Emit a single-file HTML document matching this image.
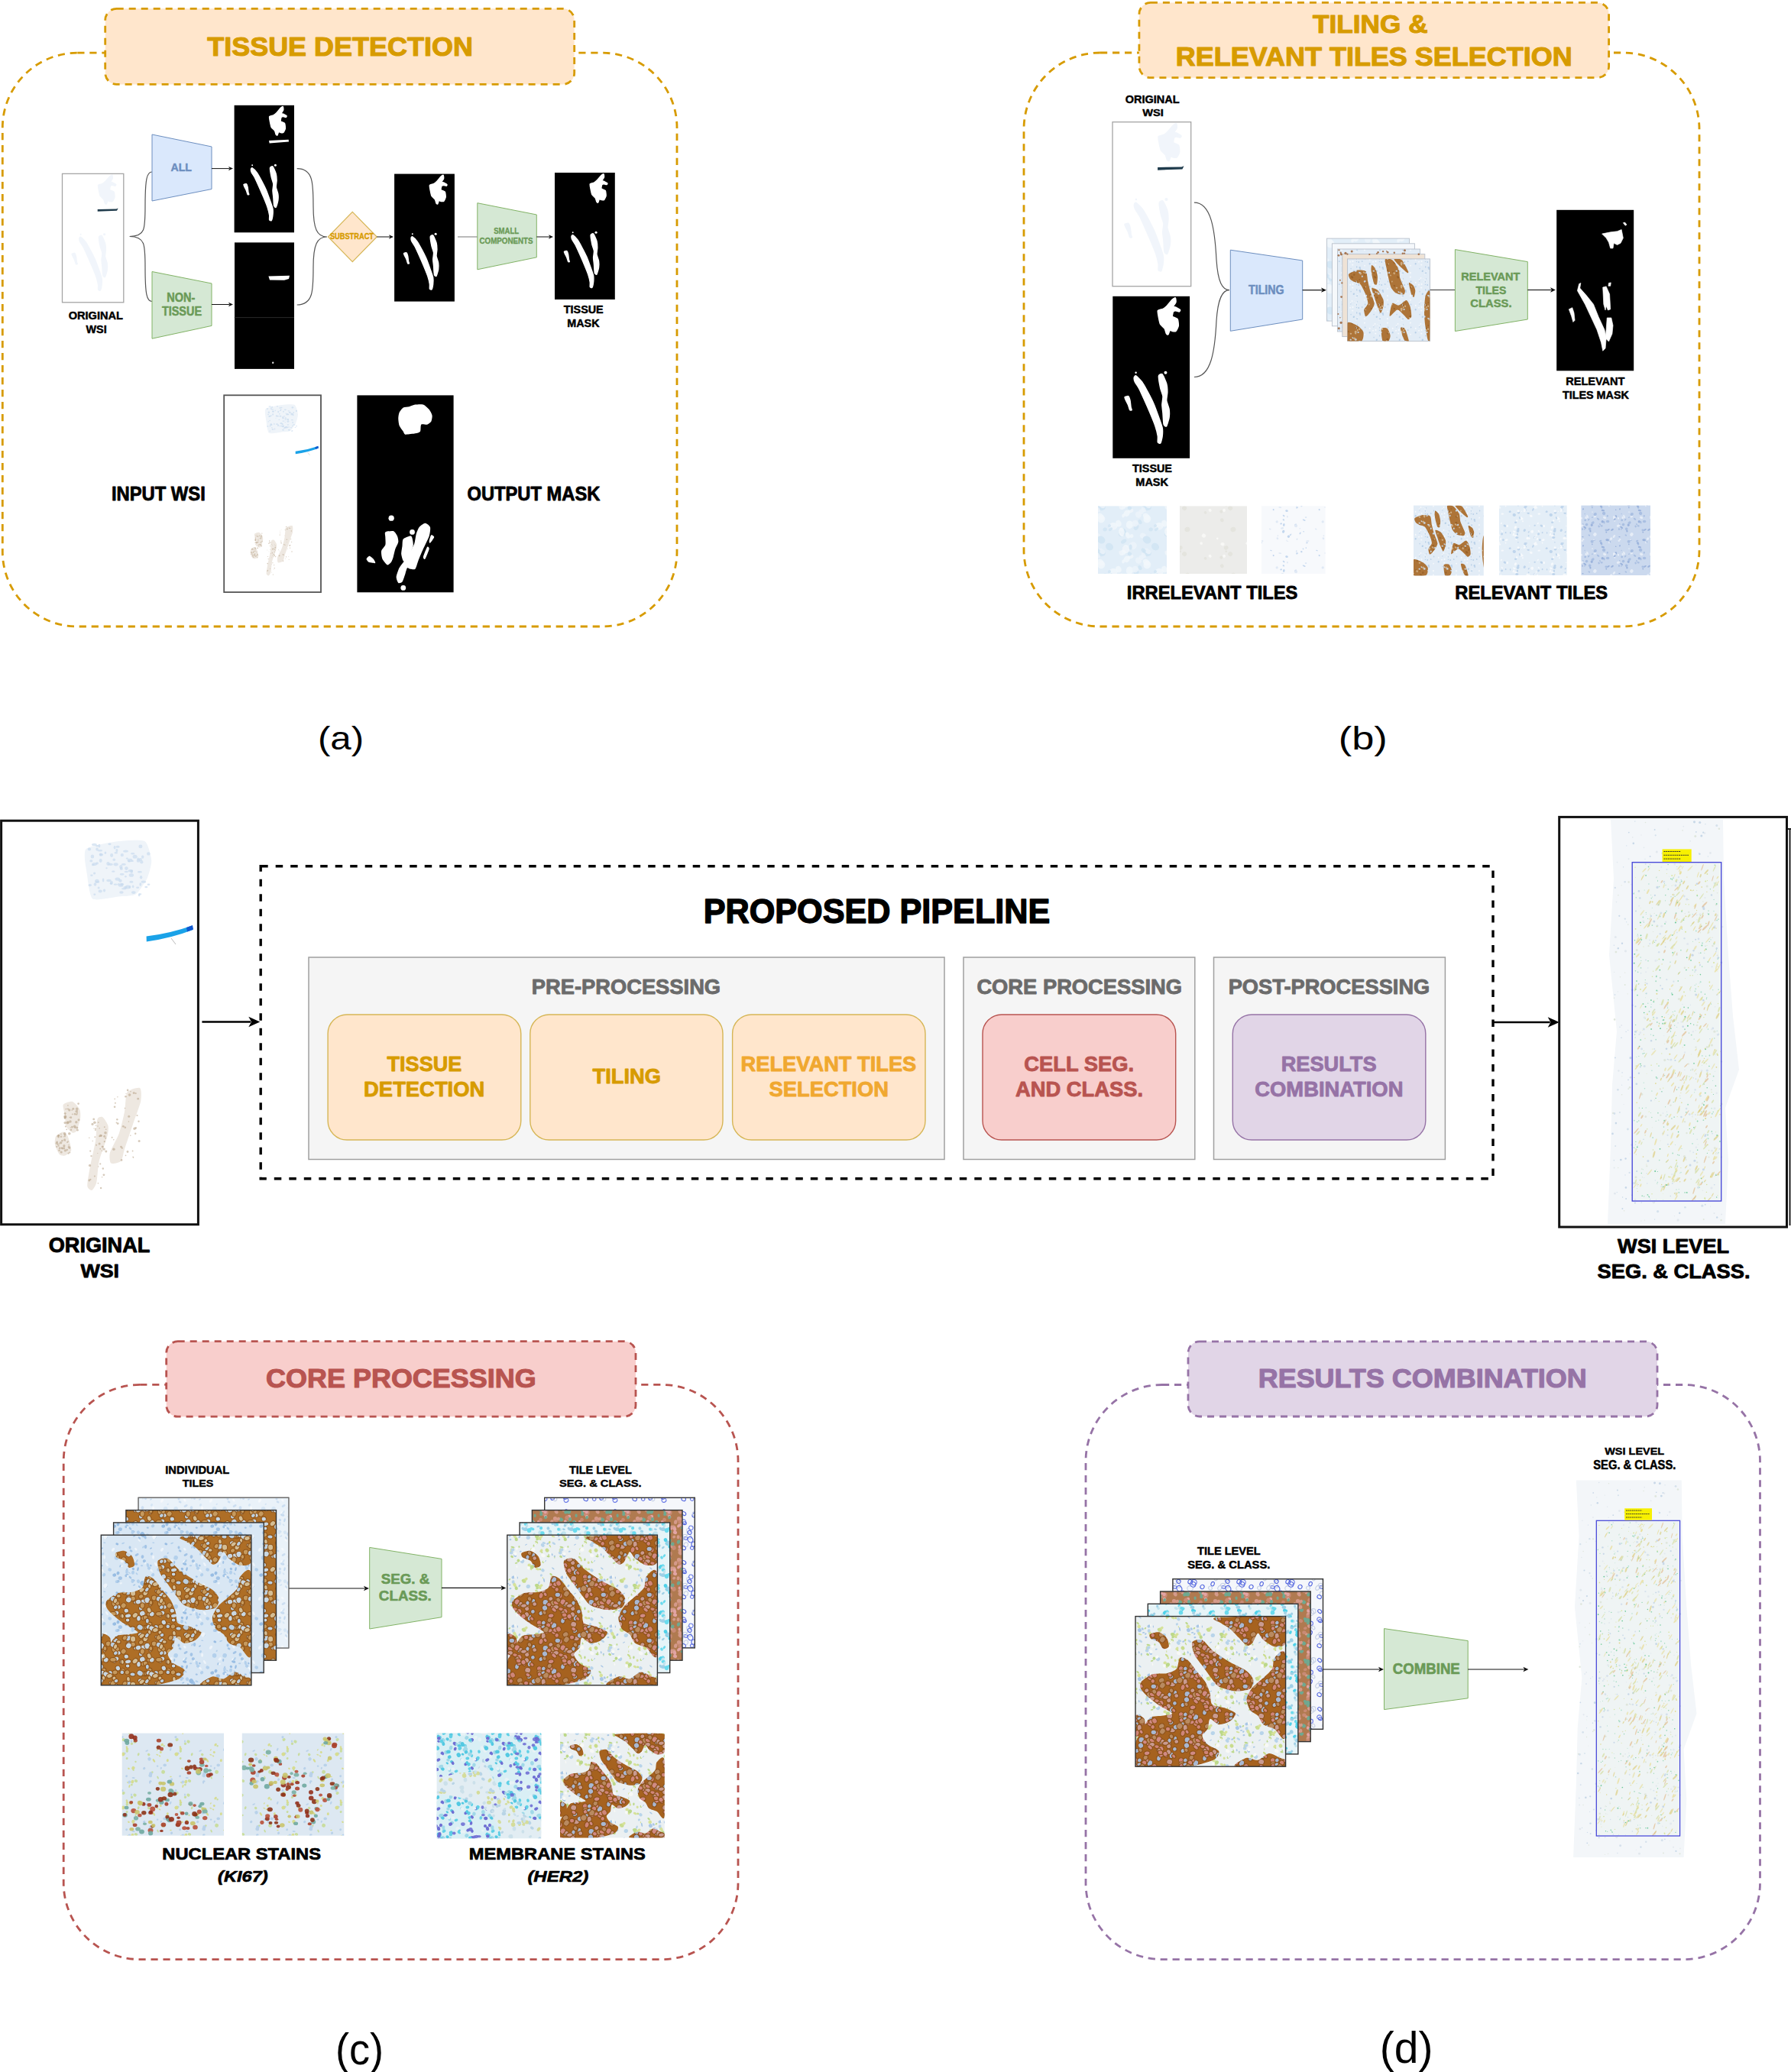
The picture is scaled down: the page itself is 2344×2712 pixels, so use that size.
<!DOCTYPE html>
<html><head><meta charset="utf-8"><style>
html,body{margin:0;padding:0;background:#fff;}
svg{display:block;font-family:"Liberation Sans",sans-serif;}
</style></head><body>
<svg width="2344" height="2712" viewBox="0 0 2344 2712">
<defs><pattern id="pB" width="64" height="64" patternUnits="userSpaceOnUse"><rect width="64" height="64" fill="#d9e7f4"/><ellipse cx="8.6" cy="54.2" rx="2.6" ry="1.5" transform="rotate(89 8.6 54.2)" fill="#eef4fa" opacity="1.0"/><ellipse cx="30.2" cy="24.3" rx="1.7" ry="1.2" transform="rotate(161 30.2 24.3)" fill="#eef4fa" opacity="1.0"/><ellipse cx="27.7" cy="48.8" rx="1.4" ry="0.9" transform="rotate(130 27.7 48.8)" fill="#b3d0ec" opacity="1.0"/><ellipse cx="37.8" cy="6.5" rx="1.9" ry="0.8" transform="rotate(117 37.8 6.5)" fill="#a3c4e6" opacity="1.0"/><ellipse cx="-3.9" cy="24.4" rx="1.7" ry="1.1" transform="rotate(5 -3.9 24.4)" fill="#b3d0ec" opacity="1.0"/><ellipse cx="60.1" cy="24.4" rx="1.7" ry="1.1" transform="rotate(5 60.1 24.4)" fill="#b3d0ec" opacity="1.0"/><ellipse cx="48.9" cy="-3.9" rx="2.3" ry="1.4" transform="rotate(122 48.9 -3.9)" fill="#eef4fa" opacity="1.0"/><ellipse cx="48.9" cy="60.1" rx="2.3" ry="1.4" transform="rotate(122 48.9 60.1)" fill="#eef4fa" opacity="1.0"/><ellipse cx="-3.1" cy="-4.7" rx="2.1" ry="2.0" transform="rotate(166 -3.1 -4.7)" fill="#a3c4e6" opacity="1.0"/><ellipse cx="-3.1" cy="59.3" rx="2.1" ry="2.0" transform="rotate(166 -3.1 59.3)" fill="#a3c4e6" opacity="1.0"/><ellipse cx="60.9" cy="-4.7" rx="2.1" ry="2.0" transform="rotate(166 60.9 -4.7)" fill="#a3c4e6" opacity="1.0"/><ellipse cx="60.9" cy="59.3" rx="2.1" ry="2.0" transform="rotate(166 60.9 59.3)" fill="#a3c4e6" opacity="1.0"/><ellipse cx="11.9" cy="-0.5" rx="2.8" ry="1.3" transform="rotate(60 11.9 -0.5)" fill="#eef4fa" opacity="1.0"/><ellipse cx="11.9" cy="63.5" rx="2.8" ry="1.3" transform="rotate(60 11.9 63.5)" fill="#eef4fa" opacity="1.0"/><ellipse cx="32.5" cy="58.3" rx="1.7" ry="1.0" transform="rotate(175 32.5 58.3)" fill="#eef4fa" opacity="1.0"/><ellipse cx="54.2" cy="32.3" rx="2.3" ry="1.0" transform="rotate(44 54.2 32.3)" fill="#eef4fa" opacity="1.0"/><ellipse cx="26.5" cy="11.1" rx="2.3" ry="1.9" transform="rotate(121 26.5 11.1)" fill="#98bde3" opacity="1.0"/><ellipse cx="5.5" cy="42.5" rx="1.6" ry="0.8" transform="rotate(151 5.5 42.5)" fill="#98bde3" opacity="1.0"/><ellipse cx="31.3" cy="1.9" rx="1.5" ry="1.2" transform="rotate(177 31.3 1.9)" fill="#eef4fa" opacity="1.0"/><ellipse cx="31.3" cy="65.9" rx="1.5" ry="1.2" transform="rotate(177 31.3 65.9)" fill="#eef4fa" opacity="1.0"/><ellipse cx="41.4" cy="10.8" rx="1.8" ry="0.7" transform="rotate(36 41.4 10.8)" fill="#b3d0ec" opacity="1.0"/><ellipse cx="25.9" cy="22.0" rx="2.8" ry="1.7" transform="rotate(164 25.9 22.0)" fill="#a3c4e6" opacity="1.0"/><ellipse cx="24.6" cy="54.8" rx="2.9" ry="2.8" transform="rotate(92 24.6 54.8)" fill="#b3d0ec" opacity="1.0"/><ellipse cx="33.2" cy="35.9" rx="2.1" ry="0.9" transform="rotate(157 33.2 35.9)" fill="#b3d0ec" opacity="1.0"/><ellipse cx="-3.8" cy="26.5" rx="2.7" ry="1.8" transform="rotate(0 -3.8 26.5)" fill="#98bde3" opacity="1.0"/><ellipse cx="60.2" cy="26.5" rx="2.7" ry="1.8" transform="rotate(0 60.2 26.5)" fill="#98bde3" opacity="1.0"/><ellipse cx="29.3" cy="1.8" rx="1.8" ry="0.9" transform="rotate(105 29.3 1.8)" fill="#a3c4e6" opacity="1.0"/><ellipse cx="29.3" cy="65.8" rx="1.8" ry="0.9" transform="rotate(105 29.3 65.8)" fill="#a3c4e6" opacity="1.0"/><ellipse cx="51.1" cy="51.0" rx="2.7" ry="1.5" transform="rotate(152 51.1 51.0)" fill="#a3c4e6" opacity="1.0"/><ellipse cx="5.3" cy="1.1" rx="1.4" ry="1.2" transform="rotate(45 5.3 1.1)" fill="#a3c4e6" opacity="1.0"/><ellipse cx="5.3" cy="65.1" rx="1.4" ry="1.2" transform="rotate(45 5.3 65.1)" fill="#a3c4e6" opacity="1.0"/><ellipse cx="51.0" cy="11.8" rx="1.9" ry="0.9" transform="rotate(46 51.0 11.8)" fill="#b3d0ec" opacity="1.0"/><ellipse cx="42.0" cy="41.5" rx="1.9" ry="1.5" transform="rotate(89 42.0 41.5)" fill="#a3c4e6" opacity="1.0"/><ellipse cx="1.5" cy="24.7" rx="2.1" ry="1.1" transform="rotate(20 1.5 24.7)" fill="#b3d0ec" opacity="1.0"/><ellipse cx="65.5" cy="24.7" rx="2.1" ry="1.1" transform="rotate(20 65.5 24.7)" fill="#b3d0ec" opacity="1.0"/><ellipse cx="-2.2" cy="27.6" rx="3.0" ry="1.6" transform="rotate(72 -2.2 27.6)" fill="#a3c4e6" opacity="1.0"/><ellipse cx="61.8" cy="27.6" rx="3.0" ry="1.6" transform="rotate(72 61.8 27.6)" fill="#a3c4e6" opacity="1.0"/><ellipse cx="46.0" cy="10.3" rx="2.5" ry="2.0" transform="rotate(98 46.0 10.3)" fill="#b3d0ec" opacity="1.0"/><ellipse cx="-1.5" cy="40.4" rx="2.5" ry="1.7" transform="rotate(94 -1.5 40.4)" fill="#a3c4e6" opacity="1.0"/><ellipse cx="62.5" cy="40.4" rx="2.5" ry="1.7" transform="rotate(94 62.5 40.4)" fill="#a3c4e6" opacity="1.0"/><ellipse cx="25.3" cy="36.9" rx="1.9" ry="1.5" transform="rotate(11 25.3 36.9)" fill="#98bde3" opacity="1.0"/><ellipse cx="8.0" cy="13.6" rx="1.5" ry="0.7" transform="rotate(14 8.0 13.6)" fill="#98bde3" opacity="1.0"/><ellipse cx="47.6" cy="26.6" rx="1.8" ry="0.7" transform="rotate(158 47.6 26.6)" fill="#a3c4e6" opacity="1.0"/><ellipse cx="37.8" cy="13.9" rx="2.8" ry="1.9" transform="rotate(149 37.8 13.9)" fill="#a3c4e6" opacity="1.0"/><ellipse cx="24.2" cy="22.2" rx="1.7" ry="1.4" transform="rotate(78 24.2 22.2)" fill="#b3d0ec" opacity="1.0"/><ellipse cx="31.5" cy="-4.0" rx="2.0" ry="1.4" transform="rotate(3 31.5 -4.0)" fill="#eef4fa" opacity="1.0"/><ellipse cx="31.5" cy="60.0" rx="2.0" ry="1.4" transform="rotate(3 31.5 60.0)" fill="#eef4fa" opacity="1.0"/><ellipse cx="57.6" cy="1.2" rx="1.7" ry="1.0" transform="rotate(178 57.6 1.2)" fill="#b3d0ec" opacity="1.0"/><ellipse cx="57.6" cy="65.2" rx="1.7" ry="1.0" transform="rotate(178 57.6 65.2)" fill="#b3d0ec" opacity="1.0"/><ellipse cx="21.7" cy="13.6" rx="2.5" ry="2.2" transform="rotate(168 21.7 13.6)" fill="#98bde3" opacity="1.0"/><ellipse cx="58.5" cy="53.6" rx="2.3" ry="1.9" transform="rotate(96 58.5 53.6)" fill="#a3c4e6" opacity="1.0"/><ellipse cx="46.4" cy="5.4" rx="1.7" ry="1.6" transform="rotate(38 46.4 5.4)" fill="#98bde3" opacity="1.0"/><ellipse cx="38.4" cy="53.8" rx="2.0" ry="1.2" transform="rotate(52 38.4 53.8)" fill="#eef4fa" opacity="1.0"/><ellipse cx="8.7" cy="35.3" rx="1.6" ry="0.7" transform="rotate(13 8.7 35.3)" fill="#b3d0ec" opacity="1.0"/><ellipse cx="53.0" cy="21.8" rx="2.4" ry="2.1" transform="rotate(68 53.0 21.8)" fill="#b3d0ec" opacity="1.0"/><ellipse cx="36.2" cy="-3.1" rx="2.0" ry="1.1" transform="rotate(96 36.2 -3.1)" fill="#a3c4e6" opacity="1.0"/><ellipse cx="36.2" cy="60.9" rx="2.0" ry="1.1" transform="rotate(96 36.2 60.9)" fill="#a3c4e6" opacity="1.0"/><ellipse cx="29.3" cy="17.7" rx="2.7" ry="2.4" transform="rotate(2 29.3 17.7)" fill="#a3c4e6" opacity="1.0"/><ellipse cx="5.9" cy="7.4" rx="2.8" ry="1.2" transform="rotate(43 5.9 7.4)" fill="#eef4fa" opacity="1.0"/><ellipse cx="10.4" cy="28.9" rx="2.5" ry="1.2" transform="rotate(152 10.4 28.9)" fill="#eef4fa" opacity="1.0"/><ellipse cx="58.3" cy="24.2" rx="3.0" ry="2.8" transform="rotate(53 58.3 24.2)" fill="#98bde3" opacity="1.0"/><ellipse cx="45.5" cy="20.1" rx="1.7" ry="1.0" transform="rotate(5 45.5 20.1)" fill="#98bde3" opacity="1.0"/><ellipse cx="46.5" cy="20.5" rx="2.0" ry="1.3" transform="rotate(12 46.5 20.5)" fill="#98bde3" opacity="1.0"/><ellipse cx="-1.9" cy="-1.9" rx="1.6" ry="0.8" transform="rotate(111 -1.9 -1.9)" fill="#eef4fa" opacity="1.0"/><ellipse cx="-1.9" cy="62.1" rx="1.6" ry="0.8" transform="rotate(111 -1.9 62.1)" fill="#eef4fa" opacity="1.0"/><ellipse cx="62.1" cy="-1.9" rx="1.6" ry="0.8" transform="rotate(111 62.1 -1.9)" fill="#eef4fa" opacity="1.0"/><ellipse cx="62.1" cy="62.1" rx="1.6" ry="0.8" transform="rotate(111 62.1 62.1)" fill="#eef4fa" opacity="1.0"/><ellipse cx="42.4" cy="16.6" rx="2.3" ry="1.3" transform="rotate(44 42.4 16.6)" fill="#a3c4e6" opacity="1.0"/><ellipse cx="52.5" cy="5.7" rx="2.6" ry="1.2" transform="rotate(103 52.5 5.7)" fill="#98bde3" opacity="1.0"/><ellipse cx="-3.8" cy="25.0" rx="1.9" ry="1.1" transform="rotate(57 -3.8 25.0)" fill="#98bde3" opacity="1.0"/><ellipse cx="60.2" cy="25.0" rx="1.9" ry="1.1" transform="rotate(57 60.2 25.0)" fill="#98bde3" opacity="1.0"/><ellipse cx="15.7" cy="6.5" rx="2.4" ry="2.1" transform="rotate(17 15.7 6.5)" fill="#b3d0ec" opacity="1.0"/><ellipse cx="1.3" cy="15.6" rx="1.5" ry="1.1" transform="rotate(13 1.3 15.6)" fill="#a3c4e6" opacity="1.0"/><ellipse cx="65.3" cy="15.6" rx="1.5" ry="1.1" transform="rotate(13 65.3 15.6)" fill="#a3c4e6" opacity="1.0"/><ellipse cx="1.4" cy="0.6" rx="2.6" ry="1.6" transform="rotate(84 1.4 0.6)" fill="#b3d0ec" opacity="1.0"/><ellipse cx="1.4" cy="64.6" rx="2.6" ry="1.6" transform="rotate(84 1.4 64.6)" fill="#b3d0ec" opacity="1.0"/><ellipse cx="65.4" cy="0.6" rx="2.6" ry="1.6" transform="rotate(84 65.4 0.6)" fill="#b3d0ec" opacity="1.0"/><ellipse cx="65.4" cy="64.6" rx="2.6" ry="1.6" transform="rotate(84 65.4 64.6)" fill="#b3d0ec" opacity="1.0"/><ellipse cx="6.5" cy="49.8" rx="1.9" ry="1.4" transform="rotate(120 6.5 49.8)" fill="#b3d0ec" opacity="1.0"/><ellipse cx="49.7" cy="-1.0" rx="2.7" ry="1.6" transform="rotate(19 49.7 -1.0)" fill="#98bde3" opacity="1.0"/><ellipse cx="49.7" cy="63.0" rx="2.7" ry="1.6" transform="rotate(19 49.7 63.0)" fill="#98bde3" opacity="1.0"/><ellipse cx="8.1" cy="13.2" rx="2.3" ry="1.9" transform="rotate(140 8.1 13.2)" fill="#b3d0ec" opacity="1.0"/><ellipse cx="11.4" cy="27.7" rx="1.7" ry="1.4" transform="rotate(120 11.4 27.7)" fill="#98bde3" opacity="1.0"/><ellipse cx="49.8" cy="43.7" rx="2.1" ry="1.4" transform="rotate(45 49.8 43.7)" fill="#eef4fa" opacity="1.0"/><ellipse cx="54.5" cy="29.0" rx="2.0" ry="1.2" transform="rotate(46 54.5 29.0)" fill="#a3c4e6" opacity="1.0"/><ellipse cx="50.8" cy="-4.3" rx="3.0" ry="1.2" transform="rotate(125 50.8 -4.3)" fill="#b3d0ec" opacity="1.0"/><ellipse cx="50.8" cy="59.7" rx="3.0" ry="1.2" transform="rotate(125 50.8 59.7)" fill="#b3d0ec" opacity="1.0"/><ellipse cx="38.0" cy="8.9" rx="3.0" ry="1.7" transform="rotate(102 38.0 8.9)" fill="#b3d0ec" opacity="1.0"/><ellipse cx="39.2" cy="14.9" rx="1.4" ry="1.0" transform="rotate(90 39.2 14.9)" fill="#eef4fa" opacity="1.0"/><ellipse cx="-4.5" cy="40.9" rx="1.8" ry="1.0" transform="rotate(124 -4.5 40.9)" fill="#b3d0ec" opacity="1.0"/><ellipse cx="59.5" cy="40.9" rx="1.8" ry="1.0" transform="rotate(124 59.5 40.9)" fill="#b3d0ec" opacity="1.0"/><ellipse cx="45.6" cy="21.6" rx="2.4" ry="2.0" transform="rotate(118 45.6 21.6)" fill="#b3d0ec" opacity="1.0"/><ellipse cx="3.1" cy="4.6" rx="2.2" ry="2.1" transform="rotate(29 3.1 4.6)" fill="#b3d0ec" opacity="1.0"/><ellipse cx="3.1" cy="68.6" rx="2.2" ry="2.1" transform="rotate(29 3.1 68.6)" fill="#b3d0ec" opacity="1.0"/><ellipse cx="67.1" cy="4.6" rx="2.2" ry="2.1" transform="rotate(29 67.1 4.6)" fill="#b3d0ec" opacity="1.0"/><ellipse cx="67.1" cy="68.6" rx="2.2" ry="2.1" transform="rotate(29 67.1 68.6)" fill="#b3d0ec" opacity="1.0"/><ellipse cx="20.0" cy="44.3" rx="2.8" ry="1.7" transform="rotate(126 20.0 44.3)" fill="#eef4fa" opacity="1.0"/><ellipse cx="38.1" cy="54.8" rx="2.8" ry="2.8" transform="rotate(103 38.1 54.8)" fill="#b3d0ec" opacity="1.0"/><ellipse cx="10.0" cy="27.3" rx="2.9" ry="2.4" transform="rotate(141 10.0 27.3)" fill="#eef4fa" opacity="1.0"/><ellipse cx="43.6" cy="45.9" rx="2.0" ry="1.4" transform="rotate(30 43.6 45.9)" fill="#a3c4e6" opacity="1.0"/></pattern><pattern id="pBr" width="60" height="60" patternUnits="userSpaceOnUse"><rect width="60" height="60" fill="#ae6e26"/><ellipse cx="-2.6" cy="-3.1" rx="2.9" ry="2.0" transform="rotate(150 -2.6 -3.1)" fill="#bccfe0" stroke="#8f5418" stroke-width="1.1"/><ellipse cx="-2.6" cy="56.9" rx="2.9" ry="2.0" transform="rotate(150 -2.6 56.9)" fill="#bccfe0" stroke="#8f5418" stroke-width="1.1"/><ellipse cx="57.4" cy="-3.1" rx="2.9" ry="2.0" transform="rotate(150 57.4 -3.1)" fill="#bccfe0" stroke="#8f5418" stroke-width="1.1"/><ellipse cx="57.4" cy="56.9" rx="2.9" ry="2.0" transform="rotate(150 57.4 56.9)" fill="#bccfe0" stroke="#8f5418" stroke-width="1.1"/><ellipse cx="15.1" cy="12.7" rx="2.9" ry="2.5" transform="rotate(180 15.1 12.7)" fill="#c69a5e" stroke="#8f5418" stroke-width="1.1"/><ellipse cx="48.2" cy="51.6" rx="3.5" ry="2.7" transform="rotate(168 48.2 51.6)" fill="#bccfe0" stroke="#8f5418" stroke-width="1.1"/><ellipse cx="-5.9" cy="52.3" rx="3.3" ry="3.2" transform="rotate(163 -5.9 52.3)" fill="#c69a5e" stroke="#8f5418" stroke-width="1.1"/><ellipse cx="54.1" cy="52.3" rx="3.3" ry="3.2" transform="rotate(163 54.1 52.3)" fill="#c69a5e" stroke="#8f5418" stroke-width="1.1"/><ellipse cx="53.5" cy="31.5" rx="3.6" ry="2.6" transform="rotate(4 53.5 31.5)" fill="#bccfe0" stroke="#8f5418" stroke-width="1.1"/><ellipse cx="10.4" cy="30.6" rx="3.3" ry="2.7" transform="rotate(101 10.4 30.6)" fill="#c69a5e" stroke="#8f5418" stroke-width="1.1"/><ellipse cx="47.8" cy="44.1" rx="4.1" ry="3.7" transform="rotate(142 47.8 44.1)" fill="#bccfe0" stroke="#8f5418" stroke-width="1.1"/><ellipse cx="21.7" cy="51.5" rx="3.4" ry="3.4" transform="rotate(72 21.7 51.5)" fill="#c69a5e" stroke="#8f5418" stroke-width="1.1"/><ellipse cx="39.3" cy="15.0" rx="3.2" ry="2.6" transform="rotate(93 39.3 15.0)" fill="#bccfe0" stroke="#8f5418" stroke-width="1.1"/><ellipse cx="39.7" cy="27.3" rx="4.1" ry="3.1" transform="rotate(131 39.7 27.3)" fill="#c69a5e" stroke="#8f5418" stroke-width="1.1"/><ellipse cx="29.2" cy="13.3" rx="3.3" ry="2.9" transform="rotate(30 29.2 13.3)" fill="#bccfe0" stroke="#8f5418" stroke-width="1.1"/><ellipse cx="46.4" cy="28.8" rx="3.2" ry="3.0" transform="rotate(150 46.4 28.8)" fill="#c69a5e" stroke="#8f5418" stroke-width="1.1"/><ellipse cx="18.7" cy="12.5" rx="3.5" ry="3.4" transform="rotate(112 18.7 12.5)" fill="#c9d7e2" stroke="#8f5418" stroke-width="1.1"/><ellipse cx="47.1" cy="20.5" rx="2.8" ry="2.6" transform="rotate(179 47.1 20.5)" fill="#c9d7e2" stroke="#8f5418" stroke-width="1.1"/><ellipse cx="3.5" cy="39.2" rx="3.2" ry="2.3" transform="rotate(158 3.5 39.2)" fill="#c9d7e2" stroke="#8f5418" stroke-width="1.1"/><ellipse cx="63.5" cy="39.2" rx="3.2" ry="2.3" transform="rotate(158 63.5 39.2)" fill="#c9d7e2" stroke="#8f5418" stroke-width="1.1"/><ellipse cx="45.3" cy="8.2" rx="3.2" ry="3.0" transform="rotate(170 45.3 8.2)" fill="#c9d7e2" stroke="#8f5418" stroke-width="1.1"/><ellipse cx="25.4" cy="43.0" rx="2.8" ry="2.2" transform="rotate(31 25.4 43.0)" fill="#c9d7e2" stroke="#8f5418" stroke-width="1.1"/><ellipse cx="5.0" cy="-2.7" rx="2.8" ry="2.6" transform="rotate(4 5.0 -2.7)" fill="#bccfe0" stroke="#8f5418" stroke-width="1.1"/><ellipse cx="5.0" cy="57.3" rx="2.8" ry="2.6" transform="rotate(4 5.0 57.3)" fill="#bccfe0" stroke="#8f5418" stroke-width="1.1"/><ellipse cx="65.0" cy="-2.7" rx="2.8" ry="2.6" transform="rotate(4 65.0 -2.7)" fill="#bccfe0" stroke="#8f5418" stroke-width="1.1"/><ellipse cx="65.0" cy="57.3" rx="2.8" ry="2.6" transform="rotate(4 65.0 57.3)" fill="#bccfe0" stroke="#8f5418" stroke-width="1.1"/><ellipse cx="7.7" cy="-3.8" rx="3.8" ry="3.2" transform="rotate(0 7.7 -3.8)" fill="#c9d7e2" stroke="#8f5418" stroke-width="1.1"/><ellipse cx="7.7" cy="56.2" rx="3.8" ry="3.2" transform="rotate(0 7.7 56.2)" fill="#c9d7e2" stroke="#8f5418" stroke-width="1.1"/><ellipse cx="47.6" cy="14.9" rx="4.2" ry="2.7" transform="rotate(169 47.6 14.9)" fill="#c9d7e2" stroke="#8f5418" stroke-width="1.1"/><ellipse cx="17.2" cy="29.3" rx="3.2" ry="2.7" transform="rotate(109 17.2 29.3)" fill="#c9d7e2" stroke="#8f5418" stroke-width="1.1"/><ellipse cx="-5.9" cy="45.3" rx="4.0" ry="3.6" transform="rotate(85 -5.9 45.3)" fill="#d4bd94" stroke="#8f5418" stroke-width="1.1"/><ellipse cx="54.1" cy="45.3" rx="4.0" ry="3.6" transform="rotate(85 54.1 45.3)" fill="#d4bd94" stroke="#8f5418" stroke-width="1.1"/><ellipse cx="5.6" cy="41.2" rx="4.0" ry="2.6" transform="rotate(142 5.6 41.2)" fill="#d4bd94" stroke="#8f5418" stroke-width="1.1"/><ellipse cx="65.6" cy="41.2" rx="4.0" ry="2.6" transform="rotate(142 65.6 41.2)" fill="#d4bd94" stroke="#8f5418" stroke-width="1.1"/><ellipse cx="31.1" cy="46.9" rx="3.5" ry="2.7" transform="rotate(157 31.1 46.9)" fill="#bccfe0" stroke="#8f5418" stroke-width="1.1"/><ellipse cx="15.5" cy="36.4" rx="3.4" ry="2.2" transform="rotate(100 15.5 36.4)" fill="#d4bd94" stroke="#8f5418" stroke-width="1.1"/><ellipse cx="40.2" cy="15.2" rx="3.0" ry="2.1" transform="rotate(82 40.2 15.2)" fill="#d4bd94" stroke="#8f5418" stroke-width="1.1"/><ellipse cx="30.5" cy="-1.0" rx="4.1" ry="4.1" transform="rotate(42 30.5 -1.0)" fill="#c69a5e" stroke="#8f5418" stroke-width="1.1"/><ellipse cx="30.5" cy="59.0" rx="4.1" ry="4.1" transform="rotate(42 30.5 59.0)" fill="#c69a5e" stroke="#8f5418" stroke-width="1.1"/><ellipse cx="4.4" cy="4.8" rx="3.1" ry="2.9" transform="rotate(112 4.4 4.8)" fill="#bccfe0" stroke="#8f5418" stroke-width="1.1"/><ellipse cx="4.4" cy="64.8" rx="3.1" ry="2.9" transform="rotate(112 4.4 64.8)" fill="#bccfe0" stroke="#8f5418" stroke-width="1.1"/><ellipse cx="64.4" cy="4.8" rx="3.1" ry="2.9" transform="rotate(112 64.4 4.8)" fill="#bccfe0" stroke="#8f5418" stroke-width="1.1"/><ellipse cx="64.4" cy="64.8" rx="3.1" ry="2.9" transform="rotate(112 64.4 64.8)" fill="#bccfe0" stroke="#8f5418" stroke-width="1.1"/><ellipse cx="15.4" cy="25.4" rx="3.5" ry="2.3" transform="rotate(6 15.4 25.4)" fill="#c69a5e" stroke="#8f5418" stroke-width="1.1"/><ellipse cx="9.6" cy="30.7" rx="2.9" ry="2.0" transform="rotate(4 9.6 30.7)" fill="#d4bd94" stroke="#8f5418" stroke-width="1.1"/><ellipse cx="6.3" cy="1.5" rx="3.7" ry="3.0" transform="rotate(96 6.3 1.5)" fill="#c69a5e" stroke="#8f5418" stroke-width="1.1"/><ellipse cx="6.3" cy="61.5" rx="3.7" ry="3.0" transform="rotate(96 6.3 61.5)" fill="#c69a5e" stroke="#8f5418" stroke-width="1.1"/><ellipse cx="12.7" cy="-5.6" rx="4.1" ry="3.8" transform="rotate(78 12.7 -5.6)" fill="#c9d7e2" stroke="#8f5418" stroke-width="1.1"/><ellipse cx="12.7" cy="54.4" rx="4.1" ry="3.8" transform="rotate(78 12.7 54.4)" fill="#c9d7e2" stroke="#8f5418" stroke-width="1.1"/><ellipse cx="34.9" cy="3.1" rx="3.4" ry="2.8" transform="rotate(33 34.9 3.1)" fill="#c9d7e2" stroke="#8f5418" stroke-width="1.1"/><ellipse cx="34.9" cy="63.1" rx="3.4" ry="2.8" transform="rotate(33 34.9 63.1)" fill="#c9d7e2" stroke="#8f5418" stroke-width="1.1"/><ellipse cx="39.8" cy="28.8" rx="2.8" ry="2.8" transform="rotate(21 39.8 28.8)" fill="#bccfe0" stroke="#8f5418" stroke-width="1.1"/><ellipse cx="17.4" cy="-1.0" rx="3.3" ry="2.2" transform="rotate(123 17.4 -1.0)" fill="#c9d7e2" stroke="#8f5418" stroke-width="1.1"/><ellipse cx="17.4" cy="59.0" rx="3.3" ry="2.2" transform="rotate(123 17.4 59.0)" fill="#c9d7e2" stroke="#8f5418" stroke-width="1.1"/><ellipse cx="6.3" cy="11.9" rx="3.9" ry="3.6" transform="rotate(146 6.3 11.9)" fill="#c9d7e2" stroke="#8f5418" stroke-width="1.1"/><ellipse cx="24.6" cy="29.2" rx="3.1" ry="2.6" transform="rotate(13 24.6 29.2)" fill="#bccfe0" stroke="#8f5418" stroke-width="1.1"/><ellipse cx="1.4" cy="18.3" rx="3.8" ry="2.8" transform="rotate(88 1.4 18.3)" fill="#c9d7e2" stroke="#8f5418" stroke-width="1.1"/><ellipse cx="61.4" cy="18.3" rx="3.8" ry="2.8" transform="rotate(88 61.4 18.3)" fill="#c9d7e2" stroke="#8f5418" stroke-width="1.1"/><ellipse cx="34.3" cy="23.5" rx="3.4" ry="3.2" transform="rotate(71 34.3 23.5)" fill="#c9d7e2" stroke="#8f5418" stroke-width="1.1"/><ellipse cx="15.2" cy="7.4" rx="3.7" ry="2.8" transform="rotate(70 15.2 7.4)" fill="#d4bd94" stroke="#8f5418" stroke-width="1.1"/><ellipse cx="41.6" cy="1.5" rx="3.7" ry="3.4" transform="rotate(130 41.6 1.5)" fill="#c69a5e" stroke="#8f5418" stroke-width="1.1"/><ellipse cx="41.6" cy="61.5" rx="3.7" ry="3.4" transform="rotate(130 41.6 61.5)" fill="#c69a5e" stroke="#8f5418" stroke-width="1.1"/><ellipse cx="17.4" cy="-2.4" rx="3.0" ry="2.3" transform="rotate(87 17.4 -2.4)" fill="#c69a5e" stroke="#8f5418" stroke-width="1.1"/><ellipse cx="17.4" cy="57.6" rx="3.0" ry="2.3" transform="rotate(87 17.4 57.6)" fill="#c69a5e" stroke="#8f5418" stroke-width="1.1"/><ellipse cx="43.2" cy="43.7" rx="3.4" ry="2.8" transform="rotate(122 43.2 43.7)" fill="#c69a5e" stroke="#8f5418" stroke-width="1.1"/><ellipse cx="13.9" cy="29.3" rx="3.2" ry="2.5" transform="rotate(122 13.9 29.3)" fill="#c9d7e2" stroke="#8f5418" stroke-width="1.1"/><ellipse cx="35.2" cy="49.1" rx="2.9" ry="2.3" transform="rotate(180 35.2 49.1)" fill="#d4bd94" stroke="#8f5418" stroke-width="1.1"/><ellipse cx="48.4" cy="-6.1" rx="3.9" ry="3.8" transform="rotate(123 48.4 -6.1)" fill="#c9d7e2" stroke="#8f5418" stroke-width="1.1"/><ellipse cx="48.4" cy="53.9" rx="3.9" ry="3.8" transform="rotate(123 48.4 53.9)" fill="#c9d7e2" stroke="#8f5418" stroke-width="1.1"/><ellipse cx="7.7" cy="17.8" rx="3.1" ry="2.8" transform="rotate(123 7.7 17.8)" fill="#c69a5e" stroke="#8f5418" stroke-width="1.1"/><ellipse cx="10.4" cy="17.2" rx="3.0" ry="3.0" transform="rotate(174 10.4 17.2)" fill="#c69a5e" stroke="#8f5418" stroke-width="1.1"/><ellipse cx="5.8" cy="31.0" rx="3.8" ry="2.8" transform="rotate(161 5.8 31.0)" fill="#c69a5e" stroke="#8f5418" stroke-width="1.1"/><ellipse cx="65.8" cy="31.0" rx="3.8" ry="2.8" transform="rotate(161 65.8 31.0)" fill="#c69a5e" stroke="#8f5418" stroke-width="1.1"/><ellipse cx="-3.2" cy="14.1" rx="4.0" ry="3.1" transform="rotate(138 -3.2 14.1)" fill="#d4bd94" stroke="#8f5418" stroke-width="1.1"/><ellipse cx="56.8" cy="14.1" rx="4.0" ry="3.1" transform="rotate(138 56.8 14.1)" fill="#d4bd94" stroke="#8f5418" stroke-width="1.1"/><ellipse cx="28.0" cy="43.1" rx="3.9" ry="3.1" transform="rotate(133 28.0 43.1)" fill="#c69a5e" stroke="#8f5418" stroke-width="1.1"/><ellipse cx="30.6" cy="28.9" rx="3.4" ry="3.0" transform="rotate(169 30.6 28.9)" fill="#c69a5e" stroke="#8f5418" stroke-width="1.1"/><ellipse cx="21.6" cy="32.9" rx="3.8" ry="3.7" transform="rotate(15 21.6 32.9)" fill="#d4bd94" stroke="#8f5418" stroke-width="1.1"/><ellipse cx="32.0" cy="11.3" rx="3.9" ry="3.1" transform="rotate(159 32.0 11.3)" fill="#c9d7e2" stroke="#8f5418" stroke-width="1.1"/><ellipse cx="18.8" cy="31.4" rx="4.1" ry="3.3" transform="rotate(32 18.8 31.4)" fill="#c9d7e2" stroke="#8f5418" stroke-width="1.1"/><ellipse cx="1.0" cy="-3.4" rx="3.8" ry="3.3" transform="rotate(163 1.0 -3.4)" fill="#c9d7e2" stroke="#8f5418" stroke-width="1.1"/><ellipse cx="1.0" cy="56.6" rx="3.8" ry="3.3" transform="rotate(163 1.0 56.6)" fill="#c9d7e2" stroke="#8f5418" stroke-width="1.1"/><ellipse cx="61.0" cy="-3.4" rx="3.8" ry="3.3" transform="rotate(163 61.0 -3.4)" fill="#c9d7e2" stroke="#8f5418" stroke-width="1.1"/><ellipse cx="61.0" cy="56.6" rx="3.8" ry="3.3" transform="rotate(163 61.0 56.6)" fill="#c9d7e2" stroke="#8f5418" stroke-width="1.1"/><ellipse cx="23.4" cy="33.5" rx="3.9" ry="2.9" transform="rotate(166 23.4 33.5)" fill="#d4bd94" stroke="#8f5418" stroke-width="1.1"/><ellipse cx="29.4" cy="36.7" rx="2.8" ry="2.5" transform="rotate(87 29.4 36.7)" fill="#d4bd94" stroke="#8f5418" stroke-width="1.1"/><ellipse cx="28.0" cy="12.3" rx="4.2" ry="2.8" transform="rotate(1 28.0 12.3)" fill="#c69a5e" stroke="#8f5418" stroke-width="1.1"/><ellipse cx="32.0" cy="40.1" rx="2.9" ry="2.5" transform="rotate(166 32.0 40.1)" fill="#bccfe0" stroke="#8f5418" stroke-width="1.1"/><ellipse cx="27.6" cy="52.7" rx="3.4" ry="3.4" transform="rotate(110 27.6 52.7)" fill="#bccfe0" stroke="#8f5418" stroke-width="1.1"/><ellipse cx="10.4" cy="45.0" rx="3.9" ry="3.1" transform="rotate(121 10.4 45.0)" fill="#d4bd94" stroke="#8f5418" stroke-width="1.1"/><ellipse cx="3.2" cy="30.0" rx="4.2" ry="3.7" transform="rotate(28 3.2 30.0)" fill="#bccfe0" stroke="#8f5418" stroke-width="1.1"/><ellipse cx="63.2" cy="30.0" rx="4.2" ry="3.7" transform="rotate(28 63.2 30.0)" fill="#bccfe0" stroke="#8f5418" stroke-width="1.1"/><ellipse cx="33.4" cy="-2.0" rx="3.3" ry="2.8" transform="rotate(69 33.4 -2.0)" fill="#c69a5e" stroke="#8f5418" stroke-width="1.1"/><ellipse cx="33.4" cy="58.0" rx="3.3" ry="2.8" transform="rotate(69 33.4 58.0)" fill="#c69a5e" stroke="#8f5418" stroke-width="1.1"/><ellipse cx="12.3" cy="40.6" rx="3.5" ry="2.4" transform="rotate(124 12.3 40.6)" fill="#bccfe0" stroke="#8f5418" stroke-width="1.1"/><ellipse cx="4.6" cy="49.5" rx="3.2" ry="2.8" transform="rotate(143 4.6 49.5)" fill="#c69a5e" stroke="#8f5418" stroke-width="1.1"/><ellipse cx="64.6" cy="49.5" rx="3.2" ry="2.8" transform="rotate(143 64.6 49.5)" fill="#c69a5e" stroke="#8f5418" stroke-width="1.1"/><ellipse cx="31.1" cy="-4.8" rx="3.5" ry="2.5" transform="rotate(107 31.1 -4.8)" fill="#d4bd94" stroke="#8f5418" stroke-width="1.1"/><ellipse cx="31.1" cy="55.2" rx="3.5" ry="2.5" transform="rotate(107 31.1 55.2)" fill="#d4bd94" stroke="#8f5418" stroke-width="1.1"/><ellipse cx="47.9" cy="37.7" rx="3.2" ry="2.4" transform="rotate(82 47.9 37.7)" fill="#d4bd94" stroke="#8f5418" stroke-width="1.1"/><ellipse cx="31.4" cy="3.7" rx="3.0" ry="2.6" transform="rotate(142 31.4 3.7)" fill="#bccfe0" stroke="#8f5418" stroke-width="1.1"/><ellipse cx="31.4" cy="63.7" rx="3.0" ry="2.6" transform="rotate(142 31.4 63.7)" fill="#bccfe0" stroke="#8f5418" stroke-width="1.1"/><ellipse cx="12.8" cy="21.4" rx="3.3" ry="2.5" transform="rotate(90 12.8 21.4)" fill="#bccfe0" stroke="#8f5418" stroke-width="1.1"/></pattern><pattern id="pBG" width="64" height="64" patternUnits="userSpaceOnUse"><rect width="64" height="64" fill="#ebf0f2"/><ellipse cx="15.2" cy="34.8" rx="1.8" ry="1.3" transform="rotate(113 15.2 34.8)" fill="#c9dc8c" opacity="1.0"/><ellipse cx="38.8" cy="58.2" rx="2.0" ry="1.4" transform="rotate(35 38.8 58.2)" fill="#bcd88a" opacity="1.0"/><ellipse cx="30.1" cy="53.5" rx="2.0" ry="1.5" transform="rotate(27 30.1 53.5)" fill="#bcd88a" opacity="1.0"/><ellipse cx="9.7" cy="-4.7" rx="1.8" ry="0.7" transform="rotate(140 9.7 -4.7)" fill="#b8d4ea" opacity="1.0"/><ellipse cx="9.7" cy="59.3" rx="1.8" ry="0.7" transform="rotate(140 9.7 59.3)" fill="#b8d4ea" opacity="1.0"/><ellipse cx="48.5" cy="37.8" rx="1.7" ry="0.6" transform="rotate(156 48.5 37.8)" fill="#a9c7e6" opacity="1.0"/><ellipse cx="38.1" cy="58.9" rx="1.8" ry="1.6" transform="rotate(77 38.1 58.9)" fill="#bcd88a" opacity="1.0"/><ellipse cx="51.3" cy="28.5" rx="2.7" ry="2.5" transform="rotate(18 51.3 28.5)" fill="#b8d4ea" opacity="1.0"/><ellipse cx="31.7" cy="16.5" rx="2.3" ry="1.9" transform="rotate(154 31.7 16.5)" fill="#a9c7e6" opacity="1.0"/><ellipse cx="32.5" cy="24.7" rx="1.8" ry="1.3" transform="rotate(105 32.5 24.7)" fill="#d6e29a" opacity="1.0"/><ellipse cx="43.6" cy="-4.5" rx="2.6" ry="2.6" transform="rotate(121 43.6 -4.5)" fill="#b8d4ea" opacity="1.0"/><ellipse cx="43.6" cy="59.5" rx="2.6" ry="2.6" transform="rotate(121 43.6 59.5)" fill="#b8d4ea" opacity="1.0"/><ellipse cx="44.7" cy="20.9" rx="2.1" ry="1.5" transform="rotate(19 44.7 20.9)" fill="#bcd88a" opacity="1.0"/><ellipse cx="13.5" cy="53.2" rx="2.1" ry="1.1" transform="rotate(11 13.5 53.2)" fill="#bcd88a" opacity="1.0"/><ellipse cx="-0.7" cy="5.7" rx="2.5" ry="1.5" transform="rotate(27 -0.7 5.7)" fill="#d6e29a" opacity="1.0"/><ellipse cx="63.3" cy="5.7" rx="2.5" ry="1.5" transform="rotate(27 63.3 5.7)" fill="#d6e29a" opacity="1.0"/><ellipse cx="27.3" cy="26.6" rx="1.4" ry="1.0" transform="rotate(137 27.3 26.6)" fill="#a9c7e6" opacity="1.0"/><ellipse cx="46.0" cy="21.2" rx="2.6" ry="2.6" transform="rotate(91 46.0 21.2)" fill="#c9dc8c" opacity="1.0"/><ellipse cx="19.8" cy="4.9" rx="2.2" ry="0.8" transform="rotate(36 19.8 4.9)" fill="#a9c7e6" opacity="1.0"/><ellipse cx="18.7" cy="16.9" rx="2.3" ry="2.3" transform="rotate(61 18.7 16.9)" fill="#d6e29a" opacity="1.0"/><ellipse cx="-2.6" cy="57.4" rx="1.8" ry="1.2" transform="rotate(94 -2.6 57.4)" fill="#bcd88a" opacity="1.0"/><ellipse cx="61.4" cy="57.4" rx="1.8" ry="1.2" transform="rotate(94 61.4 57.4)" fill="#bcd88a" opacity="1.0"/><ellipse cx="55.5" cy="43.6" rx="1.4" ry="1.3" transform="rotate(146 55.5 43.6)" fill="#d6e29a" opacity="1.0"/><ellipse cx="27.6" cy="46.1" rx="1.6" ry="0.9" transform="rotate(176 27.6 46.1)" fill="#f8f9f6" opacity="1.0"/><ellipse cx="19.4" cy="21.7" rx="2.5" ry="2.4" transform="rotate(57 19.4 21.7)" fill="#a9c7e6" opacity="1.0"/><ellipse cx="39.4" cy="40.5" rx="1.3" ry="1.0" transform="rotate(84 39.4 40.5)" fill="#bcd88a" opacity="1.0"/><ellipse cx="58.7" cy="39.0" rx="1.6" ry="1.1" transform="rotate(106 58.7 39.0)" fill="#bcd88a" opacity="1.0"/><ellipse cx="1.4" cy="23.6" rx="2.2" ry="1.2" transform="rotate(108 1.4 23.6)" fill="#b8d4ea" opacity="1.0"/><ellipse cx="65.4" cy="23.6" rx="2.2" ry="1.2" transform="rotate(108 65.4 23.6)" fill="#b8d4ea" opacity="1.0"/><ellipse cx="23.3" cy="20.0" rx="1.8" ry="1.3" transform="rotate(54 23.3 20.0)" fill="#a9c7e6" opacity="1.0"/><ellipse cx="6.7" cy="52.0" rx="2.8" ry="2.2" transform="rotate(24 6.7 52.0)" fill="#f8f9f6" opacity="1.0"/><ellipse cx="14.2" cy="51.4" rx="1.6" ry="0.7" transform="rotate(78 14.2 51.4)" fill="#bcd88a" opacity="1.0"/><ellipse cx="6.2" cy="38.4" rx="2.7" ry="2.1" transform="rotate(40 6.2 38.4)" fill="#b8d4ea" opacity="1.0"/><ellipse cx="5.1" cy="47.5" rx="1.5" ry="1.1" transform="rotate(49 5.1 47.5)" fill="#c9dc8c" opacity="1.0"/><ellipse cx="2.2" cy="-2.7" rx="1.7" ry="1.5" transform="rotate(103 2.2 -2.7)" fill="#d6e29a" opacity="1.0"/><ellipse cx="2.2" cy="61.3" rx="1.7" ry="1.5" transform="rotate(103 2.2 61.3)" fill="#d6e29a" opacity="1.0"/><ellipse cx="66.2" cy="-2.7" rx="1.7" ry="1.5" transform="rotate(103 66.2 -2.7)" fill="#d6e29a" opacity="1.0"/><ellipse cx="66.2" cy="61.3" rx="1.7" ry="1.5" transform="rotate(103 66.2 61.3)" fill="#d6e29a" opacity="1.0"/><ellipse cx="21.8" cy="53.0" rx="1.3" ry="1.0" transform="rotate(106 21.8 53.0)" fill="#a9c7e6" opacity="1.0"/><ellipse cx="18.7" cy="50.8" rx="1.6" ry="0.9" transform="rotate(75 18.7 50.8)" fill="#a9c7e6" opacity="1.0"/><ellipse cx="36.4" cy="2.3" rx="1.9" ry="0.9" transform="rotate(86 36.4 2.3)" fill="#f8f9f6" opacity="1.0"/><ellipse cx="36.4" cy="66.3" rx="1.9" ry="0.9" transform="rotate(86 36.4 66.3)" fill="#f8f9f6" opacity="1.0"/><ellipse cx="-0.8" cy="27.8" rx="2.7" ry="2.6" transform="rotate(40 -0.8 27.8)" fill="#bcd88a" opacity="1.0"/><ellipse cx="63.2" cy="27.8" rx="2.7" ry="2.6" transform="rotate(40 63.2 27.8)" fill="#bcd88a" opacity="1.0"/><ellipse cx="29.2" cy="48.2" rx="2.4" ry="2.3" transform="rotate(98 29.2 48.2)" fill="#b8d4ea" opacity="1.0"/><ellipse cx="55.1" cy="54.9" rx="2.8" ry="1.2" transform="rotate(44 55.1 54.9)" fill="#c9dc8c" opacity="1.0"/><ellipse cx="57.8" cy="44.4" rx="2.7" ry="2.5" transform="rotate(162 57.8 44.4)" fill="#f8f9f6" opacity="1.0"/><ellipse cx="3.2" cy="30.8" rx="1.4" ry="0.9" transform="rotate(43 3.2 30.8)" fill="#c9dc8c" opacity="1.0"/><ellipse cx="67.2" cy="30.8" rx="1.4" ry="0.9" transform="rotate(43 67.2 30.8)" fill="#c9dc8c" opacity="1.0"/><ellipse cx="33.6" cy="26.5" rx="2.7" ry="2.0" transform="rotate(61 33.6 26.5)" fill="#d6e29a" opacity="1.0"/><ellipse cx="-1.8" cy="34.6" rx="2.5" ry="1.0" transform="rotate(40 -1.8 34.6)" fill="#c9dc8c" opacity="1.0"/><ellipse cx="62.2" cy="34.6" rx="2.5" ry="1.0" transform="rotate(40 62.2 34.6)" fill="#c9dc8c" opacity="1.0"/><ellipse cx="34.2" cy="52.3" rx="1.5" ry="1.3" transform="rotate(166 34.2 52.3)" fill="#b8d4ea" opacity="1.0"/><ellipse cx="52.7" cy="0.5" rx="2.2" ry="2.0" transform="rotate(9 52.7 0.5)" fill="#d6e29a" opacity="1.0"/><ellipse cx="52.7" cy="64.5" rx="2.2" ry="2.0" transform="rotate(9 52.7 64.5)" fill="#d6e29a" opacity="1.0"/><ellipse cx="15.9" cy="39.6" rx="2.0" ry="0.8" transform="rotate(58 15.9 39.6)" fill="#c9dc8c" opacity="1.0"/><ellipse cx="54.8" cy="49.6" rx="1.3" ry="0.5" transform="rotate(87 54.8 49.6)" fill="#c9dc8c" opacity="1.0"/><ellipse cx="54.7" cy="5.5" rx="2.0" ry="1.1" transform="rotate(57 54.7 5.5)" fill="#d6e29a" opacity="1.0"/><ellipse cx="24.7" cy="24.9" rx="1.7" ry="0.9" transform="rotate(178 24.7 24.9)" fill="#a9c7e6" opacity="1.0"/><ellipse cx="7.9" cy="35.6" rx="2.3" ry="1.4" transform="rotate(14 7.9 35.6)" fill="#b8d4ea" opacity="1.0"/><ellipse cx="2.7" cy="29.5" rx="2.2" ry="1.6" transform="rotate(115 2.7 29.5)" fill="#c9dc8c" opacity="1.0"/><ellipse cx="66.7" cy="29.5" rx="2.2" ry="1.6" transform="rotate(115 66.7 29.5)" fill="#c9dc8c" opacity="1.0"/><ellipse cx="39.9" cy="27.6" rx="1.8" ry="1.2" transform="rotate(127 39.9 27.6)" fill="#a9c7e6" opacity="1.0"/><ellipse cx="-3.2" cy="26.8" rx="1.2" ry="0.6" transform="rotate(49 -3.2 26.8)" fill="#f8f9f6" opacity="1.0"/><ellipse cx="60.8" cy="26.8" rx="1.2" ry="0.6" transform="rotate(49 60.8 26.8)" fill="#f8f9f6" opacity="1.0"/><ellipse cx="4.6" cy="27.2" rx="1.9" ry="1.7" transform="rotate(169 4.6 27.2)" fill="#d6e29a" opacity="1.0"/><ellipse cx="68.6" cy="27.2" rx="1.9" ry="1.7" transform="rotate(169 68.6 27.2)" fill="#d6e29a" opacity="1.0"/><ellipse cx="-2.0" cy="35.8" rx="2.6" ry="1.1" transform="rotate(124 -2.0 35.8)" fill="#bcd88a" opacity="1.0"/><ellipse cx="62.0" cy="35.8" rx="2.6" ry="1.1" transform="rotate(124 62.0 35.8)" fill="#bcd88a" opacity="1.0"/><ellipse cx="42.4" cy="56.8" rx="2.5" ry="1.9" transform="rotate(132 42.4 56.8)" fill="#f8f9f6" opacity="1.0"/><ellipse cx="34.0" cy="51.9" rx="2.3" ry="1.5" transform="rotate(42 34.0 51.9)" fill="#a9c7e6" opacity="1.0"/><ellipse cx="2.8" cy="5.9" rx="1.4" ry="1.3" transform="rotate(32 2.8 5.9)" fill="#c9dc8c" opacity="1.0"/><ellipse cx="66.8" cy="5.9" rx="1.4" ry="1.3" transform="rotate(32 66.8 5.9)" fill="#c9dc8c" opacity="1.0"/><ellipse cx="21.9" cy="54.5" rx="1.2" ry="0.5" transform="rotate(87 21.9 54.5)" fill="#bcd88a" opacity="1.0"/><ellipse cx="-3.0" cy="37.1" rx="2.5" ry="0.9" transform="rotate(138 -3.0 37.1)" fill="#f8f9f6" opacity="1.0"/><ellipse cx="61.0" cy="37.1" rx="2.5" ry="0.9" transform="rotate(138 61.0 37.1)" fill="#f8f9f6" opacity="1.0"/><ellipse cx="33.9" cy="15.3" rx="2.1" ry="0.9" transform="rotate(100 33.9 15.3)" fill="#f8f9f6" opacity="1.0"/><ellipse cx="20.8" cy="36.1" rx="2.5" ry="1.3" transform="rotate(32 20.8 36.1)" fill="#b8d4ea" opacity="1.0"/><ellipse cx="29.1" cy="44.8" rx="2.7" ry="1.4" transform="rotate(108 29.1 44.8)" fill="#d6e29a" opacity="1.0"/><ellipse cx="35.6" cy="-2.2" rx="1.8" ry="0.9" transform="rotate(167 35.6 -2.2)" fill="#bcd88a" opacity="1.0"/><ellipse cx="35.6" cy="61.8" rx="1.8" ry="0.9" transform="rotate(167 35.6 61.8)" fill="#bcd88a" opacity="1.0"/><ellipse cx="-2.1" cy="26.6" rx="2.1" ry="1.5" transform="rotate(166 -2.1 26.6)" fill="#bcd88a" opacity="1.0"/><ellipse cx="61.9" cy="26.6" rx="2.1" ry="1.5" transform="rotate(166 61.9 26.6)" fill="#bcd88a" opacity="1.0"/><ellipse cx="31.0" cy="41.1" rx="2.6" ry="1.2" transform="rotate(17 31.0 41.1)" fill="#bcd88a" opacity="1.0"/><ellipse cx="30.9" cy="44.7" rx="2.7" ry="2.0" transform="rotate(154 30.9 44.7)" fill="#b8d4ea" opacity="1.0"/><ellipse cx="17.1" cy="12.7" rx="2.1" ry="1.2" transform="rotate(42 17.1 12.7)" fill="#bcd88a" opacity="1.0"/><ellipse cx="34.4" cy="49.9" rx="2.3" ry="2.1" transform="rotate(107 34.4 49.9)" fill="#f8f9f6" opacity="1.0"/><ellipse cx="37.4" cy="17.1" rx="1.5" ry="0.6" transform="rotate(86 37.4 17.1)" fill="#a9c7e6" opacity="1.0"/><ellipse cx="12.8" cy="36.5" rx="1.6" ry="1.1" transform="rotate(155 12.8 36.5)" fill="#a9c7e6" opacity="1.0"/><ellipse cx="-0.6" cy="30.7" rx="2.2" ry="1.4" transform="rotate(150 -0.6 30.7)" fill="#bcd88a" opacity="1.0"/><ellipse cx="63.4" cy="30.7" rx="2.2" ry="1.4" transform="rotate(150 63.4 30.7)" fill="#bcd88a" opacity="1.0"/><ellipse cx="35.7" cy="30.8" rx="2.4" ry="2.1" transform="rotate(72 35.7 30.8)" fill="#bcd88a" opacity="1.0"/><ellipse cx="56.4" cy="2.9" rx="2.7" ry="2.5" transform="rotate(117 56.4 2.9)" fill="#bcd88a" opacity="1.0"/><ellipse cx="56.4" cy="66.9" rx="2.7" ry="2.5" transform="rotate(117 56.4 66.9)" fill="#bcd88a" opacity="1.0"/><ellipse cx="4.4" cy="13.9" rx="1.6" ry="1.5" transform="rotate(140 4.4 13.9)" fill="#b8d4ea" opacity="1.0"/><ellipse cx="68.4" cy="13.9" rx="1.6" ry="1.5" transform="rotate(140 68.4 13.9)" fill="#b8d4ea" opacity="1.0"/><ellipse cx="12.0" cy="45.1" rx="2.6" ry="2.4" transform="rotate(46 12.0 45.1)" fill="#c9dc8c" opacity="1.0"/><ellipse cx="20.1" cy="27.1" rx="2.4" ry="1.0" transform="rotate(17 20.1 27.1)" fill="#d6e29a" opacity="1.0"/><ellipse cx="2.3" cy="29.0" rx="2.4" ry="1.4" transform="rotate(5 2.3 29.0)" fill="#d6e29a" opacity="1.0"/><ellipse cx="66.3" cy="29.0" rx="2.4" ry="1.4" transform="rotate(5 66.3 29.0)" fill="#d6e29a" opacity="1.0"/><ellipse cx="27.9" cy="31.1" rx="1.5" ry="1.1" transform="rotate(172 27.9 31.1)" fill="#a9c7e6" opacity="1.0"/><ellipse cx="8.0" cy="20.4" rx="2.6" ry="1.0" transform="rotate(78 8.0 20.4)" fill="#a9c7e6" opacity="1.0"/><ellipse cx="56.8" cy="58.2" rx="1.4" ry="1.3" transform="rotate(67 56.8 58.2)" fill="#d6e29a" opacity="1.0"/><ellipse cx="48.5" cy="18.9" rx="2.3" ry="1.8" transform="rotate(145 48.5 18.9)" fill="#d6e29a" opacity="1.0"/><ellipse cx="6.9" cy="-3.6" rx="1.7" ry="1.3" transform="rotate(95 6.9 -3.6)" fill="#bcd88a" opacity="1.0"/><ellipse cx="6.9" cy="60.4" rx="1.7" ry="1.3" transform="rotate(95 6.9 60.4)" fill="#bcd88a" opacity="1.0"/><ellipse cx="31.6" cy="22.5" rx="2.3" ry="1.9" transform="rotate(102 31.6 22.5)" fill="#b8d4ea" opacity="1.0"/><ellipse cx="41.3" cy="46.7" rx="1.4" ry="0.9" transform="rotate(166 41.3 46.7)" fill="#a9c7e6" opacity="1.0"/><ellipse cx="7.9" cy="-4.4" rx="1.4" ry="0.8" transform="rotate(130 7.9 -4.4)" fill="#f8f9f6" opacity="1.0"/><ellipse cx="7.9" cy="59.6" rx="1.4" ry="0.8" transform="rotate(130 7.9 59.6)" fill="#f8f9f6" opacity="1.0"/><ellipse cx="26.9" cy="19.2" rx="1.5" ry="1.0" transform="rotate(141 26.9 19.2)" fill="#bcd88a" opacity="1.0"/><ellipse cx="4.4" cy="45.8" rx="2.4" ry="1.7" transform="rotate(133 4.4 45.8)" fill="#d6e29a" opacity="1.0"/><ellipse cx="68.4" cy="45.8" rx="2.4" ry="1.7" transform="rotate(133 68.4 45.8)" fill="#d6e29a" opacity="1.0"/><ellipse cx="6.4" cy="17.3" rx="1.3" ry="0.6" transform="rotate(86 6.4 17.3)" fill="#d6e29a" opacity="1.0"/><ellipse cx="15.8" cy="49.2" rx="1.8" ry="1.0" transform="rotate(73 15.8 49.2)" fill="#f8f9f6" opacity="1.0"/><ellipse cx="51.8" cy="4.4" rx="2.0" ry="2.0" transform="rotate(27 51.8 4.4)" fill="#f8f9f6" opacity="1.0"/><ellipse cx="51.8" cy="68.4" rx="2.0" ry="2.0" transform="rotate(27 51.8 68.4)" fill="#f8f9f6" opacity="1.0"/><ellipse cx="6.4" cy="7.2" rx="2.4" ry="2.0" transform="rotate(33 6.4 7.2)" fill="#b8d4ea" opacity="1.0"/><ellipse cx="36.3" cy="42.9" rx="1.8" ry="1.8" transform="rotate(23 36.3 42.9)" fill="#f8f9f6" opacity="1.0"/></pattern><pattern id="pBrP" width="60" height="60" patternUnits="userSpaceOnUse"><rect width="60" height="60" fill="#a6621f"/><ellipse cx="14.2" cy="6.2" rx="3.4" ry="2.4" transform="rotate(12 14.2 6.2)" fill="#cf8578" stroke="#8a4f18" stroke-width="1.1"/><ellipse cx="14.2" cy="66.2" rx="3.4" ry="2.4" transform="rotate(12 14.2 66.2)" fill="#cf8578" stroke="#8a4f18" stroke-width="1.1"/><ellipse cx="33.0" cy="17.4" rx="4.2" ry="2.8" transform="rotate(94 33.0 17.4)" fill="#a9b8d2" stroke="#8a4f18" stroke-width="1.1"/><ellipse cx="16.6" cy="10.4" rx="2.9" ry="2.1" transform="rotate(167 16.6 10.4)" fill="#a9b8d2" stroke="#8a4f18" stroke-width="1.1"/><ellipse cx="48.0" cy="11.6" rx="3.2" ry="2.8" transform="rotate(132 48.0 11.6)" fill="#a9b8d2" stroke="#8a4f18" stroke-width="1.1"/><ellipse cx="5.2" cy="36.4" rx="3.7" ry="3.1" transform="rotate(32 5.2 36.4)" fill="#cf8578" stroke="#8a4f18" stroke-width="1.1"/><ellipse cx="65.2" cy="36.4" rx="3.7" ry="3.1" transform="rotate(32 65.2 36.4)" fill="#cf8578" stroke="#8a4f18" stroke-width="1.1"/><ellipse cx="16.8" cy="-3.3" rx="3.9" ry="3.9" transform="rotate(151 16.8 -3.3)" fill="#d08a84" stroke="#8a4f18" stroke-width="1.1"/><ellipse cx="16.8" cy="56.7" rx="3.9" ry="3.9" transform="rotate(151 16.8 56.7)" fill="#d08a84" stroke="#8a4f18" stroke-width="1.1"/><ellipse cx="-5.5" cy="34.3" rx="4.0" ry="3.8" transform="rotate(92 -5.5 34.3)" fill="#cf8578" stroke="#8a4f18" stroke-width="1.1"/><ellipse cx="54.5" cy="34.3" rx="4.0" ry="3.8" transform="rotate(92 54.5 34.3)" fill="#cf8578" stroke="#8a4f18" stroke-width="1.1"/><ellipse cx="25.4" cy="17.3" rx="3.4" ry="2.5" transform="rotate(47 25.4 17.3)" fill="#d08a84" stroke="#8a4f18" stroke-width="1.1"/><ellipse cx="4.9" cy="27.8" rx="4.2" ry="3.5" transform="rotate(117 4.9 27.8)" fill="#a9b8d2" stroke="#8a4f18" stroke-width="1.1"/><ellipse cx="64.9" cy="27.8" rx="4.2" ry="3.5" transform="rotate(117 64.9 27.8)" fill="#a9b8d2" stroke="#8a4f18" stroke-width="1.1"/><ellipse cx="8.7" cy="40.4" rx="2.9" ry="2.8" transform="rotate(114 8.7 40.4)" fill="#cf8578" stroke="#8a4f18" stroke-width="1.1"/><ellipse cx="16.6" cy="21.3" rx="3.8" ry="2.9" transform="rotate(101 16.6 21.3)" fill="#a9b8d2" stroke="#8a4f18" stroke-width="1.1"/><ellipse cx="6.1" cy="3.7" rx="3.1" ry="2.9" transform="rotate(111 6.1 3.7)" fill="#c99a90" stroke="#8a4f18" stroke-width="1.1"/><ellipse cx="6.1" cy="63.7" rx="3.1" ry="2.9" transform="rotate(111 6.1 63.7)" fill="#c99a90" stroke="#8a4f18" stroke-width="1.1"/><ellipse cx="66.1" cy="3.7" rx="3.1" ry="2.9" transform="rotate(111 66.1 3.7)" fill="#c99a90" stroke="#8a4f18" stroke-width="1.1"/><ellipse cx="66.1" cy="63.7" rx="3.1" ry="2.9" transform="rotate(111 66.1 63.7)" fill="#c99a90" stroke="#8a4f18" stroke-width="1.1"/><ellipse cx="7.3" cy="-3.9" rx="3.2" ry="2.1" transform="rotate(64 7.3 -3.9)" fill="#d08a84" stroke="#8a4f18" stroke-width="1.1"/><ellipse cx="7.3" cy="56.1" rx="3.2" ry="2.1" transform="rotate(64 7.3 56.1)" fill="#d08a84" stroke="#8a4f18" stroke-width="1.1"/><ellipse cx="53.8" cy="-2.7" rx="3.8" ry="3.8" transform="rotate(3 53.8 -2.7)" fill="#a9b8d2" stroke="#8a4f18" stroke-width="1.1"/><ellipse cx="53.8" cy="57.3" rx="3.8" ry="3.8" transform="rotate(3 53.8 57.3)" fill="#a9b8d2" stroke="#8a4f18" stroke-width="1.1"/><ellipse cx="19.3" cy="9.2" rx="3.7" ry="3.5" transform="rotate(157 19.3 9.2)" fill="#d08a84" stroke="#8a4f18" stroke-width="1.1"/><ellipse cx="17.6" cy="11.5" rx="3.4" ry="2.4" transform="rotate(69 17.6 11.5)" fill="#c99a90" stroke="#8a4f18" stroke-width="1.1"/><ellipse cx="19.9" cy="0.6" rx="2.9" ry="2.0" transform="rotate(141 19.9 0.6)" fill="#a9b8d2" stroke="#8a4f18" stroke-width="1.1"/><ellipse cx="19.9" cy="60.6" rx="2.9" ry="2.0" transform="rotate(141 19.9 60.6)" fill="#a9b8d2" stroke="#8a4f18" stroke-width="1.1"/><ellipse cx="-0.2" cy="34.3" rx="3.4" ry="2.5" transform="rotate(165 -0.2 34.3)" fill="#d08a84" stroke="#8a4f18" stroke-width="1.1"/><ellipse cx="59.8" cy="34.3" rx="3.4" ry="2.5" transform="rotate(165 59.8 34.3)" fill="#d08a84" stroke="#8a4f18" stroke-width="1.1"/><ellipse cx="3.6" cy="3.3" rx="3.0" ry="2.7" transform="rotate(27 3.6 3.3)" fill="#d08a84" stroke="#8a4f18" stroke-width="1.1"/><ellipse cx="3.6" cy="63.3" rx="3.0" ry="2.7" transform="rotate(27 3.6 63.3)" fill="#d08a84" stroke="#8a4f18" stroke-width="1.1"/><ellipse cx="63.6" cy="3.3" rx="3.0" ry="2.7" transform="rotate(27 63.6 3.3)" fill="#d08a84" stroke="#8a4f18" stroke-width="1.1"/><ellipse cx="63.6" cy="63.3" rx="3.0" ry="2.7" transform="rotate(27 63.6 63.3)" fill="#d08a84" stroke="#8a4f18" stroke-width="1.1"/><ellipse cx="32.8" cy="35.0" rx="3.3" ry="2.2" transform="rotate(150 32.8 35.0)" fill="#a9b8d2" stroke="#8a4f18" stroke-width="1.1"/><ellipse cx="46.4" cy="24.6" rx="4.2" ry="3.4" transform="rotate(44 46.4 24.6)" fill="#cf8578" stroke="#8a4f18" stroke-width="1.1"/><ellipse cx="29.5" cy="13.1" rx="3.4" ry="3.0" transform="rotate(77 29.5 13.1)" fill="#c99a90" stroke="#8a4f18" stroke-width="1.1"/><ellipse cx="29.9" cy="1.9" rx="3.2" ry="2.3" transform="rotate(37 29.9 1.9)" fill="#c99a90" stroke="#8a4f18" stroke-width="1.1"/><ellipse cx="29.9" cy="61.9" rx="3.2" ry="2.3" transform="rotate(37 29.9 61.9)" fill="#c99a90" stroke="#8a4f18" stroke-width="1.1"/><ellipse cx="25.0" cy="15.7" rx="3.3" ry="3.1" transform="rotate(57 25.0 15.7)" fill="#d08a84" stroke="#8a4f18" stroke-width="1.1"/><ellipse cx="-0.6" cy="24.2" rx="4.1" ry="3.6" transform="rotate(142 -0.6 24.2)" fill="#d08a84" stroke="#8a4f18" stroke-width="1.1"/><ellipse cx="59.4" cy="24.2" rx="4.1" ry="3.6" transform="rotate(142 59.4 24.2)" fill="#d08a84" stroke="#8a4f18" stroke-width="1.1"/><ellipse cx="29.7" cy="5.6" rx="3.1" ry="3.0" transform="rotate(162 29.7 5.6)" fill="#c99a90" stroke="#8a4f18" stroke-width="1.1"/><ellipse cx="29.7" cy="65.6" rx="3.1" ry="3.0" transform="rotate(162 29.7 65.6)" fill="#c99a90" stroke="#8a4f18" stroke-width="1.1"/><ellipse cx="20.2" cy="39.4" rx="3.9" ry="3.4" transform="rotate(147 20.2 39.4)" fill="#b98a60" stroke="#8a4f18" stroke-width="1.1"/><ellipse cx="12.9" cy="48.1" rx="3.9" ry="3.0" transform="rotate(71 12.9 48.1)" fill="#cf8578" stroke="#8a4f18" stroke-width="1.1"/><ellipse cx="4.5" cy="-1.7" rx="4.1" ry="3.7" transform="rotate(8 4.5 -1.7)" fill="#b98a60" stroke="#8a4f18" stroke-width="1.1"/><ellipse cx="4.5" cy="58.3" rx="4.1" ry="3.7" transform="rotate(8 4.5 58.3)" fill="#b98a60" stroke="#8a4f18" stroke-width="1.1"/><ellipse cx="64.5" cy="-1.7" rx="4.1" ry="3.7" transform="rotate(8 64.5 -1.7)" fill="#b98a60" stroke="#8a4f18" stroke-width="1.1"/><ellipse cx="64.5" cy="58.3" rx="4.1" ry="3.7" transform="rotate(8 64.5 58.3)" fill="#b98a60" stroke="#8a4f18" stroke-width="1.1"/><ellipse cx="7.7" cy="-1.9" rx="3.7" ry="2.5" transform="rotate(30 7.7 -1.9)" fill="#cf8578" stroke="#8a4f18" stroke-width="1.1"/><ellipse cx="7.7" cy="58.1" rx="3.7" ry="2.5" transform="rotate(30 7.7 58.1)" fill="#cf8578" stroke="#8a4f18" stroke-width="1.1"/><ellipse cx="34.2" cy="44.8" rx="4.1" ry="3.0" transform="rotate(1 34.2 44.8)" fill="#c99a90" stroke="#8a4f18" stroke-width="1.1"/><ellipse cx="0.8" cy="52.6" rx="3.0" ry="2.8" transform="rotate(141 0.8 52.6)" fill="#c99a90" stroke="#8a4f18" stroke-width="1.1"/><ellipse cx="60.8" cy="52.6" rx="3.0" ry="2.8" transform="rotate(141 60.8 52.6)" fill="#c99a90" stroke="#8a4f18" stroke-width="1.1"/><ellipse cx="33.0" cy="52.7" rx="3.1" ry="2.7" transform="rotate(60 33.0 52.7)" fill="#b98a60" stroke="#8a4f18" stroke-width="1.1"/><ellipse cx="46.4" cy="28.3" rx="3.5" ry="2.3" transform="rotate(6 46.4 28.3)" fill="#b98a60" stroke="#8a4f18" stroke-width="1.1"/><ellipse cx="6.8" cy="33.6" rx="3.2" ry="2.9" transform="rotate(7 6.8 33.6)" fill="#d08a84" stroke="#8a4f18" stroke-width="1.1"/><ellipse cx="46.1" cy="31.4" rx="2.8" ry="2.7" transform="rotate(149 46.1 31.4)" fill="#d08a84" stroke="#8a4f18" stroke-width="1.1"/><ellipse cx="-2.4" cy="27.2" rx="3.1" ry="3.1" transform="rotate(70 -2.4 27.2)" fill="#cf8578" stroke="#8a4f18" stroke-width="1.1"/><ellipse cx="57.6" cy="27.2" rx="3.1" ry="3.1" transform="rotate(70 57.6 27.2)" fill="#cf8578" stroke="#8a4f18" stroke-width="1.1"/><ellipse cx="51.3" cy="24.0" rx="2.9" ry="2.8" transform="rotate(144 51.3 24.0)" fill="#a9b8d2" stroke="#8a4f18" stroke-width="1.1"/><ellipse cx="30.7" cy="26.0" rx="4.0" ry="3.7" transform="rotate(12 30.7 26.0)" fill="#c99a90" stroke="#8a4f18" stroke-width="1.1"/><ellipse cx="38.2" cy="-4.2" rx="3.5" ry="2.4" transform="rotate(100 38.2 -4.2)" fill="#a9b8d2" stroke="#8a4f18" stroke-width="1.1"/><ellipse cx="38.2" cy="55.8" rx="3.5" ry="2.4" transform="rotate(100 38.2 55.8)" fill="#a9b8d2" stroke="#8a4f18" stroke-width="1.1"/><ellipse cx="52.5" cy="10.6" rx="3.0" ry="2.5" transform="rotate(61 52.5 10.6)" fill="#b98a60" stroke="#8a4f18" stroke-width="1.1"/><ellipse cx="-1.6" cy="0.3" rx="3.0" ry="2.7" transform="rotate(22 -1.6 0.3)" fill="#d08a84" stroke="#8a4f18" stroke-width="1.1"/><ellipse cx="-1.6" cy="60.3" rx="3.0" ry="2.7" transform="rotate(22 -1.6 60.3)" fill="#d08a84" stroke="#8a4f18" stroke-width="1.1"/><ellipse cx="58.4" cy="0.3" rx="3.0" ry="2.7" transform="rotate(22 58.4 0.3)" fill="#d08a84" stroke="#8a4f18" stroke-width="1.1"/><ellipse cx="58.4" cy="60.3" rx="3.0" ry="2.7" transform="rotate(22 58.4 60.3)" fill="#d08a84" stroke="#8a4f18" stroke-width="1.1"/><ellipse cx="29.2" cy="42.9" rx="3.5" ry="2.4" transform="rotate(44 29.2 42.9)" fill="#a9b8d2" stroke="#8a4f18" stroke-width="1.1"/><ellipse cx="21.4" cy="46.0" rx="4.2" ry="3.6" transform="rotate(122 21.4 46.0)" fill="#b98a60" stroke="#8a4f18" stroke-width="1.1"/><ellipse cx="-5.5" cy="32.6" rx="4.1" ry="3.8" transform="rotate(102 -5.5 32.6)" fill="#b98a60" stroke="#8a4f18" stroke-width="1.1"/><ellipse cx="54.5" cy="32.6" rx="4.1" ry="3.8" transform="rotate(102 54.5 32.6)" fill="#b98a60" stroke="#8a4f18" stroke-width="1.1"/><ellipse cx="47.2" cy="36.8" rx="3.4" ry="2.4" transform="rotate(139 47.2 36.8)" fill="#a9b8d2" stroke="#8a4f18" stroke-width="1.1"/><ellipse cx="-0.8" cy="20.4" rx="3.4" ry="2.9" transform="rotate(122 -0.8 20.4)" fill="#b98a60" stroke="#8a4f18" stroke-width="1.1"/><ellipse cx="59.2" cy="20.4" rx="3.4" ry="2.9" transform="rotate(122 59.2 20.4)" fill="#b98a60" stroke="#8a4f18" stroke-width="1.1"/><ellipse cx="10.7" cy="-5.9" rx="3.3" ry="2.8" transform="rotate(63 10.7 -5.9)" fill="#b98a60" stroke="#8a4f18" stroke-width="1.1"/><ellipse cx="10.7" cy="54.1" rx="3.3" ry="2.8" transform="rotate(63 10.7 54.1)" fill="#b98a60" stroke="#8a4f18" stroke-width="1.1"/><ellipse cx="53.0" cy="4.6" rx="3.7" ry="3.6" transform="rotate(59 53.0 4.6)" fill="#a9b8d2" stroke="#8a4f18" stroke-width="1.1"/><ellipse cx="53.0" cy="64.6" rx="3.7" ry="3.6" transform="rotate(59 53.0 64.6)" fill="#a9b8d2" stroke="#8a4f18" stroke-width="1.1"/><ellipse cx="19.6" cy="18.0" rx="2.8" ry="1.9" transform="rotate(171 19.6 18.0)" fill="#d08a84" stroke="#8a4f18" stroke-width="1.1"/><ellipse cx="48.1" cy="48.4" rx="4.1" ry="2.9" transform="rotate(105 48.1 48.4)" fill="#cf8578" stroke="#8a4f18" stroke-width="1.1"/><ellipse cx="39.7" cy="-0.4" rx="2.9" ry="2.8" transform="rotate(178 39.7 -0.4)" fill="#c99a90" stroke="#8a4f18" stroke-width="1.1"/><ellipse cx="39.7" cy="59.6" rx="2.9" ry="2.8" transform="rotate(178 39.7 59.6)" fill="#c99a90" stroke="#8a4f18" stroke-width="1.1"/><ellipse cx="39.1" cy="40.5" rx="3.8" ry="3.3" transform="rotate(150 39.1 40.5)" fill="#a9b8d2" stroke="#8a4f18" stroke-width="1.1"/><ellipse cx="51.2" cy="41.3" rx="4.0" ry="3.0" transform="rotate(88 51.2 41.3)" fill="#c99a90" stroke="#8a4f18" stroke-width="1.1"/><ellipse cx="18.6" cy="13.8" rx="3.3" ry="2.8" transform="rotate(179 18.6 13.8)" fill="#cf8578" stroke="#8a4f18" stroke-width="1.1"/><ellipse cx="30.4" cy="-1.8" rx="3.2" ry="2.6" transform="rotate(106 30.4 -1.8)" fill="#a9b8d2" stroke="#8a4f18" stroke-width="1.1"/><ellipse cx="30.4" cy="58.2" rx="3.2" ry="2.6" transform="rotate(106 30.4 58.2)" fill="#a9b8d2" stroke="#8a4f18" stroke-width="1.1"/><ellipse cx="11.0" cy="32.4" rx="3.8" ry="3.3" transform="rotate(66 11.0 32.4)" fill="#cf8578" stroke="#8a4f18" stroke-width="1.1"/><ellipse cx="37.4" cy="9.4" rx="2.9" ry="2.9" transform="rotate(178 37.4 9.4)" fill="#a9b8d2" stroke="#8a4f18" stroke-width="1.1"/><ellipse cx="36.2" cy="18.7" rx="2.9" ry="2.2" transform="rotate(40 36.2 18.7)" fill="#cf8578" stroke="#8a4f18" stroke-width="1.1"/><ellipse cx="53.6" cy="46.7" rx="3.0" ry="2.2" transform="rotate(54 53.6 46.7)" fill="#d08a84" stroke="#8a4f18" stroke-width="1.1"/><ellipse cx="9.8" cy="47.4" rx="3.8" ry="3.2" transform="rotate(173 9.8 47.4)" fill="#a9b8d2" stroke="#8a4f18" stroke-width="1.1"/><ellipse cx="1.1" cy="14.7" rx="3.9" ry="2.8" transform="rotate(171 1.1 14.7)" fill="#d08a84" stroke="#8a4f18" stroke-width="1.1"/><ellipse cx="61.1" cy="14.7" rx="3.9" ry="2.8" transform="rotate(171 61.1 14.7)" fill="#d08a84" stroke="#8a4f18" stroke-width="1.1"/><ellipse cx="7.3" cy="3.7" rx="4.2" ry="3.1" transform="rotate(160 7.3 3.7)" fill="#c99a90" stroke="#8a4f18" stroke-width="1.1"/><ellipse cx="7.3" cy="63.7" rx="4.2" ry="3.1" transform="rotate(160 7.3 63.7)" fill="#c99a90" stroke="#8a4f18" stroke-width="1.1"/><ellipse cx="43.9" cy="39.3" rx="4.1" ry="4.0" transform="rotate(129 43.9 39.3)" fill="#b98a60" stroke="#8a4f18" stroke-width="1.1"/><ellipse cx="21.9" cy="0.2" rx="4.0" ry="2.8" transform="rotate(74 21.9 0.2)" fill="#c99a90" stroke="#8a4f18" stroke-width="1.1"/><ellipse cx="21.9" cy="60.2" rx="4.0" ry="2.8" transform="rotate(74 21.9 60.2)" fill="#c99a90" stroke="#8a4f18" stroke-width="1.1"/><ellipse cx="50.7" cy="29.1" rx="2.9" ry="2.1" transform="rotate(157 50.7 29.1)" fill="#a9b8d2" stroke="#8a4f18" stroke-width="1.1"/><ellipse cx="30.9" cy="32.2" rx="3.2" ry="2.5" transform="rotate(31 30.9 32.2)" fill="#d08a84" stroke="#8a4f18" stroke-width="1.1"/><ellipse cx="25.4" cy="1.7" rx="4.0" ry="2.6" transform="rotate(173 25.4 1.7)" fill="#c99a90" stroke="#8a4f18" stroke-width="1.1"/><ellipse cx="25.4" cy="61.7" rx="4.0" ry="2.6" transform="rotate(173 25.4 61.7)" fill="#c99a90" stroke="#8a4f18" stroke-width="1.1"/><ellipse cx="5.1" cy="7.0" rx="3.7" ry="2.4" transform="rotate(42 5.1 7.0)" fill="#d08a84" stroke="#8a4f18" stroke-width="1.1"/><ellipse cx="65.1" cy="7.0" rx="3.7" ry="2.4" transform="rotate(42 65.1 7.0)" fill="#d08a84" stroke="#8a4f18" stroke-width="1.1"/><ellipse cx="28.6" cy="43.1" rx="3.1" ry="2.9" transform="rotate(179 28.6 43.1)" fill="#cf8578" stroke="#8a4f18" stroke-width="1.1"/></pattern><pattern id="pCy" width="60" height="60" patternUnits="userSpaceOnUse"><rect width="60" height="60" fill="#e6f4f8"/><ellipse cx="37.4" cy="44.5" rx="2.9" ry="2.8" transform="rotate(133 37.4 44.5)" fill="#4fd2ea" opacity="1.0"/><ellipse cx="50.4" cy="46.6" rx="2.1" ry="1.3" transform="rotate(28 50.4 46.6)" fill="#9fd0e6" opacity="1.0"/><ellipse cx="28.1" cy="14.8" rx="2.6" ry="2.1" transform="rotate(2 28.1 14.8)" fill="#6adbee" opacity="1.0"/><ellipse cx="24.5" cy="10.9" rx="3.0" ry="2.3" transform="rotate(137 24.5 10.9)" fill="#4fd2ea" opacity="1.0"/><ellipse cx="8.3" cy="37.0" rx="2.0" ry="1.2" transform="rotate(157 8.3 37.0)" fill="#6adbee" opacity="1.0"/><ellipse cx="46.4" cy="-2.4" rx="2.0" ry="1.4" transform="rotate(56 46.4 -2.4)" fill="#6adbee" opacity="1.0"/><ellipse cx="46.4" cy="57.6" rx="2.0" ry="1.4" transform="rotate(56 46.4 57.6)" fill="#6adbee" opacity="1.0"/><ellipse cx="32.4" cy="40.7" rx="2.1" ry="2.0" transform="rotate(124 32.4 40.7)" fill="#c0e4ee" opacity="1.0"/><ellipse cx="17.9" cy="21.7" rx="2.0" ry="1.3" transform="rotate(12 17.9 21.7)" fill="#9fd0e6" opacity="1.0"/><ellipse cx="49.0" cy="35.2" rx="2.6" ry="2.3" transform="rotate(12 49.0 35.2)" fill="#9fd0e6" opacity="1.0"/><ellipse cx="49.1" cy="28.8" rx="2.2" ry="1.8" transform="rotate(127 49.1 28.8)" fill="#4fd2ea" opacity="1.0"/><ellipse cx="15.4" cy="-3.7" rx="3.1" ry="2.3" transform="rotate(73 15.4 -3.7)" fill="#c0e4ee" opacity="1.0"/><ellipse cx="15.4" cy="56.3" rx="3.1" ry="2.3" transform="rotate(73 15.4 56.3)" fill="#c0e4ee" opacity="1.0"/><ellipse cx="22.0" cy="34.7" rx="1.8" ry="1.1" transform="rotate(33 22.0 34.7)" fill="#6adbee" opacity="1.0"/><ellipse cx="7.1" cy="14.8" rx="2.9" ry="2.3" transform="rotate(92 7.1 14.8)" fill="#9fd0e6" opacity="1.0"/><ellipse cx="46.5" cy="6.5" rx="2.8" ry="2.6" transform="rotate(155 46.5 6.5)" fill="#4fd2ea" opacity="1.0"/><ellipse cx="26.0" cy="-1.3" rx="2.1" ry="1.7" transform="rotate(65 26.0 -1.3)" fill="#6adbee" opacity="1.0"/><ellipse cx="26.0" cy="58.7" rx="2.1" ry="1.7" transform="rotate(65 26.0 58.7)" fill="#6adbee" opacity="1.0"/><ellipse cx="20.4" cy="-4.5" rx="2.6" ry="1.9" transform="rotate(57 20.4 -4.5)" fill="#6adbee" opacity="1.0"/><ellipse cx="20.4" cy="55.5" rx="2.6" ry="1.9" transform="rotate(57 20.4 55.5)" fill="#6adbee" opacity="1.0"/><ellipse cx="47.9" cy="37.6" rx="2.8" ry="2.0" transform="rotate(87 47.9 37.6)" fill="#4fd2ea" opacity="1.0"/><ellipse cx="4.9" cy="36.0" rx="3.1" ry="1.9" transform="rotate(133 4.9 36.0)" fill="#9fd0e6" opacity="1.0"/><ellipse cx="64.9" cy="36.0" rx="3.1" ry="1.9" transform="rotate(133 64.9 36.0)" fill="#9fd0e6" opacity="1.0"/><ellipse cx="49.6" cy="27.3" rx="2.4" ry="1.5" transform="rotate(165 49.6 27.3)" fill="#4fd2ea" opacity="1.0"/><ellipse cx="48.1" cy="20.1" rx="2.1" ry="2.1" transform="rotate(102 48.1 20.1)" fill="#6adbee" opacity="1.0"/><ellipse cx="37.8" cy="47.3" rx="1.9" ry="1.5" transform="rotate(27 37.8 47.3)" fill="#c0e4ee" opacity="1.0"/><ellipse cx="17.7" cy="27.2" rx="3.2" ry="3.0" transform="rotate(176 17.7 27.2)" fill="#c0e4ee" opacity="1.0"/><ellipse cx="-2.4" cy="41.3" rx="2.2" ry="1.6" transform="rotate(85 -2.4 41.3)" fill="#6adbee" opacity="1.0"/><ellipse cx="57.6" cy="41.3" rx="2.2" ry="1.6" transform="rotate(85 57.6 41.3)" fill="#6adbee" opacity="1.0"/><ellipse cx="6.8" cy="49.3" rx="2.5" ry="1.7" transform="rotate(169 6.8 49.3)" fill="#9fd0e6" opacity="1.0"/><ellipse cx="10.8" cy="29.5" rx="2.5" ry="2.1" transform="rotate(91 10.8 29.5)" fill="#4fd2ea" opacity="1.0"/><ellipse cx="47.2" cy="46.5" rx="2.8" ry="2.4" transform="rotate(137 47.2 46.5)" fill="#9fd0e6" opacity="1.0"/><ellipse cx="33.6" cy="40.1" rx="3.0" ry="2.1" transform="rotate(177 33.6 40.1)" fill="#9fd0e6" opacity="1.0"/><ellipse cx="-2.6" cy="20.4" rx="2.1" ry="1.9" transform="rotate(85 -2.6 20.4)" fill="#9fd0e6" opacity="1.0"/><ellipse cx="57.4" cy="20.4" rx="2.1" ry="1.9" transform="rotate(85 57.4 20.4)" fill="#9fd0e6" opacity="1.0"/><ellipse cx="19.6" cy="16.4" rx="2.2" ry="1.8" transform="rotate(121 19.6 16.4)" fill="#9fd0e6" opacity="1.0"/><ellipse cx="20.9" cy="38.6" rx="2.8" ry="2.6" transform="rotate(63 20.9 38.6)" fill="#6adbee" opacity="1.0"/><ellipse cx="52.2" cy="41.3" rx="3.2" ry="3.1" transform="rotate(93 52.2 41.3)" fill="#6adbee" opacity="1.0"/><ellipse cx="11.9" cy="21.7" rx="3.0" ry="2.1" transform="rotate(14 11.9 21.7)" fill="#c0e4ee" opacity="1.0"/><ellipse cx="10.3" cy="46.8" rx="2.6" ry="2.3" transform="rotate(76 10.3 46.8)" fill="#9fd0e6" opacity="1.0"/><ellipse cx="43.2" cy="1.7" rx="2.0" ry="1.6" transform="rotate(117 43.2 1.7)" fill="#6adbee" opacity="1.0"/><ellipse cx="43.2" cy="61.7" rx="2.0" ry="1.6" transform="rotate(117 43.2 61.7)" fill="#6adbee" opacity="1.0"/><ellipse cx="45.5" cy="10.8" rx="2.8" ry="2.8" transform="rotate(176 45.5 10.8)" fill="#6adbee" opacity="1.0"/><ellipse cx="3.2" cy="8.0" rx="2.2" ry="1.5" transform="rotate(35 3.2 8.0)" fill="#4fd2ea" opacity="1.0"/><ellipse cx="63.2" cy="8.0" rx="2.2" ry="1.5" transform="rotate(35 63.2 8.0)" fill="#4fd2ea" opacity="1.0"/><ellipse cx="24.9" cy="21.1" rx="2.7" ry="1.7" transform="rotate(37 24.9 21.1)" fill="#9fd0e6" opacity="1.0"/><ellipse cx="0.0" cy="24.3" rx="2.2" ry="1.7" transform="rotate(21 0.0 24.3)" fill="#9fd0e6" opacity="1.0"/><ellipse cx="60.0" cy="24.3" rx="2.2" ry="1.7" transform="rotate(21 60.0 24.3)" fill="#9fd0e6" opacity="1.0"/><ellipse cx="-2.1" cy="33.0" rx="2.2" ry="1.6" transform="rotate(92 -2.1 33.0)" fill="#9fd0e6" opacity="1.0"/><ellipse cx="57.9" cy="33.0" rx="2.2" ry="1.6" transform="rotate(92 57.9 33.0)" fill="#9fd0e6" opacity="1.0"/><ellipse cx="-2.5" cy="49.1" rx="2.4" ry="2.2" transform="rotate(116 -2.5 49.1)" fill="#9fd0e6" opacity="1.0"/><ellipse cx="57.5" cy="49.1" rx="2.4" ry="2.2" transform="rotate(116 57.5 49.1)" fill="#9fd0e6" opacity="1.0"/><ellipse cx="28.0" cy="9.4" rx="2.3" ry="1.8" transform="rotate(36 28.0 9.4)" fill="#6adbee" opacity="1.0"/><ellipse cx="36.5" cy="21.1" rx="3.1" ry="1.8" transform="rotate(19 36.5 21.1)" fill="#6adbee" opacity="1.0"/><ellipse cx="19.5" cy="52.6" rx="2.6" ry="2.0" transform="rotate(176 19.5 52.6)" fill="#c0e4ee" opacity="1.0"/><ellipse cx="17.5" cy="-1.7" rx="2.3" ry="2.3" transform="rotate(164 17.5 -1.7)" fill="#9fd0e6" opacity="1.0"/><ellipse cx="17.5" cy="58.3" rx="2.3" ry="2.3" transform="rotate(164 17.5 58.3)" fill="#9fd0e6" opacity="1.0"/><ellipse cx="44.5" cy="18.0" rx="2.2" ry="1.3" transform="rotate(170 44.5 18.0)" fill="#9fd0e6" opacity="1.0"/><ellipse cx="29.5" cy="17.2" rx="2.5" ry="1.6" transform="rotate(112 29.5 17.2)" fill="#c0e4ee" opacity="1.0"/><ellipse cx="14.7" cy="2.4" rx="2.0" ry="1.5" transform="rotate(86 14.7 2.4)" fill="#9fd0e6" opacity="1.0"/><ellipse cx="14.7" cy="62.4" rx="2.0" ry="1.5" transform="rotate(86 14.7 62.4)" fill="#9fd0e6" opacity="1.0"/><ellipse cx="14.6" cy="28.5" rx="1.9" ry="1.5" transform="rotate(152 14.6 28.5)" fill="#9fd0e6" opacity="1.0"/><ellipse cx="17.6" cy="36.5" rx="2.5" ry="2.1" transform="rotate(109 17.6 36.5)" fill="#4fd2ea" opacity="1.0"/><ellipse cx="1.0" cy="7.6" rx="2.2" ry="1.9" transform="rotate(110 1.0 7.6)" fill="#4fd2ea" opacity="1.0"/><ellipse cx="61.0" cy="7.6" rx="2.2" ry="1.9" transform="rotate(110 61.0 7.6)" fill="#4fd2ea" opacity="1.0"/><ellipse cx="27.9" cy="21.7" rx="2.8" ry="2.4" transform="rotate(7 27.9 21.7)" fill="#9fd0e6" opacity="1.0"/><ellipse cx="33.2" cy="41.1" rx="2.0" ry="1.7" transform="rotate(34 33.2 41.1)" fill="#c0e4ee" opacity="1.0"/><ellipse cx="46.7" cy="25.7" rx="2.6" ry="2.3" transform="rotate(114 46.7 25.7)" fill="#c0e4ee" opacity="1.0"/><ellipse cx="51.5" cy="50.5" rx="2.5" ry="2.2" transform="rotate(130 51.5 50.5)" fill="#9fd0e6" opacity="1.0"/><ellipse cx="27.9" cy="45.5" rx="2.2" ry="1.3" transform="rotate(140 27.9 45.5)" fill="#9fd0e6" opacity="1.0"/><ellipse cx="38.9" cy="28.3" rx="2.2" ry="1.5" transform="rotate(125 38.9 28.3)" fill="#c0e4ee" opacity="1.0"/><ellipse cx="-1.6" cy="32.3" rx="2.4" ry="2.0" transform="rotate(9 -1.6 32.3)" fill="#6adbee" opacity="1.0"/><ellipse cx="58.4" cy="32.3" rx="2.4" ry="2.0" transform="rotate(9 58.4 32.3)" fill="#6adbee" opacity="1.0"/><ellipse cx="16.0" cy="5.1" rx="1.9" ry="1.8" transform="rotate(60 16.0 5.1)" fill="#c0e4ee" opacity="1.0"/><ellipse cx="16.0" cy="65.1" rx="1.9" ry="1.8" transform="rotate(60 16.0 65.1)" fill="#c0e4ee" opacity="1.0"/><ellipse cx="-1.3" cy="-0.1" rx="2.8" ry="1.7" transform="rotate(152 -1.3 -0.1)" fill="#6adbee" opacity="1.0"/><ellipse cx="-1.3" cy="59.9" rx="2.8" ry="1.7" transform="rotate(152 -1.3 59.9)" fill="#6adbee" opacity="1.0"/><ellipse cx="58.7" cy="-0.1" rx="2.8" ry="1.7" transform="rotate(152 58.7 -0.1)" fill="#6adbee" opacity="1.0"/><ellipse cx="58.7" cy="59.9" rx="2.8" ry="1.7" transform="rotate(152 58.7 59.9)" fill="#6adbee" opacity="1.0"/><ellipse cx="36.9" cy="49.5" rx="2.0" ry="1.9" transform="rotate(179 36.9 49.5)" fill="#c0e4ee" opacity="1.0"/><ellipse cx="9.0" cy="36.6" rx="2.4" ry="1.6" transform="rotate(112 9.0 36.6)" fill="#4fd2ea" opacity="1.0"/><ellipse cx="33.3" cy="39.6" rx="2.8" ry="2.0" transform="rotate(103 33.3 39.6)" fill="#4fd2ea" opacity="1.0"/><ellipse cx="44.5" cy="52.7" rx="2.0" ry="1.5" transform="rotate(57 44.5 52.7)" fill="#c0e4ee" opacity="1.0"/><ellipse cx="29.4" cy="-3.7" rx="2.3" ry="1.4" transform="rotate(126 29.4 -3.7)" fill="#6adbee" opacity="1.0"/><ellipse cx="29.4" cy="56.3" rx="2.3" ry="1.4" transform="rotate(126 29.4 56.3)" fill="#6adbee" opacity="1.0"/><ellipse cx="34.1" cy="40.7" rx="2.2" ry="2.2" transform="rotate(99 34.1 40.7)" fill="#6adbee" opacity="1.0"/><ellipse cx="15.8" cy="33.1" rx="2.2" ry="1.9" transform="rotate(93 15.8 33.1)" fill="#6adbee" opacity="1.0"/><ellipse cx="48.5" cy="51.8" rx="2.4" ry="1.8" transform="rotate(24 48.5 51.8)" fill="#4fd2ea" opacity="1.0"/><ellipse cx="39.3" cy="5.1" rx="2.7" ry="1.7" transform="rotate(22 39.3 5.1)" fill="#c0e4ee" opacity="1.0"/><ellipse cx="39.3" cy="65.1" rx="2.7" ry="1.7" transform="rotate(22 39.3 65.1)" fill="#c0e4ee" opacity="1.0"/><ellipse cx="14.3" cy="52.6" rx="2.5" ry="1.8" transform="rotate(143 14.3 52.6)" fill="#4fd2ea" opacity="1.0"/><ellipse cx="32.5" cy="23.1" rx="3.0" ry="2.9" transform="rotate(77 32.5 23.1)" fill="#6adbee" opacity="1.0"/><ellipse cx="45.0" cy="5.0" rx="3.1" ry="2.5" transform="rotate(38 45.0 5.0)" fill="#c0e4ee" opacity="1.0"/><ellipse cx="45.0" cy="65.0" rx="3.1" ry="2.5" transform="rotate(38 45.0 65.0)" fill="#c0e4ee" opacity="1.0"/><ellipse cx="21.3" cy="14.1" rx="2.3" ry="1.9" transform="rotate(63 21.3 14.1)" fill="#c0e4ee" opacity="1.0"/><ellipse cx="22.7" cy="43.4" rx="2.3" ry="1.7" transform="rotate(114 22.7 43.4)" fill="#9fd0e6" opacity="1.0"/><ellipse cx="31.0" cy="35.6" rx="2.6" ry="2.3" transform="rotate(71 31.0 35.6)" fill="#4fd2ea" opacity="1.0"/><ellipse cx="2.2" cy="11.2" rx="2.1" ry="1.7" transform="rotate(169 2.2 11.2)" fill="#9fd0e6" opacity="1.0"/><ellipse cx="62.2" cy="11.2" rx="2.1" ry="1.7" transform="rotate(169 62.2 11.2)" fill="#9fd0e6" opacity="1.0"/><ellipse cx="0.0" cy="28.2" rx="3.0" ry="2.6" transform="rotate(77 0.0 28.2)" fill="#c0e4ee" opacity="1.0"/><ellipse cx="60.0" cy="28.2" rx="3.0" ry="2.6" transform="rotate(77 60.0 28.2)" fill="#c0e4ee" opacity="1.0"/><ellipse cx="27.7" cy="11.5" rx="2.7" ry="1.7" transform="rotate(156 27.7 11.5)" fill="#c0e4ee" opacity="1.0"/><ellipse cx="9.1" cy="15.2" rx="2.2" ry="1.5" transform="rotate(52 9.1 15.2)" fill="#6adbee" opacity="1.0"/><ellipse cx="2.0" cy="53.8" rx="2.3" ry="2.1" transform="rotate(57 2.0 53.8)" fill="#4fd2ea" opacity="1.0"/><ellipse cx="62.0" cy="53.8" rx="2.3" ry="2.1" transform="rotate(57 62.0 53.8)" fill="#4fd2ea" opacity="1.0"/><ellipse cx="41.3" cy="40.4" rx="2.5" ry="2.4" transform="rotate(21 41.3 40.4)" fill="#9fd0e6" opacity="1.0"/><ellipse cx="17.5" cy="40.5" rx="2.8" ry="1.9" transform="rotate(36 17.5 40.5)" fill="#4fd2ea" opacity="1.0"/><ellipse cx="34.5" cy="39.4" rx="2.7" ry="2.6" transform="rotate(127 34.5 39.4)" fill="#9fd0e6" opacity="1.0"/><ellipse cx="11.1" cy="21.7" rx="1.9" ry="1.9" transform="rotate(84 11.1 21.7)" fill="#6adbee" opacity="1.0"/><ellipse cx="10.5" cy="12.5" rx="1.9" ry="1.6" transform="rotate(131 10.5 12.5)" fill="#9fd0e6" opacity="1.0"/><ellipse cx="0.4" cy="3.7" rx="2.9" ry="2.2" transform="rotate(8 0.4 3.7)" fill="#9fd0e6" opacity="1.0"/><ellipse cx="0.4" cy="63.7" rx="2.9" ry="2.2" transform="rotate(8 0.4 63.7)" fill="#9fd0e6" opacity="1.0"/><ellipse cx="60.4" cy="3.7" rx="2.9" ry="2.2" transform="rotate(8 60.4 3.7)" fill="#9fd0e6" opacity="1.0"/><ellipse cx="60.4" cy="63.7" rx="2.9" ry="2.2" transform="rotate(8 60.4 63.7)" fill="#9fd0e6" opacity="1.0"/><ellipse cx="-3.6" cy="43.0" rx="2.1" ry="2.0" transform="rotate(17 -3.6 43.0)" fill="#c0e4ee" opacity="1.0"/><ellipse cx="56.4" cy="43.0" rx="2.1" ry="2.0" transform="rotate(17 56.4 43.0)" fill="#c0e4ee" opacity="1.0"/><ellipse cx="3.2" cy="14.6" rx="1.9" ry="1.4" transform="rotate(11 3.2 14.6)" fill="#9fd0e6" opacity="1.0"/><ellipse cx="63.2" cy="14.6" rx="1.9" ry="1.4" transform="rotate(11 63.2 14.6)" fill="#9fd0e6" opacity="1.0"/><ellipse cx="50.0" cy="26.8" rx="2.7" ry="2.6" transform="rotate(171 50.0 26.8)" fill="#6adbee" opacity="1.0"/><ellipse cx="10.8" cy="30.5" rx="2.4" ry="1.9" transform="rotate(15 10.8 30.5)" fill="#9fd0e6" opacity="1.0"/><ellipse cx="47.4" cy="5.2" rx="3.2" ry="2.1" transform="rotate(14 47.4 5.2)" fill="#6adbee" opacity="1.0"/></pattern><pattern id="pBPG" width="54" height="54" patternUnits="userSpaceOnUse"><rect width="54" height="54" fill="#b07a50"/><ellipse cx="42.8" cy="44.4" rx="2.5" ry="1.9" transform="rotate(0 42.8 44.4)" fill="#c98a74" opacity="1.0"/><ellipse cx="-1.9" cy="39.7" rx="2.3" ry="1.6" transform="rotate(88 -1.9 39.7)" fill="#6fa890" opacity="1.0"/><ellipse cx="52.1" cy="39.7" rx="2.3" ry="1.6" transform="rotate(88 52.1 39.7)" fill="#6fa890" opacity="1.0"/><ellipse cx="39.4" cy="22.4" rx="2.5" ry="2.3" transform="rotate(35 39.4 22.4)" fill="#d49a8a" opacity="1.0"/><ellipse cx="35.8" cy="32.9" rx="2.1" ry="1.7" transform="rotate(178 35.8 32.9)" fill="#d49a8a" opacity="1.0"/><ellipse cx="43.2" cy="43.5" rx="2.4" ry="1.8" transform="rotate(35 43.2 43.5)" fill="#d49a8a" opacity="1.0"/><ellipse cx="5.3" cy="2.5" rx="2.9" ry="2.8" transform="rotate(164 5.3 2.5)" fill="#c98a74" opacity="1.0"/><ellipse cx="5.3" cy="56.5" rx="2.9" ry="2.8" transform="rotate(164 5.3 56.5)" fill="#c98a74" opacity="1.0"/><ellipse cx="-3.6" cy="-4.9" rx="2.5" ry="2.2" transform="rotate(126 -3.6 -4.9)" fill="#e2a4a4" opacity="1.0"/><ellipse cx="-3.6" cy="49.1" rx="2.5" ry="2.2" transform="rotate(126 -3.6 49.1)" fill="#e2a4a4" opacity="1.0"/><ellipse cx="50.4" cy="-4.9" rx="2.5" ry="2.2" transform="rotate(126 50.4 -4.9)" fill="#e2a4a4" opacity="1.0"/><ellipse cx="50.4" cy="49.1" rx="2.5" ry="2.2" transform="rotate(126 50.4 49.1)" fill="#e2a4a4" opacity="1.0"/><ellipse cx="34.2" cy="13.2" rx="2.4" ry="2.0" transform="rotate(22 34.2 13.2)" fill="#6fa890" opacity="1.0"/><ellipse cx="6.3" cy="35.8" rx="2.3" ry="1.8" transform="rotate(87 6.3 35.8)" fill="#6fa890" opacity="1.0"/><ellipse cx="32.3" cy="45.0" rx="2.9" ry="2.5" transform="rotate(34 32.3 45.0)" fill="#6fa890" opacity="1.0"/><ellipse cx="0.9" cy="18.0" rx="2.9" ry="2.6" transform="rotate(55 0.9 18.0)" fill="#c98a74" opacity="1.0"/><ellipse cx="54.9" cy="18.0" rx="2.9" ry="2.6" transform="rotate(55 54.9 18.0)" fill="#c98a74" opacity="1.0"/><ellipse cx="28.5" cy="15.6" rx="2.7" ry="2.3" transform="rotate(33 28.5 15.6)" fill="#c98a74" opacity="1.0"/><ellipse cx="5.2" cy="23.8" rx="2.8" ry="2.0" transform="rotate(109 5.2 23.8)" fill="#c98a74" opacity="1.0"/><ellipse cx="24.1" cy="44.9" rx="2.8" ry="2.4" transform="rotate(85 24.1 44.9)" fill="#c98a74" opacity="1.0"/><ellipse cx="-3.2" cy="10.4" rx="2.7" ry="2.2" transform="rotate(130 -3.2 10.4)" fill="#6fa890" opacity="1.0"/><ellipse cx="50.8" cy="10.4" rx="2.7" ry="2.2" transform="rotate(130 50.8 10.4)" fill="#6fa890" opacity="1.0"/><ellipse cx="1.0" cy="29.0" rx="2.3" ry="2.1" transform="rotate(34 1.0 29.0)" fill="#c98a74" opacity="1.0"/><ellipse cx="55.0" cy="29.0" rx="2.3" ry="2.1" transform="rotate(34 55.0 29.0)" fill="#c98a74" opacity="1.0"/><ellipse cx="17.8" cy="27.9" rx="3.0" ry="2.9" transform="rotate(76 17.8 27.9)" fill="#c98a74" opacity="1.0"/><ellipse cx="14.5" cy="25.6" rx="2.5" ry="1.8" transform="rotate(68 14.5 25.6)" fill="#d49a8a" opacity="1.0"/><ellipse cx="34.3" cy="25.2" rx="2.4" ry="1.8" transform="rotate(164 34.3 25.2)" fill="#c98a74" opacity="1.0"/><ellipse cx="37.5" cy="14.4" rx="2.6" ry="2.6" transform="rotate(131 37.5 14.4)" fill="#6fa890" opacity="1.0"/><ellipse cx="-3.4" cy="15.7" rx="2.0" ry="1.7" transform="rotate(10 -3.4 15.7)" fill="#e2a4a4" opacity="1.0"/><ellipse cx="50.6" cy="15.7" rx="2.0" ry="1.7" transform="rotate(10 50.6 15.7)" fill="#e2a4a4" opacity="1.0"/><ellipse cx="32.9" cy="30.8" rx="2.7" ry="2.2" transform="rotate(177 32.9 30.8)" fill="#c98a74" opacity="1.0"/><ellipse cx="46.1" cy="3.4" rx="2.2" ry="2.2" transform="rotate(110 46.1 3.4)" fill="#c98a74" opacity="1.0"/><ellipse cx="46.1" cy="57.4" rx="2.2" ry="2.2" transform="rotate(110 46.1 57.4)" fill="#c98a74" opacity="1.0"/><ellipse cx="43.5" cy="43.2" rx="2.5" ry="1.8" transform="rotate(42 43.5 43.2)" fill="#d49a8a" opacity="1.0"/><ellipse cx="19.5" cy="7.8" rx="2.6" ry="2.3" transform="rotate(26 19.5 7.8)" fill="#e2a4a4" opacity="1.0"/><ellipse cx="38.6" cy="2.4" rx="2.5" ry="2.3" transform="rotate(12 38.6 2.4)" fill="#e2a4a4" opacity="1.0"/><ellipse cx="38.6" cy="56.4" rx="2.5" ry="2.3" transform="rotate(12 38.6 56.4)" fill="#e2a4a4" opacity="1.0"/><ellipse cx="37.9" cy="6.9" rx="2.8" ry="2.1" transform="rotate(111 37.9 6.9)" fill="#d49a8a" opacity="1.0"/><ellipse cx="-5.0" cy="48.2" rx="2.5" ry="2.2" transform="rotate(142 -5.0 48.2)" fill="#6fa890" opacity="1.0"/><ellipse cx="49.0" cy="48.2" rx="2.5" ry="2.2" transform="rotate(142 49.0 48.2)" fill="#6fa890" opacity="1.0"/><ellipse cx="44.2" cy="10.2" rx="2.9" ry="2.5" transform="rotate(79 44.2 10.2)" fill="#d49a8a" opacity="1.0"/><ellipse cx="25.8" cy="31.3" rx="2.8" ry="2.2" transform="rotate(65 25.8 31.3)" fill="#d49a8a" opacity="1.0"/><ellipse cx="-3.3" cy="4.5" rx="2.9" ry="2.2" transform="rotate(174 -3.3 4.5)" fill="#c98a74" opacity="1.0"/><ellipse cx="-3.3" cy="58.5" rx="2.9" ry="2.2" transform="rotate(174 -3.3 58.5)" fill="#c98a74" opacity="1.0"/><ellipse cx="50.7" cy="4.5" rx="2.9" ry="2.2" transform="rotate(174 50.7 4.5)" fill="#c98a74" opacity="1.0"/><ellipse cx="50.7" cy="58.5" rx="2.9" ry="2.2" transform="rotate(174 50.7 58.5)" fill="#c98a74" opacity="1.0"/><ellipse cx="24.0" cy="20.1" rx="2.7" ry="2.1" transform="rotate(109 24.0 20.1)" fill="#6fa890" opacity="1.0"/><ellipse cx="28.9" cy="1.8" rx="2.2" ry="1.8" transform="rotate(9 28.9 1.8)" fill="#6fa890" opacity="1.0"/><ellipse cx="28.9" cy="55.8" rx="2.2" ry="1.8" transform="rotate(9 28.9 55.8)" fill="#6fa890" opacity="1.0"/><ellipse cx="37.8" cy="18.5" rx="2.1" ry="1.9" transform="rotate(21 37.8 18.5)" fill="#6fa890" opacity="1.0"/><ellipse cx="25.1" cy="26.7" rx="2.1" ry="1.5" transform="rotate(94 25.1 26.7)" fill="#e2a4a4" opacity="1.0"/><ellipse cx="10.0" cy="38.2" rx="2.2" ry="2.0" transform="rotate(91 10.0 38.2)" fill="#c98a74" opacity="1.0"/><ellipse cx="43.0" cy="-3.0" rx="2.7" ry="2.5" transform="rotate(23 43.0 -3.0)" fill="#6fa890" opacity="1.0"/><ellipse cx="43.0" cy="51.0" rx="2.7" ry="2.5" transform="rotate(23 43.0 51.0)" fill="#6fa890" opacity="1.0"/><ellipse cx="40.9" cy="-0.4" rx="2.6" ry="1.8" transform="rotate(145 40.9 -0.4)" fill="#c98a74" opacity="1.0"/><ellipse cx="40.9" cy="53.6" rx="2.6" ry="1.8" transform="rotate(145 40.9 53.6)" fill="#c98a74" opacity="1.0"/><ellipse cx="10.2" cy="17.6" rx="2.4" ry="2.0" transform="rotate(72 10.2 17.6)" fill="#6fa890" opacity="1.0"/><ellipse cx="38.7" cy="34.8" rx="2.8" ry="2.3" transform="rotate(120 38.7 34.8)" fill="#6fa890" opacity="1.0"/><ellipse cx="8.9" cy="33.8" rx="2.4" ry="1.7" transform="rotate(7 8.9 33.8)" fill="#e2a4a4" opacity="1.0"/><ellipse cx="6.2" cy="38.4" rx="2.1" ry="1.7" transform="rotate(6 6.2 38.4)" fill="#6fa890" opacity="1.0"/><ellipse cx="42.5" cy="12.2" rx="2.6" ry="2.5" transform="rotate(53 42.5 12.2)" fill="#c98a74" opacity="1.0"/><ellipse cx="4.2" cy="31.0" rx="2.1" ry="2.0" transform="rotate(79 4.2 31.0)" fill="#e2a4a4" opacity="1.0"/><ellipse cx="58.2" cy="31.0" rx="2.1" ry="2.0" transform="rotate(79 58.2 31.0)" fill="#e2a4a4" opacity="1.0"/><ellipse cx="37.9" cy="9.6" rx="2.7" ry="1.9" transform="rotate(151 37.9 9.6)" fill="#c98a74" opacity="1.0"/><ellipse cx="35.2" cy="15.5" rx="2.4" ry="1.9" transform="rotate(155 35.2 15.5)" fill="#6fa890" opacity="1.0"/><ellipse cx="15.0" cy="0.7" rx="2.5" ry="2.3" transform="rotate(175 15.0 0.7)" fill="#d49a8a" opacity="1.0"/><ellipse cx="15.0" cy="54.7" rx="2.5" ry="2.3" transform="rotate(175 15.0 54.7)" fill="#d49a8a" opacity="1.0"/><ellipse cx="42.0" cy="5.1" rx="2.6" ry="1.8" transform="rotate(66 42.0 5.1)" fill="#e2a4a4" opacity="1.0"/><ellipse cx="12.2" cy="41.2" rx="2.4" ry="2.1" transform="rotate(61 12.2 41.2)" fill="#e2a4a4" opacity="1.0"/><ellipse cx="18.6" cy="1.6" rx="2.3" ry="2.0" transform="rotate(83 18.6 1.6)" fill="#d49a8a" opacity="1.0"/><ellipse cx="18.6" cy="55.6" rx="2.3" ry="2.0" transform="rotate(83 18.6 55.6)" fill="#d49a8a" opacity="1.0"/><ellipse cx="4.7" cy="31.9" rx="2.3" ry="1.7" transform="rotate(75 4.7 31.9)" fill="#6fa890" opacity="1.0"/><ellipse cx="58.7" cy="31.9" rx="2.3" ry="1.7" transform="rotate(75 58.7 31.9)" fill="#6fa890" opacity="1.0"/><ellipse cx="13.1" cy="35.8" rx="3.0" ry="2.5" transform="rotate(93 13.1 35.8)" fill="#c98a74" opacity="1.0"/><ellipse cx="-3.9" cy="13.7" rx="2.3" ry="1.6" transform="rotate(136 -3.9 13.7)" fill="#e2a4a4" opacity="1.0"/><ellipse cx="50.1" cy="13.7" rx="2.3" ry="1.6" transform="rotate(136 50.1 13.7)" fill="#e2a4a4" opacity="1.0"/><ellipse cx="43.7" cy="31.1" rx="2.9" ry="2.8" transform="rotate(92 43.7 31.1)" fill="#e2a4a4" opacity="1.0"/><ellipse cx="8.2" cy="21.2" rx="2.5" ry="2.4" transform="rotate(138 8.2 21.2)" fill="#c98a74" opacity="1.0"/><ellipse cx="11.6" cy="34.8" rx="2.4" ry="2.2" transform="rotate(82 11.6 34.8)" fill="#e2a4a4" opacity="1.0"/><ellipse cx="18.2" cy="13.6" rx="2.1" ry="1.7" transform="rotate(154 18.2 13.6)" fill="#d49a8a" opacity="1.0"/><ellipse cx="12.1" cy="42.1" rx="2.2" ry="1.8" transform="rotate(112 12.1 42.1)" fill="#6fa890" opacity="1.0"/><ellipse cx="-4.0" cy="4.8" rx="2.4" ry="1.8" transform="rotate(164 -4.0 4.8)" fill="#6fa890" opacity="1.0"/><ellipse cx="-4.0" cy="58.8" rx="2.4" ry="1.8" transform="rotate(164 -4.0 58.8)" fill="#6fa890" opacity="1.0"/><ellipse cx="50.0" cy="4.8" rx="2.4" ry="1.8" transform="rotate(164 50.0 4.8)" fill="#6fa890" opacity="1.0"/><ellipse cx="50.0" cy="58.8" rx="2.4" ry="1.8" transform="rotate(164 50.0 58.8)" fill="#6fa890" opacity="1.0"/><ellipse cx="28.1" cy="-2.5" rx="2.5" ry="2.4" transform="rotate(88 28.1 -2.5)" fill="#d49a8a" opacity="1.0"/><ellipse cx="28.1" cy="51.5" rx="2.5" ry="2.4" transform="rotate(88 28.1 51.5)" fill="#d49a8a" opacity="1.0"/><ellipse cx="47.7" cy="17.7" rx="2.7" ry="2.2" transform="rotate(49 47.7 17.7)" fill="#e2a4a4" opacity="1.0"/><ellipse cx="14.1" cy="2.2" rx="2.6" ry="2.3" transform="rotate(178 14.1 2.2)" fill="#e2a4a4" opacity="1.0"/><ellipse cx="14.1" cy="56.2" rx="2.6" ry="2.3" transform="rotate(178 14.1 56.2)" fill="#e2a4a4" opacity="1.0"/><ellipse cx="42.2" cy="41.3" rx="3.0" ry="2.2" transform="rotate(150 42.2 41.3)" fill="#e2a4a4" opacity="1.0"/><ellipse cx="11.7" cy="18.3" rx="3.0" ry="2.8" transform="rotate(44 11.7 18.3)" fill="#6fa890" opacity="1.0"/><ellipse cx="12.2" cy="6.8" rx="2.5" ry="2.4" transform="rotate(112 12.2 6.8)" fill="#6fa890" opacity="1.0"/><ellipse cx="24.6" cy="43.4" rx="2.6" ry="2.4" transform="rotate(175 24.6 43.4)" fill="#d49a8a" opacity="1.0"/><ellipse cx="-4.8" cy="14.8" rx="2.0" ry="1.9" transform="rotate(5 -4.8 14.8)" fill="#c98a74" opacity="1.0"/><ellipse cx="49.2" cy="14.8" rx="2.0" ry="1.9" transform="rotate(5 49.2 14.8)" fill="#c98a74" opacity="1.0"/><ellipse cx="17.2" cy="0.6" rx="2.9" ry="2.1" transform="rotate(168 17.2 0.6)" fill="#d49a8a" opacity="1.0"/><ellipse cx="17.2" cy="54.6" rx="2.9" ry="2.1" transform="rotate(168 17.2 54.6)" fill="#d49a8a" opacity="1.0"/><ellipse cx="5.5" cy="45.1" rx="2.4" ry="2.3" transform="rotate(27 5.5 45.1)" fill="#c98a74" opacity="1.0"/><ellipse cx="40.2" cy="42.5" rx="2.9" ry="2.8" transform="rotate(27 40.2 42.5)" fill="#c98a74" opacity="1.0"/><ellipse cx="20.2" cy="48.2" rx="2.9" ry="2.2" transform="rotate(99 20.2 48.2)" fill="#d49a8a" opacity="1.0"/><ellipse cx="3.8" cy="6.5" rx="2.7" ry="2.5" transform="rotate(178 3.8 6.5)" fill="#6fa890" opacity="1.0"/><ellipse cx="57.8" cy="6.5" rx="2.7" ry="2.5" transform="rotate(178 57.8 6.5)" fill="#6fa890" opacity="1.0"/><ellipse cx="23.6" cy="13.8" rx="2.5" ry="2.0" transform="rotate(98 23.6 13.8)" fill="#d49a8a" opacity="1.0"/><ellipse cx="24.5" cy="-1.0" rx="2.7" ry="1.9" transform="rotate(134 24.5 -1.0)" fill="#e2a4a4" opacity="1.0"/><ellipse cx="24.5" cy="53.0" rx="2.7" ry="1.9" transform="rotate(134 24.5 53.0)" fill="#e2a4a4" opacity="1.0"/><ellipse cx="28.5" cy="44.1" rx="2.6" ry="2.0" transform="rotate(152 28.5 44.1)" fill="#d49a8a" opacity="1.0"/><ellipse cx="0.8" cy="11.3" rx="2.3" ry="1.7" transform="rotate(10 0.8 11.3)" fill="#d49a8a" opacity="1.0"/><ellipse cx="54.8" cy="11.3" rx="2.3" ry="1.7" transform="rotate(10 54.8 11.3)" fill="#d49a8a" opacity="1.0"/><ellipse cx="37.9" cy="47.6" rx="2.2" ry="2.0" transform="rotate(107 37.9 47.6)" fill="#e2a4a4" opacity="1.0"/><ellipse cx="44.0" cy="44.7" rx="2.6" ry="2.1" transform="rotate(86 44.0 44.7)" fill="#6fa890" opacity="1.0"/><ellipse cx="25.7" cy="48.1" rx="2.6" ry="1.9" transform="rotate(132 25.7 48.1)" fill="#c98a74" opacity="1.0"/><ellipse cx="2.9" cy="48.1" rx="2.2" ry="1.8" transform="rotate(39 2.9 48.1)" fill="#e2a4a4" opacity="1.0"/><ellipse cx="56.9" cy="48.1" rx="2.2" ry="1.8" transform="rotate(39 56.9 48.1)" fill="#e2a4a4" opacity="1.0"/><ellipse cx="26.1" cy="34.8" rx="2.8" ry="2.2" transform="rotate(48 26.1 34.8)" fill="#d49a8a" opacity="1.0"/><ellipse cx="16.2" cy="23.0" rx="2.4" ry="2.4" transform="rotate(98 16.2 23.0)" fill="#6fa890" opacity="1.0"/><ellipse cx="-3.4" cy="3.3" rx="2.5" ry="2.4" transform="rotate(177 -3.4 3.3)" fill="#e2a4a4" opacity="1.0"/><ellipse cx="-3.4" cy="57.3" rx="2.5" ry="2.4" transform="rotate(177 -3.4 57.3)" fill="#e2a4a4" opacity="1.0"/><ellipse cx="50.6" cy="3.3" rx="2.5" ry="2.4" transform="rotate(177 50.6 3.3)" fill="#e2a4a4" opacity="1.0"/><ellipse cx="50.6" cy="57.3" rx="2.5" ry="2.4" transform="rotate(177 50.6 57.3)" fill="#e2a4a4" opacity="1.0"/><ellipse cx="4.2" cy="6.0" rx="2.4" ry="2.1" transform="rotate(32 4.2 6.0)" fill="#d49a8a" opacity="1.0"/><ellipse cx="58.2" cy="6.0" rx="2.4" ry="2.1" transform="rotate(32 58.2 6.0)" fill="#d49a8a" opacity="1.0"/><ellipse cx="19.0" cy="3.4" rx="2.7" ry="2.2" transform="rotate(73 19.0 3.4)" fill="#e2a4a4" opacity="1.0"/><ellipse cx="19.0" cy="57.4" rx="2.7" ry="2.2" transform="rotate(73 19.0 57.4)" fill="#e2a4a4" opacity="1.0"/><ellipse cx="40.0" cy="15.3" rx="2.5" ry="2.3" transform="rotate(161 40.0 15.3)" fill="#6fa890" opacity="1.0"/><ellipse cx="41.4" cy="-4.2" rx="2.8" ry="2.4" transform="rotate(69 41.4 -4.2)" fill="#6fa890" opacity="1.0"/><ellipse cx="41.4" cy="49.8" rx="2.8" ry="2.4" transform="rotate(69 41.4 49.8)" fill="#6fa890" opacity="1.0"/><ellipse cx="42.3" cy="34.6" rx="2.9" ry="2.8" transform="rotate(19 42.3 34.6)" fill="#6fa890" opacity="1.0"/><ellipse cx="30.2" cy="1.7" rx="2.3" ry="1.7" transform="rotate(131 30.2 1.7)" fill="#6fa890" opacity="1.0"/><ellipse cx="30.2" cy="55.7" rx="2.3" ry="1.7" transform="rotate(131 30.2 55.7)" fill="#6fa890" opacity="1.0"/><ellipse cx="48.1" cy="8.3" rx="2.9" ry="2.7" transform="rotate(107 48.1 8.3)" fill="#c98a74" opacity="1.0"/></pattern><pattern id="pWC" width="64" height="64" patternUnits="userSpaceOnUse"><rect width="64" height="64" fill="#f5f7fb"/><ellipse cx="20.7" cy="9.7" rx="3.2" ry="2.3" transform="rotate(96 20.7 9.7)" fill="none" stroke="#6b7be6" stroke-width="1.1" opacity="1.0"/><ellipse cx="37.3" cy="-5.8" rx="2.5" ry="1.8" transform="rotate(75 37.3 -5.8)" fill="none" stroke="#5568e0" stroke-width="1.1" opacity="1.0"/><ellipse cx="37.3" cy="58.2" rx="2.5" ry="1.8" transform="rotate(75 37.3 58.2)" fill="none" stroke="#5568e0" stroke-width="1.1" opacity="1.0"/><ellipse cx="5.8" cy="27.2" rx="3.5" ry="2.6" transform="rotate(40 5.8 27.2)" fill="none" stroke="#c8d2e6" stroke-width="1.1" opacity="1.0"/><ellipse cx="37.3" cy="4.0" rx="3.1" ry="2.2" transform="rotate(40 37.3 4.0)" fill="none" stroke="#c8d2e6" stroke-width="1.1" opacity="1.0"/><ellipse cx="37.3" cy="68.0" rx="3.1" ry="2.2" transform="rotate(40 37.3 68.0)" fill="none" stroke="#c8d2e6" stroke-width="1.1" opacity="1.0"/><ellipse cx="54.9" cy="18.5" rx="2.4" ry="1.8" transform="rotate(56 54.9 18.5)" fill="none" stroke="#c8d2e6" stroke-width="1.1" opacity="1.0"/><ellipse cx="11.6" cy="37.2" rx="3.2" ry="2.6" transform="rotate(99 11.6 37.2)" fill="none" stroke="#5568e0" stroke-width="1.1" opacity="1.0"/><ellipse cx="36.1" cy="39.6" rx="3.0" ry="2.6" transform="rotate(140 36.1 39.6)" fill="none" stroke="#6b7be6" stroke-width="1.1" opacity="1.0"/><ellipse cx="37.5" cy="29.0" rx="2.7" ry="2.5" transform="rotate(126 37.5 29.0)" fill="none" stroke="#5568e0" stroke-width="1.1" opacity="1.0"/><ellipse cx="5.2" cy="19.2" rx="3.0" ry="2.4" transform="rotate(81 5.2 19.2)" fill="none" stroke="#c8d2e6" stroke-width="1.1" opacity="1.0"/><ellipse cx="69.2" cy="19.2" rx="3.0" ry="2.4" transform="rotate(81 69.2 19.2)" fill="none" stroke="#c8d2e6" stroke-width="1.1" opacity="1.0"/><ellipse cx="-1.3" cy="7.6" rx="2.9" ry="2.7" transform="rotate(27 -1.3 7.6)" fill="none" stroke="#6b7be6" stroke-width="1.1" opacity="1.0"/><ellipse cx="62.7" cy="7.6" rx="2.9" ry="2.7" transform="rotate(27 62.7 7.6)" fill="none" stroke="#6b7be6" stroke-width="1.1" opacity="1.0"/><ellipse cx="27.0" cy="-2.4" rx="2.3" ry="2.0" transform="rotate(142 27.0 -2.4)" fill="none" stroke="#6b7be6" stroke-width="1.1" opacity="1.0"/><ellipse cx="27.0" cy="61.6" rx="2.3" ry="2.0" transform="rotate(142 27.0 61.6)" fill="none" stroke="#6b7be6" stroke-width="1.1" opacity="1.0"/><ellipse cx="21.8" cy="22.4" rx="3.0" ry="2.8" transform="rotate(12 21.8 22.4)" fill="none" stroke="#5568e0" stroke-width="1.1" opacity="1.0"/><ellipse cx="-3.5" cy="30.3" rx="3.3" ry="2.3" transform="rotate(126 -3.5 30.3)" fill="none" stroke="#c8d2e6" stroke-width="1.1" opacity="1.0"/><ellipse cx="60.5" cy="30.3" rx="3.3" ry="2.3" transform="rotate(126 60.5 30.3)" fill="none" stroke="#c8d2e6" stroke-width="1.1" opacity="1.0"/><ellipse cx="37.0" cy="43.6" rx="2.9" ry="2.7" transform="rotate(160 37.0 43.6)" fill="none" stroke="#6b7be6" stroke-width="1.1" opacity="1.0"/><ellipse cx="1.4" cy="29.5" rx="2.5" ry="1.8" transform="rotate(11 1.4 29.5)" fill="none" stroke="#6b7be6" stroke-width="1.1" opacity="1.0"/><ellipse cx="65.4" cy="29.5" rx="2.5" ry="1.8" transform="rotate(11 65.4 29.5)" fill="none" stroke="#6b7be6" stroke-width="1.1" opacity="1.0"/><ellipse cx="8.3" cy="15.8" rx="2.8" ry="2.7" transform="rotate(15 8.3 15.8)" fill="none" stroke="#6b7be6" stroke-width="1.1" opacity="1.0"/><ellipse cx="25.7" cy="17.8" rx="2.4" ry="2.0" transform="rotate(99 25.7 17.8)" fill="none" stroke="#c8d2e6" stroke-width="1.1" opacity="1.0"/><ellipse cx="26.6" cy="23.0" rx="3.6" ry="3.6" transform="rotate(27 26.6 23.0)" fill="none" stroke="#5568e0" stroke-width="1.1" opacity="1.0"/><ellipse cx="9.7" cy="42.1" rx="2.2" ry="2.1" transform="rotate(33 9.7 42.1)" fill="none" stroke="#6b7be6" stroke-width="1.1" opacity="1.0"/><ellipse cx="0.3" cy="26.8" rx="2.8" ry="2.4" transform="rotate(172 0.3 26.8)" fill="none" stroke="#c8d2e6" stroke-width="1.1" opacity="1.0"/><ellipse cx="64.3" cy="26.8" rx="2.8" ry="2.4" transform="rotate(172 64.3 26.8)" fill="none" stroke="#c8d2e6" stroke-width="1.1" opacity="1.0"/><ellipse cx="55.0" cy="-3.2" rx="3.2" ry="3.0" transform="rotate(82 55.0 -3.2)" fill="none" stroke="#c8d2e6" stroke-width="1.1" opacity="1.0"/><ellipse cx="55.0" cy="60.8" rx="3.2" ry="3.0" transform="rotate(82 55.0 60.8)" fill="none" stroke="#c8d2e6" stroke-width="1.1" opacity="1.0"/><ellipse cx="51.1" cy="25.1" rx="2.8" ry="2.1" transform="rotate(114 51.1 25.1)" fill="none" stroke="#5568e0" stroke-width="1.1" opacity="1.0"/><ellipse cx="12.2" cy="-1.0" rx="2.9" ry="2.1" transform="rotate(108 12.2 -1.0)" fill="none" stroke="#5568e0" stroke-width="1.1" opacity="1.0"/><ellipse cx="12.2" cy="63.0" rx="2.9" ry="2.1" transform="rotate(108 12.2 63.0)" fill="none" stroke="#5568e0" stroke-width="1.1" opacity="1.0"/><ellipse cx="0.0" cy="9.7" rx="2.4" ry="1.9" transform="rotate(5 0.0 9.7)" fill="none" stroke="#5568e0" stroke-width="1.1" opacity="1.0"/><ellipse cx="64.0" cy="9.7" rx="2.4" ry="1.9" transform="rotate(5 64.0 9.7)" fill="none" stroke="#5568e0" stroke-width="1.1" opacity="1.0"/><ellipse cx="39.3" cy="9.5" rx="2.6" ry="2.1" transform="rotate(66 39.3 9.5)" fill="none" stroke="#5568e0" stroke-width="1.1" opacity="1.0"/><ellipse cx="7.4" cy="31.2" rx="3.8" ry="3.2" transform="rotate(56 7.4 31.2)" fill="none" stroke="#5568e0" stroke-width="1.1" opacity="1.0"/><ellipse cx="6.5" cy="21.9" rx="2.6" ry="2.5" transform="rotate(29 6.5 21.9)" fill="none" stroke="#5568e0" stroke-width="1.1" opacity="1.0"/><ellipse cx="13.1" cy="-3.1" rx="2.8" ry="2.5" transform="rotate(165 13.1 -3.1)" fill="none" stroke="#c8d2e6" stroke-width="1.1" opacity="1.0"/><ellipse cx="13.1" cy="60.9" rx="2.8" ry="2.5" transform="rotate(165 13.1 60.9)" fill="none" stroke="#c8d2e6" stroke-width="1.1" opacity="1.0"/><ellipse cx="19.1" cy="41.1" rx="2.3" ry="2.2" transform="rotate(93 19.1 41.1)" fill="none" stroke="#5568e0" stroke-width="1.1" opacity="1.0"/><ellipse cx="22.8" cy="14.3" rx="3.1" ry="2.6" transform="rotate(115 22.8 14.3)" fill="none" stroke="#c8d2e6" stroke-width="1.1" opacity="1.0"/><ellipse cx="51.9" cy="-1.0" rx="3.6" ry="3.4" transform="rotate(147 51.9 -1.0)" fill="none" stroke="#c8d2e6" stroke-width="1.1" opacity="1.0"/><ellipse cx="51.9" cy="63.0" rx="3.6" ry="3.4" transform="rotate(147 51.9 63.0)" fill="none" stroke="#c8d2e6" stroke-width="1.1" opacity="1.0"/><ellipse cx="51.4" cy="12.8" rx="3.0" ry="2.7" transform="rotate(178 51.4 12.8)" fill="none" stroke="#6b7be6" stroke-width="1.1" opacity="1.0"/><ellipse cx="30.2" cy="12.4" rx="3.2" ry="2.5" transform="rotate(146 30.2 12.4)" fill="none" stroke="#c8d2e6" stroke-width="1.1" opacity="1.0"/><ellipse cx="-0.8" cy="-2.9" rx="2.8" ry="2.1" transform="rotate(41 -0.8 -2.9)" fill="none" stroke="#5568e0" stroke-width="1.1" opacity="1.0"/><ellipse cx="-0.8" cy="61.1" rx="2.8" ry="2.1" transform="rotate(41 -0.8 61.1)" fill="none" stroke="#5568e0" stroke-width="1.1" opacity="1.0"/><ellipse cx="63.2" cy="-2.9" rx="2.8" ry="2.1" transform="rotate(41 63.2 -2.9)" fill="none" stroke="#5568e0" stroke-width="1.1" opacity="1.0"/><ellipse cx="63.2" cy="61.1" rx="2.8" ry="2.1" transform="rotate(41 63.2 61.1)" fill="none" stroke="#5568e0" stroke-width="1.1" opacity="1.0"/><ellipse cx="21.6" cy="30.9" rx="3.8" ry="3.3" transform="rotate(0 21.6 30.9)" fill="none" stroke="#c8d2e6" stroke-width="1.1" opacity="1.0"/><ellipse cx="22.0" cy="41.2" rx="3.5" ry="2.6" transform="rotate(70 22.0 41.2)" fill="none" stroke="#c8d2e6" stroke-width="1.1" opacity="1.0"/><ellipse cx="48.0" cy="30.6" rx="2.5" ry="2.3" transform="rotate(60 48.0 30.6)" fill="none" stroke="#c8d2e6" stroke-width="1.1" opacity="1.0"/><ellipse cx="25.3" cy="25.7" rx="3.7" ry="3.4" transform="rotate(31 25.3 25.7)" fill="none" stroke="#5568e0" stroke-width="1.1" opacity="1.0"/><ellipse cx="1.8" cy="37.8" rx="2.9" ry="2.6" transform="rotate(110 1.8 37.8)" fill="none" stroke="#c8d2e6" stroke-width="1.1" opacity="1.0"/><ellipse cx="65.8" cy="37.8" rx="2.9" ry="2.6" transform="rotate(110 65.8 37.8)" fill="none" stroke="#c8d2e6" stroke-width="1.1" opacity="1.0"/><ellipse cx="-1.3" cy="42.1" rx="2.8" ry="2.4" transform="rotate(24 -1.3 42.1)" fill="none" stroke="#5568e0" stroke-width="1.1" opacity="1.0"/><ellipse cx="62.7" cy="42.1" rx="2.8" ry="2.4" transform="rotate(24 62.7 42.1)" fill="none" stroke="#5568e0" stroke-width="1.1" opacity="1.0"/></pattern><pattern id="pKi" width="70" height="70" patternUnits="userSpaceOnUse"><rect width="70" height="70" fill="#dbe6f1"/><ellipse cx="15.9" cy="-2.6" rx="2.0" ry="1.8" transform="rotate(15 15.9 -2.6)" fill="#8a3a1c" opacity="1.0"/><ellipse cx="15.9" cy="67.4" rx="2.0" ry="1.8" transform="rotate(15 15.9 67.4)" fill="#8a3a1c" opacity="1.0"/><ellipse cx="56.8" cy="35.4" rx="2.4" ry="1.7" transform="rotate(88 56.8 35.4)" fill="#7fb3a8" opacity="1.0"/><ellipse cx="34.6" cy="13.5" rx="3.0" ry="2.2" transform="rotate(42 34.6 13.5)" fill="#b04a2c" opacity="1.0"/><ellipse cx="49.1" cy="36.4" rx="2.5" ry="2.4" transform="rotate(131 49.1 36.4)" fill="#c7dbe9" opacity="1.0"/><ellipse cx="18.1" cy="-0.6" rx="1.9" ry="1.7" transform="rotate(68 18.1 -0.6)" fill="#c7dbe9" opacity="1.0"/><ellipse cx="18.1" cy="69.4" rx="1.9" ry="1.7" transform="rotate(68 18.1 69.4)" fill="#c7dbe9" opacity="1.0"/><ellipse cx="4.1" cy="16.4" rx="1.9" ry="1.9" transform="rotate(93 4.1 16.4)" fill="#8a3a1c" opacity="1.0"/><ellipse cx="74.1" cy="16.4" rx="1.9" ry="1.9" transform="rotate(93 74.1 16.4)" fill="#8a3a1c" opacity="1.0"/><ellipse cx="40.7" cy="9.9" rx="1.9" ry="1.9" transform="rotate(88 40.7 9.9)" fill="#8a3a1c" opacity="1.0"/><ellipse cx="10.4" cy="60.2" rx="2.4" ry="2.1" transform="rotate(80 10.4 60.2)" fill="#d3d27c" opacity="1.0"/><ellipse cx="25.0" cy="61.5" rx="2.0" ry="1.8" transform="rotate(18 25.0 61.5)" fill="#c7dbe9" opacity="1.0"/><ellipse cx="22.0" cy="25.0" rx="2.7" ry="2.3" transform="rotate(112 22.0 25.0)" fill="#6aa59c" opacity="1.0"/><ellipse cx="10.5" cy="37.0" rx="2.5" ry="1.8" transform="rotate(163 10.5 37.0)" fill="#d3d27c" opacity="1.0"/><ellipse cx="63.9" cy="38.1" rx="2.3" ry="2.2" transform="rotate(53 63.9 38.1)" fill="#8a3a1c" opacity="1.0"/><ellipse cx="18.7" cy="29.6" rx="2.3" ry="2.2" transform="rotate(160 18.7 29.6)" fill="#8a3a1c" opacity="1.0"/><ellipse cx="46.0" cy="8.1" rx="3.1" ry="3.0" transform="rotate(5 46.0 8.1)" fill="#b5cde6" opacity="1.0"/><ellipse cx="11.2" cy="8.2" rx="2.9" ry="2.4" transform="rotate(151 11.2 8.2)" fill="#d3d27c" opacity="1.0"/><ellipse cx="30.5" cy="16.2" rx="2.4" ry="2.0" transform="rotate(75 30.5 16.2)" fill="#d3d27c" opacity="1.0"/><ellipse cx="4.9" cy="50.2" rx="1.8" ry="1.7" transform="rotate(138 4.9 50.2)" fill="#d3d27c" opacity="1.0"/><ellipse cx="74.9" cy="50.2" rx="1.8" ry="1.7" transform="rotate(138 74.9 50.2)" fill="#d3d27c" opacity="1.0"/><ellipse cx="25.2" cy="56.5" rx="2.5" ry="2.3" transform="rotate(176 25.2 56.5)" fill="#b04a2c" opacity="1.0"/><ellipse cx="13.3" cy="63.9" rx="2.3" ry="2.0" transform="rotate(22 13.3 63.9)" fill="#6aa59c" opacity="1.0"/><ellipse cx="24.6" cy="-2.5" rx="1.8" ry="1.7" transform="rotate(38 24.6 -2.5)" fill="#d3d27c" opacity="1.0"/><ellipse cx="24.6" cy="67.5" rx="1.8" ry="1.7" transform="rotate(38 24.6 67.5)" fill="#d3d27c" opacity="1.0"/><ellipse cx="2.3" cy="-2.4" rx="2.9" ry="2.9" transform="rotate(104 2.3 -2.4)" fill="#8a3a1c" opacity="1.0"/><ellipse cx="2.3" cy="67.6" rx="2.9" ry="2.9" transform="rotate(104 2.3 67.6)" fill="#8a3a1c" opacity="1.0"/><ellipse cx="72.3" cy="-2.4" rx="2.9" ry="2.9" transform="rotate(104 72.3 -2.4)" fill="#8a3a1c" opacity="1.0"/><ellipse cx="72.3" cy="67.6" rx="2.9" ry="2.9" transform="rotate(104 72.3 67.6)" fill="#8a3a1c" opacity="1.0"/><ellipse cx="23.6" cy="30.2" rx="2.0" ry="1.5" transform="rotate(40 23.6 30.2)" fill="#b5cde6" opacity="1.0"/><ellipse cx="33.1" cy="10.8" rx="2.0" ry="1.7" transform="rotate(81 33.1 10.8)" fill="#8a3a1c" opacity="1.0"/><ellipse cx="50.4" cy="36.0" rx="1.9" ry="1.9" transform="rotate(101 50.4 36.0)" fill="#b5cde6" opacity="1.0"/><ellipse cx="25.3" cy="15.8" rx="2.1" ry="1.7" transform="rotate(19 25.3 15.8)" fill="#c7dbe9" opacity="1.0"/><ellipse cx="0.3" cy="42.0" rx="3.1" ry="2.8" transform="rotate(149 0.3 42.0)" fill="#d3d27c" opacity="1.0"/><ellipse cx="70.3" cy="42.0" rx="3.1" ry="2.8" transform="rotate(149 70.3 42.0)" fill="#d3d27c" opacity="1.0"/><ellipse cx="6.5" cy="-2.3" rx="2.9" ry="2.4" transform="rotate(127 6.5 -2.3)" fill="#8a3a1c" opacity="1.0"/><ellipse cx="6.5" cy="67.7" rx="2.9" ry="2.4" transform="rotate(127 6.5 67.7)" fill="#8a3a1c" opacity="1.0"/><ellipse cx="35.1" cy="22.7" rx="2.3" ry="2.0" transform="rotate(35 35.1 22.7)" fill="#6aa59c" opacity="1.0"/><ellipse cx="42.9" cy="63.6" rx="2.8" ry="2.8" transform="rotate(177 42.9 63.6)" fill="#8a3a1c" opacity="1.0"/><ellipse cx="44.3" cy="5.6" rx="2.4" ry="2.2" transform="rotate(145 44.3 5.6)" fill="#c7dbe9" opacity="1.0"/><ellipse cx="59.5" cy="36.1" rx="2.7" ry="2.6" transform="rotate(141 59.5 36.1)" fill="#6aa59c" opacity="1.0"/><ellipse cx="45.6" cy="7.7" rx="2.5" ry="2.0" transform="rotate(105 45.6 7.7)" fill="#6aa59c" opacity="1.0"/><ellipse cx="14.4" cy="27.8" rx="2.3" ry="2.3" transform="rotate(94 14.4 27.8)" fill="#c7dbe9" opacity="1.0"/><ellipse cx="51.0" cy="57.5" rx="2.6" ry="2.1" transform="rotate(77 51.0 57.5)" fill="#7fb3a8" opacity="1.0"/><ellipse cx="57.6" cy="35.5" rx="1.9" ry="1.4" transform="rotate(90 57.6 35.5)" fill="#b5cde6" opacity="1.0"/><ellipse cx="19.0" cy="29.4" rx="2.0" ry="1.9" transform="rotate(49 19.0 29.4)" fill="#6aa59c" opacity="1.0"/><ellipse cx="19.2" cy="57.8" rx="2.2" ry="2.2" transform="rotate(114 19.2 57.8)" fill="#8a3a1c" opacity="1.0"/><ellipse cx="25.3" cy="-2.4" rx="2.9" ry="2.7" transform="rotate(45 25.3 -2.4)" fill="#b5cde6" opacity="1.0"/><ellipse cx="25.3" cy="67.6" rx="2.9" ry="2.7" transform="rotate(45 25.3 67.6)" fill="#b5cde6" opacity="1.0"/><ellipse cx="56.8" cy="36.8" rx="2.1" ry="1.8" transform="rotate(19 56.8 36.8)" fill="#b04a2c" opacity="1.0"/><ellipse cx="27.2" cy="45.8" rx="2.9" ry="2.9" transform="rotate(166 27.2 45.8)" fill="#b5cde6" opacity="1.0"/><ellipse cx="63.7" cy="1.5" rx="2.1" ry="1.6" transform="rotate(17 63.7 1.5)" fill="#7fb3a8" opacity="1.0"/><ellipse cx="63.7" cy="71.5" rx="2.1" ry="1.6" transform="rotate(17 63.7 71.5)" fill="#7fb3a8" opacity="1.0"/><ellipse cx="60.8" cy="63.4" rx="3.1" ry="2.3" transform="rotate(109 60.8 63.4)" fill="#b5cde6" opacity="1.0"/><ellipse cx="-1.3" cy="4.6" rx="2.9" ry="2.8" transform="rotate(15 -1.3 4.6)" fill="#8a3a1c" opacity="1.0"/><ellipse cx="-1.3" cy="74.6" rx="2.9" ry="2.8" transform="rotate(15 -1.3 74.6)" fill="#8a3a1c" opacity="1.0"/><ellipse cx="68.7" cy="4.6" rx="2.9" ry="2.8" transform="rotate(15 68.7 4.6)" fill="#8a3a1c" opacity="1.0"/><ellipse cx="68.7" cy="74.6" rx="2.9" ry="2.8" transform="rotate(15 68.7 74.6)" fill="#8a3a1c" opacity="1.0"/><ellipse cx="45.8" cy="25.6" rx="3.0" ry="2.8" transform="rotate(130 45.8 25.6)" fill="#d3d27c" opacity="1.0"/><ellipse cx="55.3" cy="15.6" rx="2.8" ry="2.8" transform="rotate(12 55.3 15.6)" fill="#b04a2c" opacity="1.0"/><ellipse cx="64.2" cy="42.7" rx="2.4" ry="1.8" transform="rotate(161 64.2 42.7)" fill="#8a3a1c" opacity="1.0"/><ellipse cx="30.2" cy="54.8" rx="1.9" ry="1.5" transform="rotate(53 30.2 54.8)" fill="#8a3a1c" opacity="1.0"/><ellipse cx="23.6" cy="13.9" rx="3.1" ry="2.2" transform="rotate(142 23.6 13.9)" fill="#8a3a1c" opacity="1.0"/><ellipse cx="57.8" cy="39.2" rx="2.3" ry="2.2" transform="rotate(133 57.8 39.2)" fill="#7fb3a8" opacity="1.0"/><ellipse cx="7.8" cy="50.3" rx="1.9" ry="1.4" transform="rotate(135 7.8 50.3)" fill="#8a3a1c" opacity="1.0"/><ellipse cx="22.9" cy="28.5" rx="2.0" ry="1.9" transform="rotate(11 22.9 28.5)" fill="#7fb3a8" opacity="1.0"/><ellipse cx="41.0" cy="43.0" rx="2.4" ry="2.3" transform="rotate(104 41.0 43.0)" fill="#c7dbe9" opacity="1.0"/><ellipse cx="64.6" cy="48.4" rx="3.2" ry="2.7" transform="rotate(66 64.6 48.4)" fill="#b5cde6" opacity="1.0"/><ellipse cx="54.6" cy="13.1" rx="2.2" ry="2.1" transform="rotate(150 54.6 13.1)" fill="#b5cde6" opacity="1.0"/><ellipse cx="58.6" cy="35.0" rx="3.2" ry="2.7" transform="rotate(169 58.6 35.0)" fill="#6aa59c" opacity="1.0"/><ellipse cx="56.5" cy="39.8" rx="2.3" ry="1.7" transform="rotate(88 56.5 39.8)" fill="#7fb3a8" opacity="1.0"/><ellipse cx="8.7" cy="27.6" rx="1.8" ry="1.5" transform="rotate(170 8.7 27.6)" fill="#6aa59c" opacity="1.0"/><ellipse cx="26.3" cy="1.9" rx="3.2" ry="3.0" transform="rotate(3 26.3 1.9)" fill="#b5cde6" opacity="1.0"/><ellipse cx="26.3" cy="71.9" rx="3.2" ry="3.0" transform="rotate(3 26.3 71.9)" fill="#b5cde6" opacity="1.0"/><ellipse cx="12.9" cy="40.6" rx="2.0" ry="2.0" transform="rotate(77 12.9 40.6)" fill="#c7dbe9" opacity="1.0"/><ellipse cx="40.5" cy="61.4" rx="2.3" ry="2.0" transform="rotate(178 40.5 61.4)" fill="#c7dbe9" opacity="1.0"/></pattern><pattern id="pKiL" width="70" height="70" patternUnits="userSpaceOnUse"><rect width="70" height="70" fill="#dde8f2"/><ellipse cx="32.4" cy="26.1" rx="1.4" ry="1.3" transform="rotate(1 32.4 26.1)" fill="#c9dda0" opacity="1.0"/><ellipse cx="32.5" cy="42.3" rx="1.7" ry="1.6" transform="rotate(126 32.5 42.3)" fill="#c9dda0" opacity="1.0"/><ellipse cx="26.5" cy="49.2" rx="1.8" ry="1.6" transform="rotate(28 26.5 49.2)" fill="#d6dc92" opacity="1.0"/><ellipse cx="3.6" cy="9.3" rx="2.4" ry="2.4" transform="rotate(11 3.6 9.3)" fill="#c9dda0" opacity="1.0"/><ellipse cx="73.6" cy="9.3" rx="2.4" ry="2.4" transform="rotate(11 73.6 9.3)" fill="#c9dda0" opacity="1.0"/><ellipse cx="26.9" cy="52.2" rx="1.3" ry="0.8" transform="rotate(121 26.9 52.2)" fill="#c9dda0" opacity="1.0"/><ellipse cx="55.5" cy="62.3" rx="2.3" ry="2.2" transform="rotate(71 55.5 62.3)" fill="#b9d2ea" opacity="1.0"/><ellipse cx="56.7" cy="14.0" rx="2.4" ry="2.3" transform="rotate(10 56.7 14.0)" fill="#b9d2ea" opacity="1.0"/><ellipse cx="59.2" cy="9.7" rx="1.5" ry="1.3" transform="rotate(153 59.2 9.7)" fill="#c9dda0" opacity="1.0"/><ellipse cx="0.3" cy="53.5" rx="1.5" ry="1.4" transform="rotate(59 0.3 53.5)" fill="#d6dc92" opacity="1.0"/><ellipse cx="70.3" cy="53.5" rx="1.5" ry="1.4" transform="rotate(59 70.3 53.5)" fill="#d6dc92" opacity="1.0"/><ellipse cx="9.3" cy="64.2" rx="1.9" ry="1.5" transform="rotate(97 9.3 64.2)" fill="#d6dc92" opacity="1.0"/><ellipse cx="29.4" cy="27.9" rx="2.1" ry="1.0" transform="rotate(104 29.4 27.9)" fill="#d6dc92" opacity="1.0"/><ellipse cx="-4.2" cy="50.4" rx="1.3" ry="0.8" transform="rotate(123 -4.2 50.4)" fill="#d6dc92" opacity="1.0"/><ellipse cx="65.8" cy="50.4" rx="1.3" ry="0.8" transform="rotate(123 65.8 50.4)" fill="#d6dc92" opacity="1.0"/><ellipse cx="52.2" cy="51.6" rx="2.0" ry="0.9" transform="rotate(156 52.2 51.6)" fill="#b9d2ea" opacity="1.0"/><ellipse cx="-3.4" cy="16.6" rx="2.1" ry="1.0" transform="rotate(66 -3.4 16.6)" fill="#c9dda0" opacity="1.0"/><ellipse cx="66.6" cy="16.6" rx="2.1" ry="1.0" transform="rotate(66 66.6 16.6)" fill="#c9dda0" opacity="1.0"/><ellipse cx="36.5" cy="39.6" rx="2.2" ry="2.0" transform="rotate(20 36.5 39.6)" fill="#c9dda0" opacity="1.0"/><ellipse cx="25.6" cy="14.7" rx="1.5" ry="1.4" transform="rotate(134 25.6 14.7)" fill="#b9d2ea" opacity="1.0"/><ellipse cx="56.0" cy="23.0" rx="1.8" ry="1.0" transform="rotate(80 56.0 23.0)" fill="#b9d2ea" opacity="1.0"/><ellipse cx="57.0" cy="21.5" rx="1.6" ry="1.2" transform="rotate(10 57.0 21.5)" fill="#b9d2ea" opacity="1.0"/><ellipse cx="54.7" cy="56.5" rx="1.9" ry="1.6" transform="rotate(45 54.7 56.5)" fill="#c9dda0" opacity="1.0"/><ellipse cx="4.6" cy="45.3" rx="1.3" ry="1.2" transform="rotate(92 4.6 45.3)" fill="#c9dda0" opacity="1.0"/><ellipse cx="25.9" cy="46.7" rx="1.4" ry="1.3" transform="rotate(47 25.9 46.7)" fill="#d6dc92" opacity="1.0"/><ellipse cx="-4.2" cy="56.7" rx="1.6" ry="0.8" transform="rotate(22 -4.2 56.7)" fill="#d6dc92" opacity="1.0"/><ellipse cx="65.8" cy="56.7" rx="1.6" ry="0.8" transform="rotate(22 65.8 56.7)" fill="#d6dc92" opacity="1.0"/><ellipse cx="0.8" cy="4.3" rx="1.5" ry="1.0" transform="rotate(110 0.8 4.3)" fill="#b9d2ea" opacity="1.0"/><ellipse cx="0.8" cy="74.3" rx="1.5" ry="1.0" transform="rotate(110 0.8 74.3)" fill="#b9d2ea" opacity="1.0"/><ellipse cx="70.8" cy="4.3" rx="1.5" ry="1.0" transform="rotate(110 70.8 4.3)" fill="#b9d2ea" opacity="1.0"/><ellipse cx="70.8" cy="74.3" rx="1.5" ry="1.0" transform="rotate(110 70.8 74.3)" fill="#b9d2ea" opacity="1.0"/><ellipse cx="20.0" cy="33.7" rx="1.6" ry="1.6" transform="rotate(135 20.0 33.7)" fill="#b9d2ea" opacity="1.0"/><ellipse cx="48.7" cy="4.6" rx="1.8" ry="1.5" transform="rotate(138 48.7 4.6)" fill="#b9d2ea" opacity="1.0"/><ellipse cx="48.7" cy="74.6" rx="1.8" ry="1.5" transform="rotate(138 48.7 74.6)" fill="#b9d2ea" opacity="1.0"/><ellipse cx="41.2" cy="56.2" rx="2.1" ry="1.3" transform="rotate(108 41.2 56.2)" fill="#c9dda0" opacity="1.0"/><ellipse cx="34.6" cy="6.9" rx="1.3" ry="0.9" transform="rotate(31 34.6 6.9)" fill="#c9dda0" opacity="1.0"/><ellipse cx="57.4" cy="11.4" rx="2.3" ry="2.1" transform="rotate(37 57.4 11.4)" fill="#b9d2ea" opacity="1.0"/><ellipse cx="32.0" cy="39.1" rx="1.7" ry="1.0" transform="rotate(87 32.0 39.1)" fill="#b9d2ea" opacity="1.0"/><ellipse cx="37.5" cy="-4.1" rx="1.2" ry="1.2" transform="rotate(160 37.5 -4.1)" fill="#c9dda0" opacity="1.0"/><ellipse cx="37.5" cy="65.9" rx="1.2" ry="1.2" transform="rotate(160 37.5 65.9)" fill="#c9dda0" opacity="1.0"/><ellipse cx="21.6" cy="36.9" rx="2.1" ry="1.9" transform="rotate(158 21.6 36.9)" fill="#c9dda0" opacity="1.0"/><ellipse cx="38.0" cy="21.0" rx="2.2" ry="1.9" transform="rotate(19 38.0 21.0)" fill="#c9dda0" opacity="1.0"/><ellipse cx="34.4" cy="4.2" rx="2.4" ry="2.1" transform="rotate(122 34.4 4.2)" fill="#d6dc92" opacity="1.0"/><ellipse cx="34.4" cy="74.2" rx="2.4" ry="2.1" transform="rotate(122 34.4 74.2)" fill="#d6dc92" opacity="1.0"/><ellipse cx="26.1" cy="61.5" rx="1.5" ry="1.4" transform="rotate(131 26.1 61.5)" fill="#c9dda0" opacity="1.0"/><ellipse cx="34.7" cy="17.0" rx="2.1" ry="1.0" transform="rotate(8 34.7 17.0)" fill="#b9d2ea" opacity="1.0"/><ellipse cx="28.5" cy="4.8" rx="1.5" ry="1.1" transform="rotate(33 28.5 4.8)" fill="#d6dc92" opacity="1.0"/><ellipse cx="2.1" cy="43.7" rx="2.0" ry="1.4" transform="rotate(127 2.1 43.7)" fill="#d6dc92" opacity="1.0"/><ellipse cx="72.1" cy="43.7" rx="2.0" ry="1.4" transform="rotate(127 72.1 43.7)" fill="#d6dc92" opacity="1.0"/><ellipse cx="23.4" cy="54.8" rx="1.2" ry="1.2" transform="rotate(106 23.4 54.8)" fill="#b9d2ea" opacity="1.0"/><ellipse cx="-1.0" cy="58.3" rx="1.3" ry="0.9" transform="rotate(42 -1.0 58.3)" fill="#d6dc92" opacity="1.0"/><ellipse cx="69.0" cy="58.3" rx="1.3" ry="0.9" transform="rotate(42 69.0 58.3)" fill="#d6dc92" opacity="1.0"/><ellipse cx="13.5" cy="15.5" rx="1.4" ry="0.7" transform="rotate(169 13.5 15.5)" fill="#d6dc92" opacity="1.0"/><ellipse cx="26.1" cy="51.9" rx="1.9" ry="1.4" transform="rotate(67 26.1 51.9)" fill="#c9dda0" opacity="1.0"/><ellipse cx="5.7" cy="0.4" rx="2.3" ry="1.9" transform="rotate(3 5.7 0.4)" fill="#b9d2ea" opacity="1.0"/><ellipse cx="5.7" cy="70.4" rx="2.3" ry="1.9" transform="rotate(3 5.7 70.4)" fill="#b9d2ea" opacity="1.0"/><ellipse cx="-3.9" cy="1.6" rx="1.3" ry="1.2" transform="rotate(10 -3.9 1.6)" fill="#b9d2ea" opacity="1.0"/><ellipse cx="-3.9" cy="71.6" rx="1.3" ry="1.2" transform="rotate(10 -3.9 71.6)" fill="#b9d2ea" opacity="1.0"/><ellipse cx="66.1" cy="1.6" rx="1.3" ry="1.2" transform="rotate(10 66.1 1.6)" fill="#b9d2ea" opacity="1.0"/><ellipse cx="66.1" cy="71.6" rx="1.3" ry="1.2" transform="rotate(10 66.1 71.6)" fill="#b9d2ea" opacity="1.0"/><ellipse cx="33.3" cy="22.1" rx="2.4" ry="1.9" transform="rotate(123 33.3 22.1)" fill="#d6dc92" opacity="1.0"/><ellipse cx="21.0" cy="56.0" rx="2.6" ry="2.3" transform="rotate(162 21.0 56.0)" fill="#d6dc92" opacity="1.0"/><ellipse cx="61.4" cy="64.4" rx="2.6" ry="1.3" transform="rotate(57 61.4 64.4)" fill="#d6dc92" opacity="1.0"/><ellipse cx="29.2" cy="22.5" rx="2.0" ry="1.9" transform="rotate(161 29.2 22.5)" fill="#b9d2ea" opacity="1.0"/><ellipse cx="14.6" cy="19.3" rx="1.8" ry="1.5" transform="rotate(102 14.6 19.3)" fill="#b9d2ea" opacity="1.0"/><ellipse cx="27.0" cy="23.1" rx="1.3" ry="0.6" transform="rotate(57 27.0 23.1)" fill="#d6dc92" opacity="1.0"/><ellipse cx="13.2" cy="49.8" rx="2.1" ry="1.1" transform="rotate(113 13.2 49.8)" fill="#b9d2ea" opacity="1.0"/></pattern><pattern id="pMv" width="64" height="64" patternUnits="userSpaceOnUse"><rect width="64" height="64" fill="#d9eff5"/><ellipse cx="36.6" cy="27.4" rx="2.5" ry="1.9" transform="rotate(146 36.6 27.4)" fill="#6f6fd4" opacity="1.0"/><ellipse cx="41.8" cy="10.3" rx="2.4" ry="1.9" transform="rotate(45 41.8 10.3)" fill="#6f6fd4" opacity="1.0"/><ellipse cx="2.9" cy="55.1" rx="2.5" ry="2.1" transform="rotate(51 2.9 55.1)" fill="#6f6fd4" opacity="1.0"/><ellipse cx="66.9" cy="55.1" rx="2.5" ry="2.1" transform="rotate(51 66.9 55.1)" fill="#6f6fd4" opacity="1.0"/><ellipse cx="29.2" cy="43.9" rx="2.6" ry="1.9" transform="rotate(138 29.2 43.9)" fill="#60d0e6" opacity="1.0"/><ellipse cx="-2.0" cy="39.3" rx="1.9" ry="1.3" transform="rotate(24 -2.0 39.3)" fill="#6f6fd4" opacity="1.0"/><ellipse cx="62.0" cy="39.3" rx="1.9" ry="1.3" transform="rotate(24 62.0 39.3)" fill="#6f6fd4" opacity="1.0"/><ellipse cx="34.3" cy="49.4" rx="2.1" ry="1.9" transform="rotate(81 34.3 49.4)" fill="#a0d8e8" opacity="1.0"/><ellipse cx="4.2" cy="37.4" rx="2.8" ry="2.1" transform="rotate(40 4.2 37.4)" fill="#a0d8e8" opacity="1.0"/><ellipse cx="68.2" cy="37.4" rx="2.8" ry="2.1" transform="rotate(40 68.2 37.4)" fill="#a0d8e8" opacity="1.0"/><ellipse cx="15.3" cy="2.0" rx="2.2" ry="1.9" transform="rotate(13 15.3 2.0)" fill="#54c9e2" opacity="1.0"/><ellipse cx="15.3" cy="66.0" rx="2.2" ry="1.9" transform="rotate(13 15.3 66.0)" fill="#54c9e2" opacity="1.0"/><ellipse cx="9.6" cy="36.3" rx="2.2" ry="2.0" transform="rotate(20 9.6 36.3)" fill="#54c9e2" opacity="1.0"/><ellipse cx="28.3" cy="-1.2" rx="2.0" ry="1.6" transform="rotate(175 28.3 -1.2)" fill="#a0d8e8" opacity="1.0"/><ellipse cx="28.3" cy="62.8" rx="2.0" ry="1.6" transform="rotate(175 28.3 62.8)" fill="#a0d8e8" opacity="1.0"/><ellipse cx="15.7" cy="17.6" rx="2.5" ry="1.9" transform="rotate(22 15.7 17.6)" fill="#a0d8e8" opacity="1.0"/><ellipse cx="19.4" cy="42.3" rx="2.9" ry="2.2" transform="rotate(32 19.4 42.3)" fill="#6f6fd4" opacity="1.0"/><ellipse cx="21.0" cy="14.3" rx="2.5" ry="1.7" transform="rotate(161 21.0 14.3)" fill="#60d0e6" opacity="1.0"/><ellipse cx="5.1" cy="28.7" rx="2.5" ry="2.0" transform="rotate(157 5.1 28.7)" fill="#60d0e6" opacity="1.0"/><ellipse cx="47.1" cy="-0.5" rx="2.1" ry="1.8" transform="rotate(90 47.1 -0.5)" fill="#60d0e6" opacity="1.0"/><ellipse cx="47.1" cy="63.5" rx="2.1" ry="1.8" transform="rotate(90 47.1 63.5)" fill="#60d0e6" opacity="1.0"/><ellipse cx="31.3" cy="29.5" rx="2.3" ry="1.9" transform="rotate(105 31.3 29.5)" fill="#e8f2f6" opacity="1.0"/><ellipse cx="24.8" cy="44.9" rx="2.5" ry="1.8" transform="rotate(175 24.8 44.9)" fill="#54c9e2" opacity="1.0"/><ellipse cx="55.8" cy="28.1" rx="1.9" ry="1.5" transform="rotate(27 55.8 28.1)" fill="#e8f2f6" opacity="1.0"/><ellipse cx="29.1" cy="-0.5" rx="2.4" ry="2.0" transform="rotate(79 29.1 -0.5)" fill="#e8f2f6" opacity="1.0"/><ellipse cx="29.1" cy="63.5" rx="2.4" ry="2.0" transform="rotate(79 29.1 63.5)" fill="#e8f2f6" opacity="1.0"/><ellipse cx="-5.0" cy="22.0" rx="2.1" ry="2.0" transform="rotate(82 -5.0 22.0)" fill="#6f6fd4" opacity="1.0"/><ellipse cx="59.0" cy="22.0" rx="2.1" ry="2.0" transform="rotate(82 59.0 22.0)" fill="#6f6fd4" opacity="1.0"/><ellipse cx="41.6" cy="58.2" rx="2.0" ry="1.5" transform="rotate(111 41.6 58.2)" fill="#60d0e6" opacity="1.0"/><ellipse cx="41.1" cy="37.7" rx="2.8" ry="2.4" transform="rotate(145 41.1 37.7)" fill="#6f6fd4" opacity="1.0"/><ellipse cx="27.9" cy="55.0" rx="2.7" ry="2.6" transform="rotate(8 27.9 55.0)" fill="#e8f2f6" opacity="1.0"/><ellipse cx="49.1" cy="-2.4" rx="3.0" ry="2.3" transform="rotate(121 49.1 -2.4)" fill="#60d0e6" opacity="1.0"/><ellipse cx="49.1" cy="61.6" rx="3.0" ry="2.3" transform="rotate(121 49.1 61.6)" fill="#60d0e6" opacity="1.0"/><ellipse cx="23.1" cy="25.6" rx="2.7" ry="2.7" transform="rotate(33 23.1 25.6)" fill="#e8f2f6" opacity="1.0"/><ellipse cx="12.5" cy="13.3" rx="1.9" ry="1.9" transform="rotate(160 12.5 13.3)" fill="#a0d8e8" opacity="1.0"/><ellipse cx="55.2" cy="48.1" rx="2.8" ry="2.6" transform="rotate(81 55.2 48.1)" fill="#e8f2f6" opacity="1.0"/><ellipse cx="13.3" cy="38.2" rx="1.9" ry="1.8" transform="rotate(1 13.3 38.2)" fill="#a0d8e8" opacity="1.0"/><ellipse cx="39.0" cy="56.0" rx="2.8" ry="2.5" transform="rotate(13 39.0 56.0)" fill="#a0d8e8" opacity="1.0"/><ellipse cx="51.0" cy="52.7" rx="2.2" ry="1.8" transform="rotate(76 51.0 52.7)" fill="#60d0e6" opacity="1.0"/><ellipse cx="40.2" cy="18.1" rx="2.6" ry="2.2" transform="rotate(91 40.2 18.1)" fill="#6f6fd4" opacity="1.0"/><ellipse cx="25.9" cy="40.9" rx="2.2" ry="1.7" transform="rotate(163 25.9 40.9)" fill="#a0d8e8" opacity="1.0"/><ellipse cx="37.6" cy="5.4" rx="2.4" ry="2.0" transform="rotate(130 37.6 5.4)" fill="#60d0e6" opacity="1.0"/><ellipse cx="-2.3" cy="-0.5" rx="2.7" ry="1.9" transform="rotate(153 -2.3 -0.5)" fill="#6f6fd4" opacity="1.0"/><ellipse cx="-2.3" cy="63.5" rx="2.7" ry="1.9" transform="rotate(153 -2.3 63.5)" fill="#6f6fd4" opacity="1.0"/><ellipse cx="61.7" cy="-0.5" rx="2.7" ry="1.9" transform="rotate(153 61.7 -0.5)" fill="#6f6fd4" opacity="1.0"/><ellipse cx="61.7" cy="63.5" rx="2.7" ry="1.9" transform="rotate(153 61.7 63.5)" fill="#6f6fd4" opacity="1.0"/><ellipse cx="1.0" cy="21.0" rx="2.2" ry="2.0" transform="rotate(110 1.0 21.0)" fill="#6f6fd4" opacity="1.0"/><ellipse cx="65.0" cy="21.0" rx="2.2" ry="2.0" transform="rotate(110 65.0 21.0)" fill="#6f6fd4" opacity="1.0"/><ellipse cx="38.8" cy="15.4" rx="2.2" ry="1.9" transform="rotate(147 38.8 15.4)" fill="#54c9e2" opacity="1.0"/><ellipse cx="14.1" cy="47.7" rx="2.9" ry="2.2" transform="rotate(103 14.1 47.7)" fill="#a0d8e8" opacity="1.0"/><ellipse cx="58.6" cy="51.5" rx="2.5" ry="2.1" transform="rotate(61 58.6 51.5)" fill="#e8f2f6" opacity="1.0"/><ellipse cx="12.2" cy="-4.3" rx="2.5" ry="2.3" transform="rotate(150 12.2 -4.3)" fill="#54c9e2" opacity="1.0"/><ellipse cx="12.2" cy="59.7" rx="2.5" ry="2.3" transform="rotate(150 12.2 59.7)" fill="#54c9e2" opacity="1.0"/><ellipse cx="42.1" cy="37.0" rx="1.8" ry="1.5" transform="rotate(168 42.1 37.0)" fill="#6f6fd4" opacity="1.0"/><ellipse cx="38.5" cy="11.0" rx="2.0" ry="1.8" transform="rotate(156 38.5 11.0)" fill="#60d0e6" opacity="1.0"/><ellipse cx="2.0" cy="58.9" rx="2.4" ry="1.9" transform="rotate(72 2.0 58.9)" fill="#e8f2f6" opacity="1.0"/><ellipse cx="66.0" cy="58.9" rx="2.4" ry="1.9" transform="rotate(72 66.0 58.9)" fill="#e8f2f6" opacity="1.0"/><ellipse cx="56.4" cy="3.8" rx="2.9" ry="2.4" transform="rotate(85 56.4 3.8)" fill="#a0d8e8" opacity="1.0"/><ellipse cx="56.4" cy="67.8" rx="2.9" ry="2.4" transform="rotate(85 56.4 67.8)" fill="#a0d8e8" opacity="1.0"/><ellipse cx="46.2" cy="-0.9" rx="2.0" ry="1.9" transform="rotate(148 46.2 -0.9)" fill="#6f6fd4" opacity="1.0"/><ellipse cx="46.2" cy="63.1" rx="2.0" ry="1.9" transform="rotate(148 46.2 63.1)" fill="#6f6fd4" opacity="1.0"/><ellipse cx="-2.8" cy="32.8" rx="2.3" ry="1.7" transform="rotate(115 -2.8 32.8)" fill="#54c9e2" opacity="1.0"/><ellipse cx="61.2" cy="32.8" rx="2.3" ry="1.7" transform="rotate(115 61.2 32.8)" fill="#54c9e2" opacity="1.0"/><ellipse cx="-4.3" cy="12.0" rx="2.6" ry="2.2" transform="rotate(175 -4.3 12.0)" fill="#6f6fd4" opacity="1.0"/><ellipse cx="59.7" cy="12.0" rx="2.6" ry="2.2" transform="rotate(175 59.7 12.0)" fill="#6f6fd4" opacity="1.0"/><ellipse cx="35.8" cy="-2.5" rx="2.5" ry="1.9" transform="rotate(172 35.8 -2.5)" fill="#60d0e6" opacity="1.0"/><ellipse cx="35.8" cy="61.5" rx="2.5" ry="1.9" transform="rotate(172 35.8 61.5)" fill="#60d0e6" opacity="1.0"/><ellipse cx="3.2" cy="11.3" rx="2.6" ry="2.1" transform="rotate(33 3.2 11.3)" fill="#54c9e2" opacity="1.0"/><ellipse cx="67.2" cy="11.3" rx="2.6" ry="2.1" transform="rotate(33 67.2 11.3)" fill="#54c9e2" opacity="1.0"/><ellipse cx="25.3" cy="48.9" rx="1.9" ry="1.8" transform="rotate(88 25.3 48.9)" fill="#60d0e6" opacity="1.0"/><ellipse cx="26.0" cy="48.2" rx="2.4" ry="2.2" transform="rotate(158 26.0 48.2)" fill="#60d0e6" opacity="1.0"/><ellipse cx="53.3" cy="11.3" rx="2.6" ry="2.0" transform="rotate(116 53.3 11.3)" fill="#a0d8e8" opacity="1.0"/><ellipse cx="-2.0" cy="25.4" rx="2.8" ry="2.1" transform="rotate(76 -2.0 25.4)" fill="#6f6fd4" opacity="1.0"/><ellipse cx="62.0" cy="25.4" rx="2.8" ry="2.1" transform="rotate(76 62.0 25.4)" fill="#6f6fd4" opacity="1.0"/><ellipse cx="46.3" cy="34.1" rx="2.8" ry="2.1" transform="rotate(150 46.3 34.1)" fill="#e8f2f6" opacity="1.0"/><ellipse cx="39.7" cy="38.9" rx="2.4" ry="1.7" transform="rotate(28 39.7 38.9)" fill="#a0d8e8" opacity="1.0"/><ellipse cx="44.4" cy="6.2" rx="2.6" ry="2.2" transform="rotate(104 44.4 6.2)" fill="#a0d8e8" opacity="1.0"/><ellipse cx="37.3" cy="18.4" rx="1.9" ry="1.8" transform="rotate(112 37.3 18.4)" fill="#e8f2f6" opacity="1.0"/><ellipse cx="34.0" cy="4.8" rx="2.8" ry="2.0" transform="rotate(151 34.0 4.8)" fill="#6f6fd4" opacity="1.0"/><ellipse cx="34.0" cy="68.8" rx="2.8" ry="2.0" transform="rotate(151 34.0 68.8)" fill="#6f6fd4" opacity="1.0"/><ellipse cx="53.4" cy="11.4" rx="1.9" ry="1.5" transform="rotate(86 53.4 11.4)" fill="#60d0e6" opacity="1.0"/><ellipse cx="1.2" cy="8.1" rx="3.0" ry="2.2" transform="rotate(163 1.2 8.1)" fill="#a0d8e8" opacity="1.0"/><ellipse cx="65.2" cy="8.1" rx="3.0" ry="2.2" transform="rotate(163 65.2 8.1)" fill="#a0d8e8" opacity="1.0"/><ellipse cx="39.3" cy="37.4" rx="2.3" ry="2.0" transform="rotate(6 39.3 37.4)" fill="#54c9e2" opacity="1.0"/><ellipse cx="7.9" cy="53.7" rx="2.6" ry="2.4" transform="rotate(32 7.9 53.7)" fill="#a0d8e8" opacity="1.0"/><ellipse cx="4.3" cy="42.4" rx="2.7" ry="2.0" transform="rotate(76 4.3 42.4)" fill="#54c9e2" opacity="1.0"/><ellipse cx="68.3" cy="42.4" rx="2.7" ry="2.0" transform="rotate(76 68.3 42.4)" fill="#54c9e2" opacity="1.0"/><ellipse cx="35.3" cy="3.4" rx="2.3" ry="1.9" transform="rotate(60 35.3 3.4)" fill="#54c9e2" opacity="1.0"/><ellipse cx="35.3" cy="67.4" rx="2.3" ry="1.9" transform="rotate(60 35.3 67.4)" fill="#54c9e2" opacity="1.0"/><ellipse cx="25.5" cy="29.4" rx="2.9" ry="2.7" transform="rotate(120 25.5 29.4)" fill="#60d0e6" opacity="1.0"/><ellipse cx="17.0" cy="11.3" rx="2.4" ry="1.8" transform="rotate(14 17.0 11.3)" fill="#e8f2f6" opacity="1.0"/><ellipse cx="19.7" cy="49.1" rx="2.4" ry="1.9" transform="rotate(111 19.7 49.1)" fill="#6f6fd4" opacity="1.0"/><ellipse cx="51.8" cy="36.9" rx="2.6" ry="2.4" transform="rotate(77 51.8 36.9)" fill="#e8f2f6" opacity="1.0"/><ellipse cx="9.3" cy="3.8" rx="1.9" ry="1.3" transform="rotate(38 9.3 3.8)" fill="#54c9e2" opacity="1.0"/><ellipse cx="9.3" cy="67.8" rx="1.9" ry="1.3" transform="rotate(38 9.3 67.8)" fill="#54c9e2" opacity="1.0"/><ellipse cx="13.7" cy="19.6" rx="2.6" ry="2.2" transform="rotate(155 13.7 19.6)" fill="#6f6fd4" opacity="1.0"/><ellipse cx="33.0" cy="45.4" rx="2.4" ry="2.0" transform="rotate(83 33.0 45.4)" fill="#60d0e6" opacity="1.0"/><ellipse cx="1.8" cy="39.0" rx="2.3" ry="2.3" transform="rotate(149 1.8 39.0)" fill="#60d0e6" opacity="1.0"/><ellipse cx="65.8" cy="39.0" rx="2.3" ry="2.3" transform="rotate(149 65.8 39.0)" fill="#60d0e6" opacity="1.0"/><ellipse cx="21.7" cy="42.8" rx="2.0" ry="1.7" transform="rotate(70 21.7 42.8)" fill="#a0d8e8" opacity="1.0"/><ellipse cx="44.9" cy="-1.2" rx="2.4" ry="1.9" transform="rotate(173 44.9 -1.2)" fill="#e8f2f6" opacity="1.0"/><ellipse cx="44.9" cy="62.8" rx="2.4" ry="1.9" transform="rotate(173 44.9 62.8)" fill="#e8f2f6" opacity="1.0"/><ellipse cx="24.3" cy="57.0" rx="2.9" ry="2.7" transform="rotate(57 24.3 57.0)" fill="#54c9e2" opacity="1.0"/><ellipse cx="29.3" cy="43.1" rx="3.0" ry="2.5" transform="rotate(68 29.3 43.1)" fill="#54c9e2" opacity="1.0"/><ellipse cx="58.5" cy="46.2" rx="2.0" ry="1.9" transform="rotate(168 58.5 46.2)" fill="#a0d8e8" opacity="1.0"/><ellipse cx="14.2" cy="30.6" rx="2.5" ry="2.2" transform="rotate(169 14.2 30.6)" fill="#54c9e2" opacity="1.0"/><ellipse cx="4.3" cy="23.4" rx="2.3" ry="1.9" transform="rotate(135 4.3 23.4)" fill="#a0d8e8" opacity="1.0"/><ellipse cx="68.3" cy="23.4" rx="2.3" ry="1.9" transform="rotate(135 68.3 23.4)" fill="#a0d8e8" opacity="1.0"/><ellipse cx="34.8" cy="34.6" rx="2.6" ry="2.4" transform="rotate(129 34.8 34.6)" fill="#a0d8e8" opacity="1.0"/><ellipse cx="14.0" cy="33.0" rx="2.4" ry="2.3" transform="rotate(119 14.0 33.0)" fill="#60d0e6" opacity="1.0"/><ellipse cx="-0.8" cy="34.3" rx="2.7" ry="2.6" transform="rotate(106 -0.8 34.3)" fill="#60d0e6" opacity="1.0"/><ellipse cx="63.2" cy="34.3" rx="2.7" ry="2.6" transform="rotate(106 63.2 34.3)" fill="#60d0e6" opacity="1.0"/><ellipse cx="4.6" cy="25.3" rx="1.9" ry="1.9" transform="rotate(169 4.6 25.3)" fill="#a0d8e8" opacity="1.0"/><ellipse cx="68.6" cy="25.3" rx="1.9" ry="1.9" transform="rotate(169 68.6 25.3)" fill="#a0d8e8" opacity="1.0"/><ellipse cx="11.4" cy="10.9" rx="2.3" ry="1.7" transform="rotate(60 11.4 10.9)" fill="#e8f2f6" opacity="1.0"/><ellipse cx="16.6" cy="3.8" rx="2.3" ry="1.8" transform="rotate(59 16.6 3.8)" fill="#6f6fd4" opacity="1.0"/><ellipse cx="16.6" cy="67.8" rx="2.3" ry="1.8" transform="rotate(59 16.6 67.8)" fill="#6f6fd4" opacity="1.0"/><ellipse cx="32.1" cy="49.7" rx="2.9" ry="2.0" transform="rotate(129 32.1 49.7)" fill="#a0d8e8" opacity="1.0"/><ellipse cx="10.9" cy="52.8" rx="2.9" ry="2.4" transform="rotate(178 10.9 52.8)" fill="#54c9e2" opacity="1.0"/><ellipse cx="29.6" cy="56.1" rx="1.9" ry="1.5" transform="rotate(14 29.6 56.1)" fill="#54c9e2" opacity="1.0"/><ellipse cx="33.3" cy="46.4" rx="2.1" ry="1.8" transform="rotate(156 33.3 46.4)" fill="#a0d8e8" opacity="1.0"/><ellipse cx="-3.6" cy="48.2" rx="2.8" ry="2.7" transform="rotate(71 -3.6 48.2)" fill="#54c9e2" opacity="1.0"/><ellipse cx="60.4" cy="48.2" rx="2.8" ry="2.7" transform="rotate(71 60.4 48.2)" fill="#54c9e2" opacity="1.0"/><ellipse cx="28.4" cy="29.4" rx="2.5" ry="2.1" transform="rotate(76 28.4 29.4)" fill="#e8f2f6" opacity="1.0"/><ellipse cx="42.0" cy="28.8" rx="2.1" ry="1.8" transform="rotate(84 42.0 28.8)" fill="#6f6fd4" opacity="1.0"/><ellipse cx="-1.7" cy="35.3" rx="2.3" ry="2.2" transform="rotate(90 -1.7 35.3)" fill="#6f6fd4" opacity="1.0"/><ellipse cx="62.3" cy="35.3" rx="2.3" ry="2.2" transform="rotate(90 62.3 35.3)" fill="#6f6fd4" opacity="1.0"/><ellipse cx="40.4" cy="52.2" rx="2.2" ry="1.7" transform="rotate(67 40.4 52.2)" fill="#60d0e6" opacity="1.0"/><ellipse cx="34.0" cy="53.3" rx="2.4" ry="2.3" transform="rotate(154 34.0 53.3)" fill="#54c9e2" opacity="1.0"/><ellipse cx="10.5" cy="-0.5" rx="2.2" ry="2.0" transform="rotate(5 10.5 -0.5)" fill="#a0d8e8" opacity="1.0"/><ellipse cx="10.5" cy="63.5" rx="2.2" ry="2.0" transform="rotate(5 10.5 63.5)" fill="#a0d8e8" opacity="1.0"/></pattern><pattern id="pMv2" width="64" height="64" patternUnits="userSpaceOnUse"><rect width="64" height="64" fill="#e2edf3"/><ellipse cx="29.0" cy="35.8" rx="2.9" ry="2.3" transform="rotate(91 29.0 35.8)" fill="#cbe0ea" opacity="1.0"/><ellipse cx="12.2" cy="51.4" rx="2.4" ry="2.0" transform="rotate(34 12.2 51.4)" fill="#b8d4e6" opacity="1.0"/><ellipse cx="19.4" cy="5.8" rx="2.8" ry="2.4" transform="rotate(8 19.4 5.8)" fill="#b8d4e6" opacity="1.0"/><ellipse cx="-2.3" cy="41.9" rx="2.5" ry="1.7" transform="rotate(3 -2.3 41.9)" fill="#cbe0ea" opacity="1.0"/><ellipse cx="61.7" cy="41.9" rx="2.5" ry="1.7" transform="rotate(3 61.7 41.9)" fill="#cbe0ea" opacity="1.0"/><ellipse cx="4.0" cy="2.3" rx="2.9" ry="2.4" transform="rotate(140 4.0 2.3)" fill="#b8d4e6" opacity="1.0"/><ellipse cx="4.0" cy="66.3" rx="2.9" ry="2.4" transform="rotate(140 4.0 66.3)" fill="#b8d4e6" opacity="1.0"/><ellipse cx="68.0" cy="2.3" rx="2.9" ry="2.4" transform="rotate(140 68.0 2.3)" fill="#b8d4e6" opacity="1.0"/><ellipse cx="68.0" cy="66.3" rx="2.9" ry="2.4" transform="rotate(140 68.0 66.3)" fill="#b8d4e6" opacity="1.0"/><ellipse cx="28.2" cy="53.9" rx="2.4" ry="2.1" transform="rotate(90 28.2 53.9)" fill="#cbe0ea" opacity="1.0"/><ellipse cx="5.4" cy="41.9" rx="2.3" ry="1.9" transform="rotate(168 5.4 41.9)" fill="#d4dc9a" opacity="1.0"/><ellipse cx="45.3" cy="20.2" rx="2.1" ry="1.5" transform="rotate(13 45.3 20.2)" fill="#d4dc9a" opacity="1.0"/><ellipse cx="25.6" cy="54.2" rx="2.3" ry="2.2" transform="rotate(153 25.6 54.2)" fill="#d4dc9a" opacity="1.0"/><ellipse cx="13.7" cy="-4.7" rx="1.9" ry="1.4" transform="rotate(128 13.7 -4.7)" fill="#b8d4e6" opacity="1.0"/><ellipse cx="13.7" cy="59.3" rx="1.9" ry="1.4" transform="rotate(128 13.7 59.3)" fill="#b8d4e6" opacity="1.0"/><ellipse cx="4.7" cy="40.3" rx="2.7" ry="1.9" transform="rotate(16 4.7 40.3)" fill="#b8d4e6" opacity="1.0"/><ellipse cx="68.7" cy="40.3" rx="2.7" ry="1.9" transform="rotate(16 68.7 40.3)" fill="#b8d4e6" opacity="1.0"/><ellipse cx="1.0" cy="26.2" rx="2.9" ry="1.9" transform="rotate(127 1.0 26.2)" fill="#d4dc9a" opacity="1.0"/><ellipse cx="65.0" cy="26.2" rx="2.9" ry="1.9" transform="rotate(127 65.0 26.2)" fill="#d4dc9a" opacity="1.0"/><ellipse cx="3.8" cy="51.0" rx="2.0" ry="1.7" transform="rotate(81 3.8 51.0)" fill="#d4dc9a" opacity="1.0"/><ellipse cx="67.8" cy="51.0" rx="2.0" ry="1.7" transform="rotate(81 67.8 51.0)" fill="#d4dc9a" opacity="1.0"/><ellipse cx="-0.9" cy="49.2" rx="2.3" ry="1.7" transform="rotate(71 -0.9 49.2)" fill="#d4dc9a" opacity="1.0"/><ellipse cx="63.1" cy="49.2" rx="2.3" ry="1.7" transform="rotate(71 63.1 49.2)" fill="#d4dc9a" opacity="1.0"/><ellipse cx="0.0" cy="55.3" rx="3.0" ry="2.5" transform="rotate(180 0.0 55.3)" fill="#d4dc9a" opacity="1.0"/><ellipse cx="64.0" cy="55.3" rx="3.0" ry="2.5" transform="rotate(180 64.0 55.3)" fill="#d4dc9a" opacity="1.0"/><ellipse cx="13.5" cy="25.2" rx="2.8" ry="2.4" transform="rotate(18 13.5 25.2)" fill="#d4dc9a" opacity="1.0"/><ellipse cx="13.6" cy="16.5" rx="2.7" ry="2.0" transform="rotate(53 13.6 16.5)" fill="#d4dc9a" opacity="1.0"/><ellipse cx="4.8" cy="13.4" rx="2.6" ry="1.6" transform="rotate(66 4.8 13.4)" fill="#cbe0ea" opacity="1.0"/><ellipse cx="68.8" cy="13.4" rx="2.6" ry="1.6" transform="rotate(66 68.8 13.4)" fill="#cbe0ea" opacity="1.0"/><ellipse cx="29.0" cy="-2.6" rx="2.4" ry="2.0" transform="rotate(156 29.0 -2.6)" fill="#d4dc9a" opacity="1.0"/><ellipse cx="29.0" cy="61.4" rx="2.4" ry="2.0" transform="rotate(156 29.0 61.4)" fill="#d4dc9a" opacity="1.0"/><ellipse cx="40.1" cy="19.9" rx="2.1" ry="1.8" transform="rotate(131 40.1 19.9)" fill="#d4dc9a" opacity="1.0"/><ellipse cx="47.3" cy="-3.8" rx="2.0" ry="2.0" transform="rotate(159 47.3 -3.8)" fill="#cbe0ea" opacity="1.0"/><ellipse cx="47.3" cy="60.2" rx="2.0" ry="2.0" transform="rotate(159 47.3 60.2)" fill="#cbe0ea" opacity="1.0"/><ellipse cx="5.0" cy="3.0" rx="1.9" ry="1.6" transform="rotate(46 5.0 3.0)" fill="#cbe0ea" opacity="1.0"/><ellipse cx="5.0" cy="67.0" rx="1.9" ry="1.6" transform="rotate(46 5.0 67.0)" fill="#cbe0ea" opacity="1.0"/><ellipse cx="45.1" cy="16.4" rx="2.8" ry="2.3" transform="rotate(53 45.1 16.4)" fill="#d4dc9a" opacity="1.0"/><ellipse cx="-4.5" cy="-1.5" rx="2.0" ry="1.5" transform="rotate(118 -4.5 -1.5)" fill="#cbe0ea" opacity="1.0"/><ellipse cx="-4.5" cy="62.5" rx="2.0" ry="1.5" transform="rotate(118 -4.5 62.5)" fill="#cbe0ea" opacity="1.0"/><ellipse cx="59.5" cy="-1.5" rx="2.0" ry="1.5" transform="rotate(118 59.5 -1.5)" fill="#cbe0ea" opacity="1.0"/><ellipse cx="59.5" cy="62.5" rx="2.0" ry="1.5" transform="rotate(118 59.5 62.5)" fill="#cbe0ea" opacity="1.0"/><ellipse cx="39.3" cy="17.9" rx="2.9" ry="2.0" transform="rotate(3 39.3 17.9)" fill="#b8d4e6" opacity="1.0"/><ellipse cx="26.3" cy="15.9" rx="1.9" ry="1.3" transform="rotate(96 26.3 15.9)" fill="#d4dc9a" opacity="1.0"/><ellipse cx="5.9" cy="8.9" rx="2.3" ry="1.7" transform="rotate(132 5.9 8.9)" fill="#cbe0ea" opacity="1.0"/><ellipse cx="37.4" cy="9.0" rx="1.8" ry="1.1" transform="rotate(164 37.4 9.0)" fill="#cbe0ea" opacity="1.0"/><ellipse cx="20.0" cy="2.1" rx="2.5" ry="1.6" transform="rotate(12 20.0 2.1)" fill="#b8d4e6" opacity="1.0"/><ellipse cx="20.0" cy="66.1" rx="2.5" ry="1.6" transform="rotate(12 20.0 66.1)" fill="#b8d4e6" opacity="1.0"/><ellipse cx="20.4" cy="-0.0" rx="1.9" ry="1.5" transform="rotate(133 20.4 -0.0)" fill="#cbe0ea" opacity="1.0"/><ellipse cx="20.4" cy="64.0" rx="1.9" ry="1.5" transform="rotate(133 20.4 64.0)" fill="#cbe0ea" opacity="1.0"/><ellipse cx="47.2" cy="8.3" rx="3.0" ry="2.2" transform="rotate(15 47.2 8.3)" fill="#b8d4e6" opacity="1.0"/><ellipse cx="57.7" cy="55.8" rx="2.3" ry="2.1" transform="rotate(155 57.7 55.8)" fill="#cbe0ea" opacity="1.0"/><ellipse cx="0.9" cy="42.4" rx="2.3" ry="1.4" transform="rotate(13 0.9 42.4)" fill="#d4dc9a" opacity="1.0"/><ellipse cx="64.9" cy="42.4" rx="2.3" ry="1.4" transform="rotate(13 64.9 42.4)" fill="#d4dc9a" opacity="1.0"/><ellipse cx="40.9" cy="-0.4" rx="2.9" ry="2.5" transform="rotate(70 40.9 -0.4)" fill="#cbe0ea" opacity="1.0"/><ellipse cx="40.9" cy="63.6" rx="2.9" ry="2.5" transform="rotate(70 40.9 63.6)" fill="#cbe0ea" opacity="1.0"/><ellipse cx="44.4" cy="29.3" rx="2.4" ry="1.9" transform="rotate(93 44.4 29.3)" fill="#cbe0ea" opacity="1.0"/><ellipse cx="1.9" cy="38.5" rx="2.4" ry="1.6" transform="rotate(126 1.9 38.5)" fill="#b8d4e6" opacity="1.0"/><ellipse cx="65.9" cy="38.5" rx="2.4" ry="1.6" transform="rotate(126 65.9 38.5)" fill="#b8d4e6" opacity="1.0"/><ellipse cx="49.9" cy="42.2" rx="2.4" ry="2.3" transform="rotate(66 49.9 42.2)" fill="#d4dc9a" opacity="1.0"/><ellipse cx="43.4" cy="13.0" rx="2.0" ry="1.9" transform="rotate(119 43.4 13.0)" fill="#b8d4e6" opacity="1.0"/><ellipse cx="31.9" cy="15.5" rx="2.3" ry="1.6" transform="rotate(114 31.9 15.5)" fill="#d4dc9a" opacity="1.0"/><ellipse cx="56.3" cy="24.6" rx="2.5" ry="1.8" transform="rotate(25 56.3 24.6)" fill="#b8d4e6" opacity="1.0"/><ellipse cx="22.4" cy="57.3" rx="1.8" ry="1.2" transform="rotate(176 22.4 57.3)" fill="#d4dc9a" opacity="1.0"/><ellipse cx="7.2" cy="30.2" rx="2.9" ry="2.7" transform="rotate(69 7.2 30.2)" fill="#cbe0ea" opacity="1.0"/><ellipse cx="31.6" cy="20.2" rx="2.8" ry="2.8" transform="rotate(81 31.6 20.2)" fill="#d4dc9a" opacity="1.0"/><ellipse cx="53.0" cy="17.8" rx="2.5" ry="2.2" transform="rotate(51 53.0 17.8)" fill="#b8d4e6" opacity="1.0"/><ellipse cx="19.8" cy="50.7" rx="1.8" ry="1.2" transform="rotate(82 19.8 50.7)" fill="#d4dc9a" opacity="1.0"/><ellipse cx="49.2" cy="17.1" rx="2.7" ry="2.5" transform="rotate(177 49.2 17.1)" fill="#d4dc9a" opacity="1.0"/><ellipse cx="28.6" cy="40.3" rx="2.6" ry="2.4" transform="rotate(173 28.6 40.3)" fill="#cbe0ea" opacity="1.0"/><ellipse cx="12.7" cy="52.7" rx="2.1" ry="1.9" transform="rotate(136 12.7 52.7)" fill="#cbe0ea" opacity="1.0"/><ellipse cx="45.7" cy="11.5" rx="2.1" ry="1.6" transform="rotate(126 45.7 11.5)" fill="#cbe0ea" opacity="1.0"/><ellipse cx="32.0" cy="-0.2" rx="2.0" ry="1.9" transform="rotate(126 32.0 -0.2)" fill="#d4dc9a" opacity="1.0"/><ellipse cx="32.0" cy="63.8" rx="2.0" ry="1.9" transform="rotate(126 32.0 63.8)" fill="#d4dc9a" opacity="1.0"/><ellipse cx="5.6" cy="-4.3" rx="2.7" ry="1.7" transform="rotate(82 5.6 -4.3)" fill="#cbe0ea" opacity="1.0"/><ellipse cx="5.6" cy="59.7" rx="2.7" ry="1.7" transform="rotate(82 5.6 59.7)" fill="#cbe0ea" opacity="1.0"/><ellipse cx="56.8" cy="0.4" rx="2.5" ry="2.1" transform="rotate(90 56.8 0.4)" fill="#b8d4e6" opacity="1.0"/><ellipse cx="56.8" cy="64.4" rx="2.5" ry="2.1" transform="rotate(90 56.8 64.4)" fill="#b8d4e6" opacity="1.0"/><ellipse cx="29.7" cy="41.7" rx="2.0" ry="1.8" transform="rotate(147 29.7 41.7)" fill="#cbe0ea" opacity="1.0"/><ellipse cx="-4.8" cy="7.9" rx="2.1" ry="1.6" transform="rotate(16 -4.8 7.9)" fill="#b8d4e6" opacity="1.0"/><ellipse cx="59.2" cy="7.9" rx="2.1" ry="1.6" transform="rotate(16 59.2 7.9)" fill="#b8d4e6" opacity="1.0"/><ellipse cx="34.4" cy="50.6" rx="2.2" ry="2.1" transform="rotate(154 34.4 50.6)" fill="#b8d4e6" opacity="1.0"/><ellipse cx="32.3" cy="2.4" rx="2.2" ry="1.7" transform="rotate(50 32.3 2.4)" fill="#d4dc9a" opacity="1.0"/><ellipse cx="32.3" cy="66.4" rx="2.2" ry="1.7" transform="rotate(50 32.3 66.4)" fill="#d4dc9a" opacity="1.0"/><ellipse cx="14.0" cy="55.5" rx="2.3" ry="1.4" transform="rotate(96 14.0 55.5)" fill="#cbe0ea" opacity="1.0"/><ellipse cx="50.4" cy="9.0" rx="2.0" ry="1.6" transform="rotate(130 50.4 9.0)" fill="#cbe0ea" opacity="1.0"/><ellipse cx="44.1" cy="-3.5" rx="2.4" ry="2.3" transform="rotate(15 44.1 -3.5)" fill="#d4dc9a" opacity="1.0"/><ellipse cx="44.1" cy="60.5" rx="2.4" ry="2.3" transform="rotate(15 44.1 60.5)" fill="#d4dc9a" opacity="1.0"/><ellipse cx="28.1" cy="35.8" rx="2.8" ry="2.3" transform="rotate(30 28.1 35.8)" fill="#cbe0ea" opacity="1.0"/><ellipse cx="54.0" cy="35.8" rx="2.2" ry="1.6" transform="rotate(152 54.0 35.8)" fill="#cbe0ea" opacity="1.0"/><ellipse cx="13.3" cy="54.4" rx="3.0" ry="2.4" transform="rotate(103 13.3 54.4)" fill="#d4dc9a" opacity="1.0"/><ellipse cx="26.3" cy="7.3" rx="1.8" ry="1.4" transform="rotate(97 26.3 7.3)" fill="#d4dc9a" opacity="1.0"/><ellipse cx="33.0" cy="25.6" rx="2.8" ry="2.3" transform="rotate(88 33.0 25.6)" fill="#cbe0ea" opacity="1.0"/><ellipse cx="10.7" cy="-4.4" rx="2.4" ry="2.3" transform="rotate(144 10.7 -4.4)" fill="#b8d4e6" opacity="1.0"/><ellipse cx="10.7" cy="59.6" rx="2.4" ry="2.3" transform="rotate(144 10.7 59.6)" fill="#b8d4e6" opacity="1.0"/><ellipse cx="17.2" cy="30.3" rx="2.0" ry="1.5" transform="rotate(147 17.2 30.3)" fill="#b8d4e6" opacity="1.0"/><ellipse cx="33.6" cy="7.0" rx="2.3" ry="1.4" transform="rotate(47 33.6 7.0)" fill="#cbe0ea" opacity="1.0"/><ellipse cx="49.9" cy="1.5" rx="2.0" ry="1.4" transform="rotate(124 49.9 1.5)" fill="#b8d4e6" opacity="1.0"/><ellipse cx="49.9" cy="65.5" rx="2.0" ry="1.4" transform="rotate(124 49.9 65.5)" fill="#b8d4e6" opacity="1.0"/><ellipse cx="46.3" cy="15.6" rx="2.4" ry="1.9" transform="rotate(105 46.3 15.6)" fill="#cbe0ea" opacity="1.0"/><ellipse cx="39.9" cy="45.9" rx="2.6" ry="2.5" transform="rotate(4 39.9 45.9)" fill="#cbe0ea" opacity="1.0"/></pattern><pattern id="pIr1" width="60" height="60" patternUnits="userSpaceOnUse"><rect width="60" height="60" fill="#e2eef8"/><ellipse cx="28.5" cy="39.4" rx="4.7" ry="3.1" transform="rotate(2 28.5 39.4)" fill="#d0e3f3" opacity="0.8"/><ellipse cx="29.0" cy="38.6" rx="3.8" ry="3.6" transform="rotate(41 29.0 38.6)" fill="#f3f7fb" opacity="0.8"/><ellipse cx="39.7" cy="8.7" rx="3.8" ry="2.5" transform="rotate(163 39.7 8.7)" fill="#f3f7fb" opacity="0.8"/><ellipse cx="34.6" cy="12.0" rx="4.1" ry="3.8" transform="rotate(123 34.6 12.0)" fill="#f3f7fb" opacity="0.8"/><ellipse cx="1.1" cy="3.6" rx="5.7" ry="4.5" transform="rotate(16 1.1 3.6)" fill="#d0e3f3" opacity="0.8"/><ellipse cx="1.1" cy="63.6" rx="5.7" ry="4.5" transform="rotate(16 1.1 63.6)" fill="#d0e3f3" opacity="0.8"/><ellipse cx="61.1" cy="3.6" rx="5.7" ry="4.5" transform="rotate(16 61.1 3.6)" fill="#d0e3f3" opacity="0.8"/><ellipse cx="61.1" cy="63.6" rx="5.7" ry="4.5" transform="rotate(16 61.1 63.6)" fill="#d0e3f3" opacity="0.8"/><ellipse cx="-3.2" cy="6.8" rx="3.7" ry="2.4" transform="rotate(56 -3.2 6.8)" fill="#edf4fa" opacity="0.8"/><ellipse cx="-3.2" cy="66.8" rx="3.7" ry="2.4" transform="rotate(56 -3.2 66.8)" fill="#edf4fa" opacity="0.8"/><ellipse cx="56.8" cy="6.8" rx="3.7" ry="2.4" transform="rotate(56 56.8 6.8)" fill="#edf4fa" opacity="0.8"/><ellipse cx="56.8" cy="66.8" rx="3.7" ry="2.4" transform="rotate(56 56.8 66.8)" fill="#edf4fa" opacity="0.8"/><ellipse cx="33.5" cy="-1.4" rx="5.5" ry="4.6" transform="rotate(91 33.5 -1.4)" fill="#f3f7fb" opacity="0.8"/><ellipse cx="33.5" cy="58.6" rx="5.5" ry="4.6" transform="rotate(91 33.5 58.6)" fill="#f3f7fb" opacity="0.8"/><ellipse cx="24.0" cy="25.1" rx="4.4" ry="3.5" transform="rotate(69 24.0 25.1)" fill="#f3f7fb" opacity="0.8"/><ellipse cx="38.4" cy="5.0" rx="2.8" ry="2.5" transform="rotate(47 38.4 5.0)" fill="#d0e3f3" opacity="0.8"/><ellipse cx="38.4" cy="65.0" rx="2.8" ry="2.5" transform="rotate(47 38.4 65.0)" fill="#d0e3f3" opacity="0.8"/><ellipse cx="52.0" cy="23.1" rx="3.2" ry="2.3" transform="rotate(60 52.0 23.1)" fill="#d0e3f3" opacity="0.8"/><ellipse cx="30.7" cy="48.6" rx="4.0" ry="2.4" transform="rotate(148 30.7 48.6)" fill="#d0e3f3" opacity="0.8"/><ellipse cx="2.0" cy="1.5" rx="4.7" ry="2.9" transform="rotate(37 2.0 1.5)" fill="#edf4fa" opacity="0.8"/><ellipse cx="2.0" cy="61.5" rx="4.7" ry="2.9" transform="rotate(37 2.0 61.5)" fill="#edf4fa" opacity="0.8"/><ellipse cx="62.0" cy="1.5" rx="4.7" ry="2.9" transform="rotate(37 62.0 1.5)" fill="#edf4fa" opacity="0.8"/><ellipse cx="62.0" cy="61.5" rx="4.7" ry="2.9" transform="rotate(37 62.0 61.5)" fill="#edf4fa" opacity="0.8"/><ellipse cx="6.2" cy="33.0" rx="2.7" ry="2.4" transform="rotate(7 6.2 33.0)" fill="#d0e3f3" opacity="0.8"/><ellipse cx="66.2" cy="33.0" rx="2.7" ry="2.4" transform="rotate(7 66.2 33.0)" fill="#d0e3f3" opacity="0.8"/><ellipse cx="29.9" cy="36.1" rx="4.9" ry="4.0" transform="rotate(66 29.9 36.1)" fill="#d0e3f3" opacity="0.8"/><ellipse cx="16.9" cy="28.6" rx="5.8" ry="4.6" transform="rotate(172 16.9 28.6)" fill="#f3f7fb" opacity="0.8"/><ellipse cx="27.9" cy="32.9" rx="2.7" ry="2.5" transform="rotate(40 27.9 32.9)" fill="#edf4fa" opacity="0.8"/><ellipse cx="0.4" cy="16.1" rx="5.1" ry="3.7" transform="rotate(43 0.4 16.1)" fill="#f3f7fb" opacity="0.8"/><ellipse cx="60.4" cy="16.1" rx="5.1" ry="3.7" transform="rotate(43 60.4 16.1)" fill="#f3f7fb" opacity="0.8"/><ellipse cx="30.1" cy="14.9" rx="2.5" ry="1.8" transform="rotate(98 30.1 14.9)" fill="#f3f7fb" opacity="0.8"/><ellipse cx="1.4" cy="19.3" rx="5.1" ry="4.8" transform="rotate(115 1.4 19.3)" fill="#f3f7fb" opacity="0.8"/><ellipse cx="61.4" cy="19.3" rx="5.1" ry="4.8" transform="rotate(115 61.4 19.3)" fill="#f3f7fb" opacity="0.8"/><ellipse cx="47.1" cy="30.1" rx="4.0" ry="2.9" transform="rotate(123 47.1 30.1)" fill="#d0e3f3" opacity="0.8"/><ellipse cx="-6.3" cy="9.7" rx="3.2" ry="3.0" transform="rotate(50 -6.3 9.7)" fill="#edf4fa" opacity="0.8"/><ellipse cx="53.7" cy="9.7" rx="3.2" ry="3.0" transform="rotate(50 53.7 9.7)" fill="#edf4fa" opacity="0.8"/><ellipse cx="38.4" cy="26.7" rx="5.2" ry="4.6" transform="rotate(94 38.4 26.7)" fill="#f3f7fb" opacity="0.8"/><ellipse cx="41.0" cy="41.6" rx="2.5" ry="2.4" transform="rotate(76 41.0 41.6)" fill="#f3f7fb" opacity="0.8"/><ellipse cx="12.0" cy="28.3" rx="2.2" ry="1.9" transform="rotate(129 12.0 28.3)" fill="#d0e3f3" opacity="0.8"/><ellipse cx="45.6" cy="25.1" rx="4.4" ry="4.2" transform="rotate(142 45.6 25.1)" fill="#edf4fa" opacity="0.8"/><ellipse cx="33.4" cy="-1.2" rx="4.6" ry="3.4" transform="rotate(29 33.4 -1.2)" fill="#edf4fa" opacity="0.8"/><ellipse cx="33.4" cy="58.8" rx="4.6" ry="3.4" transform="rotate(29 33.4 58.8)" fill="#edf4fa" opacity="0.8"/><ellipse cx="42.6" cy="-5.8" rx="5.2" ry="5.0" transform="rotate(164 42.6 -5.8)" fill="#edf4fa" opacity="0.8"/><ellipse cx="42.6" cy="54.2" rx="5.2" ry="5.0" transform="rotate(164 42.6 54.2)" fill="#edf4fa" opacity="0.8"/><ellipse cx="12.0" cy="-4.4" rx="5.2" ry="4.6" transform="rotate(34 12.0 -4.4)" fill="#d0e3f3" opacity="0.8"/><ellipse cx="12.0" cy="55.6" rx="5.2" ry="4.6" transform="rotate(34 12.0 55.6)" fill="#d0e3f3" opacity="0.8"/><ellipse cx="-4.0" cy="41.3" rx="4.2" ry="3.5" transform="rotate(22 -4.0 41.3)" fill="#edf4fa" opacity="0.8"/><ellipse cx="56.0" cy="41.3" rx="4.2" ry="3.5" transform="rotate(22 56.0 41.3)" fill="#edf4fa" opacity="0.8"/><ellipse cx="35.9" cy="40.7" rx="4.3" ry="2.7" transform="rotate(64 35.9 40.7)" fill="#f3f7fb" opacity="0.8"/><ellipse cx="41.1" cy="8.5" rx="2.4" ry="1.7" transform="rotate(125 41.1 8.5)" fill="#edf4fa" opacity="0.8"/><ellipse cx="39.6" cy="-3.9" rx="3.5" ry="2.1" transform="rotate(88 39.6 -3.9)" fill="#d0e3f3" opacity="0.8"/><ellipse cx="39.6" cy="56.1" rx="3.5" ry="2.1" transform="rotate(88 39.6 56.1)" fill="#d0e3f3" opacity="0.8"/><ellipse cx="29.1" cy="3.4" rx="4.4" ry="3.4" transform="rotate(159 29.1 3.4)" fill="#f3f7fb" opacity="0.8"/><ellipse cx="29.1" cy="63.4" rx="4.4" ry="3.4" transform="rotate(159 29.1 63.4)" fill="#f3f7fb" opacity="0.8"/><ellipse cx="-3.4" cy="0.5" rx="3.4" ry="2.4" transform="rotate(36 -3.4 0.5)" fill="#d0e3f3" opacity="0.8"/><ellipse cx="-3.4" cy="60.5" rx="3.4" ry="2.4" transform="rotate(36 -3.4 60.5)" fill="#d0e3f3" opacity="0.8"/><ellipse cx="56.6" cy="0.5" rx="3.4" ry="2.4" transform="rotate(36 56.6 0.5)" fill="#d0e3f3" opacity="0.8"/><ellipse cx="56.6" cy="60.5" rx="3.4" ry="2.4" transform="rotate(36 56.6 60.5)" fill="#d0e3f3" opacity="0.8"/><ellipse cx="17.8" cy="31.0" rx="2.6" ry="2.5" transform="rotate(60 17.8 31.0)" fill="#edf4fa" opacity="0.8"/><ellipse cx="27.9" cy="36.4" rx="5.4" ry="3.8" transform="rotate(83 27.9 36.4)" fill="#f3f7fb" opacity="0.8"/><ellipse cx="49.9" cy="13.7" rx="4.2" ry="3.8" transform="rotate(71 49.9 13.7)" fill="#edf4fa" opacity="0.8"/><ellipse cx="26.4" cy="3.1" rx="2.4" ry="2.0" transform="rotate(56 26.4 3.1)" fill="#edf4fa" opacity="0.8"/><ellipse cx="26.4" cy="63.1" rx="2.4" ry="2.0" transform="rotate(56 26.4 63.1)" fill="#edf4fa" opacity="0.8"/><ellipse cx="1.0" cy="46.5" rx="5.6" ry="4.8" transform="rotate(31 1.0 46.5)" fill="#d0e3f3" opacity="0.8"/><ellipse cx="61.0" cy="46.5" rx="5.6" ry="4.8" transform="rotate(31 61.0 46.5)" fill="#d0e3f3" opacity="0.8"/><ellipse cx="13.5" cy="32.7" rx="3.0" ry="1.9" transform="rotate(145 13.5 32.7)" fill="#d0e3f3" opacity="0.8"/></pattern><pattern id="pIr2" width="60" height="60" patternUnits="userSpaceOnUse"><rect width="60" height="60" fill="#ececea"/><ellipse cx="15.5" cy="41.1" rx="2.7" ry="2.6" transform="rotate(33 15.5 41.1)" fill="#f8f8f6" opacity="1.0"/><ellipse cx="40.0" cy="52.2" rx="2.6" ry="2.2" transform="rotate(13 40.0 52.2)" fill="#f8f8f6" opacity="1.0"/><ellipse cx="44.7" cy="1.8" rx="1.3" ry="1.2" transform="rotate(180 44.7 1.8)" fill="#e4e4de" opacity="1.0"/><ellipse cx="44.7" cy="61.8" rx="1.3" ry="1.2" transform="rotate(180 44.7 61.8)" fill="#e4e4de" opacity="1.0"/><ellipse cx="50.1" cy="5.1" rx="3.0" ry="2.9" transform="rotate(47 50.1 5.1)" fill="#e4e4de" opacity="1.0"/><ellipse cx="50.1" cy="65.1" rx="3.0" ry="2.9" transform="rotate(47 50.1 65.1)" fill="#e4e4de" opacity="1.0"/><ellipse cx="44.7" cy="-3.0" rx="3.0" ry="2.5" transform="rotate(153 44.7 -3.0)" fill="#e4e4de" opacity="1.0"/><ellipse cx="44.7" cy="57.0" rx="3.0" ry="2.5" transform="rotate(153 44.7 57.0)" fill="#e4e4de" opacity="1.0"/><ellipse cx="53.9" cy="33.0" rx="3.5" ry="3.2" transform="rotate(160 53.9 33.0)" fill="#e4e4de" opacity="1.0"/><ellipse cx="39.3" cy="20.8" rx="2.5" ry="2.3" transform="rotate(47 39.3 20.8)" fill="#e4e4de" opacity="1.0"/><ellipse cx="33.3" cy="44.9" rx="1.3" ry="1.3" transform="rotate(80 33.3 44.9)" fill="#f8f8f6" opacity="1.0"/><ellipse cx="17.6" cy="10.8" rx="1.9" ry="1.7" transform="rotate(47 17.6 10.8)" fill="#e4e4de" opacity="1.0"/><ellipse cx="23.7" cy="7.8" rx="2.2" ry="1.9" transform="rotate(42 23.7 7.8)" fill="#f8f8f6" opacity="1.0"/><ellipse cx="42.1" cy="7.9" rx="2.1" ry="1.9" transform="rotate(83 42.1 7.9)" fill="#f8f8f6" opacity="1.0"/><ellipse cx="43.1" cy="-4.0" rx="1.1" ry="0.9" transform="rotate(145 43.1 -4.0)" fill="#e4e4de" opacity="1.0"/><ellipse cx="43.1" cy="56.0" rx="1.1" ry="0.9" transform="rotate(145 43.1 56.0)" fill="#e4e4de" opacity="1.0"/><ellipse cx="38.3" cy="9.6" rx="2.0" ry="2.0" transform="rotate(160 38.3 9.6)" fill="#e4e4de" opacity="1.0"/><ellipse cx="12.2" cy="51.2" rx="1.9" ry="1.8" transform="rotate(25 12.2 51.2)" fill="#f8f8f6" opacity="1.0"/></pattern><pattern id="pIr3" width="60" height="60" patternUnits="userSpaceOnUse"><rect width="60" height="60" fill="#f7f9fc"/><ellipse cx="6.4" cy="42.2" rx="1.7" ry="1.7" transform="rotate(49 6.4 42.2)" fill="#c2d6ee" opacity="1.0"/><ellipse cx="17.5" cy="4.4" rx="1.4" ry="1.0" transform="rotate(157 17.5 4.4)" fill="#c2d6ee" opacity="1.0"/><ellipse cx="46.7" cy="7.1" rx="1.1" ry="1.0" transform="rotate(64 46.7 7.1)" fill="#c2d6ee" opacity="1.0"/><ellipse cx="21.6" cy="38.0" rx="1.5" ry="0.8" transform="rotate(120 21.6 38.0)" fill="#c2d6ee" opacity="1.0"/><ellipse cx="9.9" cy="39.1" rx="1.0" ry="0.6" transform="rotate(15 9.9 39.1)" fill="#e0e9f5" opacity="1.0"/><ellipse cx="51.2" cy="22.9" rx="1.6" ry="1.6" transform="rotate(161 51.2 22.9)" fill="#e0e9f5" opacity="1.0"/><ellipse cx="52.4" cy="41.2" rx="1.0" ry="0.7" transform="rotate(114 52.4 41.2)" fill="#e0e9f5" opacity="1.0"/><ellipse cx="51.9" cy="44.8" rx="1.5" ry="1.2" transform="rotate(49 51.9 44.8)" fill="#e0e9f5" opacity="1.0"/><ellipse cx="29.1" cy="16.9" rx="1.2" ry="0.5" transform="rotate(180 29.1 16.9)" fill="#c2d6ee" opacity="1.0"/><ellipse cx="16.8" cy="1.7" rx="1.8" ry="0.9" transform="rotate(95 16.8 1.7)" fill="#e0e9f5" opacity="1.0"/><ellipse cx="16.8" cy="61.7" rx="1.8" ry="0.9" transform="rotate(95 16.8 61.7)" fill="#e0e9f5" opacity="1.0"/><ellipse cx="25.5" cy="-1.6" rx="1.0" ry="0.7" transform="rotate(56 25.5 -1.6)" fill="#c2d6ee" opacity="1.0"/><ellipse cx="25.5" cy="58.4" rx="1.0" ry="0.7" transform="rotate(56 25.5 58.4)" fill="#c2d6ee" opacity="1.0"/><ellipse cx="26.2" cy="35.7" rx="0.9" ry="0.6" transform="rotate(43 26.2 35.7)" fill="#c2d6ee" opacity="1.0"/><ellipse cx="4.0" cy="8.6" rx="1.8" ry="1.3" transform="rotate(3 4.0 8.6)" fill="#c2d6ee" opacity="1.0"/><ellipse cx="64.0" cy="8.6" rx="1.8" ry="1.3" transform="rotate(3 64.0 8.6)" fill="#c2d6ee" opacity="1.0"/><ellipse cx="-3.4" cy="25.4" rx="1.3" ry="1.0" transform="rotate(169 -3.4 25.4)" fill="#c2d6ee" opacity="1.0"/><ellipse cx="56.6" cy="25.4" rx="1.3" ry="1.0" transform="rotate(169 56.6 25.4)" fill="#c2d6ee" opacity="1.0"/><ellipse cx="21.3" cy="31.8" rx="0.9" ry="0.6" transform="rotate(144 21.3 31.8)" fill="#e0e9f5" opacity="1.0"/><ellipse cx="23.3" cy="2.1" rx="1.2" ry="1.2" transform="rotate(105 23.3 2.1)" fill="#c2d6ee" opacity="1.0"/><ellipse cx="23.3" cy="62.1" rx="1.2" ry="1.2" transform="rotate(105 23.3 62.1)" fill="#c2d6ee" opacity="1.0"/><ellipse cx="31.3" cy="48.3" rx="2.2" ry="1.0" transform="rotate(172 31.3 48.3)" fill="#e0e9f5" opacity="1.0"/><ellipse cx="0.1" cy="15.0" rx="1.5" ry="0.8" transform="rotate(37 0.1 15.0)" fill="#c2d6ee" opacity="1.0"/><ellipse cx="60.1" cy="15.0" rx="1.5" ry="0.8" transform="rotate(37 60.1 15.0)" fill="#c2d6ee" opacity="1.0"/><ellipse cx="17.5" cy="45.7" rx="1.3" ry="1.0" transform="rotate(107 17.5 45.7)" fill="#e0e9f5" opacity="1.0"/><ellipse cx="30.5" cy="50.5" rx="1.3" ry="0.8" transform="rotate(173 30.5 50.5)" fill="#c2d6ee" opacity="1.0"/><ellipse cx="29.3" cy="-2.9" rx="0.8" ry="0.7" transform="rotate(77 29.3 -2.9)" fill="#c2d6ee" opacity="1.0"/><ellipse cx="29.3" cy="57.1" rx="0.8" ry="0.7" transform="rotate(77 29.3 57.1)" fill="#c2d6ee" opacity="1.0"/><ellipse cx="5.4" cy="48.4" rx="1.0" ry="0.4" transform="rotate(167 5.4 48.4)" fill="#e0e9f5" opacity="1.0"/><ellipse cx="15.5" cy="26.8" rx="1.6" ry="1.0" transform="rotate(141 15.5 26.8)" fill="#c2d6ee" opacity="1.0"/><ellipse cx="42.2" cy="32.5" rx="1.4" ry="0.9" transform="rotate(16 42.2 32.5)" fill="#e0e9f5" opacity="1.0"/><ellipse cx="8.8" cy="40.1" rx="1.1" ry="0.9" transform="rotate(118 8.8 40.1)" fill="#c2d6ee" opacity="1.0"/><ellipse cx="-0.3" cy="35.7" rx="2.0" ry="1.6" transform="rotate(104 -0.3 35.7)" fill="#c2d6ee" opacity="1.0"/><ellipse cx="59.7" cy="35.7" rx="2.0" ry="1.6" transform="rotate(104 59.7 35.7)" fill="#c2d6ee" opacity="1.0"/><ellipse cx="16.0" cy="28.2" rx="2.1" ry="1.9" transform="rotate(11 16.0 28.2)" fill="#e0e9f5" opacity="1.0"/><ellipse cx="55.2" cy="4.1" rx="2.0" ry="0.9" transform="rotate(9 55.2 4.1)" fill="#e0e9f5" opacity="1.0"/><ellipse cx="55.2" cy="64.1" rx="2.0" ry="0.9" transform="rotate(9 55.2 64.1)" fill="#e0e9f5" opacity="1.0"/><ellipse cx="4.1" cy="47.6" rx="1.2" ry="0.6" transform="rotate(68 4.1 47.6)" fill="#e0e9f5" opacity="1.0"/><ellipse cx="64.1" cy="47.6" rx="1.2" ry="0.6" transform="rotate(68 64.1 47.6)" fill="#e0e9f5" opacity="1.0"/><ellipse cx="0.3" cy="27.0" rx="1.9" ry="1.3" transform="rotate(95 0.3 27.0)" fill="#c2d6ee" opacity="1.0"/><ellipse cx="60.3" cy="27.0" rx="1.9" ry="1.3" transform="rotate(95 60.3 27.0)" fill="#c2d6ee" opacity="1.0"/><ellipse cx="4.9" cy="16.3" rx="1.2" ry="0.9" transform="rotate(91 4.9 16.3)" fill="#e0e9f5" opacity="1.0"/><ellipse cx="43.5" cy="0.5" rx="1.3" ry="0.6" transform="rotate(22 43.5 0.5)" fill="#c2d6ee" opacity="1.0"/><ellipse cx="43.5" cy="60.5" rx="1.3" ry="0.6" transform="rotate(22 43.5 60.5)" fill="#c2d6ee" opacity="1.0"/><ellipse cx="26.7" cy="20.7" rx="2.1" ry="0.9" transform="rotate(25 26.7 20.7)" fill="#c2d6ee" opacity="1.0"/><ellipse cx="-1.9" cy="31.4" rx="2.0" ry="1.3" transform="rotate(162 -1.9 31.4)" fill="#e0e9f5" opacity="1.0"/><ellipse cx="58.1" cy="31.4" rx="2.0" ry="1.3" transform="rotate(162 58.1 31.4)" fill="#e0e9f5" opacity="1.0"/><ellipse cx="-0.1" cy="20.4" rx="1.3" ry="1.0" transform="rotate(45 -0.1 20.4)" fill="#c2d6ee" opacity="1.0"/><ellipse cx="59.9" cy="20.4" rx="1.3" ry="1.0" transform="rotate(45 59.9 20.4)" fill="#c2d6ee" opacity="1.0"/></pattern><pattern id="pRl1" width="48" height="48" patternUnits="userSpaceOnUse"><rect width="48" height="48" fill="#e4eef7"/><ellipse cx="-1.7" cy="0.6" rx="1.8" ry="1.1" transform="rotate(178 -1.7 0.6)" fill="#f6f9fc" opacity="1.0"/><ellipse cx="-1.7" cy="48.6" rx="1.8" ry="1.1" transform="rotate(178 -1.7 48.6)" fill="#f6f9fc" opacity="1.0"/><ellipse cx="46.3" cy="0.6" rx="1.8" ry="1.1" transform="rotate(178 46.3 0.6)" fill="#f6f9fc" opacity="1.0"/><ellipse cx="46.3" cy="48.6" rx="1.8" ry="1.1" transform="rotate(178 46.3 48.6)" fill="#f6f9fc" opacity="1.0"/><ellipse cx="2.6" cy="38.6" rx="1.0" ry="0.9" transform="rotate(66 2.6 38.6)" fill="#f6f9fc" opacity="1.0"/><ellipse cx="50.6" cy="38.6" rx="1.0" ry="0.9" transform="rotate(66 50.6 38.6)" fill="#f6f9fc" opacity="1.0"/><ellipse cx="16.2" cy="34.0" rx="1.2" ry="0.8" transform="rotate(41 16.2 34.0)" fill="#f6f9fc" opacity="1.0"/><ellipse cx="42.0" cy="38.3" rx="1.1" ry="1.1" transform="rotate(92 42.0 38.3)" fill="#f6f9fc" opacity="1.0"/><ellipse cx="27.7" cy="40.4" rx="1.5" ry="1.1" transform="rotate(144 27.7 40.4)" fill="#bfd5ec" opacity="1.0"/><ellipse cx="27.3" cy="-3.3" rx="1.7" ry="1.2" transform="rotate(155 27.3 -3.3)" fill="#f6f9fc" opacity="1.0"/><ellipse cx="27.3" cy="44.7" rx="1.7" ry="1.2" transform="rotate(155 27.3 44.7)" fill="#f6f9fc" opacity="1.0"/><ellipse cx="23.5" cy="-2.6" rx="0.8" ry="0.5" transform="rotate(31 23.5 -2.6)" fill="#f6f9fc" opacity="1.0"/><ellipse cx="23.5" cy="45.4" rx="0.8" ry="0.5" transform="rotate(31 23.5 45.4)" fill="#f6f9fc" opacity="1.0"/><ellipse cx="13.8" cy="23.8" rx="2.0" ry="1.1" transform="rotate(21 13.8 23.8)" fill="#f6f9fc" opacity="1.0"/><ellipse cx="3.5" cy="34.8" rx="2.1" ry="1.4" transform="rotate(166 3.5 34.8)" fill="#f6f9fc" opacity="1.0"/><ellipse cx="51.5" cy="34.8" rx="2.1" ry="1.4" transform="rotate(166 51.5 34.8)" fill="#f6f9fc" opacity="1.0"/><ellipse cx="8.6" cy="-2.5" rx="1.3" ry="0.8" transform="rotate(56 8.6 -2.5)" fill="#bfd5ec" opacity="1.0"/><ellipse cx="8.6" cy="45.5" rx="1.3" ry="0.8" transform="rotate(56 8.6 45.5)" fill="#bfd5ec" opacity="1.0"/><ellipse cx="18.6" cy="22.9" rx="2.0" ry="1.8" transform="rotate(136 18.6 22.9)" fill="#bfd5ec" opacity="1.0"/><ellipse cx="22.8" cy="5.5" rx="1.5" ry="1.0" transform="rotate(151 22.8 5.5)" fill="#f6f9fc" opacity="1.0"/><ellipse cx="13.8" cy="2.0" rx="2.1" ry="2.0" transform="rotate(29 13.8 2.0)" fill="#bfd5ec" opacity="1.0"/><ellipse cx="13.8" cy="50.0" rx="2.1" ry="2.0" transform="rotate(29 13.8 50.0)" fill="#bfd5ec" opacity="1.0"/><ellipse cx="27.1" cy="41.9" rx="1.5" ry="1.1" transform="rotate(85 27.1 41.9)" fill="#f6f9fc" opacity="1.0"/><ellipse cx="27.3" cy="22.2" rx="1.9" ry="1.5" transform="rotate(125 27.3 22.2)" fill="#bfd5ec" opacity="1.0"/><ellipse cx="32.6" cy="29.3" rx="0.9" ry="0.8" transform="rotate(150 32.6 29.3)" fill="#bfd5ec" opacity="1.0"/><ellipse cx="16.7" cy="29.7" rx="1.8" ry="1.4" transform="rotate(56 16.7 29.7)" fill="#f6f9fc" opacity="1.0"/><ellipse cx="38.4" cy="42.9" rx="2.0" ry="1.0" transform="rotate(120 38.4 42.9)" fill="#bfd5ec" opacity="1.0"/><ellipse cx="29.6" cy="43.6" rx="0.8" ry="0.5" transform="rotate(90 29.6 43.6)" fill="#bfd5ec" opacity="1.0"/><ellipse cx="15.6" cy="11.7" rx="1.6" ry="1.2" transform="rotate(0 15.6 11.7)" fill="#bfd5ec" opacity="1.0"/><ellipse cx="33.7" cy="16.3" rx="0.9" ry="0.5" transform="rotate(155 33.7 16.3)" fill="#f6f9fc" opacity="1.0"/><ellipse cx="-0.6" cy="34.7" rx="1.4" ry="1.3" transform="rotate(154 -0.6 34.7)" fill="#bfd5ec" opacity="1.0"/><ellipse cx="47.4" cy="34.7" rx="1.4" ry="1.3" transform="rotate(154 47.4 34.7)" fill="#bfd5ec" opacity="1.0"/><ellipse cx="4.7" cy="16.5" rx="1.8" ry="1.4" transform="rotate(87 4.7 16.5)" fill="#f6f9fc" opacity="1.0"/><ellipse cx="18.9" cy="37.8" rx="0.8" ry="0.7" transform="rotate(28 18.9 37.8)" fill="#bfd5ec" opacity="1.0"/><ellipse cx="40.2" cy="31.5" rx="1.6" ry="1.2" transform="rotate(135 40.2 31.5)" fill="#bfd5ec" opacity="1.0"/><ellipse cx="19.5" cy="-1.0" rx="1.7" ry="1.4" transform="rotate(179 19.5 -1.0)" fill="#bfd5ec" opacity="1.0"/><ellipse cx="19.5" cy="47.0" rx="1.7" ry="1.4" transform="rotate(179 19.5 47.0)" fill="#bfd5ec" opacity="1.0"/><ellipse cx="28.2" cy="39.9" rx="1.8" ry="1.7" transform="rotate(83 28.2 39.9)" fill="#bfd5ec" opacity="1.0"/><ellipse cx="1.4" cy="16.2" rx="1.9" ry="1.3" transform="rotate(34 1.4 16.2)" fill="#bfd5ec" opacity="1.0"/><ellipse cx="49.4" cy="16.2" rx="1.9" ry="1.3" transform="rotate(34 49.4 16.2)" fill="#bfd5ec" opacity="1.0"/><ellipse cx="-4.0" cy="33.5" rx="1.9" ry="1.0" transform="rotate(116 -4.0 33.5)" fill="#f6f9fc" opacity="1.0"/><ellipse cx="44.0" cy="33.5" rx="1.9" ry="1.0" transform="rotate(116 44.0 33.5)" fill="#f6f9fc" opacity="1.0"/><ellipse cx="35.8" cy="3.4" rx="2.0" ry="1.5" transform="rotate(29 35.8 3.4)" fill="#f6f9fc" opacity="1.0"/><ellipse cx="35.8" cy="51.4" rx="2.0" ry="1.5" transform="rotate(29 35.8 51.4)" fill="#f6f9fc" opacity="1.0"/><ellipse cx="15.5" cy="29.5" rx="2.0" ry="1.4" transform="rotate(41 15.5 29.5)" fill="#f6f9fc" opacity="1.0"/><ellipse cx="17.9" cy="27.3" rx="1.5" ry="1.1" transform="rotate(85 17.9 27.3)" fill="#bfd5ec" opacity="1.0"/><ellipse cx="22.5" cy="8.2" rx="0.9" ry="0.6" transform="rotate(80 22.5 8.2)" fill="#f6f9fc" opacity="1.0"/><ellipse cx="31.9" cy="-1.1" rx="1.4" ry="1.0" transform="rotate(117 31.9 -1.1)" fill="#f6f9fc" opacity="1.0"/><ellipse cx="31.9" cy="46.9" rx="1.4" ry="1.0" transform="rotate(117 31.9 46.9)" fill="#f6f9fc" opacity="1.0"/><ellipse cx="32.1" cy="-0.3" rx="1.7" ry="1.2" transform="rotate(5 32.1 -0.3)" fill="#bfd5ec" opacity="1.0"/><ellipse cx="32.1" cy="47.7" rx="1.7" ry="1.2" transform="rotate(5 32.1 47.7)" fill="#bfd5ec" opacity="1.0"/><ellipse cx="42.6" cy="28.6" rx="1.2" ry="0.8" transform="rotate(80 42.6 28.6)" fill="#f6f9fc" opacity="1.0"/><ellipse cx="8.0" cy="-2.2" rx="1.4" ry="1.1" transform="rotate(175 8.0 -2.2)" fill="#bfd5ec" opacity="1.0"/><ellipse cx="8.0" cy="45.8" rx="1.4" ry="1.1" transform="rotate(175 8.0 45.8)" fill="#bfd5ec" opacity="1.0"/><ellipse cx="25.0" cy="10.3" rx="1.1" ry="1.0" transform="rotate(91 25.0 10.3)" fill="#f6f9fc" opacity="1.0"/><ellipse cx="33.4" cy="32.8" rx="1.3" ry="1.2" transform="rotate(81 33.4 32.8)" fill="#f6f9fc" opacity="1.0"/><ellipse cx="-3.2" cy="13.0" rx="1.4" ry="0.9" transform="rotate(124 -3.2 13.0)" fill="#f6f9fc" opacity="1.0"/><ellipse cx="44.8" cy="13.0" rx="1.4" ry="0.9" transform="rotate(124 44.8 13.0)" fill="#f6f9fc" opacity="1.0"/><ellipse cx="13.0" cy="27.6" rx="2.1" ry="1.2" transform="rotate(119 13.0 27.6)" fill="#f6f9fc" opacity="1.0"/><ellipse cx="-2.1" cy="23.1" rx="1.5" ry="0.9" transform="rotate(44 -2.1 23.1)" fill="#f6f9fc" opacity="1.0"/><ellipse cx="45.9" cy="23.1" rx="1.5" ry="0.9" transform="rotate(44 45.9 23.1)" fill="#f6f9fc" opacity="1.0"/><ellipse cx="19.0" cy="20.6" rx="1.7" ry="1.5" transform="rotate(126 19.0 20.6)" fill="#bfd5ec" opacity="1.0"/><ellipse cx="31.2" cy="32.5" rx="1.8" ry="1.8" transform="rotate(85 31.2 32.5)" fill="#f6f9fc" opacity="1.0"/><ellipse cx="15.4" cy="18.3" rx="2.2" ry="1.5" transform="rotate(120 15.4 18.3)" fill="#f6f9fc" opacity="1.0"/><ellipse cx="37.2" cy="23.8" rx="2.1" ry="1.9" transform="rotate(103 37.2 23.8)" fill="#f6f9fc" opacity="1.0"/><ellipse cx="8.6" cy="25.4" rx="1.2" ry="0.7" transform="rotate(90 8.6 25.4)" fill="#bfd5ec" opacity="1.0"/><ellipse cx="40.9" cy="40.2" rx="2.0" ry="1.5" transform="rotate(67 40.9 40.2)" fill="#f6f9fc" opacity="1.0"/><ellipse cx="-2.4" cy="26.9" rx="1.5" ry="1.4" transform="rotate(142 -2.4 26.9)" fill="#bfd5ec" opacity="1.0"/><ellipse cx="45.6" cy="26.9" rx="1.5" ry="1.4" transform="rotate(142 45.6 26.9)" fill="#bfd5ec" opacity="1.0"/><ellipse cx="29.9" cy="38.9" rx="0.9" ry="0.8" transform="rotate(40 29.9 38.9)" fill="#bfd5ec" opacity="1.0"/><ellipse cx="40.7" cy="15.8" rx="1.2" ry="1.0" transform="rotate(164 40.7 15.8)" fill="#bfd5ec" opacity="1.0"/><ellipse cx="17.3" cy="31.5" rx="2.1" ry="1.5" transform="rotate(1 17.3 31.5)" fill="#bfd5ec" opacity="1.0"/><ellipse cx="42.6" cy="40.4" rx="1.7" ry="1.2" transform="rotate(12 42.6 40.4)" fill="#f6f9fc" opacity="1.0"/><ellipse cx="20.9" cy="5.9" rx="1.7" ry="0.9" transform="rotate(70 20.9 5.9)" fill="#bfd5ec" opacity="1.0"/><ellipse cx="17.2" cy="9.4" rx="1.3" ry="1.2" transform="rotate(16 17.2 9.4)" fill="#f6f9fc" opacity="1.0"/><ellipse cx="2.6" cy="25.1" rx="1.2" ry="0.9" transform="rotate(91 2.6 25.1)" fill="#bfd5ec" opacity="1.0"/><ellipse cx="50.6" cy="25.1" rx="1.2" ry="0.9" transform="rotate(91 50.6 25.1)" fill="#bfd5ec" opacity="1.0"/><ellipse cx="24.1" cy="7.0" rx="1.6" ry="1.5" transform="rotate(87 24.1 7.0)" fill="#f6f9fc" opacity="1.0"/><ellipse cx="32.7" cy="24.3" rx="1.3" ry="0.8" transform="rotate(130 32.7 24.3)" fill="#bfd5ec" opacity="1.0"/><ellipse cx="40.7" cy="31.5" rx="1.5" ry="0.8" transform="rotate(144 40.7 31.5)" fill="#f6f9fc" opacity="1.0"/><ellipse cx="19.1" cy="-3.1" rx="1.6" ry="1.6" transform="rotate(57 19.1 -3.1)" fill="#f6f9fc" opacity="1.0"/><ellipse cx="19.1" cy="44.9" rx="1.6" ry="1.6" transform="rotate(57 19.1 44.9)" fill="#f6f9fc" opacity="1.0"/></pattern><pattern id="pRl3" width="48" height="48" patternUnits="userSpaceOnUse"><rect width="48" height="48" fill="#cbd9ee"/><ellipse cx="17.4" cy="23.1" rx="1.5" ry="1.1" transform="rotate(74 17.4 23.1)" fill="#9bb3dc" opacity="1.0"/><ellipse cx="34.1" cy="11.4" rx="1.2" ry="0.7" transform="rotate(147 34.1 11.4)" fill="#9bb3dc" opacity="1.0"/><ellipse cx="6.8" cy="35.7" rx="1.3" ry="1.2" transform="rotate(172 6.8 35.7)" fill="#e6edf7" opacity="1.0"/><ellipse cx="1.0" cy="7.4" rx="1.8" ry="1.4" transform="rotate(84 1.0 7.4)" fill="#9bb3dc" opacity="1.0"/><ellipse cx="49.0" cy="7.4" rx="1.8" ry="1.4" transform="rotate(84 49.0 7.4)" fill="#9bb3dc" opacity="1.0"/><ellipse cx="30.1" cy="14.2" rx="1.2" ry="0.8" transform="rotate(46 30.1 14.2)" fill="#a9bfe2" opacity="1.0"/><ellipse cx="16.7" cy="20.3" rx="1.8" ry="1.8" transform="rotate(53 16.7 20.3)" fill="#a9bfe2" opacity="1.0"/><ellipse cx="13.6" cy="4.0" rx="2.4" ry="1.2" transform="rotate(67 13.6 4.0)" fill="#e6edf7" opacity="1.0"/><ellipse cx="13.6" cy="52.0" rx="2.4" ry="1.2" transform="rotate(67 13.6 52.0)" fill="#e6edf7" opacity="1.0"/><ellipse cx="7.4" cy="14.6" rx="1.5" ry="0.8" transform="rotate(126 7.4 14.6)" fill="#9bb3dc" opacity="1.0"/><ellipse cx="40.8" cy="21.4" rx="2.2" ry="1.1" transform="rotate(151 40.8 21.4)" fill="#9bb3dc" opacity="1.0"/><ellipse cx="38.2" cy="21.8" rx="1.8" ry="1.3" transform="rotate(4 38.2 21.8)" fill="#a9bfe2" opacity="1.0"/><ellipse cx="33.9" cy="-3.9" rx="2.2" ry="1.2" transform="rotate(8 33.9 -3.9)" fill="#9bb3dc" opacity="1.0"/><ellipse cx="33.9" cy="44.1" rx="2.2" ry="1.2" transform="rotate(8 33.9 44.1)" fill="#9bb3dc" opacity="1.0"/><ellipse cx="19.2" cy="15.3" rx="1.6" ry="1.6" transform="rotate(141 19.2 15.3)" fill="#9bb3dc" opacity="1.0"/><ellipse cx="39.8" cy="3.4" rx="1.3" ry="1.1" transform="rotate(98 39.8 3.4)" fill="#a9bfe2" opacity="1.0"/><ellipse cx="39.8" cy="51.4" rx="1.3" ry="1.1" transform="rotate(98 39.8 51.4)" fill="#a9bfe2" opacity="1.0"/><ellipse cx="0.4" cy="30.0" rx="2.3" ry="1.3" transform="rotate(124 0.4 30.0)" fill="#e6edf7" opacity="1.0"/><ellipse cx="48.4" cy="30.0" rx="2.3" ry="1.3" transform="rotate(124 48.4 30.0)" fill="#e6edf7" opacity="1.0"/><ellipse cx="7.4" cy="30.6" rx="1.2" ry="0.7" transform="rotate(2 7.4 30.6)" fill="#9bb3dc" opacity="1.0"/><ellipse cx="11.7" cy="5.6" rx="1.8" ry="1.2" transform="rotate(73 11.7 5.6)" fill="#e6edf7" opacity="1.0"/><ellipse cx="22.3" cy="35.1" rx="1.5" ry="0.8" transform="rotate(5 22.3 35.1)" fill="#a9bfe2" opacity="1.0"/><ellipse cx="20.5" cy="12.3" rx="2.3" ry="1.6" transform="rotate(146 20.5 12.3)" fill="#a9bfe2" opacity="1.0"/><ellipse cx="20.0" cy="5.2" rx="1.0" ry="0.7" transform="rotate(151 20.0 5.2)" fill="#a9bfe2" opacity="1.0"/><ellipse cx="6.0" cy="6.3" rx="1.4" ry="1.1" transform="rotate(71 6.0 6.3)" fill="#e6edf7" opacity="1.0"/><ellipse cx="32.0" cy="39.6" rx="2.2" ry="1.3" transform="rotate(77 32.0 39.6)" fill="#a9bfe2" opacity="1.0"/><ellipse cx="23.4" cy="27.5" rx="2.4" ry="2.2" transform="rotate(135 23.4 27.5)" fill="#e6edf7" opacity="1.0"/><ellipse cx="35.4" cy="11.6" rx="1.8" ry="1.1" transform="rotate(80 35.4 11.6)" fill="#a9bfe2" opacity="1.0"/><ellipse cx="23.5" cy="3.8" rx="1.8" ry="1.5" transform="rotate(130 23.5 3.8)" fill="#e6edf7" opacity="1.0"/><ellipse cx="23.5" cy="51.8" rx="1.8" ry="1.5" transform="rotate(130 23.5 51.8)" fill="#e6edf7" opacity="1.0"/><ellipse cx="2.8" cy="3.9" rx="1.6" ry="1.4" transform="rotate(92 2.8 3.9)" fill="#9bb3dc" opacity="1.0"/><ellipse cx="2.8" cy="51.9" rx="1.6" ry="1.4" transform="rotate(92 2.8 51.9)" fill="#9bb3dc" opacity="1.0"/><ellipse cx="50.8" cy="3.9" rx="1.6" ry="1.4" transform="rotate(92 50.8 3.9)" fill="#9bb3dc" opacity="1.0"/><ellipse cx="50.8" cy="51.9" rx="1.6" ry="1.4" transform="rotate(92 50.8 51.9)" fill="#9bb3dc" opacity="1.0"/><ellipse cx="8.2" cy="34.1" rx="1.4" ry="1.0" transform="rotate(40 8.2 34.1)" fill="#e6edf7" opacity="1.0"/><ellipse cx="10.1" cy="0.6" rx="0.8" ry="0.5" transform="rotate(109 10.1 0.6)" fill="#a9bfe2" opacity="1.0"/><ellipse cx="10.1" cy="48.6" rx="0.8" ry="0.5" transform="rotate(109 10.1 48.6)" fill="#a9bfe2" opacity="1.0"/><ellipse cx="2.7" cy="43.3" rx="0.8" ry="0.7" transform="rotate(27 2.7 43.3)" fill="#9bb3dc" opacity="1.0"/><ellipse cx="50.7" cy="43.3" rx="0.8" ry="0.7" transform="rotate(27 50.7 43.3)" fill="#9bb3dc" opacity="1.0"/><ellipse cx="33.2" cy="10.7" rx="1.6" ry="1.5" transform="rotate(154 33.2 10.7)" fill="#9bb3dc" opacity="1.0"/><ellipse cx="39.7" cy="34.8" rx="2.3" ry="1.5" transform="rotate(5 39.7 34.8)" fill="#9bb3dc" opacity="1.0"/><ellipse cx="38.3" cy="24.5" rx="1.1" ry="0.9" transform="rotate(63 38.3 24.5)" fill="#9bb3dc" opacity="1.0"/><ellipse cx="22.1" cy="34.5" rx="1.1" ry="0.6" transform="rotate(17 22.1 34.5)" fill="#e6edf7" opacity="1.0"/><ellipse cx="35.1" cy="-0.1" rx="2.1" ry="2.1" transform="rotate(28 35.1 -0.1)" fill="#a9bfe2" opacity="1.0"/><ellipse cx="35.1" cy="47.9" rx="2.1" ry="2.1" transform="rotate(28 35.1 47.9)" fill="#a9bfe2" opacity="1.0"/><ellipse cx="-3.4" cy="33.1" rx="1.9" ry="1.6" transform="rotate(137 -3.4 33.1)" fill="#e6edf7" opacity="1.0"/><ellipse cx="44.6" cy="33.1" rx="1.9" ry="1.6" transform="rotate(137 44.6 33.1)" fill="#e6edf7" opacity="1.0"/><ellipse cx="9.8" cy="20.9" rx="1.1" ry="0.6" transform="rotate(14 9.8 20.9)" fill="#a9bfe2" opacity="1.0"/><ellipse cx="27.6" cy="7.3" rx="2.0" ry="1.1" transform="rotate(37 27.6 7.3)" fill="#a9bfe2" opacity="1.0"/><ellipse cx="36.1" cy="5.5" rx="2.2" ry="1.5" transform="rotate(22 36.1 5.5)" fill="#e6edf7" opacity="1.0"/><ellipse cx="28.6" cy="17.0" rx="1.5" ry="1.1" transform="rotate(62 28.6 17.0)" fill="#a9bfe2" opacity="1.0"/><ellipse cx="10.2" cy="18.4" rx="2.2" ry="1.2" transform="rotate(38 10.2 18.4)" fill="#9bb3dc" opacity="1.0"/><ellipse cx="32.1" cy="16.4" rx="1.6" ry="1.1" transform="rotate(4 32.1 16.4)" fill="#a9bfe2" opacity="1.0"/><ellipse cx="20.0" cy="-1.8" rx="1.1" ry="0.6" transform="rotate(8 20.0 -1.8)" fill="#e6edf7" opacity="1.0"/><ellipse cx="20.0" cy="46.2" rx="1.1" ry="0.6" transform="rotate(8 20.0 46.2)" fill="#e6edf7" opacity="1.0"/><ellipse cx="30.6" cy="36.0" rx="1.8" ry="1.0" transform="rotate(161 30.6 36.0)" fill="#a9bfe2" opacity="1.0"/><ellipse cx="8.0" cy="42.4" rx="1.1" ry="0.9" transform="rotate(111 8.0 42.4)" fill="#9bb3dc" opacity="1.0"/><ellipse cx="19.8" cy="40.4" rx="0.9" ry="0.8" transform="rotate(93 19.8 40.4)" fill="#9bb3dc" opacity="1.0"/><ellipse cx="0.1" cy="6.0" rx="1.8" ry="1.0" transform="rotate(96 0.1 6.0)" fill="#e6edf7" opacity="1.0"/><ellipse cx="48.1" cy="6.0" rx="1.8" ry="1.0" transform="rotate(96 48.1 6.0)" fill="#e6edf7" opacity="1.0"/><ellipse cx="7.0" cy="20.6" rx="1.3" ry="1.0" transform="rotate(74 7.0 20.6)" fill="#a9bfe2" opacity="1.0"/><ellipse cx="43.5" cy="37.2" rx="1.0" ry="0.5" transform="rotate(47 43.5 37.2)" fill="#9bb3dc" opacity="1.0"/><ellipse cx="-2.0" cy="21.3" rx="2.0" ry="1.1" transform="rotate(147 -2.0 21.3)" fill="#9bb3dc" opacity="1.0"/><ellipse cx="46.0" cy="21.3" rx="2.0" ry="1.1" transform="rotate(147 46.0 21.3)" fill="#9bb3dc" opacity="1.0"/><ellipse cx="12.5" cy="14.7" rx="1.8" ry="1.8" transform="rotate(142 12.5 14.7)" fill="#a9bfe2" opacity="1.0"/><ellipse cx="6.0" cy="16.1" rx="2.4" ry="1.5" transform="rotate(156 6.0 16.1)" fill="#e6edf7" opacity="1.0"/><ellipse cx="40.1" cy="10.5" rx="2.3" ry="1.7" transform="rotate(1 40.1 10.5)" fill="#a9bfe2" opacity="1.0"/><ellipse cx="41.9" cy="38.3" rx="1.0" ry="0.8" transform="rotate(40 41.9 38.3)" fill="#e6edf7" opacity="1.0"/><ellipse cx="19.6" cy="36.9" rx="2.0" ry="1.8" transform="rotate(174 19.6 36.9)" fill="#a9bfe2" opacity="1.0"/><ellipse cx="15.2" cy="8.1" rx="1.5" ry="0.9" transform="rotate(135 15.2 8.1)" fill="#a9bfe2" opacity="1.0"/><ellipse cx="31.4" cy="38.7" rx="1.6" ry="1.3" transform="rotate(50 31.4 38.7)" fill="#9bb3dc" opacity="1.0"/><ellipse cx="0.9" cy="4.7" rx="2.0" ry="1.3" transform="rotate(19 0.9 4.7)" fill="#e6edf7" opacity="1.0"/><ellipse cx="48.9" cy="4.7" rx="2.0" ry="1.3" transform="rotate(19 48.9 4.7)" fill="#e6edf7" opacity="1.0"/><ellipse cx="23.7" cy="1.1" rx="2.2" ry="1.9" transform="rotate(124 23.7 1.1)" fill="#a9bfe2" opacity="1.0"/><ellipse cx="23.7" cy="49.1" rx="2.2" ry="1.9" transform="rotate(124 23.7 49.1)" fill="#a9bfe2" opacity="1.0"/><ellipse cx="15.8" cy="28.6" rx="1.4" ry="0.9" transform="rotate(36 15.8 28.6)" fill="#a9bfe2" opacity="1.0"/><ellipse cx="10.7" cy="8.8" rx="1.4" ry="1.4" transform="rotate(174 10.7 8.8)" fill="#a9bfe2" opacity="1.0"/><ellipse cx="1.3" cy="9.8" rx="1.0" ry="1.0" transform="rotate(145 1.3 9.8)" fill="#e6edf7" opacity="1.0"/><ellipse cx="49.3" cy="9.8" rx="1.0" ry="1.0" transform="rotate(145 49.3 9.8)" fill="#e6edf7" opacity="1.0"/></pattern><pattern id="pBrS" width="30" height="30" patternUnits="userSpaceOnUse"><rect width="30" height="30" fill="#ad7438"/><ellipse cx="15.7" cy="24.2" rx="1.6" ry="1.2" transform="rotate(138 15.7 24.2)" fill="#9a6228" opacity="1.0"/><ellipse cx="16.2" cy="8.3" rx="1.5" ry="1.2" transform="rotate(147 16.2 8.3)" fill="#c5d6e8" opacity="1.0"/><ellipse cx="7.6" cy="15.0" rx="1.1" ry="1.0" transform="rotate(170 7.6 15.0)" fill="#c5d6e8" opacity="1.0"/><ellipse cx="4.1" cy="16.5" rx="0.9" ry="0.9" transform="rotate(35 4.1 16.5)" fill="#9a6228" opacity="1.0"/><ellipse cx="16.0" cy="24.1" rx="1.3" ry="1.1" transform="rotate(22 16.0 24.1)" fill="#9a6228" opacity="1.0"/><ellipse cx="19.2" cy="9.3" rx="0.9" ry="0.8" transform="rotate(85 19.2 9.3)" fill="#9a6228" opacity="1.0"/><ellipse cx="4.2" cy="24.4" rx="1.5" ry="1.4" transform="rotate(3 4.2 24.4)" fill="#c5d6e8" opacity="1.0"/><ellipse cx="17.2" cy="-3.1" rx="1.4" ry="1.0" transform="rotate(86 17.2 -3.1)" fill="#9a6228" opacity="1.0"/><ellipse cx="17.2" cy="26.9" rx="1.4" ry="1.0" transform="rotate(86 17.2 26.9)" fill="#9a6228" opacity="1.0"/><ellipse cx="23.2" cy="26.0" rx="1.0" ry="0.9" transform="rotate(172 23.2 26.0)" fill="#9a6228" opacity="1.0"/><ellipse cx="-1.3" cy="1.7" rx="0.9" ry="0.7" transform="rotate(135 -1.3 1.7)" fill="#9a6228" opacity="1.0"/><ellipse cx="-1.3" cy="31.7" rx="0.9" ry="0.7" transform="rotate(135 -1.3 31.7)" fill="#9a6228" opacity="1.0"/><ellipse cx="28.7" cy="1.7" rx="0.9" ry="0.7" transform="rotate(135 28.7 1.7)" fill="#9a6228" opacity="1.0"/><ellipse cx="28.7" cy="31.7" rx="0.9" ry="0.7" transform="rotate(135 28.7 31.7)" fill="#9a6228" opacity="1.0"/><ellipse cx="16.0" cy="-2.9" rx="1.0" ry="0.8" transform="rotate(63 16.0 -2.9)" fill="#cfae84" opacity="1.0"/><ellipse cx="16.0" cy="27.1" rx="1.0" ry="0.8" transform="rotate(63 16.0 27.1)" fill="#cfae84" opacity="1.0"/><ellipse cx="10.0" cy="-2.7" rx="1.3" ry="1.0" transform="rotate(2 10.0 -2.7)" fill="#c5d6e8" opacity="1.0"/><ellipse cx="10.0" cy="27.3" rx="1.3" ry="1.0" transform="rotate(2 10.0 27.3)" fill="#c5d6e8" opacity="1.0"/><ellipse cx="0.6" cy="22.3" rx="1.2" ry="0.8" transform="rotate(36 0.6 22.3)" fill="#c5d6e8" opacity="1.0"/><ellipse cx="30.6" cy="22.3" rx="1.2" ry="0.8" transform="rotate(36 30.6 22.3)" fill="#c5d6e8" opacity="1.0"/><ellipse cx="2.3" cy="-0.4" rx="1.5" ry="1.1" transform="rotate(102 2.3 -0.4)" fill="#9a6228" opacity="1.0"/><ellipse cx="2.3" cy="29.6" rx="1.5" ry="1.1" transform="rotate(102 2.3 29.6)" fill="#9a6228" opacity="1.0"/><ellipse cx="32.3" cy="-0.4" rx="1.5" ry="1.1" transform="rotate(102 32.3 -0.4)" fill="#9a6228" opacity="1.0"/><ellipse cx="32.3" cy="29.6" rx="1.5" ry="1.1" transform="rotate(102 32.3 29.6)" fill="#9a6228" opacity="1.0"/><ellipse cx="4.2" cy="14.5" rx="1.6" ry="1.6" transform="rotate(147 4.2 14.5)" fill="#cfae84" opacity="1.0"/><ellipse cx="5.9" cy="7.5" rx="0.9" ry="0.7" transform="rotate(38 5.9 7.5)" fill="#9a6228" opacity="1.0"/><ellipse cx="9.2" cy="-3.3" rx="1.1" ry="0.8" transform="rotate(29 9.2 -3.3)" fill="#c5d6e8" opacity="1.0"/><ellipse cx="9.2" cy="26.7" rx="1.1" ry="0.8" transform="rotate(29 9.2 26.7)" fill="#c5d6e8" opacity="1.0"/><ellipse cx="2.8" cy="23.1" rx="1.5" ry="1.3" transform="rotate(73 2.8 23.1)" fill="#cfae84" opacity="1.0"/><ellipse cx="32.8" cy="23.1" rx="1.5" ry="1.3" transform="rotate(73 32.8 23.1)" fill="#cfae84" opacity="1.0"/><ellipse cx="16.3" cy="16.3" rx="1.6" ry="1.2" transform="rotate(172 16.3 16.3)" fill="#9a6228" opacity="1.0"/><ellipse cx="4.9" cy="8.9" rx="1.4" ry="1.2" transform="rotate(71 4.9 8.9)" fill="#c5d6e8" opacity="1.0"/><ellipse cx="6.7" cy="12.2" rx="1.3" ry="0.9" transform="rotate(83 6.7 12.2)" fill="#cfae84" opacity="1.0"/><ellipse cx="6.9" cy="9.5" rx="1.0" ry="0.8" transform="rotate(5 6.9 9.5)" fill="#9a6228" opacity="1.0"/><ellipse cx="17.3" cy="15.6" rx="0.8" ry="0.8" transform="rotate(174 17.3 15.6)" fill="#cfae84" opacity="1.0"/><ellipse cx="-2.1" cy="16.7" rx="1.3" ry="1.0" transform="rotate(180 -2.1 16.7)" fill="#cfae84" opacity="1.0"/><ellipse cx="27.9" cy="16.7" rx="1.3" ry="1.0" transform="rotate(180 27.9 16.7)" fill="#cfae84" opacity="1.0"/><ellipse cx="9.1" cy="10.7" rx="1.3" ry="1.1" transform="rotate(94 9.1 10.7)" fill="#cfae84" opacity="1.0"/><ellipse cx="-1.7" cy="-3.0" rx="1.2" ry="0.9" transform="rotate(83 -1.7 -3.0)" fill="#9a6228" opacity="1.0"/><ellipse cx="-1.7" cy="27.0" rx="1.2" ry="0.9" transform="rotate(83 -1.7 27.0)" fill="#9a6228" opacity="1.0"/><ellipse cx="28.3" cy="-3.0" rx="1.2" ry="0.9" transform="rotate(83 28.3 -3.0)" fill="#9a6228" opacity="1.0"/><ellipse cx="28.3" cy="27.0" rx="1.2" ry="0.9" transform="rotate(83 28.3 27.0)" fill="#9a6228" opacity="1.0"/><ellipse cx="4.1" cy="16.5" rx="1.2" ry="0.9" transform="rotate(33 4.1 16.5)" fill="#cfae84" opacity="1.0"/><ellipse cx="24.8" cy="14.0" rx="1.4" ry="1.1" transform="rotate(48 24.8 14.0)" fill="#9a6228" opacity="1.0"/><ellipse cx="20.0" cy="0.5" rx="0.9" ry="0.8" transform="rotate(54 20.0 0.5)" fill="#cfae84" opacity="1.0"/><ellipse cx="20.0" cy="30.5" rx="0.9" ry="0.8" transform="rotate(54 20.0 30.5)" fill="#cfae84" opacity="1.0"/><ellipse cx="-0.2" cy="3.0" rx="1.5" ry="1.5" transform="rotate(5 -0.2 3.0)" fill="#9a6228" opacity="1.0"/><ellipse cx="-0.2" cy="33.0" rx="1.5" ry="1.5" transform="rotate(5 -0.2 33.0)" fill="#9a6228" opacity="1.0"/><ellipse cx="29.8" cy="3.0" rx="1.5" ry="1.5" transform="rotate(5 29.8 3.0)" fill="#9a6228" opacity="1.0"/><ellipse cx="29.8" cy="33.0" rx="1.5" ry="1.5" transform="rotate(5 29.8 33.0)" fill="#9a6228" opacity="1.0"/><ellipse cx="24.6" cy="-2.3" rx="1.5" ry="1.1" transform="rotate(72 24.6 -2.3)" fill="#cfae84" opacity="1.0"/><ellipse cx="24.6" cy="27.7" rx="1.5" ry="1.1" transform="rotate(72 24.6 27.7)" fill="#cfae84" opacity="1.0"/><ellipse cx="12.8" cy="1.8" rx="1.2" ry="0.9" transform="rotate(97 12.8 1.8)" fill="#c5d6e8" opacity="1.0"/><ellipse cx="12.8" cy="31.8" rx="1.2" ry="0.9" transform="rotate(97 12.8 31.8)" fill="#c5d6e8" opacity="1.0"/><ellipse cx="10.7" cy="-1.8" rx="1.3" ry="1.3" transform="rotate(75 10.7 -1.8)" fill="#cfae84" opacity="1.0"/><ellipse cx="10.7" cy="28.2" rx="1.3" ry="1.3" transform="rotate(75 10.7 28.2)" fill="#cfae84" opacity="1.0"/><ellipse cx="15.8" cy="-0.2" rx="0.9" ry="0.8" transform="rotate(143 15.8 -0.2)" fill="#9a6228" opacity="1.0"/><ellipse cx="15.8" cy="29.8" rx="0.9" ry="0.8" transform="rotate(143 15.8 29.8)" fill="#9a6228" opacity="1.0"/><ellipse cx="21.9" cy="8.5" rx="1.1" ry="0.8" transform="rotate(97 21.9 8.5)" fill="#cfae84" opacity="1.0"/><ellipse cx="-2.3" cy="24.7" rx="1.2" ry="0.9" transform="rotate(13 -2.3 24.7)" fill="#c5d6e8" opacity="1.0"/><ellipse cx="27.7" cy="24.7" rx="1.2" ry="0.9" transform="rotate(13 27.7 24.7)" fill="#c5d6e8" opacity="1.0"/><ellipse cx="9.3" cy="6.0" rx="1.1" ry="0.8" transform="rotate(177 9.3 6.0)" fill="#9a6228" opacity="1.0"/><ellipse cx="4.5" cy="8.8" rx="1.1" ry="1.0" transform="rotate(70 4.5 8.8)" fill="#9a6228" opacity="1.0"/><ellipse cx="18.1" cy="-3.0" rx="1.3" ry="1.0" transform="rotate(106 18.1 -3.0)" fill="#c5d6e8" opacity="1.0"/><ellipse cx="18.1" cy="27.0" rx="1.3" ry="1.0" transform="rotate(106 18.1 27.0)" fill="#c5d6e8" opacity="1.0"/><ellipse cx="14.8" cy="26.2" rx="1.0" ry="1.0" transform="rotate(12 14.8 26.2)" fill="#cfae84" opacity="1.0"/></pattern><pattern id="pBS" width="30" height="30" patternUnits="userSpaceOnUse"><rect width="30" height="30" fill="#e2ecf6"/><ellipse cx="5.4" cy="19.8" rx="0.8" ry="0.5" transform="rotate(88 5.4 19.8)" fill="#f5f8fc" opacity="1.0"/><ellipse cx="5.5" cy="8.9" rx="1.2" ry="0.7" transform="rotate(162 5.5 8.9)" fill="#b8d0e8" opacity="1.0"/><ellipse cx="9.7" cy="20.2" rx="1.2" ry="1.1" transform="rotate(170 9.7 20.2)" fill="#b8d0e8" opacity="1.0"/><ellipse cx="5.1" cy="6.0" rx="0.9" ry="0.6" transform="rotate(146 5.1 6.0)" fill="#f5f8fc" opacity="1.0"/><ellipse cx="6.5" cy="9.0" rx="0.6" ry="0.6" transform="rotate(40 6.5 9.0)" fill="#f5f8fc" opacity="1.0"/><ellipse cx="16.1" cy="17.8" rx="1.0" ry="0.9" transform="rotate(108 16.1 17.8)" fill="#f5f8fc" opacity="1.0"/><ellipse cx="16.6" cy="8.4" rx="1.0" ry="0.7" transform="rotate(89 16.6 8.4)" fill="#b8d0e8" opacity="1.0"/><ellipse cx="5.7" cy="19.4" rx="1.2" ry="0.7" transform="rotate(92 5.7 19.4)" fill="#b8d0e8" opacity="1.0"/><ellipse cx="-2.6" cy="6.0" rx="0.8" ry="0.7" transform="rotate(142 -2.6 6.0)" fill="#f5f8fc" opacity="1.0"/><ellipse cx="27.4" cy="6.0" rx="0.8" ry="0.7" transform="rotate(142 27.4 6.0)" fill="#f5f8fc" opacity="1.0"/><ellipse cx="2.7" cy="4.4" rx="0.7" ry="0.4" transform="rotate(117 2.7 4.4)" fill="#f5f8fc" opacity="1.0"/><ellipse cx="32.7" cy="4.4" rx="0.7" ry="0.4" transform="rotate(117 32.7 4.4)" fill="#f5f8fc" opacity="1.0"/><ellipse cx="6.1" cy="-2.7" rx="1.0" ry="0.9" transform="rotate(147 6.1 -2.7)" fill="#b8d0e8" opacity="1.0"/><ellipse cx="6.1" cy="27.3" rx="1.0" ry="0.9" transform="rotate(147 6.1 27.3)" fill="#b8d0e8" opacity="1.0"/><ellipse cx="-0.5" cy="4.0" rx="1.1" ry="1.0" transform="rotate(86 -0.5 4.0)" fill="#f5f8fc" opacity="1.0"/><ellipse cx="29.5" cy="4.0" rx="1.1" ry="1.0" transform="rotate(86 29.5 4.0)" fill="#f5f8fc" opacity="1.0"/><ellipse cx="5.4" cy="12.5" rx="0.8" ry="0.6" transform="rotate(126 5.4 12.5)" fill="#b8d0e8" opacity="1.0"/><ellipse cx="10.1" cy="21.9" rx="1.0" ry="1.0" transform="rotate(78 10.1 21.9)" fill="#b8d0e8" opacity="1.0"/><ellipse cx="-3.0" cy="12.7" rx="1.1" ry="0.9" transform="rotate(145 -3.0 12.7)" fill="#f5f8fc" opacity="1.0"/><ellipse cx="27.0" cy="12.7" rx="1.1" ry="0.9" transform="rotate(145 27.0 12.7)" fill="#f5f8fc" opacity="1.0"/><ellipse cx="0.2" cy="16.7" rx="1.2" ry="0.9" transform="rotate(2 0.2 16.7)" fill="#f5f8fc" opacity="1.0"/><ellipse cx="30.2" cy="16.7" rx="1.2" ry="0.9" transform="rotate(2 30.2 16.7)" fill="#f5f8fc" opacity="1.0"/><ellipse cx="12.7" cy="12.1" rx="1.0" ry="0.8" transform="rotate(75 12.7 12.1)" fill="#b8d0e8" opacity="1.0"/><ellipse cx="6.8" cy="25.6" rx="0.7" ry="0.5" transform="rotate(113 6.8 25.6)" fill="#f5f8fc" opacity="1.0"/><ellipse cx="1.8" cy="24.8" rx="1.3" ry="1.1" transform="rotate(132 1.8 24.8)" fill="#b8d0e8" opacity="1.0"/><ellipse cx="31.8" cy="24.8" rx="1.3" ry="1.1" transform="rotate(132 31.8 24.8)" fill="#b8d0e8" opacity="1.0"/><ellipse cx="-2.1" cy="7.9" rx="0.7" ry="0.6" transform="rotate(126 -2.1 7.9)" fill="#b8d0e8" opacity="1.0"/><ellipse cx="27.9" cy="7.9" rx="0.7" ry="0.6" transform="rotate(126 27.9 7.9)" fill="#b8d0e8" opacity="1.0"/><ellipse cx="3.9" cy="9.0" rx="1.0" ry="0.5" transform="rotate(59 3.9 9.0)" fill="#f5f8fc" opacity="1.0"/><ellipse cx="-1.9" cy="21.6" rx="0.9" ry="0.6" transform="rotate(92 -1.9 21.6)" fill="#b8d0e8" opacity="1.0"/><ellipse cx="28.1" cy="21.6" rx="0.9" ry="0.6" transform="rotate(92 28.1 21.6)" fill="#b8d0e8" opacity="1.0"/><ellipse cx="8.2" cy="13.0" rx="1.1" ry="0.9" transform="rotate(72 8.2 13.0)" fill="#b8d0e8" opacity="1.0"/><ellipse cx="6.5" cy="4.9" rx="0.7" ry="0.6" transform="rotate(79 6.5 4.9)" fill="#b8d0e8" opacity="1.0"/><ellipse cx="22.7" cy="9.8" rx="1.1" ry="1.0" transform="rotate(100 22.7 9.8)" fill="#f5f8fc" opacity="1.0"/><ellipse cx="15.9" cy="2.6" rx="1.1" ry="1.0" transform="rotate(160 15.9 2.6)" fill="#f5f8fc" opacity="1.0"/><ellipse cx="15.9" cy="32.6" rx="1.1" ry="1.0" transform="rotate(160 15.9 32.6)" fill="#f5f8fc" opacity="1.0"/><ellipse cx="4.9" cy="-0.7" rx="0.7" ry="0.5" transform="rotate(97 4.9 -0.7)" fill="#f5f8fc" opacity="1.0"/><ellipse cx="4.9" cy="29.3" rx="0.7" ry="0.5" transform="rotate(97 4.9 29.3)" fill="#f5f8fc" opacity="1.0"/><ellipse cx="15.9" cy="-2.8" rx="1.1" ry="1.1" transform="rotate(122 15.9 -2.8)" fill="#f5f8fc" opacity="1.0"/><ellipse cx="15.9" cy="27.2" rx="1.1" ry="1.1" transform="rotate(122 15.9 27.2)" fill="#f5f8fc" opacity="1.0"/><ellipse cx="22.7" cy="15.3" rx="1.2" ry="1.1" transform="rotate(118 22.7 15.3)" fill="#b8d0e8" opacity="1.0"/><ellipse cx="0.5" cy="11.9" rx="1.1" ry="1.0" transform="rotate(104 0.5 11.9)" fill="#f5f8fc" opacity="1.0"/><ellipse cx="30.5" cy="11.9" rx="1.1" ry="1.0" transform="rotate(104 30.5 11.9)" fill="#f5f8fc" opacity="1.0"/></pattern></defs>
<rect width="2344" height="2712" fill="#fff"/>
<rect x="3.3" y="69.2" width="882.7" height="750.8" rx="98" fill="none" stroke="#d79b00" stroke-width="2.8" stroke-dasharray="9.2 6.8"/>
<rect x="137.7" y="11.3" width="614.0" height="99.10000000000001" rx="15" fill="#ffe6cc" stroke="#d79b00" stroke-width="2.8" stroke-dasharray="9 7"/>
<text x="271.2" y="72.6" font-size="35.18" font-weight="bold" font-style="normal" fill="#d79b00" stroke="#d79b00" stroke-width="1.13" stroke-linejoin="round" textLength="347.7" lengthAdjust="spacingAndGlyphs">TISSUE DETECTION</text>
<rect x="81.5" y="227.4" width="80.3" height="168.4" fill="#fff" stroke="#a5a5a5" stroke-width="1.3"/><g transform="translate(81.5,227.4) scale(0.08844,0.08817) translate(-57,-70)" opacity="0.55"><path d="M590.0,240.0 C595.0,230.0 639.0,226.0 650.0,220.0 C661.0,214.0 689.0,191.0 700.0,180.0 C711.0,169.0 750.5,119.0 760.0,110.0 C769.5,101.0 791.0,87.0 795.0,90.0 C799.0,93.0 802.5,130.0 800.0,140.0 C797.5,150.0 770.0,184.0 770.0,190.0 C770.0,196.0 792.0,196.0 800.0,200.0 C808.0,204.0 846.0,225.0 850.0,230.0 C854.0,235.0 845.0,249.0 840.0,250.0 C835.0,251.0 807.0,240.0 800.0,240.0 C793.0,240.0 774.0,243.0 770.0,250.0 C766.0,257.0 755.0,301.0 760.0,310.0 C765.0,319.0 813.0,329.0 820.0,340.0 C827.0,351.0 832.0,406.0 830.0,420.0 C828.0,434.0 807.0,474.0 800.0,480.0 C793.0,486.0 767.0,481.0 760.0,480.0 C753.0,479.0 735.0,466.0 730.0,470.0 C725.0,474.0 714.0,516.0 710.0,520.0 C706.0,524.0 694.0,517.0 690.0,510.0 C686.0,503.0 677.0,461.0 670.0,450.0 C663.0,439.0 627.0,413.0 620.0,400.0 C613.0,387.0 603.0,336.0 600.0,320.0 C597.0,304.0 585.0,250.0 590.0,240.0 Z" fill="#e6eef8" stroke="#e6eef8" stroke-width="16" stroke-linejoin="round"/><path d="M310.0,1030.0 C311.0,1023.0 321.0,1005.0 330.0,1010.0 C339.0,1015.0 386.0,1061.0 400.0,1080.0 C414.0,1099.0 456.0,1174.0 470.0,1200.0 C484.0,1226.0 527.0,1310.0 540.0,1340.0 C553.0,1370.0 590.0,1472.0 600.0,1500.0 C610.0,1528.0 636.0,1598.0 640.0,1620.0 C644.0,1642.0 642.0,1702.0 640.0,1720.0 C638.0,1738.0 625.0,1793.0 620.0,1800.0 C615.0,1807.0 593.0,1798.0 590.0,1790.0 C587.0,1782.0 593.0,1739.0 590.0,1720.0 C587.0,1701.0 569.0,1627.0 560.0,1600.0 C551.0,1573.0 513.0,1481.0 500.0,1450.0 C487.0,1419.0 443.0,1319.0 430.0,1290.0 C417.0,1261.0 381.0,1181.0 370.0,1160.0 C359.0,1139.0 326.0,1093.0 320.0,1080.0 C314.0,1067.0 309.0,1037.0 310.0,1030.0 Z" fill="#e6eef8" stroke="#e6eef8" stroke-width="16" stroke-linejoin="round"/><path d="M600.0,1010.0 C602.0,994.0 631.0,981.0 640.0,990.0 C649.0,999.0 684.0,1079.0 690.0,1100.0 C696.0,1121.0 700.0,1180.0 700.0,1200.0 C700.0,1220.0 688.0,1280.0 690.0,1300.0 C692.0,1320.0 717.0,1380.0 720.0,1400.0 C723.0,1420.0 723.0,1480.0 720.0,1500.0 C717.0,1520.0 696.0,1592.0 690.0,1600.0 C684.0,1608.0 664.0,1595.0 660.0,1580.0 C656.0,1565.0 652.0,1473.0 650.0,1450.0 C648.0,1427.0 640.0,1370.0 640.0,1350.0 C640.0,1330.0 652.0,1270.0 650.0,1250.0 C648.0,1230.0 625.0,1174.0 620.0,1150.0 C615.0,1126.0 598.0,1026.0 600.0,1010.0 Z" fill="#e6eef8" stroke="#e6eef8" stroke-width="16" stroke-linejoin="round"/><path d="M200.0,1260.0 C203.0,1256.0 234.0,1246.0 240.0,1250.0 C246.0,1254.0 257.0,1287.0 260.0,1300.0 C263.0,1313.0 268.0,1369.0 270.0,1380.0 C272.0,1391.0 281.0,1407.0 280.0,1410.0 C279.0,1413.0 264.0,1416.0 260.0,1410.0 C256.0,1404.0 245.0,1362.0 240.0,1350.0 C235.0,1338.0 214.0,1299.0 210.0,1290.0 C206.0,1281.0 197.0,1264.0 200.0,1260.0 Z" fill="#e6eef8" stroke="#e6eef8" stroke-width="16" stroke-linejoin="round"/><circle cx="680" cy="970" r="18" fill="#e6eef8"/><circle cx="330" cy="970" r="11" fill="#e6eef8"/></g><path d="M127.7,273.9 L152.2,273.4 L154.6,272.5 L153.0,275.7 L127.7,276.7 Z" fill="#1f3b4c"/>
<text x="89.7" y="418.1" font-size="14.96" font-weight="bold" font-style="normal" fill="#000" stroke="#000" stroke-width="0.48" stroke-linejoin="round" textLength="71.3" lengthAdjust="spacingAndGlyphs">ORIGINAL</text>
<text x="112.5" y="435.8" font-size="13.99" font-weight="bold" font-style="normal" fill="#000" stroke="#000" stroke-width="0.45" stroke-linejoin="round" textLength="27.2" lengthAdjust="spacingAndGlyphs">WSI</text>
<path d="M169.6,309.5 C190,309.5 190,300 190,270 C190,235 192,225 199,225 M169.6,309.5 C190,309.5 190,320 190,350 C190,385 192,394.5 199,394.5" fill="none" stroke="#555" stroke-width="1.2"/>
<path d="M199,176 L277,192 L277,247.5 L199,263 Z" fill="#dae8fc" stroke="#6c8ebf" stroke-width="1"/>
<text x="223.5" y="224.2" font-size="14.96" font-weight="bold" font-style="normal" fill="#6c8ebf" stroke="#6c8ebf" stroke-width="0.48" stroke-linejoin="round" textLength="27.5" lengthAdjust="spacingAndGlyphs">ALL</text>
<path d="M199,355.5 L277,371 L277,426.4 L199,443.2 Z" fill="#d5e8d4" stroke="#82b366" stroke-width="1"/>
<text x="218.3" y="395.4" font-size="15.65" font-weight="bold" font-style="normal" fill="#6a9a57" stroke="#6a9a57" stroke-width="0.50" stroke-linejoin="round" textLength="37.0" lengthAdjust="spacingAndGlyphs">NON-</text>
<text x="211.9" y="413.0" font-size="15.65" font-weight="bold" font-style="normal" fill="#6a9a57" stroke="#6a9a57" stroke-width="0.50" stroke-linejoin="round" textLength="52.2" lengthAdjust="spacingAndGlyphs">TISSUE</text>
<line x1="277" y1="220.6" x2="300.2" y2="220.6" stroke="#111" stroke-width="1"/>
<path d="M305,220.6 L299,217.9 L300.5,220.6 L299,223.29999999999998 Z" fill="#111"/>
<line x1="277" y1="398.5" x2="300.2" y2="398.5" stroke="#111" stroke-width="1"/>
<path d="M305,398.5 L299,395.8 L300.5,398.5 L299,401.2 Z" fill="#111"/>
<rect x="306.6" y="137.8" width="78.4" height="166.5" fill="#000"/><g transform="translate(306.6,137.8) scale(0.08634,0.08717) translate(-57,-70)"><path d="M590.0,240.0 C595.0,230.0 639.0,226.0 650.0,220.0 C661.0,214.0 689.0,191.0 700.0,180.0 C711.0,169.0 750.5,119.0 760.0,110.0 C769.5,101.0 791.0,87.0 795.0,90.0 C799.0,93.0 802.5,130.0 800.0,140.0 C797.5,150.0 770.0,184.0 770.0,190.0 C770.0,196.0 792.0,196.0 800.0,200.0 C808.0,204.0 846.0,225.0 850.0,230.0 C854.0,235.0 845.0,249.0 840.0,250.0 C835.0,251.0 807.0,240.0 800.0,240.0 C793.0,240.0 774.0,243.0 770.0,250.0 C766.0,257.0 755.0,301.0 760.0,310.0 C765.0,319.0 813.0,329.0 820.0,340.0 C827.0,351.0 832.0,406.0 830.0,420.0 C828.0,434.0 807.0,474.0 800.0,480.0 C793.0,486.0 767.0,481.0 760.0,480.0 C753.0,479.0 735.0,466.0 730.0,470.0 C725.0,474.0 714.0,516.0 710.0,520.0 C706.0,524.0 694.0,517.0 690.0,510.0 C686.0,503.0 677.0,461.0 670.0,450.0 C663.0,439.0 627.0,413.0 620.0,400.0 C613.0,387.0 603.0,336.0 600.0,320.0 C597.0,304.0 585.0,250.0 590.0,240.0 Z" fill="#fff" stroke="#fff" stroke-width="16" stroke-linejoin="round"/><path d="M310.0,1030.0 C311.0,1023.0 321.0,1005.0 330.0,1010.0 C339.0,1015.0 386.0,1061.0 400.0,1080.0 C414.0,1099.0 456.0,1174.0 470.0,1200.0 C484.0,1226.0 527.0,1310.0 540.0,1340.0 C553.0,1370.0 590.0,1472.0 600.0,1500.0 C610.0,1528.0 636.0,1598.0 640.0,1620.0 C644.0,1642.0 642.0,1702.0 640.0,1720.0 C638.0,1738.0 625.0,1793.0 620.0,1800.0 C615.0,1807.0 593.0,1798.0 590.0,1790.0 C587.0,1782.0 593.0,1739.0 590.0,1720.0 C587.0,1701.0 569.0,1627.0 560.0,1600.0 C551.0,1573.0 513.0,1481.0 500.0,1450.0 C487.0,1419.0 443.0,1319.0 430.0,1290.0 C417.0,1261.0 381.0,1181.0 370.0,1160.0 C359.0,1139.0 326.0,1093.0 320.0,1080.0 C314.0,1067.0 309.0,1037.0 310.0,1030.0 Z" fill="#fff" stroke="#fff" stroke-width="16" stroke-linejoin="round"/><path d="M600.0,1010.0 C602.0,994.0 631.0,981.0 640.0,990.0 C649.0,999.0 684.0,1079.0 690.0,1100.0 C696.0,1121.0 700.0,1180.0 700.0,1200.0 C700.0,1220.0 688.0,1280.0 690.0,1300.0 C692.0,1320.0 717.0,1380.0 720.0,1400.0 C723.0,1420.0 723.0,1480.0 720.0,1500.0 C717.0,1520.0 696.0,1592.0 690.0,1600.0 C684.0,1608.0 664.0,1595.0 660.0,1580.0 C656.0,1565.0 652.0,1473.0 650.0,1450.0 C648.0,1427.0 640.0,1370.0 640.0,1350.0 C640.0,1330.0 652.0,1270.0 650.0,1250.0 C648.0,1230.0 625.0,1174.0 620.0,1150.0 C615.0,1126.0 598.0,1026.0 600.0,1010.0 Z" fill="#fff" stroke="#fff" stroke-width="16" stroke-linejoin="round"/><path d="M200.0,1260.0 C203.0,1256.0 234.0,1246.0 240.0,1250.0 C246.0,1254.0 257.0,1287.0 260.0,1300.0 C263.0,1313.0 268.0,1369.0 270.0,1380.0 C272.0,1391.0 281.0,1407.0 280.0,1410.0 C279.0,1413.0 264.0,1416.0 260.0,1410.0 C256.0,1404.0 245.0,1362.0 240.0,1350.0 C235.0,1338.0 214.0,1299.0 210.0,1290.0 C206.0,1281.0 197.0,1264.0 200.0,1260.0 Z" fill="#fff" stroke="#fff" stroke-width="16" stroke-linejoin="round"/><circle cx="680" cy="970" r="18" fill="#fff"/><circle cx="330" cy="970" r="11" fill="#fff"/><path d="M583,600 L880,585 L884,618 L590,640 Z" fill="#fff"/></g>
<rect x="307" y="317.4" width="78" height="165.5" rx="0" fill="#000" stroke="none" stroke-width="1"/>
<path d="M351.4,361.5 L379,360.8 L378,365 L372,366.8 L353,366.6 Z" fill="#fff"/><circle cx="357.2" cy="474.7" r="1.2" fill="#ddd"/>
<line x1="306.5" y1="415.6" x2="385" y2="415.6" stroke="#444" stroke-width="0.6"/>
<path d="M388.7,220.7 C410,220.7 410,240 410,270 C410,300 415,310 428,310 M388.7,399 C410,399 410,380 410,350 C410,320 415,310 428,310" fill="none" stroke="#555" stroke-width="1.2"/>
<path d="M461.3,277.3 L493.2,310 L461.3,342.6 L429.4,310 Z" fill="#ffe6cc" stroke="#d6b656" stroke-width="1.2"/>
<text x="431.9" y="313.4" font-size="10.11" font-weight="bold" font-style="normal" fill="#d79b00" stroke="#d79b00" stroke-width="0.32" stroke-linejoin="round" textLength="57.1" lengthAdjust="spacingAndGlyphs">SUBSTRACT</text>
<line x1="493.2" y1="310" x2="510.2" y2="310" stroke="#111" stroke-width="1"/>
<path d="M515,310 L509,307.3 L510.5,310 L509,312.7 Z" fill="#111"/>
<rect x="516.1" y="227.6" width="78.8" height="167" fill="#000"/><g transform="translate(516.1,227.6) scale(0.08678,0.08743) translate(-57,-70)"><path d="M590.0,240.0 C595.0,230.0 639.0,226.0 650.0,220.0 C661.0,214.0 689.0,191.0 700.0,180.0 C711.0,169.0 750.5,119.0 760.0,110.0 C769.5,101.0 791.0,87.0 795.0,90.0 C799.0,93.0 802.5,130.0 800.0,140.0 C797.5,150.0 770.0,184.0 770.0,190.0 C770.0,196.0 792.0,196.0 800.0,200.0 C808.0,204.0 846.0,225.0 850.0,230.0 C854.0,235.0 845.0,249.0 840.0,250.0 C835.0,251.0 807.0,240.0 800.0,240.0 C793.0,240.0 774.0,243.0 770.0,250.0 C766.0,257.0 755.0,301.0 760.0,310.0 C765.0,319.0 813.0,329.0 820.0,340.0 C827.0,351.0 832.0,406.0 830.0,420.0 C828.0,434.0 807.0,474.0 800.0,480.0 C793.0,486.0 767.0,481.0 760.0,480.0 C753.0,479.0 735.0,466.0 730.0,470.0 C725.0,474.0 714.0,516.0 710.0,520.0 C706.0,524.0 694.0,517.0 690.0,510.0 C686.0,503.0 677.0,461.0 670.0,450.0 C663.0,439.0 627.0,413.0 620.0,400.0 C613.0,387.0 603.0,336.0 600.0,320.0 C597.0,304.0 585.0,250.0 590.0,240.0 Z" fill="#fff" stroke="#fff" stroke-width="16" stroke-linejoin="round"/><path d="M310.0,1030.0 C311.0,1023.0 321.0,1005.0 330.0,1010.0 C339.0,1015.0 386.0,1061.0 400.0,1080.0 C414.0,1099.0 456.0,1174.0 470.0,1200.0 C484.0,1226.0 527.0,1310.0 540.0,1340.0 C553.0,1370.0 590.0,1472.0 600.0,1500.0 C610.0,1528.0 636.0,1598.0 640.0,1620.0 C644.0,1642.0 642.0,1702.0 640.0,1720.0 C638.0,1738.0 625.0,1793.0 620.0,1800.0 C615.0,1807.0 593.0,1798.0 590.0,1790.0 C587.0,1782.0 593.0,1739.0 590.0,1720.0 C587.0,1701.0 569.0,1627.0 560.0,1600.0 C551.0,1573.0 513.0,1481.0 500.0,1450.0 C487.0,1419.0 443.0,1319.0 430.0,1290.0 C417.0,1261.0 381.0,1181.0 370.0,1160.0 C359.0,1139.0 326.0,1093.0 320.0,1080.0 C314.0,1067.0 309.0,1037.0 310.0,1030.0 Z" fill="#fff" stroke="#fff" stroke-width="16" stroke-linejoin="round"/><path d="M600.0,1010.0 C602.0,994.0 631.0,981.0 640.0,990.0 C649.0,999.0 684.0,1079.0 690.0,1100.0 C696.0,1121.0 700.0,1180.0 700.0,1200.0 C700.0,1220.0 688.0,1280.0 690.0,1300.0 C692.0,1320.0 717.0,1380.0 720.0,1400.0 C723.0,1420.0 723.0,1480.0 720.0,1500.0 C717.0,1520.0 696.0,1592.0 690.0,1600.0 C684.0,1608.0 664.0,1595.0 660.0,1580.0 C656.0,1565.0 652.0,1473.0 650.0,1450.0 C648.0,1427.0 640.0,1370.0 640.0,1350.0 C640.0,1330.0 652.0,1270.0 650.0,1250.0 C648.0,1230.0 625.0,1174.0 620.0,1150.0 C615.0,1126.0 598.0,1026.0 600.0,1010.0 Z" fill="#fff" stroke="#fff" stroke-width="16" stroke-linejoin="round"/><path d="M200.0,1260.0 C203.0,1256.0 234.0,1246.0 240.0,1250.0 C246.0,1254.0 257.0,1287.0 260.0,1300.0 C263.0,1313.0 268.0,1369.0 270.0,1380.0 C272.0,1391.0 281.0,1407.0 280.0,1410.0 C279.0,1413.0 264.0,1416.0 260.0,1410.0 C256.0,1404.0 245.0,1362.0 240.0,1350.0 C235.0,1338.0 214.0,1299.0 210.0,1290.0 C206.0,1281.0 197.0,1264.0 200.0,1260.0 Z" fill="#fff" stroke="#fff" stroke-width="16" stroke-linejoin="round"/><circle cx="680" cy="970" r="18" fill="#fff"/><circle cx="330" cy="970" r="11" fill="#fff"/></g>
<line x1="599" y1="310" x2="625" y2="310" stroke="#777" stroke-width="1"/>
<path d="M624.8,265.7 L702.3,281 L702.3,336.8 L624.8,352.8 Z" fill="#d5e8d4" stroke="#82b366" stroke-width="1"/>
<text x="646.2" y="306.1" font-size="10.11" font-weight="bold" font-style="normal" fill="#6a9a57" stroke="#6a9a57" stroke-width="0.32" stroke-linejoin="round" textLength="32.9" lengthAdjust="spacingAndGlyphs">SMALL</text>
<text x="627.5" y="318.6" font-size="10.39" font-weight="bold" font-style="normal" fill="#6a9a57" stroke="#6a9a57" stroke-width="0.33" stroke-linejoin="round" textLength="70.1" lengthAdjust="spacingAndGlyphs">COMPONENTS</text>
<line x1="702.3" y1="310" x2="719.2" y2="310" stroke="#111" stroke-width="1"/>
<path d="M724,310 L718,307.3 L719.5,310 L718,312.7 Z" fill="#111"/>
<rect x="726" y="226" width="78.8" height="166" fill="#000"/><g transform="translate(726,226) scale(0.08678,0.08691) translate(-57,-70)"><path d="M590.0,240.0 C595.0,230.0 639.0,226.0 650.0,220.0 C661.0,214.0 689.0,191.0 700.0,180.0 C711.0,169.0 750.5,119.0 760.0,110.0 C769.5,101.0 791.0,87.0 795.0,90.0 C799.0,93.0 802.5,130.0 800.0,140.0 C797.5,150.0 770.0,184.0 770.0,190.0 C770.0,196.0 792.0,196.0 800.0,200.0 C808.0,204.0 846.0,225.0 850.0,230.0 C854.0,235.0 845.0,249.0 840.0,250.0 C835.0,251.0 807.0,240.0 800.0,240.0 C793.0,240.0 774.0,243.0 770.0,250.0 C766.0,257.0 755.0,301.0 760.0,310.0 C765.0,319.0 813.0,329.0 820.0,340.0 C827.0,351.0 832.0,406.0 830.0,420.0 C828.0,434.0 807.0,474.0 800.0,480.0 C793.0,486.0 767.0,481.0 760.0,480.0 C753.0,479.0 735.0,466.0 730.0,470.0 C725.0,474.0 714.0,516.0 710.0,520.0 C706.0,524.0 694.0,517.0 690.0,510.0 C686.0,503.0 677.0,461.0 670.0,450.0 C663.0,439.0 627.0,413.0 620.0,400.0 C613.0,387.0 603.0,336.0 600.0,320.0 C597.0,304.0 585.0,250.0 590.0,240.0 Z" fill="#fff" stroke="#fff" stroke-width="16" stroke-linejoin="round"/><path d="M310.0,1030.0 C311.0,1023.0 321.0,1005.0 330.0,1010.0 C339.0,1015.0 386.0,1061.0 400.0,1080.0 C414.0,1099.0 456.0,1174.0 470.0,1200.0 C484.0,1226.0 527.0,1310.0 540.0,1340.0 C553.0,1370.0 590.0,1472.0 600.0,1500.0 C610.0,1528.0 636.0,1598.0 640.0,1620.0 C644.0,1642.0 642.0,1702.0 640.0,1720.0 C638.0,1738.0 625.0,1793.0 620.0,1800.0 C615.0,1807.0 593.0,1798.0 590.0,1790.0 C587.0,1782.0 593.0,1739.0 590.0,1720.0 C587.0,1701.0 569.0,1627.0 560.0,1600.0 C551.0,1573.0 513.0,1481.0 500.0,1450.0 C487.0,1419.0 443.0,1319.0 430.0,1290.0 C417.0,1261.0 381.0,1181.0 370.0,1160.0 C359.0,1139.0 326.0,1093.0 320.0,1080.0 C314.0,1067.0 309.0,1037.0 310.0,1030.0 Z" fill="#fff" stroke="#fff" stroke-width="16" stroke-linejoin="round"/><path d="M600.0,1010.0 C602.0,994.0 631.0,981.0 640.0,990.0 C649.0,999.0 684.0,1079.0 690.0,1100.0 C696.0,1121.0 700.0,1180.0 700.0,1200.0 C700.0,1220.0 688.0,1280.0 690.0,1300.0 C692.0,1320.0 717.0,1380.0 720.0,1400.0 C723.0,1420.0 723.0,1480.0 720.0,1500.0 C717.0,1520.0 696.0,1592.0 690.0,1600.0 C684.0,1608.0 664.0,1595.0 660.0,1580.0 C656.0,1565.0 652.0,1473.0 650.0,1450.0 C648.0,1427.0 640.0,1370.0 640.0,1350.0 C640.0,1330.0 652.0,1270.0 650.0,1250.0 C648.0,1230.0 625.0,1174.0 620.0,1150.0 C615.0,1126.0 598.0,1026.0 600.0,1010.0 Z" fill="#fff" stroke="#fff" stroke-width="16" stroke-linejoin="round"/><path d="M200.0,1260.0 C203.0,1256.0 234.0,1246.0 240.0,1250.0 C246.0,1254.0 257.0,1287.0 260.0,1300.0 C263.0,1313.0 268.0,1369.0 270.0,1380.0 C272.0,1391.0 281.0,1407.0 280.0,1410.0 C279.0,1413.0 264.0,1416.0 260.0,1410.0 C256.0,1404.0 245.0,1362.0 240.0,1350.0 C235.0,1338.0 214.0,1299.0 210.0,1290.0 C206.0,1281.0 197.0,1264.0 200.0,1260.0 Z" fill="#fff" stroke="#fff" stroke-width="16" stroke-linejoin="round"/><circle cx="680" cy="970" r="18" fill="#fff"/><circle cx="330" cy="970" r="11" fill="#fff"/></g>
<text x="737.8" y="409.8" font-size="14.13" font-weight="bold" font-style="normal" fill="#000" stroke="#000" stroke-width="0.45" stroke-linejoin="round" textLength="51.9" lengthAdjust="spacingAndGlyphs">TISSUE</text>
<text x="742.3" y="427.5" font-size="14.82" font-weight="bold" font-style="normal" fill="#000" stroke="#000" stroke-width="0.47" stroke-linejoin="round" textLength="42.2" lengthAdjust="spacingAndGlyphs">MASK</text>
<rect x="293.2" y="517.3" width="126.8" height="257.8" fill="#fff" stroke="#555" stroke-width="1.8"/><use href="#wsiC" transform="translate(293.2,517.3) scale(0.49243,0.48937) translate(-1.8,-1075.2)"/>
<text x="145.9" y="654.6" font-size="24.93" font-weight="bold" font-style="normal" fill="#000" stroke="#000" stroke-width="0.80" stroke-linejoin="round" textLength="122.9" lengthAdjust="spacingAndGlyphs">INPUT WSI</text>
<rect x="467.4" y="517.4" width="126.2" height="257.9" fill="#000"/><g transform="translate(460,510) scale(0.13036)"><path d="M480.0,230.0 C485.8,217.2 508.3,187.0 520.0,180.0 C531.7,173.0 566.0,173.5 580.0,170.0 C594.0,166.5 623.7,152.3 640.0,150.0 C656.3,147.7 703.7,144.2 720.0,150.0 C736.3,155.8 769.5,187.2 780.0,200.0 C790.5,212.8 807.7,246.0 810.0,260.0 C812.3,274.0 805.8,309.5 800.0,320.0 C794.2,330.5 771.7,346.5 760.0,350.0 C748.3,353.5 708.2,341.8 700.0,350.0 C691.8,358.2 697.0,409.5 690.0,420.0 C683.0,430.5 657.5,436.5 640.0,440.0 C622.5,443.5 554.0,452.3 540.0,450.0 C526.0,447.7 527.0,430.5 520.0,420.0 C513.0,409.5 485.8,375.2 480.0,360.0 C474.2,344.8 470.0,305.2 470.0,290.0 C470.0,274.8 474.2,242.8 480.0,230.0 Z" fill="#fff"/><path d="M340.0,1430.0 C349.3,1423.0 406.0,1415.3 420.0,1420.0 C434.0,1424.7 454.2,1457.2 460.0,1470.0 C465.8,1482.8 472.3,1514.8 470.0,1530.0 C467.7,1545.2 445.8,1582.5 440.0,1600.0 C434.2,1617.5 424.7,1664.8 420.0,1680.0 C415.3,1695.2 407.0,1720.7 400.0,1730.0 C393.0,1739.3 370.5,1763.5 360.0,1760.0 C349.5,1756.5 317.0,1716.3 310.0,1700.0 C303.0,1683.7 296.5,1636.3 300.0,1620.0 C303.5,1603.7 335.3,1576.3 340.0,1560.0 C344.7,1543.7 340.0,1495.2 340.0,1480.0 C340.0,1464.8 330.7,1437.0 340.0,1430.0 Z" fill="#fff"/><path d="M150.0,1700.0 C151.2,1693.0 171.8,1670.0 180.0,1670.0 C188.2,1670.0 213.0,1691.8 220.0,1700.0 C227.0,1708.2 241.2,1735.3 240.0,1740.0 C238.8,1744.7 218.2,1741.2 210.0,1740.0 C201.8,1738.8 177.0,1734.7 170.0,1730.0 C163.0,1725.3 148.8,1707.0 150.0,1700.0 Z" fill="#fff"/><path d="M520.0,1500.0 C530.5,1488.3 588.3,1463.0 600.0,1470.0 C611.7,1477.0 621.2,1540.2 620.0,1560.0 C618.8,1579.8 597.0,1621.3 590.0,1640.0 C583.0,1658.7 568.2,1710.7 560.0,1720.0 C551.8,1729.3 527.0,1728.2 520.0,1720.0 C513.0,1711.8 501.2,1667.5 500.0,1650.0 C498.8,1632.5 507.7,1587.5 510.0,1570.0 C512.3,1552.5 509.5,1511.7 520.0,1500.0 Z" fill="#fff"/><path d="M680.0,1380.0 C690.5,1367.2 727.2,1340.0 740.0,1340.0 C752.8,1340.0 785.3,1364.8 790.0,1380.0 C794.7,1395.2 788.2,1444.3 780.0,1470.0 C771.8,1495.7 732.8,1570.8 720.0,1600.0 C707.2,1629.2 679.3,1696.7 670.0,1720.0 C660.7,1743.3 649.3,1790.7 640.0,1800.0 C630.7,1809.3 599.3,1801.2 590.0,1800.0 C580.7,1798.8 565.8,1784.2 560.0,1790.0 C554.2,1795.8 545.8,1833.7 540.0,1850.0 C534.2,1866.3 518.2,1919.5 510.0,1930.0 C501.8,1940.5 477.0,1945.8 470.0,1940.0 C463.0,1934.2 448.8,1897.5 450.0,1880.0 C451.2,1862.5 470.7,1808.7 480.0,1790.0 C489.3,1771.3 518.3,1737.5 530.0,1720.0 C541.7,1702.5 568.3,1659.8 580.0,1640.0 C591.7,1620.2 621.8,1572.2 630.0,1550.0 C638.2,1527.8 644.2,1469.8 650.0,1450.0 C655.8,1430.2 669.5,1392.8 680.0,1380.0 Z" fill="#fff"/><path d="M800.0,1460.0 C805.8,1455.3 831.2,1470.7 830.0,1480.0 C828.8,1489.3 795.8,1535.3 790.0,1540.0 C784.2,1544.7 778.8,1529.3 780.0,1520.0 C781.2,1510.7 794.2,1464.7 800.0,1460.0 Z" fill="#fff"/><path d="M760.0,1580.0 C767.0,1570.7 782.3,1586.0 780.0,1600.0 C777.7,1614.0 747.0,1690.7 740.0,1700.0 C733.0,1709.3 717.7,1694.0 720.0,1680.0 C722.3,1666.0 753.0,1589.3 760.0,1580.0 Z" fill="#fff"/><circle cx="400" cy="1290" r="28" fill="#fff"/><circle cx="610" cy="1430" r="26" fill="#fff"/><circle cx="520" cy="1990" r="26" fill="#fff"/></g>
<text x="611.5" y="654.6" font-size="24.93" font-weight="bold" font-style="normal" fill="#000" stroke="#000" stroke-width="0.80" stroke-linejoin="round" textLength="173.9" lengthAdjust="spacingAndGlyphs">OUTPUT MASK</text>
<text x="415.9" y="980.6" font-size="42.00" font-weight="normal" font-style="normal" fill="#000" textLength="60.2" lengthAdjust="spacingAndGlyphs">(a)</text>
<rect x="1340" y="69" width="884" height="751" rx="100" fill="none" stroke="#d79b00" stroke-width="2.8" stroke-dasharray="9.2 6.8"/>
<rect x="1490.9" y="3.4" width="614.6999999999998" height="98.3" rx="15" fill="#ffe6cc" stroke="#d79b00" stroke-width="2.8" stroke-dasharray="9 7"/>
<text x="1718.0" y="42.9" font-size="34.07" font-weight="bold" font-style="normal" fill="#d79b00" stroke="#d79b00" stroke-width="1.09" stroke-linejoin="round" textLength="150.6" lengthAdjust="spacingAndGlyphs">TILING &amp;</text>
<text x="1538.7" y="85.7" font-size="34.76" font-weight="bold" font-style="normal" fill="#d79b00" stroke="#d79b00" stroke-width="1.11" stroke-linejoin="round" textLength="519.1" lengthAdjust="spacingAndGlyphs">RELEVANT TILES SELECTION</text>
<text x="1472.7" y="135.2" font-size="14.68" font-weight="bold" font-style="normal" fill="#000" stroke="#000" stroke-width="0.47" stroke-linejoin="round" textLength="70.8" lengthAdjust="spacingAndGlyphs">ORIGINAL</text>
<text x="1495.2" y="151.8" font-size="12.47" font-weight="bold" font-style="normal" fill="#000" stroke="#000" stroke-width="0.40" stroke-linejoin="round" textLength="27.6" lengthAdjust="spacingAndGlyphs">WSI</text>
<rect x="1456" y="159.7" width="102.7" height="215" fill="#fff" stroke="#a5a5a5" stroke-width="1.3"/><g transform="translate(1456,159.7) scale(0.11311,0.11257) translate(-57,-70)" opacity="0.55"><path d="M590.0,240.0 C595.0,230.0 639.0,226.0 650.0,220.0 C661.0,214.0 689.0,191.0 700.0,180.0 C711.0,169.0 750.5,119.0 760.0,110.0 C769.5,101.0 791.0,87.0 795.0,90.0 C799.0,93.0 802.5,130.0 800.0,140.0 C797.5,150.0 770.0,184.0 770.0,190.0 C770.0,196.0 792.0,196.0 800.0,200.0 C808.0,204.0 846.0,225.0 850.0,230.0 C854.0,235.0 845.0,249.0 840.0,250.0 C835.0,251.0 807.0,240.0 800.0,240.0 C793.0,240.0 774.0,243.0 770.0,250.0 C766.0,257.0 755.0,301.0 760.0,310.0 C765.0,319.0 813.0,329.0 820.0,340.0 C827.0,351.0 832.0,406.0 830.0,420.0 C828.0,434.0 807.0,474.0 800.0,480.0 C793.0,486.0 767.0,481.0 760.0,480.0 C753.0,479.0 735.0,466.0 730.0,470.0 C725.0,474.0 714.0,516.0 710.0,520.0 C706.0,524.0 694.0,517.0 690.0,510.0 C686.0,503.0 677.0,461.0 670.0,450.0 C663.0,439.0 627.0,413.0 620.0,400.0 C613.0,387.0 603.0,336.0 600.0,320.0 C597.0,304.0 585.0,250.0 590.0,240.0 Z" fill="#e6eef8" stroke="#e6eef8" stroke-width="16" stroke-linejoin="round"/><path d="M310.0,1030.0 C311.0,1023.0 321.0,1005.0 330.0,1010.0 C339.0,1015.0 386.0,1061.0 400.0,1080.0 C414.0,1099.0 456.0,1174.0 470.0,1200.0 C484.0,1226.0 527.0,1310.0 540.0,1340.0 C553.0,1370.0 590.0,1472.0 600.0,1500.0 C610.0,1528.0 636.0,1598.0 640.0,1620.0 C644.0,1642.0 642.0,1702.0 640.0,1720.0 C638.0,1738.0 625.0,1793.0 620.0,1800.0 C615.0,1807.0 593.0,1798.0 590.0,1790.0 C587.0,1782.0 593.0,1739.0 590.0,1720.0 C587.0,1701.0 569.0,1627.0 560.0,1600.0 C551.0,1573.0 513.0,1481.0 500.0,1450.0 C487.0,1419.0 443.0,1319.0 430.0,1290.0 C417.0,1261.0 381.0,1181.0 370.0,1160.0 C359.0,1139.0 326.0,1093.0 320.0,1080.0 C314.0,1067.0 309.0,1037.0 310.0,1030.0 Z" fill="#e6eef8" stroke="#e6eef8" stroke-width="16" stroke-linejoin="round"/><path d="M600.0,1010.0 C602.0,994.0 631.0,981.0 640.0,990.0 C649.0,999.0 684.0,1079.0 690.0,1100.0 C696.0,1121.0 700.0,1180.0 700.0,1200.0 C700.0,1220.0 688.0,1280.0 690.0,1300.0 C692.0,1320.0 717.0,1380.0 720.0,1400.0 C723.0,1420.0 723.0,1480.0 720.0,1500.0 C717.0,1520.0 696.0,1592.0 690.0,1600.0 C684.0,1608.0 664.0,1595.0 660.0,1580.0 C656.0,1565.0 652.0,1473.0 650.0,1450.0 C648.0,1427.0 640.0,1370.0 640.0,1350.0 C640.0,1330.0 652.0,1270.0 650.0,1250.0 C648.0,1230.0 625.0,1174.0 620.0,1150.0 C615.0,1126.0 598.0,1026.0 600.0,1010.0 Z" fill="#e6eef8" stroke="#e6eef8" stroke-width="16" stroke-linejoin="round"/><path d="M200.0,1260.0 C203.0,1256.0 234.0,1246.0 240.0,1250.0 C246.0,1254.0 257.0,1287.0 260.0,1300.0 C263.0,1313.0 268.0,1369.0 270.0,1380.0 C272.0,1391.0 281.0,1407.0 280.0,1410.0 C279.0,1413.0 264.0,1416.0 260.0,1410.0 C256.0,1404.0 245.0,1362.0 240.0,1350.0 C235.0,1338.0 214.0,1299.0 210.0,1290.0 C206.0,1281.0 197.0,1264.0 200.0,1260.0 Z" fill="#e6eef8" stroke="#e6eef8" stroke-width="16" stroke-linejoin="round"/><circle cx="680" cy="970" r="18" fill="#e6eef8"/><circle cx="330" cy="970" r="11" fill="#e6eef8"/></g><path d="M1515.1,219.0 L1546.4,218.4 L1549.5,217.3 L1547.4,221.4 L1515.1,222.7 Z" fill="#1f3b4c"/>
<rect x="1456.3" y="387.8" width="100.8" height="212" fill="#000"/><g transform="translate(1456.3,387.8) scale(0.11101,0.11099) translate(-57,-70)"><path d="M590.0,240.0 C595.0,230.0 639.0,226.0 650.0,220.0 C661.0,214.0 689.0,191.0 700.0,180.0 C711.0,169.0 750.5,119.0 760.0,110.0 C769.5,101.0 791.0,87.0 795.0,90.0 C799.0,93.0 802.5,130.0 800.0,140.0 C797.5,150.0 770.0,184.0 770.0,190.0 C770.0,196.0 792.0,196.0 800.0,200.0 C808.0,204.0 846.0,225.0 850.0,230.0 C854.0,235.0 845.0,249.0 840.0,250.0 C835.0,251.0 807.0,240.0 800.0,240.0 C793.0,240.0 774.0,243.0 770.0,250.0 C766.0,257.0 755.0,301.0 760.0,310.0 C765.0,319.0 813.0,329.0 820.0,340.0 C827.0,351.0 832.0,406.0 830.0,420.0 C828.0,434.0 807.0,474.0 800.0,480.0 C793.0,486.0 767.0,481.0 760.0,480.0 C753.0,479.0 735.0,466.0 730.0,470.0 C725.0,474.0 714.0,516.0 710.0,520.0 C706.0,524.0 694.0,517.0 690.0,510.0 C686.0,503.0 677.0,461.0 670.0,450.0 C663.0,439.0 627.0,413.0 620.0,400.0 C613.0,387.0 603.0,336.0 600.0,320.0 C597.0,304.0 585.0,250.0 590.0,240.0 Z" fill="#fff" stroke="#fff" stroke-width="16" stroke-linejoin="round"/><path d="M310.0,1030.0 C311.0,1023.0 321.0,1005.0 330.0,1010.0 C339.0,1015.0 386.0,1061.0 400.0,1080.0 C414.0,1099.0 456.0,1174.0 470.0,1200.0 C484.0,1226.0 527.0,1310.0 540.0,1340.0 C553.0,1370.0 590.0,1472.0 600.0,1500.0 C610.0,1528.0 636.0,1598.0 640.0,1620.0 C644.0,1642.0 642.0,1702.0 640.0,1720.0 C638.0,1738.0 625.0,1793.0 620.0,1800.0 C615.0,1807.0 593.0,1798.0 590.0,1790.0 C587.0,1782.0 593.0,1739.0 590.0,1720.0 C587.0,1701.0 569.0,1627.0 560.0,1600.0 C551.0,1573.0 513.0,1481.0 500.0,1450.0 C487.0,1419.0 443.0,1319.0 430.0,1290.0 C417.0,1261.0 381.0,1181.0 370.0,1160.0 C359.0,1139.0 326.0,1093.0 320.0,1080.0 C314.0,1067.0 309.0,1037.0 310.0,1030.0 Z" fill="#fff" stroke="#fff" stroke-width="16" stroke-linejoin="round"/><path d="M600.0,1010.0 C602.0,994.0 631.0,981.0 640.0,990.0 C649.0,999.0 684.0,1079.0 690.0,1100.0 C696.0,1121.0 700.0,1180.0 700.0,1200.0 C700.0,1220.0 688.0,1280.0 690.0,1300.0 C692.0,1320.0 717.0,1380.0 720.0,1400.0 C723.0,1420.0 723.0,1480.0 720.0,1500.0 C717.0,1520.0 696.0,1592.0 690.0,1600.0 C684.0,1608.0 664.0,1595.0 660.0,1580.0 C656.0,1565.0 652.0,1473.0 650.0,1450.0 C648.0,1427.0 640.0,1370.0 640.0,1350.0 C640.0,1330.0 652.0,1270.0 650.0,1250.0 C648.0,1230.0 625.0,1174.0 620.0,1150.0 C615.0,1126.0 598.0,1026.0 600.0,1010.0 Z" fill="#fff" stroke="#fff" stroke-width="16" stroke-linejoin="round"/><path d="M200.0,1260.0 C203.0,1256.0 234.0,1246.0 240.0,1250.0 C246.0,1254.0 257.0,1287.0 260.0,1300.0 C263.0,1313.0 268.0,1369.0 270.0,1380.0 C272.0,1391.0 281.0,1407.0 280.0,1410.0 C279.0,1413.0 264.0,1416.0 260.0,1410.0 C256.0,1404.0 245.0,1362.0 240.0,1350.0 C235.0,1338.0 214.0,1299.0 210.0,1290.0 C206.0,1281.0 197.0,1264.0 200.0,1260.0 Z" fill="#fff" stroke="#fff" stroke-width="16" stroke-linejoin="round"/><circle cx="680" cy="970" r="18" fill="#fff"/><circle cx="330" cy="970" r="11" fill="#fff"/></g>
<text x="1482.1" y="618.4" font-size="14.68" font-weight="bold" font-style="normal" fill="#000" stroke="#000" stroke-width="0.47" stroke-linejoin="round" textLength="51.8" lengthAdjust="spacingAndGlyphs">TISSUE</text>
<text x="1486.3" y="635.8" font-size="13.85" font-weight="bold" font-style="normal" fill="#000" stroke="#000" stroke-width="0.44" stroke-linejoin="round" textLength="42.7" lengthAdjust="spacingAndGlyphs">MASK</text>
<path d="M1562.9,265.2 C1585,265.2 1590,300 1592,340 C1594,370 1600,379.7 1609,379.7 M1562.9,493.5 C1585,493.5 1590,460 1592,420 C1594,390 1600,379.7 1609,379.7" fill="none" stroke="#555" stroke-width="1.2"/>
<path d="M1610.3,327.2 L1704.7,341 L1704.7,418 L1610.3,433.3 Z" fill="#dae8fc" stroke="#6c8ebf" stroke-width="1"/>
<text x="1634.1" y="385.0" font-size="15.65" font-weight="bold" font-style="normal" fill="#6c8ebf" stroke="#6c8ebf" stroke-width="0.50" stroke-linejoin="round" textLength="46.5" lengthAdjust="spacingAndGlyphs">TILING</text>
<line x1="1704.7" y1="379.7" x2="1730.4" y2="379.7" stroke="#111" stroke-width="1.2"/>
<path d="M1736,379.7 L1729,376.55 L1730.75,379.7 L1729,382.84999999999997 Z" fill="#111"/>
<rect x="1736.5" y="312.1" width="108" height="108" fill="url(#pIr1)" stroke="#b8c0cc" stroke-width="0.9"/><rect x="1743.4" y="318.8" width="108" height="108" fill="#f5f8fb" stroke="#b8c0cc" stroke-width="0.9"/><rect x="1750.5" y="326" width="108" height="108" fill="url(#pBS)" stroke="#b8c0cc" stroke-width="0.9"/><rect x="1756.8" y="332.6" width="108" height="108" fill="#efe3d6" stroke="#b8c0cc" stroke-width="0.9"/><circle cx="1824.8" cy="330.8" r="1.2" fill="#9a5a2a" opacity="0.8"/><circle cx="1835.8" cy="331.8" r="1.2" fill="#9a5a2a" opacity="0.8"/><circle cx="1752.4" cy="327.3" r="1.1" fill="#9a5a2a" opacity="0.8"/><circle cx="1751.4" cy="411.1" r="1.0" fill="#9a5a2a" opacity="0.8"/><circle cx="1755.5" cy="333.0" r="1.4" fill="#9a5a2a" opacity="0.8"/><circle cx="1754.7" cy="330.6" r="1.1" fill="#9a5a2a" opacity="0.8"/><circle cx="1763.4" cy="332.7" r="1.1" fill="#9a5a2a" opacity="0.8"/><circle cx="1838.5" cy="327.7" r="1.5" fill="#9a5a2a" opacity="0.8"/><circle cx="1810.1" cy="329.1" r="1.2" fill="#9a5a2a" opacity="0.8"/><circle cx="1755.0" cy="332.2" r="1.0" fill="#9a5a2a" opacity="0.8"/><circle cx="1752.3" cy="429.7" r="1.5" fill="#9a5a2a" opacity="0.8"/><circle cx="1755.6" cy="388.6" r="1.4" fill="#9a5a2a" opacity="0.8"/><circle cx="1802.0" cy="332.0" r="1.0" fill="#9a5a2a" opacity="0.8"/><circle cx="1756.3" cy="370.4" r="1.1" fill="#9a5a2a" opacity="0.8"/><circle cx="1792.3" cy="333.0" r="1.1" fill="#9a5a2a" opacity="0.8"/><circle cx="1761.0" cy="331.3" r="1.6" fill="#9a5a2a" opacity="0.8"/><circle cx="1803.6" cy="330.3" r="1.4" fill="#9a5a2a" opacity="0.8"/><circle cx="1816.2" cy="330.3" r="1.3" fill="#9a5a2a" opacity="0.8"/><circle cx="1769.2" cy="329.1" r="1.5" fill="#9a5a2a" opacity="0.8"/><circle cx="1814.9" cy="328.8" r="0.9" fill="#9a5a2a" opacity="0.8"/><circle cx="1838.1" cy="331.7" r="1.1" fill="#9a5a2a" opacity="0.8"/><circle cx="1755.1" cy="422.3" r="1.6" fill="#9a5a2a" opacity="0.8"/><circle cx="1856.8" cy="332.8" r="1.3" fill="#9a5a2a" opacity="0.8"/><circle cx="1753.9" cy="366.8" r="1.0" fill="#9a5a2a" opacity="0.8"/><circle cx="1752.0" cy="334.3" r="1.4" fill="#9a5a2a" opacity="0.8"/><circle cx="1753.9" cy="415.7" r="0.8" fill="#9a5a2a" opacity="0.8"/><clipPath id="cbs"><rect x="1763.5" y="338.9" width="108" height="107.6"/></clipPath><rect x="1763.5" y="338.9" width="108" height="107.6" fill="url(#pBS)" stroke="#b8c0cc" stroke-width="0.9"/><g clip-path="url(#cbs)"><path d="M1765.2,358.6 C1766.3,357.2 1774.3,354.0 1776.9,353.6 C1779.5,353.2 1786.2,353.5 1787.8,355.3 C1789.4,357.0 1789.6,365.5 1790.3,368.7 C1791.0,371.8 1792.7,378.7 1793.7,382.1 C1794.6,385.4 1798.5,394.4 1798.7,397.1 C1798.9,399.9 1796.3,403.7 1795.3,405.5 C1794.3,407.3 1791.3,411.2 1790.3,412.2 C1789.3,413.2 1787.5,414.7 1787.0,413.9 C1786.4,413.1 1784.9,407.5 1785.3,405.5 C1785.7,403.5 1790.1,399.6 1790.3,397.1 C1790.5,394.7 1788.1,387.5 1787.0,384.6 C1785.8,381.6 1782.0,373.9 1780.3,372.0 C1778.5,370.1 1773.4,369.4 1771.9,368.7 C1770.3,367.9 1767.6,366.5 1766.9,365.3 C1766.1,364.1 1764.0,360.0 1765.2,358.6 Z" fill="url(#pBrS)"/><path d="M1795.3,346.9 C1796.0,346.7 1799.5,350.1 1800.4,351.9 C1801.2,353.7 1802.7,359.6 1802.9,362.0 C1803.1,364.3 1802.5,370.8 1802.0,372.0 C1801.5,373.2 1799.4,373.0 1798.7,372.0 C1798.0,371.0 1796.7,365.8 1796.2,363.6 C1795.7,361.5 1794.6,355.5 1794.5,353.6 C1794.4,351.6 1794.6,347.1 1795.3,346.9 Z" fill="url(#pBrS)"/><path d="M1795.3,377.0 C1795.9,376.0 1801.9,378.6 1803.7,380.4 C1805.5,382.1 1809.6,389.7 1810.4,392.1 C1811.2,394.5 1810.8,399.3 1810.4,401.3 C1810.0,403.4 1807.9,409.7 1807.1,409.7 C1806.2,409.7 1803.8,403.8 1802.9,401.3 C1801.9,398.9 1799.6,391.6 1798.7,388.8 C1797.8,385.9 1794.7,378.0 1795.3,377.0 Z" fill="url(#pBrS)"/><path d="M1812.9,339.3 C1813.8,338.1 1820.1,338.7 1822.1,340.2 C1824.2,341.6 1829.3,349.2 1830.5,351.9 C1831.7,354.6 1831.6,361.3 1832.2,363.6 C1832.8,366.0 1834.7,370.0 1835.5,372.0 C1836.3,374.0 1838.7,378.8 1838.9,380.4 C1839.1,381.9 1838.6,385.0 1837.2,385.4 C1835.8,385.8 1829.1,384.8 1827.2,383.7 C1825.2,382.7 1821.6,378.5 1820.5,376.2 C1819.3,373.8 1817.8,366.6 1817.1,363.6 C1816.4,360.7 1815.1,353.9 1814.6,351.1 C1814.1,348.2 1812.0,340.6 1812.9,339.3 Z" fill="url(#pBrS)"/><path d="M1824.6,339.3 C1824.9,338.4 1832.5,338.3 1834.7,340.2 C1836.8,342.0 1842.3,353.3 1843.1,355.3 C1843.8,357.2 1842.7,357.7 1841.4,356.9 C1840.1,356.1 1834.1,350.6 1832.2,348.6 C1830.2,346.5 1824.3,340.3 1824.6,339.3 Z" fill="url(#pBrS)"/><path d="M1822.1,397.1 C1823.5,395.5 1828.4,400.1 1830.5,399.6 C1832.7,399.2 1838.8,392.7 1840.6,392.9 C1842.3,393.1 1844.8,398.9 1845.6,401.3 C1846.4,403.8 1847.5,411.9 1847.3,413.9 C1847.0,415.8 1844.2,418.3 1843.1,418.1 C1841.9,417.9 1838.9,413.7 1837.2,412.2 C1835.5,410.7 1831.0,405.3 1828.8,405.5 C1826.7,405.7 1819.6,414.9 1818.8,413.9 C1818.0,412.9 1820.8,398.8 1822.1,397.1 Z" fill="url(#pBrS)"/><path d="M1843.9,370.3 C1844.2,369.0 1848.8,372.5 1849.8,373.7 C1850.7,374.8 1852.2,378.6 1852.3,380.4 C1852.4,382.1 1851.2,388.2 1850.6,388.8 C1850.0,389.3 1848.0,387.6 1847.3,385.4 C1846.5,383.3 1843.6,371.7 1843.9,370.3 Z" fill="url(#pBrS)"/><path d="M1865.7,387.1 C1866.6,384.4 1870.9,376.0 1871.5,382.9 C1872.2,389.8 1871.9,439.5 1871.5,446.5 C1871.2,453.6 1869.0,446.0 1868.2,443.2 C1867.4,440.4 1865.3,426.6 1864.8,422.3 C1864.4,417.9 1863.9,409.6 1864.0,405.5 C1864.1,401.4 1864.8,389.7 1865.7,387.1 Z" fill="url(#pBrS)"/><path d="M1763.5,422.3 C1765.1,419.9 1774.5,425.0 1776.9,426.4 C1779.3,427.9 1783.9,432.5 1784.4,434.8 C1785.0,437.2 1784.4,445.2 1781.9,446.5 C1779.5,447.9 1765.7,449.4 1763.5,446.5 C1761.4,443.7 1761.9,424.6 1763.5,422.3 Z" fill="url(#pBrS)"/><path d="M1807.9,430.6 C1808.6,428.7 1814.1,428.8 1815.4,429.8 C1816.8,430.8 1819.4,437.0 1819.6,439.0 C1819.8,441.0 1818.3,445.7 1817.1,446.5 C1815.9,447.4 1810.6,448.4 1809.6,446.5 C1808.5,444.7 1807.2,432.6 1807.9,430.6 Z" fill="url(#pBrS)"/><path d="M1833.0,429.0 C1833.5,428.2 1837.6,428.6 1838.9,430.6 C1840.1,432.7 1843.9,444.7 1843.9,446.5 C1843.9,448.4 1840.0,447.6 1838.9,446.5 C1837.8,445.5 1835.4,439.4 1834.7,437.3 C1834.0,435.3 1832.5,429.7 1833.0,429.0 Z" fill="url(#pBrS)"/></g>
<line x1="1871.6" y1="379.5" x2="1904.4" y2="379.5" stroke="#333" stroke-width="1.1"/>
<path d="M1904.4,326.6 L1999.3,342.6 L1999.3,418 L1904.4,433.5 Z" fill="#d5e8d4" stroke="#82b366" stroke-width="1"/>
<text x="1912.3" y="367.1" font-size="14.82" font-weight="bold" font-style="normal" fill="#6a9a57" stroke="#6a9a57" stroke-width="0.47" stroke-linejoin="round" textLength="77.1" lengthAdjust="spacingAndGlyphs">RELEVANT</text>
<text x="1931.5" y="384.5" font-size="13.99" font-weight="bold" font-style="normal" fill="#6a9a57" stroke="#6a9a57" stroke-width="0.45" stroke-linejoin="round" textLength="39.8" lengthAdjust="spacingAndGlyphs">TILES</text>
<text x="1924.3" y="401.8" font-size="13.85" font-weight="bold" font-style="normal" fill="#6a9a57" stroke="#6a9a57" stroke-width="0.44" stroke-linejoin="round" textLength="54.2" lengthAdjust="spacingAndGlyphs">CLASS.</text>
<line x1="1999.3" y1="379.5" x2="2030.4" y2="379.5" stroke="#111" stroke-width="1.1"/>
<path d="M2036,379.5 L2029,376.35 L2030.75,379.5 L2029,382.65 Z" fill="#111"/>
<rect x="2037.2" y="274.8" width="101" height="210.5" fill="#000"/><g transform="translate(2030,265) scale(0.111)"><path d="M600.0,370.0 L700.0,350.0 L780.0,340.0 L830.0,320.0 L850.0,420.0 L820.0,480.0 L780.0,500.0 L740.0,480.0 L730.0,540.0 L700.0,540.0 L680.0,470.0 L650.0,420.0 Z" fill="#fff" stroke="#fff" stroke-width="6" stroke-linejoin="round"/><path d="M850.0,240.0 L870.0,235.0 L892.0,262.0 L875.0,272.0 Z" fill="#fff" stroke="#fff" stroke-width="6" stroke-linejoin="round"/><path d="M310.0,1040.0 L330.0,960.0 L350.0,950.0 L340.0,1010.0 L420.0,1100.0 L500.0,1200.0 L560.0,1350.0 L630.0,1500.0 L650.0,1600.0 L640.0,1720.0 L610.0,1750.0 L590.0,1650.0 L540.0,1500.0 L470.0,1350.0 L400.0,1200.0 Z" fill="#fff" stroke="#fff" stroke-width="6" stroke-linejoin="round"/><path d="M610.0,1000.0 L650.0,990.0 L690.0,1080.0 L700.0,1260.0 L670.0,1270.0 L650.0,1220.0 L640.0,1270.0 L620.0,1200.0 Z" fill="#fff" stroke="#fff" stroke-width="6" stroke-linejoin="round"/><path d="M680.0,950.0 L705.0,945.0 L700.0,985.0 L675.0,985.0 Z" fill="#fff" stroke="#fff" stroke-width="6" stroke-linejoin="round"/><path d="M660.0,1360.0 L710.0,1360.0 L730.0,1450.0 L720.0,1550.0 L680.0,1640.0 L640.0,1600.0 L650.0,1500.0 Z" fill="#fff" stroke="#fff" stroke-width="6" stroke-linejoin="round"/><path d="M210.0,1260.0 L250.0,1240.0 L270.0,1300.0 L280.0,1390.0 L260.0,1410.0 L240.0,1340.0 Z" fill="#fff" stroke="#fff" stroke-width="6" stroke-linejoin="round"/></g>
<text x="2049.2" y="503.8" font-size="14.54" font-weight="bold" font-style="normal" fill="#000" stroke="#000" stroke-width="0.47" stroke-linejoin="round" textLength="77.3" lengthAdjust="spacingAndGlyphs">RELEVANT</text>
<text x="2044.9" y="521.8" font-size="15.24" font-weight="bold" font-style="normal" fill="#000" stroke="#000" stroke-width="0.49" stroke-linejoin="round" textLength="87.0" lengthAdjust="spacingAndGlyphs">TILES MASK</text>
<rect x="1437" y="662.4" width="90" height="88.60000000000002" rx="0" fill="url(#pIr1)" stroke="none" stroke-width="1"/>
<rect x="1544" y="662.4" width="88" height="88.60000000000002" rx="0" fill="url(#pIr2)" stroke="none" stroke-width="1"/>
<rect x="1651" y="662.4" width="83.59999999999991" height="88.60000000000002" rx="0" fill="url(#pIr3)" stroke="none" stroke-width="1"/>
<clipPath id="crt1"><rect x="1850" y="661.6" width="91.8" height="91.8"/></clipPath><rect x="1850" y="661.6" width="91.8" height="91.8" fill="url(#pBS)"/><g clip-path="url(#crt1)"><path d="M1851.5,678.3 C1852.5,677.2 1859.6,674.4 1862.0,674.1 C1864.3,673.7 1870.3,674.0 1871.7,675.5 C1873.1,677.0 1873.3,684.2 1873.9,686.9 C1874.5,689.5 1876.0,695.4 1876.9,698.2 C1877.8,701.1 1881.2,708.7 1881.4,711.1 C1881.6,713.4 1879.3,716.7 1878.4,718.2 C1877.5,719.7 1874.8,723.0 1873.9,723.9 C1873.0,724.7 1871.4,726.0 1870.9,725.3 C1870.4,724.6 1869.1,719.8 1869.4,718.2 C1869.8,716.5 1873.7,713.1 1873.9,711.1 C1874.1,709.0 1872.0,702.9 1870.9,700.4 C1869.9,697.9 1866.5,691.3 1864.9,689.7 C1863.4,688.1 1858.9,687.5 1857.5,686.9 C1856.1,686.2 1853.7,685.0 1853.0,684.0 C1852.3,683.0 1850.4,679.5 1851.5,678.3 Z" fill="url(#pBrS)"/><path d="M1878.4,668.4 C1879.0,668.2 1882.1,671.1 1882.9,672.6 C1883.7,674.1 1884.9,679.2 1885.1,681.2 C1885.3,683.2 1884.8,688.7 1884.4,689.7 C1883.9,690.7 1882.0,690.5 1881.4,689.7 C1880.8,688.9 1879.6,684.4 1879.1,682.6 C1878.7,680.8 1877.7,675.7 1877.6,674.1 C1877.6,672.4 1877.8,668.5 1878.4,668.4 Z" fill="url(#pBrS)"/><path d="M1878.4,694.0 C1878.9,693.1 1884.3,695.3 1885.9,696.8 C1887.4,698.3 1891.1,704.7 1891.8,706.8 C1892.5,708.9 1892.2,712.9 1891.8,714.6 C1891.5,716.4 1889.6,721.7 1888.9,721.7 C1888.1,721.7 1886.0,716.7 1885.1,714.6 C1884.2,712.5 1882.2,706.3 1881.4,703.9 C1880.6,701.5 1877.9,694.8 1878.4,694.0 Z" fill="url(#pBrS)"/><path d="M1894.1,662.0 C1894.9,660.9 1900.5,661.4 1902.3,662.7 C1904.1,663.9 1908.7,670.3 1909.8,672.6 C1910.8,675.0 1910.7,680.6 1911.3,682.6 C1911.8,684.6 1913.6,688.0 1914.3,689.7 C1915.0,691.4 1917.1,695.5 1917.2,696.8 C1917.4,698.2 1917.0,700.8 1915.8,701.1 C1914.5,701.4 1908.5,700.6 1906.8,699.7 C1905.0,698.8 1901.9,695.3 1900.8,693.3 C1899.8,691.3 1898.4,685.1 1897.8,682.6 C1897.2,680.1 1896.0,674.3 1895.6,671.9 C1895.1,669.5 1893.3,663.0 1894.1,662.0 Z" fill="url(#pBrS)"/><path d="M1904.5,662.0 C1904.8,661.1 1911.6,661.1 1913.5,662.7 C1915.4,664.2 1920.3,673.8 1921.0,675.5 C1921.7,677.1 1920.6,677.6 1919.5,676.9 C1918.4,676.2 1913.0,671.5 1911.3,669.8 C1909.5,668.0 1904.3,662.8 1904.5,662.0 Z" fill="url(#pBrS)"/><path d="M1902.3,711.1 C1903.5,709.6 1907.9,713.6 1909.8,713.2 C1911.7,712.8 1917.2,707.3 1918.7,707.5 C1920.3,707.7 1922.5,712.5 1923.2,714.6 C1923.9,716.7 1925.0,723.6 1924.7,725.3 C1924.5,727.0 1922.0,729.0 1921.0,728.8 C1919.9,728.7 1917.2,725.1 1915.8,723.9 C1914.3,722.6 1910.2,718.0 1908.3,718.2 C1906.4,718.3 1900.0,726.1 1899.3,725.3 C1898.6,724.5 1901.1,712.5 1902.3,711.1 Z" fill="url(#pBrS)"/><path d="M1921.7,688.3 C1922.0,687.1 1926.1,690.1 1927.0,691.1 C1927.8,692.1 1929.1,695.3 1929.2,696.8 C1929.3,698.3 1928.2,703.4 1927.7,703.9 C1927.2,704.4 1925.4,702.9 1924.7,701.1 C1924.0,699.3 1921.5,689.4 1921.7,688.3 Z" fill="url(#pBrS)"/><path d="M1941.2,702.5 C1941.9,700.3 1945.8,693.1 1946.4,699.0 C1947.0,704.9 1946.7,747.1 1946.4,753.0 C1946.0,759.0 1944.1,752.6 1943.4,750.2 C1942.7,747.8 1940.8,736.1 1940.4,732.4 C1940.0,728.7 1939.6,721.7 1939.7,718.2 C1939.8,714.7 1940.4,704.8 1941.2,702.5 Z" fill="url(#pBrS)"/><path d="M1850.0,732.4 C1851.4,730.4 1859.8,734.7 1862.0,736.0 C1864.1,737.2 1868.2,741.1 1868.7,743.1 C1869.2,745.1 1868.6,751.9 1866.4,753.0 C1864.3,754.2 1851.9,755.5 1850.0,753.0 C1848.1,750.6 1848.6,734.4 1850.0,732.4 Z" fill="url(#pBrS)"/><path d="M1889.6,739.5 C1890.2,737.9 1895.1,738.0 1896.3,738.8 C1897.5,739.6 1899.9,745.0 1900.1,746.6 C1900.2,748.3 1898.9,752.3 1897.8,753.0 C1896.8,753.8 1892.1,754.6 1891.1,753.0 C1890.1,751.5 1889.0,741.2 1889.6,739.5 Z" fill="url(#pBrS)"/><path d="M1912.0,738.1 C1912.5,737.4 1916.1,737.8 1917.2,739.5 C1918.4,741.3 1921.7,751.5 1921.7,753.0 C1921.7,754.6 1918.2,754.0 1917.2,753.0 C1916.3,752.1 1914.1,747.0 1913.5,745.2 C1912.9,743.5 1911.6,738.8 1912.0,738.1 Z" fill="url(#pBrS)"/></g>
<rect x="1962" y="661.6" width="88.69999999999982" height="91.39999999999998" rx="0" fill="url(#pRl1)" stroke="none" stroke-width="1"/>
<rect x="2069.4" y="661.6" width="90.59999999999991" height="91.39999999999998" rx="0" fill="url(#pRl3)" stroke="none" stroke-width="1"/>
<text x="1474.8" y="783.5" font-size="23.96" font-weight="bold" font-style="normal" fill="#000" stroke="#000" stroke-width="0.77" stroke-linejoin="round" textLength="223.6" lengthAdjust="spacingAndGlyphs">IRRELEVANT TILES</text>
<text x="1904.3" y="783.6" font-size="24.10" font-weight="bold" font-style="normal" fill="#000" stroke="#000" stroke-width="0.77" stroke-linejoin="round" textLength="199.8" lengthAdjust="spacingAndGlyphs">RELEVANT TILES</text>
<text x="1751.7" y="980.6" font-size="42.00" font-weight="normal" font-style="normal" fill="#000" textLength="64.1" lengthAdjust="spacingAndGlyphs">(b)</text>
<rect x="1.6" y="1074.2" width="257.8" height="528.5" fill="#fff" stroke="#111" stroke-width="3"/><g id="wsiC"><path d="M112.5,1111.4 C116.7,1107.1 147.7,1102.0 155.4,1101.0 C163.1,1100.0 185.1,1098.5 189.4,1101.0 C193.7,1103.5 198.0,1121.3 198.3,1126.2 C198.6,1131.1 194.5,1145.6 192.4,1150.0 C190.3,1154.4 181.3,1168.2 177.6,1170.6 C173.9,1173.0 161.0,1173.0 155.4,1173.6 C149.8,1174.2 125.5,1179.5 121.3,1176.5 C117.1,1173.5 114.8,1150.5 113.9,1144.0 C113.0,1137.5 108.3,1115.7 112.5,1111.4 Z" fill="#eff4f9"/><ellipse cx="117.0" cy="1111.6" rx="2.1" ry="2.0" fill="#c3d7ec" opacity="0.6"/><ellipse cx="127.0" cy="1111.6" rx="1.7" ry="2.1" fill="#c3d7ec" opacity="0.6"/><ellipse cx="127.6" cy="1154.4" rx="2.7" ry="1.2" fill="#c3d7ec" opacity="0.6"/><ellipse cx="158.3" cy="1134.4" rx="2.1" ry="2.5" fill="#c3d7ec" opacity="0.6"/><ellipse cx="123.4" cy="1105.4" rx="3.4" ry="1.6" fill="#c3d7ec" opacity="0.6"/><ellipse cx="131.7" cy="1126.5" rx="2.0" ry="2.4" fill="#c3d7ec" opacity="0.6"/><ellipse cx="132.6" cy="1118.8" rx="2.5" ry="1.8" fill="#c3d7ec" opacity="0.6"/><ellipse cx="191.3" cy="1161.0" rx="2.0" ry="1.3" fill="#c3d7ec" opacity="0.6"/><ellipse cx="182.1" cy="1171.3" rx="1.3" ry="2.1" fill="#c3d7ec" opacity="0.6"/><ellipse cx="184.6" cy="1148.3" rx="1.7" ry="2.2" fill="#c3d7ec" opacity="0.6"/><ellipse cx="173.7" cy="1117.2" rx="2.7" ry="1.3" fill="#c3d7ec" opacity="0.6"/><ellipse cx="119.3" cy="1126.8" rx="2.0" ry="1.6" fill="#c3d7ec" opacity="0.6"/><ellipse cx="167.1" cy="1160.9" rx="3.4" ry="2.5" fill="#c3d7ec" opacity="0.6"/><ellipse cx="194.5" cy="1157.7" rx="1.9" ry="1.3" fill="#c3d7ec" opacity="0.6"/><ellipse cx="165.3" cy="1141.1" rx="2.8" ry="1.1" fill="#c3d7ec" opacity="0.6"/><ellipse cx="131.2" cy="1166.6" rx="2.6" ry="2.0" fill="#c3d7ec" opacity="0.6"/><ellipse cx="123.6" cy="1131.1" rx="3.3" ry="2.0" fill="#c3d7ec" opacity="0.6"/><ellipse cx="194.3" cy="1117.4" rx="2.2" ry="2.2" fill="#c3d7ec" opacity="0.6"/><ellipse cx="151.1" cy="1157.6" rx="2.5" ry="1.2" fill="#c3d7ec" opacity="0.6"/><ellipse cx="123.8" cy="1170.8" rx="1.5" ry="1.3" fill="#c3d7ec" opacity="0.6"/><ellipse cx="142.5" cy="1152.5" rx="3.2" ry="1.7" fill="#c3d7ec" opacity="0.6"/><ellipse cx="155.4" cy="1157.6" rx="1.8" ry="1.6" fill="#c3d7ec" opacity="0.6"/><ellipse cx="164.4" cy="1147.3" rx="1.3" ry="1.2" fill="#c3d7ec" opacity="0.6"/><ellipse cx="126.9" cy="1153.3" rx="2.8" ry="2.5" fill="#c3d7ec" opacity="0.6"/><ellipse cx="176.6" cy="1121.3" rx="3.0" ry="2.5" fill="#c3d7ec" opacity="0.6"/><ellipse cx="143.5" cy="1104.8" rx="2.1" ry="1.4" fill="#c3d7ec" opacity="0.6"/><ellipse cx="129.9" cy="1107.1" rx="1.5" ry="2.3" fill="#c3d7ec" opacity="0.6"/><ellipse cx="119.9" cy="1145.7" rx="1.7" ry="1.3" fill="#c3d7ec" opacity="0.6"/><ellipse cx="180.8" cy="1124.3" rx="1.6" ry="1.7" fill="#c3d7ec" opacity="0.6"/><ellipse cx="170.9" cy="1139.7" rx="3.2" ry="1.6" fill="#c3d7ec" opacity="0.6"/><ellipse cx="157.4" cy="1152.8" rx="2.3" ry="2.1" fill="#c3d7ec" opacity="0.6"/><ellipse cx="152.9" cy="1113.1" rx="1.5" ry="2.2" fill="#c3d7ec" opacity="0.6"/><ellipse cx="174.8" cy="1168.1" rx="2.8" ry="1.9" fill="#c3d7ec" opacity="0.6"/><ellipse cx="129.1" cy="1162.0" rx="1.5" ry="1.6" fill="#c3d7ec" opacity="0.6"/><ellipse cx="127.1" cy="1129.9" rx="1.9" ry="1.6" fill="#c3d7ec" opacity="0.6"/><ellipse cx="172.2" cy="1140.8" rx="1.8" ry="2.2" fill="#c3d7ec" opacity="0.6"/><ellipse cx="174.1" cy="1160.3" rx="1.3" ry="1.9" fill="#c3d7ec" opacity="0.6"/><ellipse cx="186.7" cy="1121.6" rx="1.7" ry="2.2" fill="#c3d7ec" opacity="0.6"/><ellipse cx="144.7" cy="1131.3" rx="3.1" ry="1.6" fill="#c3d7ec" opacity="0.6"/><ellipse cx="131.7" cy="1118.6" rx="2.0" ry="2.0" fill="#c3d7ec" opacity="0.6"/><ellipse cx="145.1" cy="1156.4" rx="1.4" ry="1.4" fill="#c3d7ec" opacity="0.6"/><ellipse cx="165.4" cy="1136.6" rx="2.3" ry="2.4" fill="#c3d7ec" opacity="0.6"/><ellipse cx="137.9" cy="1116.3" rx="1.3" ry="1.7" fill="#c3d7ec" opacity="0.6"/><ellipse cx="139.5" cy="1136.2" rx="1.2" ry="1.0" fill="#c3d7ec" opacity="0.6"/><ellipse cx="146.0" cy="1155.5" rx="1.9" ry="2.4" fill="#c3d7ec" opacity="0.6"/><ellipse cx="161.8" cy="1131.4" rx="3.0" ry="1.3" fill="#c3d7ec" opacity="0.6"/><ellipse cx="163.8" cy="1161.6" rx="2.4" ry="1.5" fill="#c3d7ec" opacity="0.6"/><ellipse cx="123.6" cy="1143.0" rx="1.6" ry="1.6" fill="#c3d7ec" opacity="0.6"/><ellipse cx="158.9" cy="1168.0" rx="2.7" ry="1.8" fill="#c3d7ec" opacity="0.6"/><ellipse cx="183.8" cy="1125.0" rx="2.1" ry="2.0" fill="#c3d7ec" opacity="0.6"/><ellipse cx="159.8" cy="1119.1" rx="2.1" ry="2.2" fill="#c3d7ec" opacity="0.6"/><ellipse cx="135.1" cy="1152.0" rx="1.3" ry="2.4" fill="#c3d7ec" opacity="0.6"/><ellipse cx="170.0" cy="1126.0" rx="3.5" ry="2.2" fill="#c3d7ec" opacity="0.6"/><ellipse cx="120.9" cy="1120.9" rx="2.3" ry="2.5" fill="#c3d7ec" opacity="0.6"/><ellipse cx="127.1" cy="1107.2" rx="1.9" ry="1.1" fill="#c3d7ec" opacity="0.6"/><ellipse cx="148.3" cy="1140.6" rx="2.2" ry="1.2" fill="#c3d7ec" opacity="0.6"/><ellipse cx="117.8" cy="1158.6" rx="2.2" ry="1.7" fill="#c3d7ec" opacity="0.6"/><ellipse cx="153.8" cy="1150.6" rx="3.3" ry="2.2" fill="#c3d7ec" opacity="0.6"/><ellipse cx="173.4" cy="1127.0" rx="1.6" ry="1.1" fill="#c3d7ec" opacity="0.6"/><ellipse cx="183.9" cy="1107.9" rx="2.5" ry="2.4" fill="#c3d7ec" opacity="0.6"/><ellipse cx="141.5" cy="1130.5" rx="2.2" ry="2.4" fill="#c3d7ec" opacity="0.6"/><ellipse cx="170.0" cy="1161.0" rx="1.3" ry="2.1" fill="#c3d7ec" opacity="0.6"/><ellipse cx="151.6" cy="1131.3" rx="3.1" ry="2.1" fill="#c3d7ec" opacity="0.6"/><ellipse cx="187.9" cy="1154.2" rx="3.3" ry="1.6" fill="#c3d7ec" opacity="0.6"/><ellipse cx="159.9" cy="1157.4" rx="2.2" ry="1.2" fill="#c3d7ec" opacity="0.6"/><ellipse cx="162.3" cy="1163.2" rx="3.2" ry="1.2" fill="#c3d7ec" opacity="0.6"/><ellipse cx="146.1" cy="1119.5" rx="2.0" ry="2.4" fill="#c3d7ec" opacity="0.6"/><ellipse cx="149.3" cy="1125.3" rx="1.8" ry="1.7" fill="#c3d7ec" opacity="0.6"/><ellipse cx="168.9" cy="1127.3" rx="1.6" ry="1.3" fill="#c3d7ec" opacity="0.6"/><ellipse cx="136.5" cy="1165.6" rx="1.6" ry="2.1" fill="#c3d7ec" opacity="0.6"/><ellipse cx="124.5" cy="1157.4" rx="1.8" ry="2.2" fill="#c3d7ec" opacity="0.6"/><ellipse cx="150.1" cy="1109.3" rx="1.4" ry="2.2" fill="#c3d7ec" opacity="0.6"/><ellipse cx="158.8" cy="1137.0" rx="2.0" ry="2.0" fill="#c3d7ec" opacity="0.6"/><ellipse cx="154.1" cy="1108.2" rx="2.6" ry="1.5" fill="#c3d7ec" opacity="0.6"/><ellipse cx="182.9" cy="1141.3" rx="3.0" ry="1.2" fill="#c3d7ec" opacity="0.6"/><ellipse cx="171.9" cy="1145.5" rx="3.2" ry="2.3" fill="#c3d7ec" opacity="0.6"/><ellipse cx="159.6" cy="1144.3" rx="3.0" ry="1.4" fill="#c3d7ec" opacity="0.6"/><ellipse cx="159.0" cy="1157.5" rx="2.6" ry="1.8" fill="#c3d7ec" opacity="0.6"/><ellipse cx="183.6" cy="1170.3" rx="1.8" ry="1.1" fill="#c3d7ec" opacity="0.6"/><ellipse cx="164.5" cy="1114.1" rx="3.4" ry="1.7" fill="#c3d7ec" opacity="0.6"/><ellipse cx="158.2" cy="1159.6" rx="3.2" ry="1.2" fill="#c3d7ec" opacity="0.6"/><ellipse cx="151.8" cy="1116.3" rx="2.3" ry="1.2" fill="#c3d7ec" opacity="0.6"/><ellipse cx="185.3" cy="1128.2" rx="2.1" ry="2.3" fill="#c3d7ec" opacity="0.6"/><ellipse cx="181.0" cy="1126.8" rx="2.3" ry="2.0" fill="#c3d7ec" opacity="0.6"/><ellipse cx="130.8" cy="1113.3" rx="3.2" ry="1.2" fill="#c3d7ec" opacity="0.6"/><ellipse cx="171.9" cy="1154.2" rx="2.6" ry="1.5" fill="#c3d7ec" opacity="0.6"/><ellipse cx="183.8" cy="1157.5" rx="1.4" ry="2.3" fill="#c3d7ec" opacity="0.6"/><ellipse cx="166.3" cy="1123.7" rx="1.6" ry="1.1" fill="#c3d7ec" opacity="0.6"/><ellipse cx="180.1" cy="1161.7" rx="2.0" ry="1.3" fill="#c3d7ec" opacity="0.6"/><ellipse cx="121.8" cy="1132.2" rx="1.9" ry="1.1" fill="#c3d7ec" opacity="0.6"/><path d="M82.7,1446.0 C83.8,1443.8 92.1,1441.1 94.6,1441.8 C97.1,1442.4 102.8,1449.1 104.0,1451.6 C105.3,1454.0 105.6,1459.6 105.2,1462.9 C104.8,1466.2 101.7,1477.4 100.5,1479.7 C99.3,1482.0 96.2,1483.2 94.6,1482.5 C92.9,1481.9 87.4,1476.7 86.3,1474.1 C85.2,1471.5 85.6,1463.3 85.1,1460.0 C84.7,1456.7 81.6,1448.1 82.7,1446.0 Z" fill="#eee8e1"/><path d="M73.2,1487.1 C74.4,1485.1 80.9,1481.4 82.7,1481.4 C84.5,1481.4 87.4,1484.3 88.6,1487.1 C89.8,1489.8 93.7,1502.4 93.3,1505.4 C92.9,1508.3 86.8,1511.8 85.0,1512.4 C83.2,1513.1 79.4,1512.6 77.9,1511.0 C76.4,1509.4 72.5,1501.1 72.0,1498.4 C71.4,1495.6 71.9,1489.0 73.2,1487.1 Z" fill="#eee8e1"/><path d="M127.4,1465.2 C128.5,1461.6 132.8,1461.4 134.4,1462.3 C136.1,1463.3 140.8,1470.6 141.5,1473.6 C142.2,1476.5 141.7,1482.2 140.3,1487.6 C139.0,1493.0 131.4,1512.9 129.7,1520.0 C128.0,1527.1 127.3,1543.7 126.2,1548.1 C125.1,1552.5 121.6,1557.4 120.3,1557.9 C118.9,1558.4 114.6,1555.9 114.3,1552.3 C114.1,1548.7 116.6,1533.9 117.9,1527.0 C119.1,1520.2 123.9,1500.5 125.0,1493.3 C126.1,1486.1 126.3,1468.8 127.4,1465.2 Z" fill="#eee8e1"/><path d="M166.5,1429.8 C168.9,1426.2 181.0,1422.8 183.1,1424.1 C185.2,1425.4 185.2,1435.8 184.3,1441.0 C183.3,1446.3 177.3,1461.8 174.8,1469.1 C172.4,1476.5 164.9,1498.4 163.0,1504.3 C161.1,1510.2 160.4,1517.6 158.3,1519.7 C156.2,1521.8 146.9,1523.8 145.2,1522.5 C143.6,1521.2 142.8,1513.1 144.0,1508.5 C145.3,1503.9 153.7,1489.4 155.9,1483.2 C158.1,1477.0 161.8,1461.3 163.0,1455.1 C164.2,1448.9 164.2,1433.4 166.5,1429.8 Z" fill="#eee8e1"/><circle cx="125.6" cy="1473.3" r="0.7" fill="#bba68e" opacity="0.6"/><circle cx="82.9" cy="1487.8" r="0.6" fill="#bba68e" opacity="0.6"/><circle cx="94.8" cy="1458.3" r="0.9" fill="#bba68e" opacity="0.6"/><circle cx="90.8" cy="1452.9" r="1.6" fill="#bba68e" opacity="0.6"/><circle cx="179.5" cy="1460.0" r="1.1" fill="#bba68e" opacity="0.6"/><circle cx="90.9" cy="1502.6" r="1.4" fill="#bba68e" opacity="0.6"/><circle cx="90.0" cy="1498.8" r="0.8" fill="#bba68e" opacity="0.6"/><circle cx="101.3" cy="1454.1" r="0.8" fill="#bba68e" opacity="0.6"/><circle cx="79.9" cy="1487.8" r="1.2" fill="#bba68e" opacity="0.6"/><circle cx="138.1" cy="1489.7" r="1.0" fill="#bba68e" opacity="0.6"/><circle cx="138.8" cy="1507.0" r="1.5" fill="#bba68e" opacity="0.6"/><circle cx="153.3" cy="1465.3" r="1.2" fill="#bba68e" opacity="0.6"/><circle cx="85.1" cy="1463.4" r="1.2" fill="#bba68e" opacity="0.6"/><circle cx="161.3" cy="1474.3" r="1.4" fill="#bba68e" opacity="0.6"/><circle cx="163.8" cy="1475.7" r="1.3" fill="#bba68e" opacity="0.6"/><circle cx="89.2" cy="1469.1" r="1.8" fill="#bba68e" opacity="0.6"/><circle cx="133.8" cy="1500.7" r="0.7" fill="#bba68e" opacity="0.6"/><circle cx="76.7" cy="1499.7" r="1.1" fill="#bba68e" opacity="0.6"/><circle cx="180.7" cy="1438.2" r="1.4" fill="#bba68e" opacity="0.6"/><circle cx="124.3" cy="1488.2" r="0.9" fill="#bba68e" opacity="0.6"/><circle cx="85.2" cy="1458.3" r="0.7" fill="#bba68e" opacity="0.6"/><circle cx="93.0" cy="1478.8" r="1.2" fill="#bba68e" opacity="0.6"/><circle cx="174.1" cy="1514.2" r="0.8" fill="#bba68e" opacity="0.6"/><circle cx="124.9" cy="1479.2" r="0.9" fill="#bba68e" opacity="0.6"/><circle cx="136.8" cy="1475.2" r="0.9" fill="#bba68e" opacity="0.6"/><circle cx="86.0" cy="1451.7" r="0.7" fill="#bba68e" opacity="0.6"/><circle cx="153.9" cy="1435.7" r="0.7" fill="#bba68e" opacity="0.6"/><circle cx="165.0" cy="1431.5" r="0.6" fill="#bba68e" opacity="0.6"/><circle cx="76.6" cy="1486.6" r="1.3" fill="#bba68e" opacity="0.6"/><circle cx="85.9" cy="1474.6" r="1.0" fill="#bba68e" opacity="0.6"/><circle cx="123.9" cy="1539.6" r="1.0" fill="#bba68e" opacity="0.6"/><circle cx="100.8" cy="1476.0" r="1.6" fill="#bba68e" opacity="0.6"/><circle cx="154.2" cy="1470.6" r="1.4" fill="#bba68e" opacity="0.6"/><circle cx="83.7" cy="1500.8" r="0.6" fill="#bba68e" opacity="0.6"/><circle cx="97.6" cy="1474.2" r="1.8" fill="#bba68e" opacity="0.6"/><circle cx="84.8" cy="1487.4" r="1.1" fill="#bba68e" opacity="0.6"/><circle cx="83.9" cy="1499.7" r="1.6" fill="#bba68e" opacity="0.6"/><circle cx="168.7" cy="1461.3" r="1.5" fill="#bba68e" opacity="0.6"/><circle cx="158.5" cy="1501.1" r="1.4" fill="#bba68e" opacity="0.6"/><circle cx="164.4" cy="1435.3" r="1.3" fill="#bba68e" opacity="0.6"/><circle cx="80.2" cy="1508.0" r="1.6" fill="#bba68e" opacity="0.6"/><circle cx="76.0" cy="1487.1" r="1.5" fill="#bba68e" opacity="0.6"/><circle cx="135.9" cy="1537.8" r="1.4" fill="#bba68e" opacity="0.6"/><circle cx="116.8" cy="1545.0" r="1.4" fill="#bba68e" opacity="0.6"/><circle cx="159.8" cy="1502.6" r="1.2" fill="#bba68e" opacity="0.6"/><circle cx="121.2" cy="1493.4" r="0.7" fill="#bba68e" opacity="0.6"/><circle cx="167.0" cy="1507.5" r="1.4" fill="#bba68e" opacity="0.6"/><circle cx="90.3" cy="1501.2" r="1.5" fill="#bba68e" opacity="0.6"/><circle cx="83.7" cy="1502.8" r="1.6" fill="#bba68e" opacity="0.6"/><circle cx="94.4" cy="1475.2" r="1.4" fill="#bba68e" opacity="0.6"/><circle cx="130.2" cy="1487.3" r="1.0" fill="#bba68e" opacity="0.6"/><circle cx="167.1" cy="1426.9" r="1.3" fill="#bba68e" opacity="0.6"/><circle cx="91.3" cy="1508.4" r="1.0" fill="#bba68e" opacity="0.6"/><circle cx="136.8" cy="1494.2" r="1.1" fill="#bba68e" opacity="0.6"/><circle cx="98.1" cy="1458.2" r="1.4" fill="#bba68e" opacity="0.6"/><circle cx="103.0" cy="1465.7" r="1.5" fill="#bba68e" opacity="0.6"/><circle cx="81.0" cy="1502.5" r="1.2" fill="#bba68e" opacity="0.6"/><circle cx="133.6" cy="1540.8" r="0.7" fill="#bba68e" opacity="0.6"/><circle cx="88.9" cy="1446.9" r="0.8" fill="#bba68e" opacity="0.6"/><circle cx="92.8" cy="1462.7" r="1.4" fill="#bba68e" opacity="0.6"/><circle cx="128.7" cy="1526.9" r="0.7" fill="#bba68e" opacity="0.6"/><circle cx="81.4" cy="1493.1" r="1.4" fill="#bba68e" opacity="0.6"/><circle cx="94.2" cy="1453.1" r="0.8" fill="#bba68e" opacity="0.6"/><circle cx="98.3" cy="1475.7" r="1.3" fill="#bba68e" opacity="0.6"/><circle cx="100.3" cy="1458.6" r="1.2" fill="#bba68e" opacity="0.6"/><circle cx="85.1" cy="1493.2" r="0.8" fill="#bba68e" opacity="0.6"/><circle cx="131.2" cy="1523.4" r="1.1" fill="#bba68e" opacity="0.6"/><circle cx="81.6" cy="1503.2" r="1.3" fill="#bba68e" opacity="0.6"/><circle cx="121.0" cy="1471.4" r="1.6" fill="#bba68e" opacity="0.6"/><circle cx="164.5" cy="1512.4" r="0.8" fill="#bba68e" opacity="0.6"/><circle cx="128.0" cy="1474.0" r="0.8" fill="#bba68e" opacity="0.6"/><circle cx="99.8" cy="1468.7" r="1.7" fill="#bba68e" opacity="0.6"/><circle cx="85.6" cy="1461.9" r="1.8" fill="#bba68e" opacity="0.6"/><circle cx="123.0" cy="1477.1" r="0.7" fill="#bba68e" opacity="0.6"/><circle cx="74.4" cy="1496.2" r="1.7" fill="#bba68e" opacity="0.6"/><circle cx="85.4" cy="1505.9" r="1.7" fill="#bba68e" opacity="0.6"/><circle cx="125.1" cy="1477.4" r="1.0" fill="#bba68e" opacity="0.6"/><circle cx="119.5" cy="1513.1" r="1.2" fill="#bba68e" opacity="0.6"/><circle cx="78.2" cy="1502.8" r="1.5" fill="#bba68e" opacity="0.6"/><circle cx="134.8" cy="1529.5" r="1.2" fill="#bba68e" opacity="0.6"/><circle cx="128.7" cy="1469.1" r="0.9" fill="#bba68e" opacity="0.6"/><circle cx="95.8" cy="1451.3" r="1.5" fill="#bba68e" opacity="0.6"/><circle cx="175.2" cy="1430.6" r="1.5" fill="#bba68e" opacity="0.6"/><circle cx="100.7" cy="1451.4" r="1.8" fill="#bba68e" opacity="0.6"/><circle cx="177.7" cy="1431.1" r="1.1" fill="#bba68e" opacity="0.6"/><circle cx="152.5" cy="1469.4" r="0.9" fill="#bba68e" opacity="0.6"/><circle cx="130.1" cy="1497.1" r="1.5" fill="#bba68e" opacity="0.6"/><circle cx="130.2" cy="1476.8" r="0.8" fill="#bba68e" opacity="0.6"/><circle cx="84.6" cy="1483.7" r="1.8" fill="#bba68e" opacity="0.6"/><circle cx="177.7" cy="1476.4" r="1.3" fill="#bba68e" opacity="0.6"/><circle cx="91.2" cy="1462.5" r="0.7" fill="#bba68e" opacity="0.6"/><circle cx="169.6" cy="1433.1" r="1.8" fill="#bba68e" opacity="0.6"/><circle cx="133.5" cy="1506.2" r="0.8" fill="#bba68e" opacity="0.6"/><circle cx="89.6" cy="1509.6" r="1.1" fill="#bba68e" opacity="0.6"/><circle cx="117.5" cy="1525.4" r="1.6" fill="#bba68e" opacity="0.6"/><circle cx="101.4" cy="1479.2" r="1.4" fill="#bba68e" opacity="0.6"/><circle cx="138.0" cy="1482.7" r="1.8" fill="#bba68e" opacity="0.6"/><circle cx="181.5" cy="1467.8" r="1.2" fill="#bba68e" opacity="0.6"/><circle cx="74.7" cy="1494.6" r="1.2" fill="#bba68e" opacity="0.6"/><circle cx="77.1" cy="1486.0" r="1.1" fill="#bba68e" opacity="0.6"/><circle cx="150.9" cy="1443.8" r="1.0" fill="#bba68e" opacity="0.6"/><circle cx="116.8" cy="1489.3" r="0.8" fill="#bba68e" opacity="0.6"/><circle cx="176.0" cy="1477.3" r="1.7" fill="#bba68e" opacity="0.6"/><circle cx="177.2" cy="1483.7" r="1.2" fill="#bba68e" opacity="0.6"/><circle cx="159.1" cy="1518.4" r="1.3" fill="#bba68e" opacity="0.6"/><circle cx="75.6" cy="1498.0" r="1.0" fill="#bba68e" opacity="0.6"/><circle cx="88.9" cy="1493.9" r="0.7" fill="#bba68e" opacity="0.6"/><circle cx="77.5" cy="1505.7" r="1.3" fill="#bba68e" opacity="0.6"/><circle cx="77.2" cy="1486.2" r="0.6" fill="#bba68e" opacity="0.6"/><circle cx="132.1" cy="1555.0" r="1.2" fill="#bba68e" opacity="0.6"/><circle cx="128.4" cy="1548.8" r="0.8" fill="#bba68e" opacity="0.6"/><circle cx="171.0" cy="1428.8" r="0.8" fill="#bba68e" opacity="0.6"/><circle cx="174.5" cy="1515.1" r="0.8" fill="#bba68e" opacity="0.6"/><circle cx="173.6" cy="1506.5" r="0.9" fill="#bba68e" opacity="0.6"/><circle cx="102.6" cy="1444.6" r="1.3" fill="#bba68e" opacity="0.6"/><circle cx="136.7" cy="1487.3" r="1.5" fill="#bba68e" opacity="0.6"/><circle cx="148.9" cy="1504.3" r="1.8" fill="#bba68e" opacity="0.6"/><circle cx="88.2" cy="1469.6" r="1.8" fill="#bba68e" opacity="0.6"/><circle cx="136.1" cy="1504.1" r="1.7" fill="#bba68e" opacity="0.6"/><circle cx="126.1" cy="1498.7" r="1.0" fill="#bba68e" opacity="0.6"/><circle cx="122.7" cy="1464.9" r="1.4" fill="#bba68e" opacity="0.6"/><circle cx="100.0" cy="1454.7" r="1.6" fill="#bba68e" opacity="0.6"/><circle cx="182.1" cy="1493.5" r="1.5" fill="#bba68e" opacity="0.6"/><circle cx="150.1" cy="1448.7" r="1.3" fill="#bba68e" opacity="0.6"/><circle cx="89.0" cy="1451.5" r="1.1" fill="#bba68e" opacity="0.6"/><circle cx="118.4" cy="1543.8" r="1.1" fill="#bba68e" opacity="0.6"/><circle cx="79.6" cy="1495.7" r="1.8" fill="#bba68e" opacity="0.6"/><circle cx="138.7" cy="1478.2" r="0.8" fill="#bba68e" opacity="0.6"/><circle cx="74.3" cy="1500.9" r="1.1" fill="#bba68e" opacity="0.6"/><circle cx="101.1" cy="1456.8" r="1.0" fill="#bba68e" opacity="0.6"/><circle cx="168.4" cy="1468.0" r="0.8" fill="#bba68e" opacity="0.6"/><circle cx="131.5" cy="1486.4" r="1.7" fill="#bba68e" opacity="0.6"/><circle cx="87.0" cy="1451.4" r="0.7" fill="#bba68e" opacity="0.6"/><circle cx="127.8" cy="1509.5" r="0.6" fill="#bba68e" opacity="0.6"/><circle cx="90.8" cy="1483.8" r="1.8" fill="#bba68e" opacity="0.6"/><circle cx="170.8" cy="1486.3" r="0.8" fill="#bba68e" opacity="0.6"/><circle cx="92.3" cy="1475.7" r="0.6" fill="#bba68e" opacity="0.6"/><circle cx="76.7" cy="1488.5" r="1.0" fill="#bba68e" opacity="0.6"/><circle cx="134.3" cy="1500.9" r="1.5" fill="#bba68e" opacity="0.6"/><circle cx="88.1" cy="1495.1" r="1.0" fill="#bba68e" opacity="0.6"/><circle cx="118.2" cy="1506.6" r="1.1" fill="#bba68e" opacity="0.6"/><circle cx="85.2" cy="1457.3" r="1.4" fill="#bba68e" opacity="0.6"/><circle cx="163.5" cy="1450.5" r="0.8" fill="#bba68e" opacity="0.6"/><circle cx="132.5" cy="1486.4" r="1.4" fill="#bba68e" opacity="0.6"/><circle cx="89.7" cy="1494.0" r="0.6" fill="#bba68e" opacity="0.6"/><circle cx="131.2" cy="1503.7" r="0.9" fill="#bba68e" opacity="0.6"/><circle cx="84.9" cy="1463.0" r="1.4" fill="#bba68e" opacity="0.6"/><circle cx="87.3" cy="1478.3" r="0.9" fill="#bba68e" opacity="0.6"/><circle cx="84.6" cy="1491.7" r="1.5" fill="#bba68e" opacity="0.6"/><circle cx="87.8" cy="1505.0" r="1.3" fill="#bba68e" opacity="0.6"/><circle cx="123.9" cy="1469.2" r="1.8" fill="#bba68e" opacity="0.6"/><circle cx="92.0" cy="1468.0" r="1.7" fill="#bba68e" opacity="0.6"/><circle cx="77.4" cy="1497.2" r="0.8" fill="#bba68e" opacity="0.6"/><circle cx="85.1" cy="1469.6" r="1.6" fill="#bba68e" opacity="0.6"/><circle cx="79.9" cy="1484.4" r="0.8" fill="#bba68e" opacity="0.6"/><circle cx="148.8" cy="1491.7" r="0.8" fill="#bba68e" opacity="0.6"/><circle cx="150.2" cy="1438.4" r="0.8" fill="#bba68e" opacity="0.6"/><circle cx="85.1" cy="1461.3" r="1.7" fill="#bba68e" opacity="0.6"/><circle cx="146.6" cy="1488.7" r="1.0" fill="#bba68e" opacity="0.6"/><circle cx="85.1" cy="1485.4" r="1.3" fill="#bba68e" opacity="0.6"/><path d="M191.6,1225.5 Q222,1222 251.6,1211.5 L252.5,1217 Q224,1228 191.8,1232.5 Z" fill="#1aa2e8"/><path d="M244,1214 L252,1211 L253,1216.5 L245,1219.5 Z" fill="#1058d0"/><line x1="224" y1="1228" x2="230" y2="1236" stroke="#aaa" stroke-width="0.8"/></g>
<text x="63.7" y="1639.3" font-size="27.29" font-weight="bold" font-style="normal" fill="#000" stroke="#000" stroke-width="0.87" stroke-linejoin="round" textLength="132.7" lengthAdjust="spacingAndGlyphs">ORIGINAL</text>
<text x="105.4" y="1672.2" font-size="23.82" font-weight="bold" font-style="normal" fill="#000" stroke="#000" stroke-width="0.76" stroke-linejoin="round" textLength="50.7" lengthAdjust="spacingAndGlyphs">WSI</text>
<line x1="264.4" y1="1337.6" x2="328.3" y2="1337.6" stroke="#000" stroke-width="2.5"/>
<path d="M340.3,1337.6 L325.3,1330.85 L329.05,1337.6 L325.3,1344.35 Z" fill="#000"/>
<rect x="341.2" y="1133.7" width="1612.8" height="409.0" rx="0" fill="none" stroke="#000" stroke-width="3.4" stroke-dasharray="9.5 10"/>
<text x="920.7" y="1208.4" font-size="44.46" font-weight="bold" font-style="normal" fill="#000" stroke="#000" stroke-width="1.42" stroke-linejoin="round" textLength="453.6" lengthAdjust="spacingAndGlyphs">PROPOSED PIPELINE</text>
<rect x="404" y="1253" width="832" height="264.5" rx="0" fill="#f5f5f5" stroke="#a0a0a0" stroke-width="1.5"/>
<rect x="1261" y="1253" width="302.79999999999995" height="264.5" rx="0" fill="#f5f5f5" stroke="#a0a0a0" stroke-width="1.5"/>
<rect x="1588.5" y="1253" width="302.9000000000001" height="264.5" rx="0" fill="#f5f5f5" stroke="#a0a0a0" stroke-width="1.5"/>
<text x="695.8" y="1300.8" font-size="27.98" font-weight="bold" font-style="normal" fill="#6b6b6b" stroke="#6b6b6b" stroke-width="0.90" stroke-linejoin="round" textLength="247.3" lengthAdjust="spacingAndGlyphs">PRE-PROCESSING</text>
<text x="1278.4" y="1300.8" font-size="27.98" font-weight="bold" font-style="normal" fill="#6b6b6b" stroke="#6b6b6b" stroke-width="0.90" stroke-linejoin="round" textLength="268.7" lengthAdjust="spacingAndGlyphs">CORE PROCESSING</text>
<text x="1607.7" y="1300.8" font-size="27.98" font-weight="bold" font-style="normal" fill="#6b6b6b" stroke="#6b6b6b" stroke-width="0.90" stroke-linejoin="round" textLength="263.6" lengthAdjust="spacingAndGlyphs">POST-PROCESSING</text>
<rect x="429.1" y="1328" width="252.69999999999993" height="164" rx="25" fill="#ffe6cc" stroke="#d6b656" stroke-width="1.4"/>
<rect x="693.8" y="1328" width="252.20000000000005" height="164" rx="25" fill="#ffe6cc" stroke="#d6b656" stroke-width="1.4"/>
<rect x="958.6" y="1328" width="252.39999999999998" height="164" rx="25" fill="#ffe6cc" stroke="#d6b656" stroke-width="1.4"/>
<rect x="1286" y="1328" width="252.70000000000005" height="164" rx="25" fill="#f8cecc" stroke="#b85450" stroke-width="1.4"/>
<rect x="1613.3" y="1328" width="252.5" height="164" rx="25" fill="#e1d5e7" stroke="#9673a6" stroke-width="1.4"/>
<text x="506.6" y="1402.2" font-size="27.42" font-weight="bold" font-style="normal" fill="#d79b00" stroke="#d79b00" stroke-width="0.88" stroke-linejoin="round" textLength="97.6" lengthAdjust="spacingAndGlyphs">TISSUE</text>
<text x="476.1" y="1434.8" font-size="27.98" font-weight="bold" font-style="normal" fill="#d79b00" stroke="#d79b00" stroke-width="0.90" stroke-linejoin="round" textLength="158.2" lengthAdjust="spacingAndGlyphs">DETECTION</text>
<text x="775.5" y="1418.1" font-size="27.15" font-weight="bold" font-style="normal" fill="#d79b00" stroke="#d79b00" stroke-width="0.87" stroke-linejoin="round" textLength="89.4" lengthAdjust="spacingAndGlyphs">TILING</text>
<text x="969.6" y="1402.2" font-size="27.42" font-weight="bold" font-style="normal" fill="#f0a830" stroke="#f0a830" stroke-width="0.88" stroke-linejoin="round" textLength="229.7" lengthAdjust="spacingAndGlyphs">RELEVANT TILES</text>
<text x="1006.6" y="1434.8" font-size="27.98" font-weight="bold" font-style="normal" fill="#f0a830" stroke="#f0a830" stroke-width="0.90" stroke-linejoin="round" textLength="156.3" lengthAdjust="spacingAndGlyphs">SELECTION</text>
<text x="1340.3" y="1402.2" font-size="27.42" font-weight="bold" font-style="normal" fill="#b85450" stroke="#b85450" stroke-width="0.88" stroke-linejoin="round" textLength="143.9" lengthAdjust="spacingAndGlyphs">CELL SEG.</text>
<text x="1329.1" y="1434.8" font-size="27.98" font-weight="bold" font-style="normal" fill="#b85450" stroke="#b85450" stroke-width="0.90" stroke-linejoin="round" textLength="166.9" lengthAdjust="spacingAndGlyphs">AND CLASS.</text>
<text x="1676.7" y="1402.2" font-size="27.15" font-weight="bold" font-style="normal" fill="#9673a6" stroke="#9673a6" stroke-width="0.87" stroke-linejoin="round" textLength="124.9" lengthAdjust="spacingAndGlyphs">RESULTS</text>
<text x="1642.3" y="1435.0" font-size="26.87" font-weight="bold" font-style="normal" fill="#9673a6" stroke="#9673a6" stroke-width="0.86" stroke-linejoin="round" textLength="194.1" lengthAdjust="spacingAndGlyphs">COMBINATION</text>
<line x1="1954" y1="1338" x2="2028.7" y2="1338" stroke="#000" stroke-width="2.5"/>
<path d="M2040.7,1338 L2025.7,1331.25 L2029.45,1338 L2025.7,1344.75 Z" fill="#000"/>
<rect x="2040.7" y="1069.4" width="297.8" height="536.6" fill="#fff" stroke="#111" stroke-width="3"/><path d="M2340,1085 L2344,1085 M2342.5,1085 L2342.5,1604" stroke="#222" stroke-width="2" fill="none"/><g id="wsiL"><path d="M2108.0,1072.0 L2112.0,1150.0 L2106.0,1250.0 L2116.0,1350.0 L2110.0,1420.0 L2108.0,1500.0 L2104.0,1602.0 L2258.0,1602.0 L2262.0,1520.0 L2258.0,1450.0 L2276.0,1400.0 L2268.0,1330.0 L2262.0,1250.0 L2256.0,1150.0 L2255.0,1072.0 Z" fill="#f3f6f9"/><rect x="2136.2" y="1128.7" width="116.5" height="443.3" fill="#eff4f4"/><circle cx="2165.2" cy="1195.4" r="0.7" fill="#dfe6dc"/><circle cx="2193.8" cy="1437.0" r="1.1" fill="#dfe6dc"/><circle cx="2233.5" cy="1475.5" r="0.5" fill="#c8d8e8"/><circle cx="2205.9" cy="1515.5" r="1.0" fill="#c8d8e8"/><circle cx="2253.1" cy="1589.5" r="0.9" fill="#e2e8ee"/><circle cx="2204.9" cy="1400.5" r="0.6" fill="#d5e1ec"/><circle cx="2172.7" cy="1222.2" r="1.3" fill="#d5e1ec"/><circle cx="2215.3" cy="1459.2" r="0.6" fill="#d5e1ec"/><circle cx="2127.9" cy="1554.4" r="1.3" fill="#c8d8e8"/><circle cx="2117.8" cy="1241.2" r="1.2" fill="#c8d8e8"/><circle cx="2173.1" cy="1493.0" r="0.6" fill="#dfe6dc"/><circle cx="2131.2" cy="1425.2" r="0.9" fill="#dfe6dc"/><circle cx="2234.6" cy="1195.2" r="0.6" fill="#d5e1ec"/><circle cx="2176.5" cy="1457.0" r="1.0" fill="#e2e8ee"/><circle cx="2188.3" cy="1537.1" r="1.2" fill="#e2e8ee"/><circle cx="2135.6" cy="1498.6" r="1.3" fill="#d5e1ec"/><circle cx="2253.0" cy="1444.9" r="1.5" fill="#dfe6dc"/><circle cx="2205.0" cy="1468.3" r="1.2" fill="#dfe6dc"/><circle cx="2197.2" cy="1126.3" r="1.5" fill="#c8d8e8"/><circle cx="2173.4" cy="1459.8" r="1.2" fill="#dfe6dc"/><circle cx="2224.4" cy="1117.7" r="1.2" fill="#c8d8e8"/><circle cx="2244.7" cy="1204.9" r="0.9" fill="#e2e8ee"/><circle cx="2227.1" cy="1401.5" r="1.4" fill="#e2e8ee"/><circle cx="2218.9" cy="1459.0" r="0.7" fill="#c8d8e8"/><circle cx="2141.0" cy="1192.6" r="1.0" fill="#c8d8e8"/><circle cx="2119.3" cy="1198.8" r="1.1" fill="#c8d8e8"/><circle cx="2181.5" cy="1138.2" r="0.9" fill="#d5e1ec"/><circle cx="2229.3" cy="1309.2" r="1.3" fill="#c8d8e8"/><circle cx="2190.1" cy="1335.9" r="1.6" fill="#e2e8ee"/><circle cx="2229.2" cy="1089.7" r="1.1" fill="#c8d8e8"/><circle cx="2202.6" cy="1343.8" r="1.2" fill="#c8d8e8"/><circle cx="2169.6" cy="1585.6" r="1.6" fill="#d5e1ec"/><circle cx="2183.9" cy="1387.1" r="0.9" fill="#dfe6dc"/><circle cx="2243.7" cy="1550.7" r="0.8" fill="#c8d8e8"/><circle cx="2147.6" cy="1273.7" r="0.8" fill="#d5e1ec"/><circle cx="2236.0" cy="1221.0" r="1.1" fill="#e2e8ee"/><circle cx="2168.5" cy="1332.5" r="1.4" fill="#d5e1ec"/><circle cx="2182.5" cy="1386.5" r="0.8" fill="#c8d8e8"/><circle cx="2241.0" cy="1227.3" r="0.8" fill="#dfe6dc"/><circle cx="2246.3" cy="1508.5" r="0.6" fill="#d5e1ec"/><circle cx="2219.8" cy="1405.6" r="1.0" fill="#dfe6dc"/><circle cx="2156.8" cy="1266.9" r="0.7" fill="#d5e1ec"/><circle cx="2142.2" cy="1533.1" r="1.1" fill="#c8d8e8"/><circle cx="2113.9" cy="1384.4" r="0.9" fill="#c8d8e8"/><circle cx="2229.4" cy="1216.5" r="0.5" fill="#c8d8e8"/><circle cx="2165.9" cy="1171.9" r="1.1" fill="#c8d8e8"/><circle cx="2181.0" cy="1372.7" r="1.3" fill="#c8d8e8"/><circle cx="2163.6" cy="1219.5" r="0.6" fill="#dfe6dc"/><circle cx="2112.4" cy="1237.3" r="0.8" fill="#d5e1ec"/><circle cx="2189.0" cy="1543.4" r="0.9" fill="#dfe6dc"/><circle cx="2219.1" cy="1269.8" r="1.4" fill="#d5e1ec"/><circle cx="2120.4" cy="1278.7" r="0.7" fill="#dfe6dc"/><circle cx="2135.1" cy="1157.7" r="0.6" fill="#d5e1ec"/><circle cx="2155.7" cy="1549.0" r="0.8" fill="#d5e1ec"/><circle cx="2138.3" cy="1548.7" r="1.6" fill="#d5e1ec"/><circle cx="2240.0" cy="1554.9" r="1.6" fill="#e2e8ee"/><circle cx="2186.3" cy="1565.5" r="0.8" fill="#c8d8e8"/><circle cx="2219.2" cy="1533.1" r="1.3" fill="#dfe6dc"/><circle cx="2180.2" cy="1206.8" r="1.3" fill="#e2e8ee"/><circle cx="2193.0" cy="1158.9" r="1.5" fill="#d5e1ec"/><circle cx="2219.3" cy="1348.8" r="0.7" fill="#e2e8ee"/><circle cx="2150.8" cy="1205.9" r="1.4" fill="#e2e8ee"/><circle cx="2151.5" cy="1109.4" r="0.8" fill="#e2e8ee"/><circle cx="2132.6" cy="1534.9" r="1.1" fill="#d5e1ec"/><circle cx="2164.2" cy="1574.4" r="0.9" fill="#dfe6dc"/><circle cx="2197.0" cy="1423.5" r="1.0" fill="#c8d8e8"/><circle cx="2115.5" cy="1180.6" r="0.8" fill="#e2e8ee"/><circle cx="2113.1" cy="1334.4" r="1.3" fill="#dfe6dc"/><circle cx="2234.3" cy="1401.1" r="1.6" fill="#d5e1ec"/><circle cx="2202.0" cy="1314.5" r="0.6" fill="#d5e1ec"/><circle cx="2227.8" cy="1578.2" r="1.6" fill="#d5e1ec"/><circle cx="2122.6" cy="1432.8" r="0.8" fill="#dfe6dc"/><circle cx="2166.3" cy="1545.0" r="0.7" fill="#d5e1ec"/><circle cx="2244.3" cy="1502.7" r="1.4" fill="#dfe6dc"/><circle cx="2165.8" cy="1321.5" r="0.9" fill="#d5e1ec"/><circle cx="2240.3" cy="1347.4" r="1.1" fill="#e2e8ee"/><circle cx="2140.0" cy="1570.3" r="1.2" fill="#e2e8ee"/><circle cx="2180.4" cy="1461.0" r="0.8" fill="#c8d8e8"/><circle cx="2133.2" cy="1510.1" r="0.6" fill="#e2e8ee"/><circle cx="2245.8" cy="1245.5" r="0.8" fill="#c8d8e8"/><circle cx="2128.7" cy="1206.8" r="0.7" fill="#d5e1ec"/><circle cx="2223.5" cy="1116.7" r="0.6" fill="#d5e1ec"/><circle cx="2223.3" cy="1414.7" r="0.6" fill="#e2e8ee"/><circle cx="2162.9" cy="1573.4" r="0.7" fill="#e2e8ee"/><circle cx="2122.1" cy="1158.8" r="0.6" fill="#dfe6dc"/><circle cx="2145.1" cy="1185.8" r="1.0" fill="#e2e8ee"/><circle cx="2122.2" cy="1342.0" r="1.0" fill="#e2e8ee"/><circle cx="2174.6" cy="1553.0" r="1.4" fill="#e2e8ee"/><circle cx="2131.5" cy="1124.2" r="1.0" fill="#e2e8ee"/><circle cx="2172.9" cy="1314.7" r="0.7" fill="#dfe6dc"/><circle cx="2228.4" cy="1558.3" r="0.8" fill="#e2e8ee"/><circle cx="2122.0" cy="1358.3" r="0.8" fill="#c8d8e8"/><circle cx="2252.3" cy="1186.4" r="0.5" fill="#dfe6dc"/><circle cx="2218.6" cy="1426.4" r="1.2" fill="#d5e1ec"/><circle cx="2196.1" cy="1338.9" r="0.8" fill="#d5e1ec"/><circle cx="2198.9" cy="1155.4" r="1.2" fill="#d5e1ec"/><circle cx="2112.6" cy="1306.2" r="0.8" fill="#dfe6dc"/><circle cx="2248.9" cy="1253.6" r="1.4" fill="#c8d8e8"/><circle cx="2213.2" cy="1543.4" r="0.8" fill="#dfe6dc"/><circle cx="2114.9" cy="1470.1" r="1.3" fill="#c8d8e8"/><circle cx="2240.0" cy="1171.5" r="1.2" fill="#c8d8e8"/><circle cx="2114.9" cy="1246.1" r="1.4" fill="#dfe6dc"/><circle cx="2211.8" cy="1530.2" r="0.6" fill="#dfe6dc"/><circle cx="2225.4" cy="1220.8" r="0.7" fill="#dfe6dc"/><circle cx="2130.1" cy="1300.8" r="0.6" fill="#dfe6dc"/><circle cx="2183.2" cy="1085.1" r="0.7" fill="#e2e8ee"/><circle cx="2117.4" cy="1426.3" r="1.4" fill="#d5e1ec"/><circle cx="2196.1" cy="1596.9" r="1.6" fill="#e2e8ee"/><circle cx="2156.9" cy="1519.4" r="1.5" fill="#c8d8e8"/><circle cx="2113.5" cy="1302.0" r="0.9" fill="#d5e1ec"/><circle cx="2212.4" cy="1315.2" r="0.5" fill="#c8d8e8"/><circle cx="2181.3" cy="1282.2" r="1.1" fill="#d5e1ec"/><circle cx="2123.4" cy="1582.0" r="1.0" fill="#c8d8e8"/><circle cx="2198.7" cy="1434.2" r="0.7" fill="#dfe6dc"/><circle cx="2221.0" cy="1156.8" r="1.4" fill="#c8d8e8"/><circle cx="2252.8" cy="1514.5" r="1.1" fill="#d5e1ec"/><circle cx="2168.3" cy="1115.0" r="1.5" fill="#e2e8ee"/><circle cx="2117.9" cy="1171.8" r="0.8" fill="#dfe6dc"/><circle cx="2128.1" cy="1568.9" r="1.0" fill="#c8d8e8"/><circle cx="2152.5" cy="1597.1" r="0.6" fill="#dfe6dc"/><circle cx="2178.8" cy="1387.6" r="1.6" fill="#dfe6dc"/><circle cx="2158.7" cy="1211.5" r="0.5" fill="#e2e8ee"/><circle cx="2111.3" cy="1456.9" r="1.2" fill="#dfe6dc"/><circle cx="2200.3" cy="1151.8" r="0.8" fill="#c8d8e8"/><circle cx="2141.8" cy="1418.8" r="1.3" fill="#c8d8e8"/><circle cx="2183.2" cy="1327.6" r="0.6" fill="#d5e1ec"/><circle cx="2131.6" cy="1154.5" r="1.2" fill="#dfe6dc"/><circle cx="2219.5" cy="1412.2" r="0.8" fill="#c8d8e8"/><circle cx="2231.0" cy="1090.5" r="1.2" fill="#e2e8ee"/><circle cx="2197.5" cy="1307.5" r="1.6" fill="#dfe6dc"/><circle cx="2117.4" cy="1297.9" r="0.7" fill="#e2e8ee"/><circle cx="2222.7" cy="1548.3" r="1.1" fill="#e2e8ee"/><circle cx="2112.6" cy="1528.4" r="1.0" fill="#e2e8ee"/><circle cx="2216.5" cy="1244.3" r="1.2" fill="#c8d8e8"/><circle cx="2215.1" cy="1250.2" r="1.6" fill="#c8d8e8"/><circle cx="2137.8" cy="1103.9" r="1.3" fill="#c8d8e8"/><circle cx="2231.3" cy="1493.1" r="0.9" fill="#e2e8ee"/><circle cx="2229.2" cy="1187.2" r="1.6" fill="#c8d8e8"/><circle cx="2241.8" cy="1345.9" r="1.4" fill="#d5e1ec"/><circle cx="2152.2" cy="1332.0" r="1.4" fill="#e2e8ee"/><circle cx="2112.6" cy="1272.4" r="0.6" fill="#e2e8ee"/><circle cx="2186.5" cy="1446.7" r="1.2" fill="#dfe6dc"/><circle cx="2186.9" cy="1387.2" r="1.4" fill="#d5e1ec"/><circle cx="2190.4" cy="1284.7" r="1.1" fill="#d5e1ec"/><circle cx="2204.5" cy="1228.3" r="1.2" fill="#d5e1ec"/><circle cx="2146.3" cy="1175.4" r="1.2" fill="#c8d8e8"/><circle cx="2246.0" cy="1184.2" r="1.2" fill="#dfe6dc"/><circle cx="2174.7" cy="1212.3" r="1.5" fill="#e2e8ee"/><circle cx="2143.0" cy="1552.1" r="1.0" fill="#e2e8ee"/><circle cx="2181.6" cy="1363.0" r="0.7" fill="#c8d8e8"/><circle cx="2212.0" cy="1525.1" r="1.5" fill="#c8d8e8"/><circle cx="2195.0" cy="1206.1" r="0.9" fill="#e2e8ee"/><circle cx="2219.8" cy="1088.9" r="0.9" fill="#c8d8e8"/><circle cx="2205.4" cy="1580.3" r="1.3" fill="#d5e1ec"/><circle cx="2203.5" cy="1413.6" r="1.1" fill="#dfe6dc"/><circle cx="2140.5" cy="1317.3" r="1.1" fill="#c8d8e8"/><circle cx="2240.4" cy="1368.0" r="1.6" fill="#dfe6dc"/><circle cx="2234.3" cy="1370.5" r="1.6" fill="#dfe6dc"/><circle cx="2212.1" cy="1296.4" r="0.8" fill="#dfe6dc"/><circle cx="2149.4" cy="1540.8" r="0.7" fill="#dfe6dc"/><circle cx="2160.9" cy="1440.7" r="1.1" fill="#c8d8e8"/><circle cx="2173.9" cy="1195.1" r="1.5" fill="#d5e1ec"/><circle cx="2165.1" cy="1573.9" r="1.1" fill="#e2e8ee"/><circle cx="2121.3" cy="1518.1" r="1.4" fill="#c8d8e8"/><circle cx="2217.9" cy="1519.3" r="1.5" fill="#c8d8e8"/><circle cx="2247.7" cy="1250.5" r="1.1" fill="#dfe6dc"/><circle cx="2252.8" cy="1259.9" r="1.4" fill="#c8d8e8"/><circle cx="2175.6" cy="1294.2" r="1.1" fill="#c8d8e8"/><circle cx="2235.9" cy="1228.4" r="0.5" fill="#e2e8ee"/><circle cx="2225.1" cy="1196.8" r="1.5" fill="#e2e8ee"/><circle cx="2207.1" cy="1451.1" r="1.3" fill="#d5e1ec"/><circle cx="2228.9" cy="1180.0" r="0.7" fill="#dfe6dc"/><circle cx="2252.6" cy="1597.0" r="1.2" fill="#dfe6dc"/><circle cx="2135.7" cy="1564.2" r="0.7" fill="#c8d8e8"/><circle cx="2126.7" cy="1273.1" r="0.7" fill="#dfe6dc"/><circle cx="2196.9" cy="1148.1" r="1.1" fill="#d5e1ec"/><circle cx="2114.3" cy="1226.4" r="1.5" fill="#e2e8ee"/><circle cx="2220.6" cy="1165.5" r="0.7" fill="#dfe6dc"/><circle cx="2165.6" cy="1439.6" r="0.7" fill="#dfe6dc"/><circle cx="2193.0" cy="1562.1" r="1.5" fill="#dfe6dc"/><circle cx="2118.4" cy="1401.5" r="1.2" fill="#e2e8ee"/><circle cx="2197.1" cy="1453.0" r="1.6" fill="#dfe6dc"/><circle cx="2175.4" cy="1116.9" r="1.3" fill="#dfe6dc"/><circle cx="2141.8" cy="1395.3" r="1.4" fill="#dfe6dc"/><circle cx="2246.8" cy="1080.4" r="1.5" fill="#d5e1ec"/><circle cx="2194.9" cy="1566.0" r="0.8" fill="#e2e8ee"/><circle cx="2126.8" cy="1202.6" r="1.2" fill="#d5e1ec"/><circle cx="2195.4" cy="1249.8" r="0.6" fill="#c8d8e8"/><circle cx="2157.6" cy="1238.2" r="1.1" fill="#dfe6dc"/><circle cx="2143.4" cy="1225.0" r="1.5" fill="#e2e8ee"/><circle cx="2164.8" cy="1205.9" r="1.5" fill="#c8d8e8"/><circle cx="2207.5" cy="1483.0" r="1.2" fill="#dfe6dc"/><circle cx="2181.5" cy="1455.2" r="0.6" fill="#d5e1ec"/><circle cx="2214.1" cy="1568.0" r="0.6" fill="#e2e8ee"/><circle cx="2122.6" cy="1420.2" r="0.6" fill="#d5e1ec"/><circle cx="2143.2" cy="1499.4" r="0.5" fill="#d5e1ec"/><circle cx="2249.3" cy="1353.6" r="1.0" fill="#d5e1ec"/><circle cx="2225.1" cy="1434.6" r="1.0" fill="#c8d8e8"/><circle cx="2127.0" cy="1537.9" r="0.6" fill="#c8d8e8"/><circle cx="2159.2" cy="1235.3" r="1.0" fill="#d5e1ec"/><circle cx="2223.0" cy="1228.9" r="1.3" fill="#d5e1ec"/><circle cx="2212.2" cy="1100.8" r="0.9" fill="#e2e8ee"/><circle cx="2218.8" cy="1266.5" r="0.6" fill="#dfe6dc"/><circle cx="2151.8" cy="1541.6" r="0.5" fill="#d5e1ec"/><circle cx="2174.3" cy="1134.9" r="1.1" fill="#e2e8ee"/><circle cx="2154.0" cy="1256.6" r="1.0" fill="#d5e1ec"/><circle cx="2238.4" cy="1116.5" r="1.4" fill="#e2e8ee"/><circle cx="2136.7" cy="1095.9" r="0.8" fill="#e2e8ee"/><circle cx="2186.6" cy="1366.7" r="0.5" fill="#d5e1ec"/><circle cx="2182.9" cy="1497.8" r="1.1" fill="#d5e1ec"/><circle cx="2159.0" cy="1230.4" r="0.7" fill="#c8d8e8"/><circle cx="2219.6" cy="1131.9" r="0.7" fill="#e2e8ee"/><circle cx="2220.9" cy="1203.7" r="0.5" fill="#c8d8e8"/><circle cx="2210.0" cy="1392.6" r="1.1" fill="#dfe6dc"/><circle cx="2173.0" cy="1425.5" r="0.9" fill="#dfe6dc"/><circle cx="2188.9" cy="1335.9" r="0.5" fill="#c8d8e8"/><circle cx="2237.9" cy="1359.7" r="0.7" fill="#c8d8e8"/><circle cx="2182.1" cy="1316.4" r="1.3" fill="#e2e8ee"/><circle cx="2188.0" cy="1159.4" r="0.7" fill="#dfe6dc"/><circle cx="2148.8" cy="1432.2" r="1.5" fill="#dfe6dc"/><circle cx="2165.1" cy="1373.0" r="1.1" fill="#d5e1ec"/><circle cx="2222.5" cy="1554.3" r="1.5" fill="#d5e1ec"/><circle cx="2146.8" cy="1351.7" r="1.4" fill="#e2e8ee"/><circle cx="2184.5" cy="1348.3" r="1.1" fill="#dfe6dc"/><circle cx="2153.9" cy="1461.6" r="1.3" fill="#dfe6dc"/><circle cx="2247.2" cy="1593.4" r="1.2" fill="#c8d8e8"/><circle cx="2196.7" cy="1188.8" r="0.8" fill="#e2e8ee"/><circle cx="2233.0" cy="1455.6" r="0.5" fill="#e2e8ee"/><circle cx="2167.0" cy="1231.0" r="0.9" fill="#c8d8e8"/><circle cx="2192.4" cy="1388.0" r="1.1" fill="#c8d8e8"/><circle cx="2232.3" cy="1412.5" r="1.0" fill="#dfe6dc"/><circle cx="2247.5" cy="1168.8" r="0.8" fill="#dfe6dc"/><circle cx="2222.5" cy="1129.1" r="0.7" fill="#dfe6dc"/><circle cx="2130.4" cy="1478.0" r="1.4" fill="#d5e1ec"/><circle cx="2153.4" cy="1286.3" r="1.0" fill="#dfe6dc"/><circle cx="2254.3" cy="1213.1" r="1.2" fill="#e2e8ee"/><circle cx="2113.8" cy="1161.9" r="1.2" fill="#d5e1ec"/><circle cx="2154.1" cy="1272.2" r="1.0" fill="#e2e8ee"/><circle cx="2148.6" cy="1372.9" r="1.4" fill="#d5e1ec"/><circle cx="2123.1" cy="1403.9" r="0.8" fill="#d5e1ec"/><circle cx="2247.2" cy="1302.1" r="1.2" fill="#d5e1ec"/><circle cx="2120.0" cy="1344.3" r="0.8" fill="#d5e1ec"/><circle cx="2196.2" cy="1152.7" r="0.6" fill="#e2e8ee"/><circle cx="2110.5" cy="1483.9" r="1.3" fill="#c8d8e8"/><circle cx="2160.8" cy="1198.9" r="1.2" fill="#c8d8e8"/><circle cx="2124.6" cy="1134.8" r="0.6" fill="#c8d8e8"/><circle cx="2125.1" cy="1445.3" r="0.6" fill="#e2e8ee"/><circle cx="2141.1" cy="1504.1" r="1.4" fill="#dfe6dc"/><circle cx="2113.4" cy="1562.2" r="1.4" fill="#e2e8ee"/><circle cx="2248.3" cy="1354.3" r="1.4" fill="#d5e1ec"/><circle cx="2169.1" cy="1307.1" r="0.9" fill="#dfe6dc"/><circle cx="2244.4" cy="1212.0" r="1.2" fill="#e2e8ee"/><circle cx="2187.5" cy="1371.1" r="1.5" fill="#c8d8e8"/><circle cx="2119.9" cy="1455.9" r="1.0" fill="#d5e1ec"/><circle cx="2153.5" cy="1076.5" r="0.8" fill="#dfe6dc"/><circle cx="2244.6" cy="1317.8" r="0.6" fill="#d5e1ec"/><circle cx="2155.3" cy="1536.0" r="1.1" fill="#e2e8ee"/><circle cx="2240.5" cy="1506.2" r="1.4" fill="#e2e8ee"/><circle cx="2221.0" cy="1342.0" r="1.3" fill="#dfe6dc"/><circle cx="2175.0" cy="1429.2" r="0.5" fill="#c8d8e8"/><circle cx="2148.8" cy="1530.1" r="0.9" fill="#dfe6dc"/><circle cx="2128.1" cy="1350.4" r="0.8" fill="#d5e1ec"/><circle cx="2139.9" cy="1574.5" r="1.0" fill="#c8d8e8"/><circle cx="2236.5" cy="1514.6" r="1.1" fill="#dfe6dc"/><circle cx="2151.3" cy="1347.0" r="1.5" fill="#d5e1ec"/><circle cx="2252.9" cy="1389.5" r="1.2" fill="#d5e1ec"/><circle cx="2229.4" cy="1530.8" r="1.5" fill="#c8d8e8"/><circle cx="2241.1" cy="1483.7" r="0.8" fill="#c8d8e8"/><circle cx="2162.4" cy="1475.7" r="0.5" fill="#dfe6dc"/><circle cx="2229.7" cy="1596.1" r="1.0" fill="#dfe6dc"/><circle cx="2184.5" cy="1147.1" r="0.6" fill="#e2e8ee"/><circle cx="2222.8" cy="1246.7" r="0.5" fill="#e2e8ee"/><circle cx="2220.8" cy="1197.6" r="0.7" fill="#c8d8e8"/><circle cx="2204.9" cy="1266.8" r="1.2" fill="#dfe6dc"/><circle cx="2187.4" cy="1335.3" r="1.2" fill="#dfe6dc"/><circle cx="2136.6" cy="1315.7" r="1.2" fill="#d5e1ec"/><circle cx="2153.7" cy="1131.1" r="1.0" fill="#d5e1ec"/><circle cx="2194.2" cy="1181.8" r="0.9" fill="#dfe6dc"/><circle cx="2200.4" cy="1462.0" r="1.2" fill="#c8d8e8"/><circle cx="2155.5" cy="1287.6" r="1.0" fill="#c8d8e8"/><circle cx="2165.6" cy="1596.1" r="0.8" fill="#d5e1ec"/><circle cx="2147.4" cy="1266.1" r="0.7" fill="#e2e8ee"/><circle cx="2112.9" cy="1457.5" r="1.4" fill="#d5e1ec"/><circle cx="2219.9" cy="1501.7" r="1.2" fill="#e2e8ee"/><circle cx="2216.2" cy="1410.9" r="0.7" fill="#c8d8e8"/><circle cx="2230.2" cy="1253.9" r="1.3" fill="#d5e1ec"/><circle cx="2140.6" cy="1350.3" r="1.5" fill="#c8d8e8"/><circle cx="2179.6" cy="1239.3" r="0.9" fill="#c8d8e8"/><circle cx="2243.9" cy="1350.2" r="1.6" fill="#dfe6dc"/><circle cx="2250.5" cy="1503.8" r="1.1" fill="#d5e1ec"/><circle cx="2215.8" cy="1350.3" r="1.2" fill="#e2e8ee"/><circle cx="2215.2" cy="1400.0" r="1.4" fill="#dfe6dc"/><circle cx="2229.9" cy="1454.4" r="1.3" fill="#dfe6dc"/><circle cx="2221.2" cy="1521.4" r="1.2" fill="#dfe6dc"/><circle cx="2206.5" cy="1518.0" r="1.0" fill="#dfe6dc"/><circle cx="2137.9" cy="1253.1" r="0.6" fill="#d5e1ec"/><circle cx="2194.9" cy="1220.5" r="0.9" fill="#d5e1ec"/><circle cx="2128.7" cy="1106.9" r="0.7" fill="#d5e1ec"/><circle cx="2151.0" cy="1491.2" r="0.8" fill="#c8d8e8"/><circle cx="2194.1" cy="1137.6" r="0.7" fill="#dfe6dc"/><circle cx="2244.0" cy="1450.7" r="1.5" fill="#e2e8ee"/><circle cx="2144.9" cy="1166.4" r="1.3" fill="#c8d8e8"/><circle cx="2123.0" cy="1234.8" r="1.2" fill="#c8d8e8"/><circle cx="2133.0" cy="1423.3" r="1.3" fill="#dfe6dc"/><circle cx="2185.0" cy="1413.2" r="0.8" fill="#e2e8ee"/><circle cx="2130.8" cy="1348.3" r="0.6" fill="#c8d8e8"/><circle cx="2228.2" cy="1444.4" r="1.4" fill="#dfe6dc"/><circle cx="2216.2" cy="1508.3" r="0.9" fill="#d5e1ec"/><circle cx="2202.1" cy="1086.9" r="0.8" fill="#dfe6dc"/><circle cx="2243.5" cy="1587.9" r="1.0" fill="#e2e8ee"/><circle cx="2204.5" cy="1513.7" r="1.6" fill="#dfe6dc"/><circle cx="2198.9" cy="1129.6" r="1.1" fill="#e2e8ee"/><circle cx="2191.8" cy="1131.0" r="1.4" fill="#e2e8ee"/><circle cx="2134.0" cy="1384.7" r="1.6" fill="#c8d8e8"/><circle cx="2153.0" cy="1124.4" r="0.6" fill="#d5e1ec"/><circle cx="2112.3" cy="1518.8" r="0.7" fill="#c8d8e8"/><circle cx="2173.2" cy="1289.9" r="0.9" fill="#c8d8e8"/><circle cx="2224.9" cy="1262.7" r="1.1" fill="#d5e1ec"/><circle cx="2170.5" cy="1184.3" r="1.3" fill="#c8d8e8"/><circle cx="2200.7" cy="1337.5" r="1.3" fill="#e2e8ee"/><circle cx="2165.5" cy="1571.8" r="0.8" fill="#e2e8ee"/><circle cx="2245.7" cy="1536.9" r="1.2" fill="#e2e8ee"/><circle cx="2232.4" cy="1485.3" r="1.1" fill="#c8d8e8"/><circle cx="2125.6" cy="1584.8" r="0.8" fill="#dfe6dc"/><circle cx="2122.8" cy="1408.7" r="0.5" fill="#dfe6dc"/><circle cx="2144.9" cy="1404.8" r="1.2" fill="#c8d8e8"/><circle cx="2226.8" cy="1094.1" r="1.5" fill="#c8d8e8"/><circle cx="2157.7" cy="1134.1" r="0.9" fill="#d5e1ec"/><circle cx="2130.8" cy="1210.1" r="0.8" fill="#dfe6dc"/><circle cx="2154.8" cy="1300.3" r="1.2" fill="#d5e1ec"/><circle cx="2159.7" cy="1569.8" r="0.7" fill="#c8d8e8"/><circle cx="2182.5" cy="1485.8" r="1.1" fill="#d5e1ec"/><circle cx="2211.2" cy="1458.6" r="1.4" fill="#d5e1ec"/><circle cx="2169.0" cy="1411.0" r="1.1" fill="#d5e1ec"/><circle cx="2249.9" cy="1084.8" r="1.3" fill="#dfe6dc"/><circle cx="2166.8" cy="1257.5" r="1.4" fill="#e2e8ee"/><circle cx="2142.2" cy="1243.4" r="1.5" fill="#dfe6dc"/><circle cx="2131.0" cy="1413.4" r="0.8" fill="#c8d8e8"/><circle cx="2219.5" cy="1370.6" r="1.2" fill="#dfe6dc"/><circle cx="2169.1" cy="1267.4" r="0.7" fill="#d5e1ec"/><circle cx="2190.5" cy="1171.2" r="1.5" fill="#dfe6dc"/><circle cx="2148.3" cy="1574.0" r="0.8" fill="#d5e1ec"/><circle cx="2231.6" cy="1486.8" r="1.3" fill="#c8d8e8"/><circle cx="2116.5" cy="1128.6" r="0.8" fill="#e2e8ee"/><circle cx="2152.2" cy="1395.6" r="1.5" fill="#d5e1ec"/><circle cx="2194.1" cy="1154.2" r="1.0" fill="#c8d8e8"/><circle cx="2241.4" cy="1238.1" r="1.3" fill="#dfe6dc"/><circle cx="2177.8" cy="1154.2" r="1.4" fill="#d5e1ec"/><circle cx="2171.2" cy="1246.3" r="1.3" fill="#d5e1ec"/><circle cx="2134.0" cy="1410.2" r="1.3" fill="#d5e1ec"/><circle cx="2219.2" cy="1229.8" r="1.0" fill="#c8d8e8"/><circle cx="2175.8" cy="1121.8" r="0.9" fill="#dfe6dc"/><circle cx="2229.9" cy="1189.5" r="1.5" fill="#c8d8e8"/><circle cx="2208.7" cy="1235.5" r="1.5" fill="#e2e8ee"/><circle cx="2211.8" cy="1255.8" r="0.6" fill="#e2e8ee"/><circle cx="2248.1" cy="1509.8" r="1.1" fill="#e2e8ee"/><circle cx="2203.3" cy="1081.7" r="0.9" fill="#e2e8ee"/><circle cx="2126.7" cy="1289.0" r="1.0" fill="#dfe6dc"/><circle cx="2136.4" cy="1295.4" r="1.5" fill="#d5e1ec"/><circle cx="2191.5" cy="1591.6" r="0.6" fill="#e2e8ee"/><circle cx="2166.7" cy="1093.3" r="1.1" fill="#d5e1ec"/><circle cx="2141.0" cy="1540.7" r="1.5" fill="#dfe6dc"/><circle cx="2116.2" cy="1560.6" r="0.6" fill="#c8d8e8"/><circle cx="2231.9" cy="1078.7" r="0.6" fill="#c8d8e8"/><circle cx="2177.8" cy="1355.7" r="0.6" fill="#e2e8ee"/><circle cx="2231.7" cy="1576.7" r="0.9" fill="#c8d8e8"/><circle cx="2221.2" cy="1491.3" r="0.8" fill="#d5e1ec"/><circle cx="2159.5" cy="1131.7" r="0.8" fill="#c8d8e8"/><circle cx="2148.0" cy="1093.0" r="0.7" fill="#e2e8ee"/><circle cx="2183.6" cy="1550.8" r="1.2" fill="#c8d8e8"/><circle cx="2224.9" cy="1263.6" r="0.8" fill="#c8d8e8"/><circle cx="2240.6" cy="1265.3" r="0.9" fill="#d5e1ec"/><circle cx="2191.0" cy="1241.1" r="0.7" fill="#e2e8ee"/><circle cx="2148.0" cy="1598.0" r="0.6" fill="#dfe6dc"/><circle cx="2247.1" cy="1198.0" r="1.6" fill="#dfe6dc"/><circle cx="2145.3" cy="1354.0" r="1.0" fill="#d5e1ec"/><circle cx="2165.6" cy="1086.0" r="1.0" fill="#c8d8e8"/><circle cx="2198.2" cy="1587.7" r="1.2" fill="#c8d8e8"/><circle cx="2217.5" cy="1075.8" r="1.6" fill="#c8d8e8"/><circle cx="2126.7" cy="1154.3" r="1.3" fill="#d5e1ec"/><circle cx="2207.8" cy="1177.0" r="1.5" fill="#d5e1ec"/><circle cx="2246.8" cy="1241.2" r="1.2" fill="#c8d8e8"/><circle cx="2117.8" cy="1528.5" r="0.7" fill="#dfe6dc"/><circle cx="2223.8" cy="1247.8" r="1.1" fill="#e2e8ee"/><circle cx="2159.6" cy="1121.0" r="1.0" fill="#c8d8e8"/><circle cx="2234.1" cy="1448.2" r="1.4" fill="#dfe6dc"/><circle cx="2127.6" cy="1516.5" r="1.2" fill="#c8d8e8"/><circle cx="2231.5" cy="1175.2" r="1.1" fill="#e2e8ee"/><circle cx="2219.7" cy="1302.1" r="1.5" fill="#c8d8e8"/><circle cx="2169.0" cy="1161.4" r="1.6" fill="#c8d8e8"/><circle cx="2180.2" cy="1545.6" r="0.7" fill="#c8d8e8"/><circle cx="2127.5" cy="1244.8" r="1.6" fill="#e2e8ee"/><circle cx="2218.8" cy="1094.5" r="1.5" fill="#dfe6dc"/><circle cx="2244.5" cy="1380.4" r="0.8" fill="#e2e8ee"/><circle cx="2212.0" cy="1506.6" r="1.2" fill="#e2e8ee"/><circle cx="2169.0" cy="1211.7" r="1.5" fill="#d5e1ec"/><circle cx="2188.9" cy="1548.9" r="0.8" fill="#c8d8e8"/><circle cx="2205.1" cy="1377.4" r="1.2" fill="#e2e8ee"/><circle cx="2221.7" cy="1275.6" r="0.7" fill="#dfe6dc"/><circle cx="2131.8" cy="1089.6" r="0.9" fill="#c8d8e8"/><circle cx="2246.7" cy="1430.8" r="1.2" fill="#e2e8ee"/><circle cx="2179.3" cy="1233.7" r="0.8" fill="#dfe6dc"/><circle cx="2123.6" cy="1567.0" r="0.7" fill="#c8d8e8"/><circle cx="2224.7" cy="1076.5" r="1.6" fill="#c8d8e8"/><circle cx="2155.3" cy="1526.3" r="1.1" fill="#dfe6dc"/><circle cx="2176.3" cy="1483.4" r="0.9" fill="#c8d8e8"/><circle cx="2204.3" cy="1173.1" r="1.3" fill="#d5e1ec"/><circle cx="2243.7" cy="1213.8" r="1.6" fill="#c8d8e8"/><circle cx="2210.2" cy="1193.9" r="1.1" fill="#dfe6dc"/><circle cx="2234.2" cy="1160.0" r="1.5" fill="#dfe6dc"/><circle cx="2205.2" cy="1195.7" r="0.7" fill="#dfe6dc"/><circle cx="2146.8" cy="1396.6" r="1.0" fill="#c8d8e8"/><circle cx="2161.1" cy="1362.3" r="1.2" fill="#c8d8e8"/><circle cx="2214.9" cy="1461.8" r="0.8" fill="#dfe6dc"/><circle cx="2139.8" cy="1075.1" r="0.8" fill="#d5e1ec"/><circle cx="2239.8" cy="1426.2" r="1.0" fill="#dfe6dc"/><circle cx="2114.2" cy="1500.1" r="1.0" fill="#d5e1ec"/><circle cx="2238.5" cy="1578.9" r="0.5" fill="#d5e1ec"/><circle cx="2235.4" cy="1121.0" r="0.7" fill="#d5e1ec"/><circle cx="2168.3" cy="1147.8" r="0.8" fill="#dfe6dc"/><ellipse cx="2212.8" cy="1481.0" rx="3.5" ry="1.1" transform="rotate(-66 2212.8 1481.0)" fill="#d2dc9a" opacity="0.65"/><ellipse cx="2195.6" cy="1475.7" rx="3.3" ry="1.0" transform="rotate(-65 2195.6 1475.7)" fill="#e8da8c" opacity="0.65"/><ellipse cx="2185.0" cy="1340.5" rx="4.2" ry="0.7" transform="rotate(-72 2185.0 1340.5)" fill="#dccb78" opacity="0.65"/><ellipse cx="2140.4" cy="1551.4" rx="4.9" ry="0.6" transform="rotate(-53 2140.4 1551.4)" fill="#e6dea0" opacity="0.65"/><ellipse cx="2234.1" cy="1405.2" rx="2.1" ry="1.0" transform="rotate(-68 2234.1 1405.2)" fill="#d2dc9a" opacity="0.65"/><ellipse cx="2188.2" cy="1363.5" rx="4.3" ry="1.2" transform="rotate(-74 2188.2 1363.5)" fill="#e8da8c" opacity="0.65"/><ellipse cx="2143.8" cy="1483.0" rx="3.5" ry="1.0" transform="rotate(-49 2143.8 1483.0)" fill="#d2dc9a" opacity="0.65"/><ellipse cx="2203.7" cy="1155.0" rx="2.7" ry="1.0" transform="rotate(-59 2203.7 1155.0)" fill="#dccb78" opacity="0.65"/><ellipse cx="2166.9" cy="1494.7" rx="4.6" ry="1.0" transform="rotate(-73 2166.9 1494.7)" fill="#e8da8c" opacity="0.65"/><ellipse cx="2224.0" cy="1551.1" rx="2.1" ry="0.7" transform="rotate(-69 2224.0 1551.1)" fill="#d2dc9a" opacity="0.65"/><ellipse cx="2215.4" cy="1326.4" rx="3.6" ry="0.6" transform="rotate(-74 2215.4 1326.4)" fill="#dccb78" opacity="0.65"/><ellipse cx="2229.2" cy="1313.8" rx="3.9" ry="1.0" transform="rotate(-55 2229.2 1313.8)" fill="#e6dea0" opacity="0.65"/><ellipse cx="2228.7" cy="1389.3" rx="2.7" ry="0.7" transform="rotate(-53 2228.7 1389.3)" fill="#e8da8c" opacity="0.65"/><ellipse cx="2171.8" cy="1181.9" rx="4.0" ry="1.1" transform="rotate(-63 2171.8 1181.9)" fill="#d2dc9a" opacity="0.65"/><ellipse cx="2205.4" cy="1333.2" rx="2.7" ry="1.0" transform="rotate(-65 2205.4 1333.2)" fill="#d2dc9a" opacity="0.65"/><ellipse cx="2145.8" cy="1494.8" rx="2.7" ry="1.1" transform="rotate(-61 2145.8 1494.8)" fill="#e6dea0" opacity="0.65"/><ellipse cx="2160.9" cy="1340.7" rx="2.7" ry="0.9" transform="rotate(-49 2160.9 1340.7)" fill="#e0b888" opacity="0.65"/><ellipse cx="2236.9" cy="1457.0" rx="2.4" ry="1.2" transform="rotate(-49 2236.9 1457.0)" fill="#e6dea0" opacity="0.65"/><ellipse cx="2202.8" cy="1411.2" rx="4.6" ry="0.7" transform="rotate(-56 2202.8 1411.2)" fill="#e0b888" opacity="0.65"/><ellipse cx="2235.5" cy="1230.2" rx="5.0" ry="0.7" transform="rotate(-47 2235.5 1230.2)" fill="#e6dea0" opacity="0.65"/><ellipse cx="2188.7" cy="1407.2" rx="4.8" ry="1.1" transform="rotate(-65 2188.7 1407.2)" fill="#e0b888" opacity="0.65"/><ellipse cx="2201.0" cy="1214.2" rx="2.1" ry="1.0" transform="rotate(-75 2201.0 1214.2)" fill="#e8da8c" opacity="0.65"/><ellipse cx="2201.4" cy="1423.9" rx="4.4" ry="1.0" transform="rotate(-68 2201.4 1423.9)" fill="#dccb78" opacity="0.65"/><ellipse cx="2223.7" cy="1203.7" rx="4.5" ry="1.2" transform="rotate(-71 2223.7 1203.7)" fill="#d2dc9a" opacity="0.65"/><ellipse cx="2174.2" cy="1539.7" rx="2.9" ry="0.7" transform="rotate(-72 2174.2 1539.7)" fill="#e8da8c" opacity="0.65"/><ellipse cx="2218.2" cy="1476.2" rx="3.1" ry="0.7" transform="rotate(-63 2218.2 1476.2)" fill="#d2dc9a" opacity="0.65"/><ellipse cx="2149.3" cy="1194.6" rx="4.5" ry="0.8" transform="rotate(-53 2149.3 1194.6)" fill="#e6dea0" opacity="0.65"/><ellipse cx="2184.3" cy="1348.0" rx="4.8" ry="0.7" transform="rotate(-54 2184.3 1348.0)" fill="#e0b888" opacity="0.65"/><ellipse cx="2184.4" cy="1442.3" rx="3.9" ry="1.0" transform="rotate(-66 2184.4 1442.3)" fill="#e0b888" opacity="0.65"/><ellipse cx="2189.0" cy="1419.4" rx="3.2" ry="0.9" transform="rotate(-50 2189.0 1419.4)" fill="#e8da8c" opacity="0.65"/><ellipse cx="2225.2" cy="1431.5" rx="2.6" ry="1.2" transform="rotate(-57 2225.2 1431.5)" fill="#e8da8c" opacity="0.65"/><ellipse cx="2190.7" cy="1222.4" rx="2.7" ry="0.7" transform="rotate(-54 2190.7 1222.4)" fill="#e8da8c" opacity="0.65"/><ellipse cx="2140.7" cy="1292.8" rx="4.9" ry="1.1" transform="rotate(-75 2140.7 1292.8)" fill="#d2dc9a" opacity="0.65"/><ellipse cx="2175.8" cy="1311.8" rx="4.2" ry="1.2" transform="rotate(-72 2175.8 1311.8)" fill="#d2dc9a" opacity="0.65"/><ellipse cx="2159.8" cy="1206.0" rx="4.2" ry="0.9" transform="rotate(-60 2159.8 1206.0)" fill="#e0b888" opacity="0.65"/><ellipse cx="2196.2" cy="1180.8" rx="3.9" ry="0.7" transform="rotate(-57 2196.2 1180.8)" fill="#e8da8c" opacity="0.65"/><ellipse cx="2201.8" cy="1325.4" rx="3.7" ry="1.2" transform="rotate(-59 2201.8 1325.4)" fill="#dccb78" opacity="0.65"/><ellipse cx="2203.5" cy="1335.1" rx="3.6" ry="0.7" transform="rotate(-65 2203.5 1335.1)" fill="#d2dc9a" opacity="0.65"/><ellipse cx="2179.1" cy="1339.5" rx="2.3" ry="1.2" transform="rotate(-56 2179.1 1339.5)" fill="#e8da8c" opacity="0.65"/><ellipse cx="2156.8" cy="1166.9" rx="3.5" ry="1.1" transform="rotate(-64 2156.8 1166.9)" fill="#e8da8c" opacity="0.65"/><ellipse cx="2204.3" cy="1353.0" rx="4.4" ry="1.1" transform="rotate(-46 2204.3 1353.0)" fill="#e0b888" opacity="0.65"/><ellipse cx="2179.5" cy="1317.4" rx="3.9" ry="0.9" transform="rotate(-62 2179.5 1317.4)" fill="#e0b888" opacity="0.65"/><ellipse cx="2241.7" cy="1537.7" rx="4.7" ry="0.8" transform="rotate(-66 2241.7 1537.7)" fill="#dccb78" opacity="0.65"/><ellipse cx="2239.9" cy="1538.0" rx="4.2" ry="0.8" transform="rotate(-64 2239.9 1538.0)" fill="#dccb78" opacity="0.65"/><ellipse cx="2192.8" cy="1234.8" rx="4.3" ry="0.7" transform="rotate(-57 2192.8 1234.8)" fill="#e6dea0" opacity="0.65"/><ellipse cx="2192.7" cy="1259.4" rx="2.7" ry="0.8" transform="rotate(-68 2192.7 1259.4)" fill="#dccb78" opacity="0.65"/><ellipse cx="2157.7" cy="1211.3" rx="3.1" ry="0.9" transform="rotate(-58 2157.7 1211.3)" fill="#dccb78" opacity="0.65"/><ellipse cx="2147.3" cy="1551.4" rx="2.3" ry="0.9" transform="rotate(-69 2147.3 1551.4)" fill="#e8da8c" opacity="0.65"/><ellipse cx="2183.1" cy="1550.0" rx="2.1" ry="0.9" transform="rotate(-60 2183.1 1550.0)" fill="#e8da8c" opacity="0.65"/><ellipse cx="2221.1" cy="1532.4" rx="4.6" ry="1.0" transform="rotate(-53 2221.1 1532.4)" fill="#d2dc9a" opacity="0.65"/><ellipse cx="2214.8" cy="1209.6" rx="3.9" ry="0.6" transform="rotate(-51 2214.8 1209.6)" fill="#d2dc9a" opacity="0.65"/><ellipse cx="2249.8" cy="1321.2" rx="3.6" ry="1.1" transform="rotate(-73 2249.8 1321.2)" fill="#d2dc9a" opacity="0.65"/><ellipse cx="2184.3" cy="1226.3" rx="4.8" ry="1.0" transform="rotate(-53 2184.3 1226.3)" fill="#e8da8c" opacity="0.65"/><ellipse cx="2196.1" cy="1544.0" rx="4.1" ry="1.0" transform="rotate(-46 2196.1 1544.0)" fill="#dccb78" opacity="0.65"/><ellipse cx="2169.9" cy="1181.4" rx="4.3" ry="0.8" transform="rotate(-54 2169.9 1181.4)" fill="#dccb78" opacity="0.65"/><ellipse cx="2179.5" cy="1399.7" rx="2.5" ry="1.1" transform="rotate(-71 2179.5 1399.7)" fill="#e6dea0" opacity="0.65"/><ellipse cx="2140.7" cy="1546.8" rx="3.3" ry="0.9" transform="rotate(-75 2140.7 1546.8)" fill="#d2dc9a" opacity="0.65"/><ellipse cx="2187.7" cy="1496.3" rx="3.4" ry="0.9" transform="rotate(-55 2187.7 1496.3)" fill="#e8da8c" opacity="0.65"/><ellipse cx="2232.0" cy="1501.0" rx="4.4" ry="0.9" transform="rotate(-50 2232.0 1501.0)" fill="#d2dc9a" opacity="0.65"/><ellipse cx="2216.1" cy="1207.9" rx="2.5" ry="0.8" transform="rotate(-48 2216.1 1207.9)" fill="#dccb78" opacity="0.65"/><ellipse cx="2143.3" cy="1250.6" rx="3.3" ry="1.0" transform="rotate(-46 2143.3 1250.6)" fill="#e6dea0" opacity="0.65"/><ellipse cx="2182.9" cy="1471.6" rx="2.1" ry="1.1" transform="rotate(-59 2182.9 1471.6)" fill="#dccb78" opacity="0.65"/><ellipse cx="2225.3" cy="1213.8" rx="3.2" ry="1.0" transform="rotate(-46 2225.3 1213.8)" fill="#e0b888" opacity="0.65"/><ellipse cx="2171.3" cy="1199.4" rx="4.9" ry="0.8" transform="rotate(-62 2171.3 1199.4)" fill="#e6dea0" opacity="0.65"/><ellipse cx="2212.8" cy="1411.7" rx="3.4" ry="0.7" transform="rotate(-54 2212.8 1411.7)" fill="#e8da8c" opacity="0.65"/><ellipse cx="2208.0" cy="1244.2" rx="2.6" ry="0.9" transform="rotate(-64 2208.0 1244.2)" fill="#d2dc9a" opacity="0.65"/><ellipse cx="2217.3" cy="1197.8" rx="4.7" ry="0.7" transform="rotate(-47 2217.3 1197.8)" fill="#e0b888" opacity="0.65"/><ellipse cx="2233.3" cy="1141.1" rx="3.9" ry="1.0" transform="rotate(-49 2233.3 1141.1)" fill="#dccb78" opacity="0.65"/><ellipse cx="2237.0" cy="1368.8" rx="2.4" ry="1.0" transform="rotate(-73 2237.0 1368.8)" fill="#d2dc9a" opacity="0.65"/><ellipse cx="2157.0" cy="1342.3" rx="4.2" ry="0.9" transform="rotate(-46 2157.0 1342.3)" fill="#d2dc9a" opacity="0.65"/><ellipse cx="2182.8" cy="1512.0" rx="2.3" ry="0.7" transform="rotate(-72 2182.8 1512.0)" fill="#e8da8c" opacity="0.65"/><ellipse cx="2193.7" cy="1544.3" rx="4.8" ry="0.8" transform="rotate(-48 2193.7 1544.3)" fill="#e6dea0" opacity="0.65"/><ellipse cx="2221.6" cy="1545.7" rx="3.9" ry="0.8" transform="rotate(-57 2221.6 1545.7)" fill="#d2dc9a" opacity="0.65"/><ellipse cx="2246.7" cy="1264.4" rx="4.7" ry="0.9" transform="rotate(-73 2246.7 1264.4)" fill="#e6dea0" opacity="0.65"/><ellipse cx="2218.2" cy="1265.7" rx="2.1" ry="1.0" transform="rotate(-62 2218.2 1265.7)" fill="#d2dc9a" opacity="0.65"/><ellipse cx="2241.6" cy="1215.3" rx="2.9" ry="0.9" transform="rotate(-59 2241.6 1215.3)" fill="#e8da8c" opacity="0.65"/><ellipse cx="2234.5" cy="1343.0" rx="3.0" ry="0.7" transform="rotate(-68 2234.5 1343.0)" fill="#e6dea0" opacity="0.65"/><ellipse cx="2226.1" cy="1307.7" rx="3.1" ry="1.0" transform="rotate(-54 2226.1 1307.7)" fill="#e8da8c" opacity="0.65"/><ellipse cx="2199.0" cy="1387.8" rx="3.7" ry="0.9" transform="rotate(-48 2199.0 1387.8)" fill="#d2dc9a" opacity="0.65"/><ellipse cx="2231.4" cy="1341.7" rx="3.5" ry="0.7" transform="rotate(-47 2231.4 1341.7)" fill="#e0b888" opacity="0.65"/><ellipse cx="2201.9" cy="1135.7" rx="2.3" ry="0.6" transform="rotate(-74 2201.9 1135.7)" fill="#e6dea0" opacity="0.65"/><ellipse cx="2159.5" cy="1181.1" rx="2.3" ry="1.1" transform="rotate(-65 2159.5 1181.1)" fill="#dccb78" opacity="0.65"/><ellipse cx="2228.0" cy="1200.0" rx="2.9" ry="1.0" transform="rotate(-59 2228.0 1200.0)" fill="#e0b888" opacity="0.65"/><ellipse cx="2198.8" cy="1215.5" rx="4.3" ry="0.9" transform="rotate(-65 2198.8 1215.5)" fill="#e8da8c" opacity="0.65"/><ellipse cx="2198.2" cy="1139.2" rx="2.3" ry="0.6" transform="rotate(-64 2198.2 1139.2)" fill="#e8da8c" opacity="0.65"/><ellipse cx="2198.7" cy="1158.3" rx="2.0" ry="1.0" transform="rotate(-52 2198.7 1158.3)" fill="#d2dc9a" opacity="0.65"/><ellipse cx="2197.9" cy="1182.9" rx="2.2" ry="1.1" transform="rotate(-61 2197.9 1182.9)" fill="#e6dea0" opacity="0.65"/><ellipse cx="2192.6" cy="1198.6" rx="4.5" ry="0.9" transform="rotate(-71 2192.6 1198.6)" fill="#e0b888" opacity="0.65"/><ellipse cx="2199.5" cy="1142.8" rx="2.1" ry="1.1" transform="rotate(-55 2199.5 1142.8)" fill="#e6dea0" opacity="0.65"/><ellipse cx="2223.3" cy="1454.8" rx="3.2" ry="0.9" transform="rotate(-58 2223.3 1454.8)" fill="#dccb78" opacity="0.65"/><ellipse cx="2225.5" cy="1406.4" rx="4.4" ry="1.0" transform="rotate(-72 2225.5 1406.4)" fill="#dccb78" opacity="0.65"/><ellipse cx="2207.1" cy="1425.1" rx="2.6" ry="0.8" transform="rotate(-70 2207.1 1425.1)" fill="#d2dc9a" opacity="0.65"/><ellipse cx="2176.9" cy="1407.6" rx="2.8" ry="0.8" transform="rotate(-74 2176.9 1407.6)" fill="#e0b888" opacity="0.65"/><ellipse cx="2231.7" cy="1517.4" rx="5.0" ry="0.8" transform="rotate(-71 2231.7 1517.4)" fill="#e0b888" opacity="0.65"/><ellipse cx="2195.9" cy="1170.0" rx="4.0" ry="0.9" transform="rotate(-48 2195.9 1170.0)" fill="#d2dc9a" opacity="0.65"/><ellipse cx="2212.0" cy="1332.9" rx="2.3" ry="1.2" transform="rotate(-48 2212.0 1332.9)" fill="#d2dc9a" opacity="0.65"/><ellipse cx="2189.1" cy="1238.7" rx="4.4" ry="1.0" transform="rotate(-48 2189.1 1238.7)" fill="#d2dc9a" opacity="0.65"/><ellipse cx="2198.6" cy="1502.7" rx="4.5" ry="1.0" transform="rotate(-58 2198.6 1502.7)" fill="#e6dea0" opacity="0.65"/><ellipse cx="2145.7" cy="1234.4" rx="3.5" ry="0.7" transform="rotate(-56 2145.7 1234.4)" fill="#e0b888" opacity="0.65"/><ellipse cx="2182.5" cy="1313.1" rx="2.4" ry="1.2" transform="rotate(-62 2182.5 1313.1)" fill="#dccb78" opacity="0.65"/><ellipse cx="2141.6" cy="1480.2" rx="4.8" ry="0.8" transform="rotate(-49 2141.6 1480.2)" fill="#e0b888" opacity="0.65"/><ellipse cx="2199.5" cy="1294.4" rx="4.2" ry="0.8" transform="rotate(-59 2199.5 1294.4)" fill="#dccb78" opacity="0.65"/><ellipse cx="2182.9" cy="1363.2" rx="2.6" ry="1.2" transform="rotate(-62 2182.9 1363.2)" fill="#e0b888" opacity="0.65"/><ellipse cx="2185.4" cy="1527.9" rx="3.0" ry="0.6" transform="rotate(-52 2185.4 1527.9)" fill="#d2dc9a" opacity="0.65"/><ellipse cx="2223.5" cy="1391.8" rx="4.9" ry="0.9" transform="rotate(-69 2223.5 1391.8)" fill="#dccb78" opacity="0.65"/><ellipse cx="2235.3" cy="1318.9" rx="4.7" ry="0.7" transform="rotate(-74 2235.3 1318.9)" fill="#dccb78" opacity="0.65"/><ellipse cx="2164.3" cy="1326.7" rx="3.7" ry="1.0" transform="rotate(-54 2164.3 1326.7)" fill="#e6dea0" opacity="0.65"/><ellipse cx="2211.6" cy="1252.4" rx="4.8" ry="1.0" transform="rotate(-74 2211.6 1252.4)" fill="#dccb78" opacity="0.65"/><ellipse cx="2175.7" cy="1234.3" rx="3.9" ry="0.9" transform="rotate(-50 2175.7 1234.3)" fill="#dccb78" opacity="0.65"/><ellipse cx="2152.3" cy="1294.8" rx="4.6" ry="0.8" transform="rotate(-52 2152.3 1294.8)" fill="#e8da8c" opacity="0.65"/><ellipse cx="2224.4" cy="1378.0" rx="3.9" ry="1.0" transform="rotate(-52 2224.4 1378.0)" fill="#e6dea0" opacity="0.65"/><ellipse cx="2184.6" cy="1266.6" rx="3.8" ry="0.8" transform="rotate(-62 2184.6 1266.6)" fill="#d2dc9a" opacity="0.65"/><ellipse cx="2178.5" cy="1553.9" rx="4.6" ry="0.8" transform="rotate(-69 2178.5 1553.9)" fill="#dccb78" opacity="0.65"/><ellipse cx="2207.9" cy="1534.3" rx="4.0" ry="1.0" transform="rotate(-58 2207.9 1534.3)" fill="#dccb78" opacity="0.65"/><ellipse cx="2196.7" cy="1453.8" rx="4.4" ry="0.9" transform="rotate(-64 2196.7 1453.8)" fill="#e8da8c" opacity="0.65"/><ellipse cx="2225.7" cy="1451.9" rx="4.6" ry="1.1" transform="rotate(-58 2225.7 1451.9)" fill="#dccb78" opacity="0.65"/><ellipse cx="2186.4" cy="1230.1" rx="2.3" ry="0.8" transform="rotate(-61 2186.4 1230.1)" fill="#d2dc9a" opacity="0.65"/><ellipse cx="2249.0" cy="1535.9" rx="3.9" ry="0.8" transform="rotate(-50 2249.0 1535.9)" fill="#e0b888" opacity="0.65"/><ellipse cx="2245.2" cy="1197.2" rx="2.2" ry="0.9" transform="rotate(-64 2245.2 1197.2)" fill="#dccb78" opacity="0.65"/><ellipse cx="2242.4" cy="1509.1" rx="2.1" ry="0.7" transform="rotate(-65 2242.4 1509.1)" fill="#dccb78" opacity="0.65"/><ellipse cx="2250.0" cy="1265.2" rx="3.8" ry="0.7" transform="rotate(-67 2250.0 1265.2)" fill="#e6dea0" opacity="0.65"/><ellipse cx="2168.9" cy="1226.2" rx="2.4" ry="0.7" transform="rotate(-61 2168.9 1226.2)" fill="#e6dea0" opacity="0.65"/><ellipse cx="2194.1" cy="1332.2" rx="4.6" ry="0.7" transform="rotate(-72 2194.1 1332.2)" fill="#d2dc9a" opacity="0.65"/><ellipse cx="2231.5" cy="1457.4" rx="4.9" ry="1.1" transform="rotate(-65 2231.5 1457.4)" fill="#e0b888" opacity="0.65"/><ellipse cx="2218.7" cy="1400.8" rx="2.6" ry="0.6" transform="rotate(-48 2218.7 1400.8)" fill="#e6dea0" opacity="0.65"/><ellipse cx="2170.2" cy="1236.4" rx="2.7" ry="1.2" transform="rotate(-53 2170.2 1236.4)" fill="#d2dc9a" opacity="0.65"/><ellipse cx="2247.4" cy="1156.7" rx="4.4" ry="0.8" transform="rotate(-58 2247.4 1156.7)" fill="#e6dea0" opacity="0.65"/><ellipse cx="2227.0" cy="1536.1" rx="3.8" ry="0.9" transform="rotate(-58 2227.0 1536.1)" fill="#e6dea0" opacity="0.65"/><ellipse cx="2202.9" cy="1466.5" rx="3.5" ry="0.7" transform="rotate(-70 2202.9 1466.5)" fill="#e8da8c" opacity="0.65"/><ellipse cx="2215.1" cy="1456.9" rx="2.6" ry="0.9" transform="rotate(-46 2215.1 1456.9)" fill="#e6dea0" opacity="0.65"/><ellipse cx="2199.6" cy="1406.3" rx="3.6" ry="0.7" transform="rotate(-70 2199.6 1406.3)" fill="#e8da8c" opacity="0.65"/><ellipse cx="2241.5" cy="1441.7" rx="2.6" ry="1.0" transform="rotate(-57 2241.5 1441.7)" fill="#d2dc9a" opacity="0.65"/><ellipse cx="2245.7" cy="1505.1" rx="3.2" ry="1.1" transform="rotate(-59 2245.7 1505.1)" fill="#e6dea0" opacity="0.65"/><ellipse cx="2193.7" cy="1567.6" rx="3.8" ry="0.7" transform="rotate(-61 2193.7 1567.6)" fill="#e8da8c" opacity="0.65"/><ellipse cx="2241.3" cy="1564.0" rx="2.8" ry="0.7" transform="rotate(-60 2241.3 1564.0)" fill="#dccb78" opacity="0.65"/><ellipse cx="2239.7" cy="1292.0" rx="4.1" ry="0.8" transform="rotate(-60 2239.7 1292.0)" fill="#e6dea0" opacity="0.65"/><ellipse cx="2240.2" cy="1210.8" rx="4.6" ry="0.8" transform="rotate(-61 2240.2 1210.8)" fill="#e6dea0" opacity="0.65"/><ellipse cx="2208.4" cy="1161.5" rx="3.2" ry="1.0" transform="rotate(-61 2208.4 1161.5)" fill="#dccb78" opacity="0.65"/><ellipse cx="2200.9" cy="1174.6" rx="4.8" ry="0.7" transform="rotate(-56 2200.9 1174.6)" fill="#e8da8c" opacity="0.65"/><ellipse cx="2142.7" cy="1396.0" rx="4.9" ry="0.9" transform="rotate(-55 2142.7 1396.0)" fill="#e8da8c" opacity="0.65"/><ellipse cx="2246.7" cy="1458.1" rx="4.7" ry="0.9" transform="rotate(-64 2246.7 1458.1)" fill="#e8da8c" opacity="0.65"/><ellipse cx="2211.4" cy="1471.6" rx="2.8" ry="1.0" transform="rotate(-72 2211.4 1471.6)" fill="#e8da8c" opacity="0.65"/><ellipse cx="2193.6" cy="1367.3" rx="4.1" ry="0.9" transform="rotate(-49 2193.6 1367.3)" fill="#d2dc9a" opacity="0.65"/><ellipse cx="2189.1" cy="1356.8" rx="3.2" ry="1.1" transform="rotate(-48 2189.1 1356.8)" fill="#d2dc9a" opacity="0.65"/><ellipse cx="2243.7" cy="1234.4" rx="2.5" ry="1.2" transform="rotate(-73 2243.7 1234.4)" fill="#e8da8c" opacity="0.65"/><ellipse cx="2223.6" cy="1448.4" rx="2.9" ry="0.7" transform="rotate(-75 2223.6 1448.4)" fill="#e6dea0" opacity="0.65"/><ellipse cx="2163.6" cy="1232.8" rx="3.0" ry="0.9" transform="rotate(-73 2163.6 1232.8)" fill="#d2dc9a" opacity="0.65"/><ellipse cx="2197.5" cy="1273.7" rx="2.8" ry="0.7" transform="rotate(-53 2197.5 1273.7)" fill="#dccb78" opacity="0.65"/><ellipse cx="2235.7" cy="1481.2" rx="2.5" ry="0.9" transform="rotate(-62 2235.7 1481.2)" fill="#d2dc9a" opacity="0.65"/><ellipse cx="2217.0" cy="1558.5" rx="4.6" ry="0.8" transform="rotate(-73 2217.0 1558.5)" fill="#e0b888" opacity="0.65"/><ellipse cx="2232.3" cy="1496.4" rx="3.7" ry="0.7" transform="rotate(-71 2232.3 1496.4)" fill="#e0b888" opacity="0.65"/><ellipse cx="2219.5" cy="1439.6" rx="2.1" ry="0.6" transform="rotate(-73 2219.5 1439.6)" fill="#e0b888" opacity="0.65"/><ellipse cx="2234.6" cy="1408.2" rx="2.8" ry="0.9" transform="rotate(-72 2234.6 1408.2)" fill="#e0b888" opacity="0.65"/><ellipse cx="2232.7" cy="1448.5" rx="3.0" ry="0.9" transform="rotate(-67 2232.7 1448.5)" fill="#e8da8c" opacity="0.65"/><ellipse cx="2189.7" cy="1368.2" rx="5.0" ry="0.8" transform="rotate(-56 2189.7 1368.2)" fill="#d2dc9a" opacity="0.65"/><ellipse cx="2153.5" cy="1481.3" rx="2.6" ry="1.0" transform="rotate(-67 2153.5 1481.3)" fill="#e0b888" opacity="0.65"/><ellipse cx="2191.5" cy="1146.0" rx="2.4" ry="0.7" transform="rotate(-66 2191.5 1146.0)" fill="#e6dea0" opacity="0.65"/><ellipse cx="2187.1" cy="1331.0" rx="2.6" ry="1.1" transform="rotate(-61 2187.1 1331.0)" fill="#d2dc9a" opacity="0.65"/><ellipse cx="2142.8" cy="1231.2" rx="4.9" ry="1.1" transform="rotate(-66 2142.8 1231.2)" fill="#e6dea0" opacity="0.65"/><ellipse cx="2187.0" cy="1181.8" rx="4.6" ry="0.6" transform="rotate(-66 2187.0 1181.8)" fill="#e0b888" opacity="0.65"/><ellipse cx="2243.4" cy="1515.8" rx="3.2" ry="1.0" transform="rotate(-67 2243.4 1515.8)" fill="#e8da8c" opacity="0.65"/><ellipse cx="2218.8" cy="1186.6" rx="3.3" ry="0.8" transform="rotate(-72 2218.8 1186.6)" fill="#e0b888" opacity="0.65"/><ellipse cx="2202.2" cy="1204.2" rx="4.6" ry="1.1" transform="rotate(-52 2202.2 1204.2)" fill="#d2dc9a" opacity="0.65"/><ellipse cx="2193.2" cy="1439.2" rx="3.9" ry="0.8" transform="rotate(-70 2193.2 1439.2)" fill="#dccb78" opacity="0.65"/><ellipse cx="2225.7" cy="1146.3" rx="2.5" ry="1.0" transform="rotate(-74 2225.7 1146.3)" fill="#dccb78" opacity="0.65"/><ellipse cx="2235.1" cy="1438.1" rx="3.8" ry="1.2" transform="rotate(-66 2235.1 1438.1)" fill="#e0b888" opacity="0.65"/><ellipse cx="2204.3" cy="1417.1" rx="2.1" ry="0.7" transform="rotate(-70 2204.3 1417.1)" fill="#e8da8c" opacity="0.65"/><ellipse cx="2205.1" cy="1544.6" rx="2.4" ry="1.0" transform="rotate(-55 2205.1 1544.6)" fill="#dccb78" opacity="0.65"/><ellipse cx="2154.2" cy="1212.0" rx="4.5" ry="0.7" transform="rotate(-51 2154.2 1212.0)" fill="#e8da8c" opacity="0.65"/><ellipse cx="2186.2" cy="1343.2" rx="2.9" ry="1.1" transform="rotate(-60 2186.2 1343.2)" fill="#e0b888" opacity="0.65"/><ellipse cx="2230.2" cy="1417.4" rx="4.1" ry="0.7" transform="rotate(-56 2230.2 1417.4)" fill="#d2dc9a" opacity="0.65"/><ellipse cx="2160.6" cy="1485.4" rx="3.6" ry="0.7" transform="rotate(-74 2160.6 1485.4)" fill="#dccb78" opacity="0.65"/><ellipse cx="2248.0" cy="1329.6" rx="4.4" ry="1.2" transform="rotate(-62 2248.0 1329.6)" fill="#dccb78" opacity="0.65"/><ellipse cx="2218.2" cy="1567.0" rx="3.4" ry="0.8" transform="rotate(-64 2218.2 1567.0)" fill="#d2dc9a" opacity="0.65"/><ellipse cx="2223.7" cy="1155.5" rx="2.5" ry="1.1" transform="rotate(-49 2223.7 1155.5)" fill="#e0b888" opacity="0.65"/><ellipse cx="2230.6" cy="1320.0" rx="2.1" ry="0.7" transform="rotate(-71 2230.6 1320.0)" fill="#e0b888" opacity="0.65"/><ellipse cx="2231.6" cy="1493.1" rx="3.9" ry="0.7" transform="rotate(-52 2231.6 1493.1)" fill="#dccb78" opacity="0.65"/><ellipse cx="2195.8" cy="1486.8" rx="2.9" ry="1.1" transform="rotate(-55 2195.8 1486.8)" fill="#dccb78" opacity="0.65"/><ellipse cx="2190.6" cy="1248.2" rx="3.9" ry="0.8" transform="rotate(-61 2190.6 1248.2)" fill="#d2dc9a" opacity="0.65"/><ellipse cx="2190.1" cy="1401.7" rx="2.6" ry="0.9" transform="rotate(-69 2190.1 1401.7)" fill="#d2dc9a" opacity="0.65"/><ellipse cx="2228.5" cy="1196.4" rx="2.2" ry="0.8" transform="rotate(-65 2228.5 1196.4)" fill="#d2dc9a" opacity="0.65"/><ellipse cx="2177.9" cy="1540.7" rx="4.6" ry="0.7" transform="rotate(-72 2177.9 1540.7)" fill="#d2dc9a" opacity="0.65"/><ellipse cx="2169.3" cy="1267.1" rx="4.7" ry="1.0" transform="rotate(-54 2169.3 1267.1)" fill="#d2dc9a" opacity="0.65"/><ellipse cx="2185.6" cy="1460.3" rx="3.0" ry="1.1" transform="rotate(-57 2185.6 1460.3)" fill="#e6dea0" opacity="0.65"/><ellipse cx="2207.0" cy="1411.0" rx="4.1" ry="0.8" transform="rotate(-75 2207.0 1411.0)" fill="#d2dc9a" opacity="0.65"/><ellipse cx="2173.9" cy="1412.5" rx="2.1" ry="0.8" transform="rotate(-62 2173.9 1412.5)" fill="#dccb78" opacity="0.65"/><ellipse cx="2197.4" cy="1184.7" rx="2.3" ry="0.7" transform="rotate(-57 2197.4 1184.7)" fill="#e0b888" opacity="0.65"/><ellipse cx="2213.4" cy="1434.5" rx="2.9" ry="0.7" transform="rotate(-60 2213.4 1434.5)" fill="#e6dea0" opacity="0.65"/><ellipse cx="2207.7" cy="1457.1" rx="4.7" ry="0.6" transform="rotate(-54 2207.7 1457.1)" fill="#e0b888" opacity="0.65"/><ellipse cx="2194.1" cy="1227.6" rx="2.4" ry="0.8" transform="rotate(-59 2194.1 1227.6)" fill="#e6dea0" opacity="0.65"/><ellipse cx="2177.6" cy="1159.7" rx="2.9" ry="0.9" transform="rotate(-73 2177.6 1159.7)" fill="#e6dea0" opacity="0.65"/><ellipse cx="2228.0" cy="1135.3" rx="4.5" ry="0.7" transform="rotate(-70 2228.0 1135.3)" fill="#e0b888" opacity="0.65"/><ellipse cx="2227.5" cy="1306.8" rx="3.0" ry="0.8" transform="rotate(-69 2227.5 1306.8)" fill="#d2dc9a" opacity="0.65"/><ellipse cx="2228.5" cy="1541.2" rx="3.5" ry="0.7" transform="rotate(-49 2228.5 1541.2)" fill="#e8da8c" opacity="0.65"/><ellipse cx="2197.7" cy="1135.4" rx="3.8" ry="0.9" transform="rotate(-53 2197.7 1135.4)" fill="#e6dea0" opacity="0.65"/><ellipse cx="2157.8" cy="1138.0" rx="2.9" ry="0.7" transform="rotate(-58 2157.8 1138.0)" fill="#e6dea0" opacity="0.65"/><ellipse cx="2199.2" cy="1142.2" rx="2.5" ry="1.1" transform="rotate(-69 2199.2 1142.2)" fill="#e8da8c" opacity="0.65"/><ellipse cx="2173.8" cy="1541.9" rx="2.1" ry="0.9" transform="rotate(-56 2173.8 1541.9)" fill="#dccb78" opacity="0.65"/><ellipse cx="2149.4" cy="1149.3" rx="3.6" ry="0.6" transform="rotate(-62 2149.4 1149.3)" fill="#dccb78" opacity="0.65"/><ellipse cx="2224.2" cy="1218.4" rx="3.5" ry="0.9" transform="rotate(-49 2224.2 1218.4)" fill="#e0b888" opacity="0.65"/><ellipse cx="2191.2" cy="1352.9" rx="3.4" ry="0.7" transform="rotate(-66 2191.2 1352.9)" fill="#e8da8c" opacity="0.65"/><ellipse cx="2243.9" cy="1136.4" rx="4.9" ry="0.7" transform="rotate(-65 2243.9 1136.4)" fill="#d2dc9a" opacity="0.65"/><ellipse cx="2224.3" cy="1378.2" rx="4.8" ry="1.1" transform="rotate(-73 2224.3 1378.2)" fill="#dccb78" opacity="0.65"/><ellipse cx="2222.9" cy="1382.1" rx="2.5" ry="0.6" transform="rotate(-63 2222.9 1382.1)" fill="#dccb78" opacity="0.65"/><ellipse cx="2208.4" cy="1429.2" rx="3.8" ry="0.7" transform="rotate(-46 2208.4 1429.2)" fill="#e6dea0" opacity="0.65"/><ellipse cx="2235.9" cy="1219.2" rx="3.4" ry="0.6" transform="rotate(-71 2235.9 1219.2)" fill="#e8da8c" opacity="0.65"/><ellipse cx="2180.7" cy="1219.5" rx="2.2" ry="1.0" transform="rotate(-49 2180.7 1219.5)" fill="#dccb78" opacity="0.65"/><ellipse cx="2182.0" cy="1519.7" rx="3.0" ry="0.8" transform="rotate(-47 2182.0 1519.7)" fill="#dccb78" opacity="0.65"/><ellipse cx="2245.9" cy="1489.2" rx="4.7" ry="1.2" transform="rotate(-47 2245.9 1489.2)" fill="#dccb78" opacity="0.65"/><ellipse cx="2232.5" cy="1389.1" rx="4.8" ry="0.9" transform="rotate(-46 2232.5 1389.1)" fill="#e6dea0" opacity="0.65"/><ellipse cx="2145.7" cy="1262.7" rx="4.2" ry="0.6" transform="rotate(-56 2145.7 1262.7)" fill="#d2dc9a" opacity="0.65"/><ellipse cx="2206.7" cy="1527.3" rx="2.6" ry="0.7" transform="rotate(-50 2206.7 1527.3)" fill="#dccb78" opacity="0.65"/><ellipse cx="2151.9" cy="1139.0" rx="3.6" ry="0.8" transform="rotate(-45 2151.9 1139.0)" fill="#e8da8c" opacity="0.65"/><ellipse cx="2236.0" cy="1208.7" rx="3.7" ry="1.0" transform="rotate(-73 2236.0 1208.7)" fill="#e0b888" opacity="0.65"/><ellipse cx="2225.1" cy="1331.5" rx="4.2" ry="1.2" transform="rotate(-60 2225.1 1331.5)" fill="#e0b888" opacity="0.65"/><ellipse cx="2223.0" cy="1548.2" rx="3.9" ry="0.9" transform="rotate(-69 2223.0 1548.2)" fill="#e6dea0" opacity="0.65"/><ellipse cx="2237.7" cy="1314.4" rx="3.7" ry="0.6" transform="rotate(-63 2237.7 1314.4)" fill="#dccb78" opacity="0.65"/><ellipse cx="2194.4" cy="1532.4" rx="2.1" ry="1.0" transform="rotate(-71 2194.4 1532.4)" fill="#e8da8c" opacity="0.65"/><ellipse cx="2174.9" cy="1154.0" rx="2.2" ry="0.8" transform="rotate(-57 2174.9 1154.0)" fill="#e0b888" opacity="0.65"/><ellipse cx="2150.4" cy="1147.2" rx="3.7" ry="0.7" transform="rotate(-56 2150.4 1147.2)" fill="#e6dea0" opacity="0.65"/><ellipse cx="2190.1" cy="1540.8" rx="4.0" ry="1.2" transform="rotate(-55 2190.1 1540.8)" fill="#e8da8c" opacity="0.65"/><ellipse cx="2163.8" cy="1323.6" rx="3.5" ry="0.9" transform="rotate(-59 2163.8 1323.6)" fill="#d2dc9a" opacity="0.65"/><ellipse cx="2188.9" cy="1240.4" rx="2.5" ry="1.1" transform="rotate(-66 2188.9 1240.4)" fill="#e6dea0" opacity="0.65"/><ellipse cx="2233.0" cy="1448.8" rx="4.3" ry="1.0" transform="rotate(-52 2233.0 1448.8)" fill="#e0b888" opacity="0.65"/><ellipse cx="2241.5" cy="1149.8" rx="3.9" ry="0.6" transform="rotate(-74 2241.5 1149.8)" fill="#e0b888" opacity="0.65"/><ellipse cx="2190.4" cy="1403.4" rx="3.9" ry="1.1" transform="rotate(-59 2190.4 1403.4)" fill="#e6dea0" opacity="0.65"/><ellipse cx="2140.4" cy="1507.2" rx="3.6" ry="0.7" transform="rotate(-60 2140.4 1507.2)" fill="#dccb78" opacity="0.65"/><ellipse cx="2177.2" cy="1482.8" rx="3.6" ry="1.0" transform="rotate(-67 2177.2 1482.8)" fill="#e6dea0" opacity="0.65"/><ellipse cx="2182.8" cy="1408.1" rx="4.1" ry="1.0" transform="rotate(-57 2182.8 1408.1)" fill="#e0b888" opacity="0.65"/><ellipse cx="2164.2" cy="1377.8" rx="4.7" ry="1.0" transform="rotate(-48 2164.2 1377.8)" fill="#e6dea0" opacity="0.65"/><ellipse cx="2148.0" cy="1472.9" rx="2.2" ry="0.7" transform="rotate(-57 2148.0 1472.9)" fill="#e8da8c" opacity="0.65"/><ellipse cx="2212.0" cy="1136.6" rx="4.9" ry="0.9" transform="rotate(-46 2212.0 1136.6)" fill="#e6dea0" opacity="0.65"/><ellipse cx="2188.3" cy="1177.0" rx="3.9" ry="1.1" transform="rotate(-56 2188.3 1177.0)" fill="#dccb78" opacity="0.65"/><ellipse cx="2178.5" cy="1245.3" rx="2.3" ry="1.1" transform="rotate(-66 2178.5 1245.3)" fill="#e0b888" opacity="0.65"/><ellipse cx="2153.7" cy="1381.1" rx="3.5" ry="0.7" transform="rotate(-61 2153.7 1381.1)" fill="#d2dc9a" opacity="0.65"/><ellipse cx="2194.0" cy="1163.2" rx="3.9" ry="0.7" transform="rotate(-46 2194.0 1163.2)" fill="#e0b888" opacity="0.65"/><ellipse cx="2226.8" cy="1549.0" rx="2.8" ry="1.1" transform="rotate(-57 2226.8 1549.0)" fill="#e0b888" opacity="0.65"/><ellipse cx="2231.0" cy="1183.8" rx="4.8" ry="1.1" transform="rotate(-46 2231.0 1183.8)" fill="#e0b888" opacity="0.65"/><ellipse cx="2193.9" cy="1530.5" rx="4.4" ry="0.7" transform="rotate(-65 2193.9 1530.5)" fill="#e6dea0" opacity="0.65"/><ellipse cx="2237.3" cy="1569.3" rx="3.5" ry="0.7" transform="rotate(-46 2237.3 1569.3)" fill="#dccb78" opacity="0.65"/><ellipse cx="2197.1" cy="1405.9" rx="4.1" ry="0.8" transform="rotate(-67 2197.1 1405.9)" fill="#e0b888" opacity="0.65"/><ellipse cx="2217.6" cy="1215.2" rx="3.6" ry="0.7" transform="rotate(-61 2217.6 1215.2)" fill="#e8da8c" opacity="0.65"/><ellipse cx="2231.4" cy="1545.7" rx="2.1" ry="0.7" transform="rotate(-50 2231.4 1545.7)" fill="#dccb78" opacity="0.65"/><ellipse cx="2182.2" cy="1323.7" rx="3.9" ry="0.9" transform="rotate(-55 2182.2 1323.7)" fill="#e6dea0" opacity="0.65"/><ellipse cx="2237.0" cy="1256.3" rx="4.1" ry="0.7" transform="rotate(-58 2237.0 1256.3)" fill="#e8da8c" opacity="0.65"/><ellipse cx="2148.4" cy="1496.4" rx="2.4" ry="0.7" transform="rotate(-67 2148.4 1496.4)" fill="#d2dc9a" opacity="0.65"/><ellipse cx="2225.2" cy="1211.5" rx="2.9" ry="1.0" transform="rotate(-67 2225.2 1211.5)" fill="#e6dea0" opacity="0.65"/><ellipse cx="2184.7" cy="1412.9" rx="4.4" ry="0.7" transform="rotate(-56 2184.7 1412.9)" fill="#dccb78" opacity="0.65"/><ellipse cx="2245.4" cy="1515.7" rx="2.8" ry="1.2" transform="rotate(-46 2245.4 1515.7)" fill="#e6dea0" opacity="0.65"/><ellipse cx="2218.6" cy="1184.7" rx="2.8" ry="0.9" transform="rotate(-51 2218.6 1184.7)" fill="#e8da8c" opacity="0.65"/><ellipse cx="2189.8" cy="1475.9" rx="4.7" ry="1.1" transform="rotate(-47 2189.8 1475.9)" fill="#dccb78" opacity="0.65"/><ellipse cx="2233.9" cy="1437.2" rx="4.2" ry="1.1" transform="rotate(-60 2233.9 1437.2)" fill="#e8da8c" opacity="0.65"/><ellipse cx="2197.6" cy="1161.4" rx="4.9" ry="0.7" transform="rotate(-65 2197.6 1161.4)" fill="#d2dc9a" opacity="0.65"/><ellipse cx="2191.7" cy="1425.6" rx="4.7" ry="0.7" transform="rotate(-72 2191.7 1425.6)" fill="#e0b888" opacity="0.65"/><ellipse cx="2194.2" cy="1203.7" rx="2.7" ry="1.1" transform="rotate(-69 2194.2 1203.7)" fill="#e6dea0" opacity="0.65"/><ellipse cx="2145.9" cy="1458.6" rx="3.4" ry="1.1" transform="rotate(-62 2145.9 1458.6)" fill="#d2dc9a" opacity="0.65"/><ellipse cx="2244.5" cy="1377.9" rx="4.8" ry="0.8" transform="rotate(-57 2244.5 1377.9)" fill="#d2dc9a" opacity="0.65"/><ellipse cx="2231.1" cy="1528.2" rx="2.2" ry="0.7" transform="rotate(-68 2231.1 1528.2)" fill="#e8da8c" opacity="0.65"/><ellipse cx="2159.1" cy="1534.3" rx="4.8" ry="0.7" transform="rotate(-51 2159.1 1534.3)" fill="#e8da8c" opacity="0.65"/><ellipse cx="2243.3" cy="1376.9" rx="4.3" ry="1.0" transform="rotate(-70 2243.3 1376.9)" fill="#e6dea0" opacity="0.65"/><ellipse cx="2222.2" cy="1303.7" rx="3.6" ry="1.0" transform="rotate(-69 2222.2 1303.7)" fill="#e6dea0" opacity="0.65"/><ellipse cx="2177.6" cy="1198.0" rx="3.6" ry="1.2" transform="rotate(-73 2177.6 1198.0)" fill="#dccb78" opacity="0.65"/><ellipse cx="2204.1" cy="1517.7" rx="3.5" ry="1.0" transform="rotate(-71 2204.1 1517.7)" fill="#dccb78" opacity="0.65"/><ellipse cx="2222.3" cy="1144.7" rx="4.0" ry="0.6" transform="rotate(-72 2222.3 1144.7)" fill="#e8da8c" opacity="0.65"/><ellipse cx="2194.5" cy="1248.7" rx="2.4" ry="0.6" transform="rotate(-74 2194.5 1248.7)" fill="#e0b888" opacity="0.65"/><ellipse cx="2217.0" cy="1568.6" rx="4.5" ry="1.0" transform="rotate(-48 2217.0 1568.6)" fill="#e0b888" opacity="0.65"/><ellipse cx="2185.4" cy="1398.1" rx="4.7" ry="1.1" transform="rotate(-49 2185.4 1398.1)" fill="#e6dea0" opacity="0.65"/><ellipse cx="2250.0" cy="1452.8" rx="3.6" ry="0.8" transform="rotate(-53 2250.0 1452.8)" fill="#e6dea0" opacity="0.65"/><ellipse cx="2188.5" cy="1290.1" rx="2.2" ry="1.1" transform="rotate(-48 2188.5 1290.1)" fill="#e6dea0" opacity="0.65"/><ellipse cx="2177.6" cy="1226.6" rx="4.0" ry="0.6" transform="rotate(-48 2177.6 1226.6)" fill="#e6dea0" opacity="0.65"/><ellipse cx="2190.3" cy="1336.0" rx="2.8" ry="1.1" transform="rotate(-55 2190.3 1336.0)" fill="#dccb78" opacity="0.65"/><ellipse cx="2192.1" cy="1535.8" rx="4.7" ry="1.1" transform="rotate(-66 2192.1 1535.8)" fill="#d2dc9a" opacity="0.65"/><ellipse cx="2193.0" cy="1383.2" rx="3.9" ry="0.7" transform="rotate(-55 2193.0 1383.2)" fill="#e8da8c" opacity="0.65"/><ellipse cx="2225.9" cy="1349.4" rx="4.0" ry="0.8" transform="rotate(-58 2225.9 1349.4)" fill="#d2dc9a" opacity="0.65"/><ellipse cx="2144.7" cy="1371.2" rx="2.9" ry="1.0" transform="rotate(-56 2144.7 1371.2)" fill="#e0b888" opacity="0.65"/><ellipse cx="2246.1" cy="1270.1" rx="3.2" ry="1.1" transform="rotate(-48 2246.1 1270.1)" fill="#e8da8c" opacity="0.65"/><ellipse cx="2209.9" cy="1330.6" rx="3.6" ry="0.7" transform="rotate(-61 2209.9 1330.6)" fill="#dccb78" opacity="0.65"/><ellipse cx="2249.5" cy="1299.5" rx="4.0" ry="0.7" transform="rotate(-46 2249.5 1299.5)" fill="#e8da8c" opacity="0.65"/><ellipse cx="2225.6" cy="1458.5" rx="2.1" ry="0.7" transform="rotate(-46 2225.6 1458.5)" fill="#e0b888" opacity="0.65"/><ellipse cx="2188.2" cy="1486.4" rx="4.4" ry="1.0" transform="rotate(-71 2188.2 1486.4)" fill="#e6dea0" opacity="0.65"/><ellipse cx="2178.4" cy="1230.1" rx="4.0" ry="1.1" transform="rotate(-55 2178.4 1230.1)" fill="#dccb78" opacity="0.65"/><ellipse cx="2194.3" cy="1562.8" rx="2.6" ry="0.9" transform="rotate(-65 2194.3 1562.8)" fill="#e8da8c" opacity="0.65"/><ellipse cx="2199.8" cy="1363.3" rx="4.5" ry="0.8" transform="rotate(-74 2199.8 1363.3)" fill="#e8da8c" opacity="0.65"/><ellipse cx="2193.9" cy="1152.5" rx="2.2" ry="1.2" transform="rotate(-56 2193.9 1152.5)" fill="#d2dc9a" opacity="0.65"/><ellipse cx="2244.2" cy="1158.4" rx="4.8" ry="0.9" transform="rotate(-63 2244.2 1158.4)" fill="#d2dc9a" opacity="0.65"/><ellipse cx="2218.6" cy="1240.7" rx="3.4" ry="1.2" transform="rotate(-61 2218.6 1240.7)" fill="#e6dea0" opacity="0.65"/><ellipse cx="2197.6" cy="1449.7" rx="2.7" ry="0.6" transform="rotate(-66 2197.6 1449.7)" fill="#dccb78" opacity="0.65"/><ellipse cx="2169.0" cy="1237.2" rx="2.2" ry="1.0" transform="rotate(-70 2169.0 1237.2)" fill="#d2dc9a" opacity="0.65"/><ellipse cx="2242.0" cy="1396.0" rx="4.7" ry="0.7" transform="rotate(-61 2242.0 1396.0)" fill="#e6dea0" opacity="0.65"/><ellipse cx="2168.5" cy="1432.1" rx="2.7" ry="0.9" transform="rotate(-62 2168.5 1432.1)" fill="#e8da8c" opacity="0.65"/><ellipse cx="2208.6" cy="1422.5" rx="3.7" ry="1.2" transform="rotate(-58 2208.6 1422.5)" fill="#e8da8c" opacity="0.65"/><ellipse cx="2228.5" cy="1487.3" rx="4.3" ry="0.6" transform="rotate(-60 2228.5 1487.3)" fill="#e6dea0" opacity="0.65"/><ellipse cx="2219.5" cy="1373.9" rx="2.0" ry="0.9" transform="rotate(-46 2219.5 1373.9)" fill="#e6dea0" opacity="0.65"/><ellipse cx="2233.5" cy="1413.7" rx="3.5" ry="1.1" transform="rotate(-47 2233.5 1413.7)" fill="#e0b888" opacity="0.65"/><ellipse cx="2225.0" cy="1421.9" rx="2.3" ry="0.9" transform="rotate(-58 2225.0 1421.9)" fill="#e8da8c" opacity="0.65"/><ellipse cx="2222.1" cy="1414.6" rx="2.9" ry="0.8" transform="rotate(-71 2222.1 1414.6)" fill="#e6dea0" opacity="0.65"/><ellipse cx="2232.9" cy="1459.6" rx="2.7" ry="1.1" transform="rotate(-56 2232.9 1459.6)" fill="#e0b888" opacity="0.65"/><ellipse cx="2156.5" cy="1334.4" rx="2.2" ry="1.0" transform="rotate(-53 2156.5 1334.4)" fill="#dccb78" opacity="0.65"/><ellipse cx="2192.6" cy="1218.3" rx="3.3" ry="0.6" transform="rotate(-45 2192.6 1218.3)" fill="#e6dea0" opacity="0.65"/><ellipse cx="2155.0" cy="1225.6" rx="3.9" ry="1.2" transform="rotate(-74 2155.0 1225.6)" fill="#d2dc9a" opacity="0.65"/><ellipse cx="2164.6" cy="1511.0" rx="4.6" ry="1.2" transform="rotate(-74 2164.6 1511.0)" fill="#dccb78" opacity="0.65"/><ellipse cx="2242.5" cy="1521.6" rx="2.3" ry="0.9" transform="rotate(-52 2242.5 1521.6)" fill="#e0b888" opacity="0.65"/><ellipse cx="2228.0" cy="1456.7" rx="4.2" ry="1.0" transform="rotate(-55 2228.0 1456.7)" fill="#dccb78" opacity="0.65"/><ellipse cx="2194.0" cy="1182.0" rx="4.9" ry="0.9" transform="rotate(-74 2194.0 1182.0)" fill="#dccb78" opacity="0.65"/><ellipse cx="2239.7" cy="1362.6" rx="4.4" ry="1.1" transform="rotate(-65 2239.7 1362.6)" fill="#e6dea0" opacity="0.65"/><ellipse cx="2149.0" cy="1461.8" rx="2.8" ry="1.1" transform="rotate(-60 2149.0 1461.8)" fill="#e0b888" opacity="0.65"/><ellipse cx="2244.0" cy="1249.3" rx="3.9" ry="0.7" transform="rotate(-56 2244.0 1249.3)" fill="#e8da8c" opacity="0.65"/><ellipse cx="2206.7" cy="1394.5" rx="3.4" ry="0.7" transform="rotate(-45 2206.7 1394.5)" fill="#e0b888" opacity="0.65"/><ellipse cx="2247.9" cy="1148.6" rx="2.1" ry="0.8" transform="rotate(-53 2247.9 1148.6)" fill="#e8da8c" opacity="0.65"/><ellipse cx="2245.5" cy="1202.3" rx="3.6" ry="0.7" transform="rotate(-65 2245.5 1202.3)" fill="#e0b888" opacity="0.65"/><ellipse cx="2212.4" cy="1293.2" rx="2.8" ry="0.7" transform="rotate(-65 2212.4 1293.2)" fill="#d2dc9a" opacity="0.65"/><ellipse cx="2222.9" cy="1361.7" rx="3.0" ry="1.0" transform="rotate(-47 2222.9 1361.7)" fill="#e6dea0" opacity="0.65"/><ellipse cx="2220.1" cy="1528.7" rx="3.6" ry="1.1" transform="rotate(-66 2220.1 1528.7)" fill="#dccb78" opacity="0.65"/><ellipse cx="2231.3" cy="1214.4" rx="4.8" ry="1.1" transform="rotate(-45 2231.3 1214.4)" fill="#e0b888" opacity="0.65"/><ellipse cx="2182.1" cy="1470.0" rx="2.7" ry="0.6" transform="rotate(-67 2182.1 1470.0)" fill="#dccb78" opacity="0.65"/><ellipse cx="2233.5" cy="1474.7" rx="2.2" ry="0.9" transform="rotate(-51 2233.5 1474.7)" fill="#e0b888" opacity="0.65"/><ellipse cx="2145.1" cy="1230.8" rx="5.0" ry="0.9" transform="rotate(-48 2145.1 1230.8)" fill="#dccb78" opacity="0.65"/><ellipse cx="2227.0" cy="1173.3" rx="4.9" ry="0.7" transform="rotate(-54 2227.0 1173.3)" fill="#d2dc9a" opacity="0.65"/><ellipse cx="2225.1" cy="1344.8" rx="3.0" ry="1.1" transform="rotate(-66 2225.1 1344.8)" fill="#dccb78" opacity="0.65"/><ellipse cx="2148.1" cy="1316.8" rx="3.8" ry="0.6" transform="rotate(-63 2148.1 1316.8)" fill="#e6dea0" opacity="0.65"/><ellipse cx="2208.6" cy="1335.8" rx="2.1" ry="0.8" transform="rotate(-66 2208.6 1335.8)" fill="#d2dc9a" opacity="0.65"/><ellipse cx="2178.4" cy="1468.3" rx="3.9" ry="0.8" transform="rotate(-54 2178.4 1468.3)" fill="#e0b888" opacity="0.65"/><ellipse cx="2195.8" cy="1162.6" rx="2.1" ry="0.6" transform="rotate(-67 2195.8 1162.6)" fill="#e8da8c" opacity="0.65"/><ellipse cx="2193.4" cy="1525.0" rx="4.6" ry="0.7" transform="rotate(-68 2193.4 1525.0)" fill="#d2dc9a" opacity="0.65"/><ellipse cx="2198.5" cy="1322.9" rx="3.7" ry="1.0" transform="rotate(-69 2198.5 1322.9)" fill="#e6dea0" opacity="0.65"/><ellipse cx="2175.0" cy="1556.5" rx="3.8" ry="1.0" transform="rotate(-69 2175.0 1556.5)" fill="#e6dea0" opacity="0.65"/><ellipse cx="2159.6" cy="1202.3" rx="2.1" ry="0.7" transform="rotate(-52 2159.6 1202.3)" fill="#e6dea0" opacity="0.65"/><ellipse cx="2185.9" cy="1332.3" rx="2.4" ry="0.7" transform="rotate(-45 2185.9 1332.3)" fill="#e8da8c" opacity="0.65"/><ellipse cx="2231.5" cy="1243.2" rx="2.3" ry="1.0" transform="rotate(-53 2231.5 1243.2)" fill="#e6dea0" opacity="0.65"/><ellipse cx="2146.7" cy="1434.1" rx="4.8" ry="0.7" transform="rotate(-72 2146.7 1434.1)" fill="#e0b888" opacity="0.65"/><ellipse cx="2200.8" cy="1306.6" rx="4.4" ry="1.2" transform="rotate(-67 2200.8 1306.6)" fill="#e8da8c" opacity="0.65"/><ellipse cx="2189.9" cy="1545.0" rx="2.5" ry="1.0" transform="rotate(-63 2189.9 1545.0)" fill="#d2dc9a" opacity="0.65"/><ellipse cx="2210.6" cy="1198.6" rx="2.5" ry="1.1" transform="rotate(-48 2210.6 1198.6)" fill="#d2dc9a" opacity="0.65"/><ellipse cx="2203.4" cy="1382.8" rx="3.9" ry="0.7" transform="rotate(-69 2203.4 1382.8)" fill="#e0b888" opacity="0.65"/><ellipse cx="2183.0" cy="1359.8" rx="4.9" ry="0.6" transform="rotate(-61 2183.0 1359.8)" fill="#e6dea0" opacity="0.65"/><circle cx="2140.6" cy="1341.5" r="0.7" fill="#a8dcc4"/><circle cx="2176.7" cy="1256.6" r="0.7" fill="#6cc898"/><circle cx="2212.7" cy="1400.7" r="0.6" fill="#b0e0d0"/><circle cx="2216.3" cy="1165.2" r="0.8" fill="#d8e4a0"/><circle cx="2227.2" cy="1161.1" r="0.8" fill="#e0d890"/><circle cx="2233.7" cy="1305.8" r="0.7" fill="#b0e0d0"/><circle cx="2174.8" cy="1378.9" r="0.6" fill="#d8e4a0"/><circle cx="2201.4" cy="1191.8" r="1.0" fill="#d8e4a0"/><circle cx="2239.0" cy="1540.0" r="1.0" fill="#e0d890"/><circle cx="2147.5" cy="1224.4" r="0.8" fill="#6cc898"/><circle cx="2182.6" cy="1318.9" r="0.5" fill="#6cc898"/><circle cx="2235.4" cy="1347.0" r="0.5" fill="#6cc898"/><circle cx="2146.9" cy="1207.4" r="1.0" fill="#6cc898"/><circle cx="2228.0" cy="1234.6" r="1.0" fill="#b0e0d0"/><circle cx="2192.9" cy="1207.5" r="1.0" fill="#6cc898"/><circle cx="2202.1" cy="1166.0" r="0.7" fill="#e0d890"/><circle cx="2161.1" cy="1346.9" r="1.0" fill="#8ad4ac"/><circle cx="2230.7" cy="1441.7" r="0.7" fill="#8ad4ac"/><circle cx="2247.1" cy="1204.6" r="0.9" fill="#a8dcc4"/><circle cx="2210.8" cy="1409.0" r="0.6" fill="#a8dcc4"/><circle cx="2200.0" cy="1534.5" r="0.7" fill="#b0e0d0"/><circle cx="2144.9" cy="1382.5" r="0.5" fill="#8ad4ac"/><circle cx="2207.7" cy="1253.4" r="0.8" fill="#6cc898"/><circle cx="2208.9" cy="1342.7" r="1.0" fill="#6cc898"/><circle cx="2234.0" cy="1237.5" r="0.4" fill="#e0d890"/><circle cx="2246.4" cy="1243.1" r="0.7" fill="#a8dcc4"/><circle cx="2179.5" cy="1178.8" r="0.6" fill="#a8dcc4"/><circle cx="2168.5" cy="1212.6" r="0.8" fill="#d8e4a0"/><circle cx="2219.4" cy="1464.8" r="0.6" fill="#e0d890"/><circle cx="2143.6" cy="1272.4" r="0.8" fill="#a8dcc4"/><circle cx="2162.8" cy="1334.0" r="0.4" fill="#a8dcc4"/><circle cx="2181.0" cy="1192.6" r="0.9" fill="#b0e0d0"/><circle cx="2224.0" cy="1233.5" r="0.7" fill="#d8e4a0"/><circle cx="2225.4" cy="1275.6" r="0.8" fill="#6cc898"/><circle cx="2243.0" cy="1192.6" r="0.7" fill="#b0e0d0"/><circle cx="2247.7" cy="1271.1" r="0.4" fill="#e0d890"/><circle cx="2172.4" cy="1425.1" r="0.5" fill="#e0d890"/><circle cx="2164.4" cy="1333.8" r="0.9" fill="#d8e4a0"/><circle cx="2206.3" cy="1183.6" r="0.7" fill="#d8e4a0"/><circle cx="2221.7" cy="1505.3" r="0.7" fill="#6cc898"/><circle cx="2160.7" cy="1171.5" r="0.5" fill="#b0e0d0"/><circle cx="2221.3" cy="1172.3" r="0.9" fill="#8ad4ac"/><circle cx="2139.7" cy="1354.1" r="0.6" fill="#8ad4ac"/><circle cx="2209.9" cy="1177.4" r="0.5" fill="#e0d890"/><circle cx="2206.9" cy="1269.6" r="0.8" fill="#6cc898"/><circle cx="2188.2" cy="1150.3" r="0.9" fill="#b0e0d0"/><circle cx="2238.0" cy="1405.9" r="0.8" fill="#d8e4a0"/><circle cx="2237.2" cy="1232.3" r="0.5" fill="#6cc898"/><circle cx="2179.7" cy="1194.7" r="0.7" fill="#6cc898"/><circle cx="2152.0" cy="1378.5" r="0.6" fill="#6cc898"/><circle cx="2215.0" cy="1496.8" r="0.9" fill="#b0e0d0"/><circle cx="2241.8" cy="1295.7" r="0.5" fill="#8ad4ac"/><circle cx="2189.3" cy="1170.9" r="0.8" fill="#e0d890"/><circle cx="2246.7" cy="1567.0" r="0.7" fill="#6cc898"/><circle cx="2138.7" cy="1168.6" r="0.5" fill="#b0e0d0"/><circle cx="2140.9" cy="1494.4" r="0.6" fill="#8ad4ac"/><circle cx="2251.0" cy="1458.8" r="0.7" fill="#e0d890"/><circle cx="2230.5" cy="1391.1" r="0.6" fill="#8ad4ac"/><circle cx="2228.2" cy="1547.3" r="0.8" fill="#b0e0d0"/><circle cx="2145.6" cy="1369.4" r="0.7" fill="#6cc898"/><circle cx="2245.8" cy="1510.1" r="0.6" fill="#d8e4a0"/><circle cx="2242.2" cy="1455.4" r="0.6" fill="#8ad4ac"/><circle cx="2147.9" cy="1394.7" r="0.7" fill="#8ad4ac"/><circle cx="2186.0" cy="1259.3" r="0.8" fill="#b0e0d0"/><circle cx="2167.8" cy="1530.6" r="0.4" fill="#8ad4ac"/><circle cx="2226.4" cy="1542.3" r="0.7" fill="#6cc898"/><circle cx="2225.6" cy="1285.3" r="1.0" fill="#b0e0d0"/><circle cx="2204.1" cy="1318.3" r="0.9" fill="#8ad4ac"/><circle cx="2150.5" cy="1514.1" r="0.8" fill="#e0d890"/><circle cx="2205.6" cy="1324.7" r="0.6" fill="#d8e4a0"/><circle cx="2153.2" cy="1289.2" r="0.9" fill="#e0d890"/><circle cx="2150.5" cy="1314.0" r="0.9" fill="#8ad4ac"/><circle cx="2142.0" cy="1284.1" r="0.8" fill="#6cc898"/><circle cx="2158.5" cy="1323.8" r="0.9" fill="#a8dcc4"/><circle cx="2173.0" cy="1346.2" r="0.9" fill="#6cc898"/><circle cx="2154.2" cy="1449.9" r="0.6" fill="#b0e0d0"/><circle cx="2174.7" cy="1550.5" r="0.7" fill="#e0d890"/><circle cx="2170.8" cy="1466.1" r="0.6" fill="#a8dcc4"/><circle cx="2154.3" cy="1194.4" r="0.7" fill="#b0e0d0"/><circle cx="2247.7" cy="1157.9" r="0.5" fill="#6cc898"/><circle cx="2199.2" cy="1413.8" r="0.8" fill="#e0d890"/><circle cx="2234.4" cy="1144.0" r="0.9" fill="#d8e4a0"/><circle cx="2190.1" cy="1149.2" r="0.9" fill="#b0e0d0"/><circle cx="2158.4" cy="1211.8" r="0.5" fill="#8ad4ac"/><circle cx="2178.2" cy="1466.7" r="0.9" fill="#8ad4ac"/><circle cx="2189.7" cy="1327.6" r="0.7" fill="#e0d890"/><circle cx="2231.4" cy="1301.2" r="0.7" fill="#8ad4ac"/><circle cx="2160.8" cy="1318.1" r="0.8" fill="#b0e0d0"/><circle cx="2145.4" cy="1450.1" r="0.7" fill="#a8dcc4"/><circle cx="2242.6" cy="1408.7" r="0.9" fill="#a8dcc4"/><circle cx="2166.2" cy="1533.0" r="1.0" fill="#6cc898"/><circle cx="2230.2" cy="1419.0" r="0.6" fill="#6cc898"/><circle cx="2162.6" cy="1180.5" r="1.0" fill="#e0d890"/><circle cx="2172.5" cy="1503.8" r="0.9" fill="#6cc898"/><circle cx="2244.6" cy="1374.2" r="0.7" fill="#e0d890"/><circle cx="2167.2" cy="1238.1" r="0.5" fill="#b0e0d0"/><circle cx="2245.4" cy="1421.3" r="0.8" fill="#6cc898"/><circle cx="2142.8" cy="1501.3" r="0.9" fill="#6cc898"/><circle cx="2236.1" cy="1196.4" r="1.0" fill="#8ad4ac"/><circle cx="2235.0" cy="1485.4" r="1.0" fill="#b0e0d0"/><circle cx="2232.9" cy="1242.4" r="0.9" fill="#8ad4ac"/><circle cx="2191.1" cy="1329.1" r="0.7" fill="#a8dcc4"/><circle cx="2245.4" cy="1481.7" r="0.5" fill="#d8e4a0"/><circle cx="2171.0" cy="1395.2" r="0.9" fill="#b0e0d0"/><circle cx="2206.0" cy="1219.7" r="1.0" fill="#d8e4a0"/><circle cx="2180.0" cy="1158.6" r="0.7" fill="#b0e0d0"/><circle cx="2163.5" cy="1505.0" r="0.8" fill="#d8e4a0"/><circle cx="2178.5" cy="1156.4" r="0.5" fill="#a8dcc4"/><circle cx="2195.5" cy="1181.1" r="0.7" fill="#6cc898"/><circle cx="2172.3" cy="1269.6" r="0.9" fill="#6cc898"/><circle cx="2186.5" cy="1349.9" r="0.6" fill="#8ad4ac"/><circle cx="2216.7" cy="1341.3" r="0.7" fill="#8ad4ac"/><circle cx="2169.5" cy="1152.9" r="0.5" fill="#6cc898"/><circle cx="2151.4" cy="1375.2" r="0.5" fill="#d8e4a0"/><circle cx="2168.4" cy="1411.3" r="0.9" fill="#a8dcc4"/><circle cx="2163.1" cy="1489.0" r="0.9" fill="#b0e0d0"/><circle cx="2160.5" cy="1354.1" r="0.7" fill="#b0e0d0"/><circle cx="2153.1" cy="1485.8" r="0.6" fill="#e0d890"/><circle cx="2187.0" cy="1173.7" r="0.7" fill="#b0e0d0"/><circle cx="2142.3" cy="1555.3" r="0.4" fill="#8ad4ac"/><circle cx="2167.5" cy="1570.0" r="0.4" fill="#a8dcc4"/><circle cx="2143.3" cy="1559.2" r="0.5" fill="#e0d890"/><circle cx="2177.5" cy="1475.1" r="0.8" fill="#a8dcc4"/><circle cx="2152.1" cy="1164.9" r="0.5" fill="#a8dcc4"/><circle cx="2216.3" cy="1484.1" r="0.6" fill="#8ad4ac"/><circle cx="2186.9" cy="1346.2" r="0.8" fill="#6cc898"/><circle cx="2199.1" cy="1437.5" r="0.6" fill="#b0e0d0"/><circle cx="2150.2" cy="1379.2" r="0.9" fill="#b0e0d0"/><circle cx="2237.3" cy="1220.0" r="0.4" fill="#a8dcc4"/><circle cx="2221.6" cy="1467.5" r="0.9" fill="#8ad4ac"/><circle cx="2217.6" cy="1325.2" r="0.9" fill="#b0e0d0"/><circle cx="2169.4" cy="1547.4" r="0.7" fill="#b0e0d0"/><circle cx="2231.8" cy="1327.9" r="0.8" fill="#e0d890"/><circle cx="2138.5" cy="1502.3" r="0.8" fill="#a8dcc4"/><circle cx="2194.5" cy="1426.3" r="0.8" fill="#8ad4ac"/><circle cx="2186.7" cy="1150.2" r="0.6" fill="#6cc898"/><circle cx="2189.2" cy="1324.5" r="0.5" fill="#8ad4ac"/><circle cx="2219.8" cy="1218.5" r="0.9" fill="#b0e0d0"/><circle cx="2167.2" cy="1360.7" r="0.9" fill="#b0e0d0"/><circle cx="2236.9" cy="1395.5" r="0.8" fill="#8ad4ac"/><circle cx="2150.4" cy="1200.5" r="0.9" fill="#a8dcc4"/><circle cx="2231.9" cy="1238.2" r="0.6" fill="#b0e0d0"/><circle cx="2224.1" cy="1259.9" r="0.8" fill="#e0d890"/><circle cx="2153.0" cy="1327.6" r="0.4" fill="#b0e0d0"/><circle cx="2171.7" cy="1518.6" r="0.8" fill="#a8dcc4"/><circle cx="2243.0" cy="1260.0" r="1.0" fill="#d8e4a0"/><circle cx="2161.9" cy="1428.0" r="0.6" fill="#8ad4ac"/><circle cx="2191.1" cy="1462.1" r="0.7" fill="#6cc898"/><circle cx="2198.8" cy="1535.3" r="0.5" fill="#b0e0d0"/><circle cx="2154.3" cy="1196.6" r="0.5" fill="#b0e0d0"/><circle cx="2243.8" cy="1359.0" r="0.7" fill="#a8dcc4"/><circle cx="2224.5" cy="1206.0" r="0.6" fill="#b0e0d0"/><circle cx="2244.6" cy="1402.2" r="0.4" fill="#b0e0d0"/><circle cx="2242.8" cy="1165.9" r="0.7" fill="#d8e4a0"/><circle cx="2178.6" cy="1407.8" r="0.7" fill="#a8dcc4"/><circle cx="2219.2" cy="1158.5" r="0.8" fill="#e0d890"/><circle cx="2217.8" cy="1188.5" r="0.6" fill="#d8e4a0"/><circle cx="2231.6" cy="1569.3" r="0.7" fill="#d8e4a0"/><circle cx="2191.7" cy="1342.2" r="0.7" fill="#b0e0d0"/><circle cx="2222.1" cy="1459.3" r="0.7" fill="#e0d890"/><circle cx="2156.8" cy="1313.3" r="0.7" fill="#b0e0d0"/><circle cx="2147.6" cy="1266.9" r="0.8" fill="#a8dcc4"/><circle cx="2169.7" cy="1297.0" r="0.6" fill="#b0e0d0"/><circle cx="2234.9" cy="1498.4" r="0.8" fill="#e0d890"/><circle cx="2187.9" cy="1464.1" r="0.8" fill="#a8dcc4"/><circle cx="2171.0" cy="1342.9" r="0.8" fill="#e0d890"/><circle cx="2153.5" cy="1305.8" r="0.4" fill="#a8dcc4"/><circle cx="2177.4" cy="1335.0" r="0.9" fill="#8ad4ac"/><circle cx="2214.7" cy="1165.8" r="0.6" fill="#e0d890"/><circle cx="2179.8" cy="1171.7" r="0.6" fill="#6cc898"/><circle cx="2184.6" cy="1183.9" r="0.6" fill="#a8dcc4"/><circle cx="2226.9" cy="1212.2" r="0.5" fill="#6cc898"/><circle cx="2220.3" cy="1510.3" r="0.9" fill="#e0d890"/><circle cx="2226.7" cy="1455.0" r="0.5" fill="#6cc898"/><circle cx="2138.7" cy="1260.7" r="0.9" fill="#6cc898"/><circle cx="2188.6" cy="1224.1" r="0.9" fill="#8ad4ac"/><circle cx="2206.5" cy="1199.3" r="0.9" fill="#e0d890"/><circle cx="2243.1" cy="1177.5" r="0.7" fill="#b0e0d0"/><circle cx="2209.4" cy="1319.1" r="0.8" fill="#6cc898"/><circle cx="2221.9" cy="1338.0" r="0.8" fill="#d8e4a0"/><circle cx="2183.1" cy="1131.6" r="0.6" fill="#6cc898"/><circle cx="2176.8" cy="1570.7" r="0.4" fill="#b0e0d0"/><circle cx="2215.1" cy="1196.8" r="0.5" fill="#8ad4ac"/><circle cx="2144.8" cy="1287.6" r="0.8" fill="#b0e0d0"/><circle cx="2140.5" cy="1270.8" r="0.8" fill="#a8dcc4"/><circle cx="2149.4" cy="1348.6" r="0.4" fill="#d8e4a0"/><circle cx="2197.6" cy="1512.1" r="0.6" fill="#6cc898"/><circle cx="2209.8" cy="1266.7" r="0.6" fill="#e0d890"/><circle cx="2175.1" cy="1261.9" r="0.6" fill="#e0d890"/><circle cx="2237.5" cy="1215.0" r="0.6" fill="#8ad4ac"/><circle cx="2149.4" cy="1450.4" r="0.6" fill="#8ad4ac"/><circle cx="2212.8" cy="1165.2" r="0.9" fill="#e0d890"/><circle cx="2203.7" cy="1204.2" r="0.6" fill="#6cc898"/><circle cx="2222.2" cy="1497.9" r="0.4" fill="#a8dcc4"/><circle cx="2168.4" cy="1300.8" r="1.0" fill="#e0d890"/><circle cx="2230.3" cy="1391.2" r="0.7" fill="#d8e4a0"/><circle cx="2157.5" cy="1134.6" r="0.8" fill="#8ad4ac"/><circle cx="2226.7" cy="1434.6" r="0.4" fill="#6cc898"/><circle cx="2191.6" cy="1562.0" r="0.8" fill="#e0d890"/><circle cx="2219.3" cy="1294.3" r="0.9" fill="#b0e0d0"/><circle cx="2243.2" cy="1235.3" r="0.9" fill="#b0e0d0"/><circle cx="2164.7" cy="1309.3" r="0.5" fill="#e0d890"/><circle cx="2225.0" cy="1330.4" r="1.0" fill="#8ad4ac"/><circle cx="2249.1" cy="1295.2" r="0.6" fill="#8ad4ac"/><circle cx="2240.1" cy="1450.8" r="0.7" fill="#b0e0d0"/><circle cx="2194.0" cy="1518.8" r="1.0" fill="#d8e4a0"/><circle cx="2234.2" cy="1423.7" r="0.7" fill="#6cc898"/><circle cx="2138.9" cy="1410.5" r="0.6" fill="#e0d890"/><circle cx="2215.5" cy="1232.2" r="0.5" fill="#a8dcc4"/><circle cx="2205.0" cy="1347.3" r="1.0" fill="#a8dcc4"/><circle cx="2185.8" cy="1540.8" r="0.8" fill="#e0d890"/><circle cx="2217.0" cy="1391.9" r="0.8" fill="#6cc898"/><circle cx="2167.6" cy="1409.9" r="0.8" fill="#8ad4ac"/><circle cx="2142.7" cy="1468.3" r="0.6" fill="#6cc898"/><circle cx="2236.0" cy="1192.1" r="0.7" fill="#8ad4ac"/><circle cx="2150.4" cy="1530.8" r="0.5" fill="#b0e0d0"/><circle cx="2139.5" cy="1230.7" r="0.8" fill="#8ad4ac"/><circle cx="2140.6" cy="1215.8" r="0.9" fill="#d8e4a0"/><circle cx="2224.1" cy="1286.9" r="0.4" fill="#8ad4ac"/><circle cx="2217.7" cy="1429.8" r="0.5" fill="#a8dcc4"/><circle cx="2142.2" cy="1443.2" r="0.8" fill="#e0d890"/><circle cx="2169.1" cy="1256.9" r="0.4" fill="#8ad4ac"/><circle cx="2147.2" cy="1211.4" r="0.6" fill="#e0d890"/><circle cx="2249.0" cy="1203.1" r="0.7" fill="#6cc898"/><circle cx="2161.1" cy="1394.3" r="0.8" fill="#d8e4a0"/><circle cx="2244.2" cy="1132.2" r="0.7" fill="#8ad4ac"/><circle cx="2233.7" cy="1550.5" r="0.8" fill="#d8e4a0"/><circle cx="2142.7" cy="1348.7" r="0.5" fill="#e0d890"/><circle cx="2174.9" cy="1428.7" r="0.6" fill="#6cc898"/><circle cx="2167.3" cy="1268.0" r="0.5" fill="#d8e4a0"/><circle cx="2164.1" cy="1331.4" r="0.7" fill="#8ad4ac"/><circle cx="2162.4" cy="1211.1" r="0.9" fill="#a8dcc4"/><circle cx="2151.7" cy="1565.9" r="0.6" fill="#8ad4ac"/><circle cx="2231.8" cy="1430.6" r="0.9" fill="#8ad4ac"/><circle cx="2209.1" cy="1445.7" r="1.0" fill="#a8dcc4"/><circle cx="2230.0" cy="1452.0" r="0.5" fill="#a8dcc4"/><circle cx="2182.8" cy="1478.9" r="0.8" fill="#d8e4a0"/><circle cx="2172.6" cy="1180.1" r="0.4" fill="#b0e0d0"/><circle cx="2225.1" cy="1327.6" r="0.9" fill="#e0d890"/><circle cx="2247.2" cy="1485.9" r="1.0" fill="#8ad4ac"/><circle cx="2157.0" cy="1257.7" r="0.7" fill="#8ad4ac"/><circle cx="2225.2" cy="1146.9" r="0.5" fill="#b0e0d0"/><circle cx="2235.5" cy="1490.3" r="1.0" fill="#b0e0d0"/><circle cx="2176.4" cy="1562.6" r="0.4" fill="#d8e4a0"/><circle cx="2213.7" cy="1354.7" r="0.9" fill="#a8dcc4"/><circle cx="2151.7" cy="1325.5" r="0.8" fill="#6cc898"/><circle cx="2205.1" cy="1560.9" r="0.7" fill="#6cc898"/><circle cx="2141.8" cy="1383.6" r="0.5" fill="#b0e0d0"/><circle cx="2246.0" cy="1214.9" r="0.7" fill="#e0d890"/><circle cx="2247.2" cy="1349.4" r="0.6" fill="#b0e0d0"/><circle cx="2205.4" cy="1330.8" r="1.0" fill="#6cc898"/><circle cx="2147.2" cy="1361.1" r="0.9" fill="#8ad4ac"/><circle cx="2192.6" cy="1404.8" r="0.5" fill="#6cc898"/><circle cx="2189.2" cy="1246.9" r="0.8" fill="#6cc898"/><circle cx="2162.6" cy="1327.2" r="0.5" fill="#e0d890"/><circle cx="2185.3" cy="1379.8" r="1.0" fill="#e0d890"/><circle cx="2147.9" cy="1257.6" r="0.5" fill="#8ad4ac"/><circle cx="2188.7" cy="1301.7" r="1.0" fill="#6cc898"/><circle cx="2201.0" cy="1503.5" r="0.6" fill="#a8dcc4"/><circle cx="2179.6" cy="1448.8" r="0.5" fill="#8ad4ac"/><circle cx="2207.7" cy="1560.9" r="0.9" fill="#6cc898"/><circle cx="2167.0" cy="1437.4" r="0.6" fill="#6cc898"/><circle cx="2157.9" cy="1157.0" r="0.8" fill="#b0e0d0"/><circle cx="2167.2" cy="1467.4" r="0.6" fill="#a8dcc4"/><circle cx="2160.0" cy="1209.1" r="0.5" fill="#d8e4a0"/><circle cx="2153.3" cy="1282.6" r="0.7" fill="#a8dcc4"/><circle cx="2246.4" cy="1396.8" r="0.9" fill="#e0d890"/><circle cx="2143.0" cy="1302.6" r="0.9" fill="#8ad4ac"/><circle cx="2140.1" cy="1135.2" r="0.6" fill="#e0d890"/><circle cx="2234.4" cy="1509.4" r="0.6" fill="#8ad4ac"/><circle cx="2212.7" cy="1339.8" r="0.7" fill="#6cc898"/><circle cx="2212.1" cy="1276.7" r="0.7" fill="#d8e4a0"/><circle cx="2247.9" cy="1564.6" r="0.5" fill="#d8e4a0"/><circle cx="2193.3" cy="1355.5" r="0.6" fill="#b0e0d0"/><circle cx="2181.1" cy="1520.5" r="0.6" fill="#a8dcc4"/><circle cx="2175.3" cy="1330.7" r="0.8" fill="#6cc898"/><circle cx="2238.4" cy="1163.7" r="0.8" fill="#a8dcc4"/><circle cx="2158.2" cy="1455.0" r="0.6" fill="#d8e4a0"/><circle cx="2169.3" cy="1533.4" r="0.5" fill="#6cc898"/><circle cx="2187.6" cy="1527.8" r="0.8" fill="#e0d890"/><circle cx="2176.5" cy="1255.7" r="0.8" fill="#8ad4ac"/><circle cx="2232.6" cy="1382.3" r="0.5" fill="#8ad4ac"/><circle cx="2171.5" cy="1160.6" r="0.8" fill="#b0e0d0"/><circle cx="2243.6" cy="1155.9" r="0.7" fill="#b0e0d0"/><circle cx="2160.5" cy="1456.5" r="0.4" fill="#8ad4ac"/><circle cx="2233.3" cy="1307.3" r="0.5" fill="#6cc898"/><circle cx="2162.3" cy="1188.2" r="0.5" fill="#b0e0d0"/><circle cx="2229.9" cy="1446.2" r="0.9" fill="#6cc898"/><circle cx="2181.3" cy="1143.6" r="0.5" fill="#d8e4a0"/><circle cx="2184.0" cy="1540.3" r="0.9" fill="#d8e4a0"/><circle cx="2185.5" cy="1294.8" r="0.7" fill="#e0d890"/><circle cx="2201.7" cy="1357.1" r="0.6" fill="#e0d890"/><circle cx="2228.0" cy="1390.6" r="0.4" fill="#e0d890"/><circle cx="2249.1" cy="1508.7" r="0.7" fill="#b0e0d0"/><circle cx="2204.0" cy="1298.4" r="0.9" fill="#d8e4a0"/><circle cx="2221.2" cy="1171.3" r="0.8" fill="#d8e4a0"/><circle cx="2169.4" cy="1152.2" r="0.4" fill="#8ad4ac"/><circle cx="2240.2" cy="1481.0" r="0.7" fill="#6cc898"/><circle cx="2195.2" cy="1461.6" r="0.6" fill="#d8e4a0"/><circle cx="2151.3" cy="1353.9" r="0.5" fill="#e0d890"/><circle cx="2240.1" cy="1429.5" r="0.6" fill="#d8e4a0"/><circle cx="2218.0" cy="1272.1" r="0.7" fill="#a8dcc4"/><circle cx="2207.9" cy="1148.0" r="0.6" fill="#e0d890"/><circle cx="2240.8" cy="1457.7" r="1.0" fill="#b0e0d0"/><circle cx="2151.4" cy="1207.3" r="0.6" fill="#a8dcc4"/><circle cx="2154.1" cy="1145.9" r="0.8" fill="#6cc898"/><circle cx="2171.6" cy="1339.8" r="0.6" fill="#6cc898"/><circle cx="2162.5" cy="1278.2" r="0.8" fill="#d8e4a0"/><circle cx="2199.2" cy="1291.8" r="0.5" fill="#d8e4a0"/><circle cx="2222.7" cy="1291.4" r="0.7" fill="#d8e4a0"/><circle cx="2178.4" cy="1331.8" r="0.8" fill="#e0d890"/><circle cx="2216.9" cy="1475.8" r="0.8" fill="#6cc898"/><circle cx="2210.2" cy="1183.9" r="0.7" fill="#d8e4a0"/><circle cx="2151.3" cy="1417.2" r="0.6" fill="#b0e0d0"/><circle cx="2148.2" cy="1230.0" r="0.9" fill="#8ad4ac"/><circle cx="2194.8" cy="1134.4" r="0.5" fill="#a8dcc4"/><circle cx="2232.2" cy="1153.4" r="1.0" fill="#d8e4a0"/><circle cx="2218.3" cy="1570.0" r="0.4" fill="#b0e0d0"/><circle cx="2190.1" cy="1442.5" r="0.5" fill="#6cc898"/><circle cx="2162.4" cy="1174.1" r="0.5" fill="#a8dcc4"/><circle cx="2141.3" cy="1511.0" r="0.5" fill="#e0d890"/><circle cx="2138.2" cy="1169.8" r="0.7" fill="#8ad4ac"/><circle cx="2199.9" cy="1528.6" r="0.6" fill="#d8e4a0"/><circle cx="2179.0" cy="1209.1" r="0.9" fill="#8ad4ac"/><circle cx="2213.0" cy="1257.0" r="0.9" fill="#8ad4ac"/><circle cx="2164.3" cy="1311.3" r="1.0" fill="#8ad4ac"/><circle cx="2232.9" cy="1208.7" r="0.9" fill="#d8e4a0"/><circle cx="2197.3" cy="1560.8" r="0.9" fill="#a8dcc4"/><circle cx="2220.0" cy="1288.0" r="0.5" fill="#a8dcc4"/><circle cx="2148.8" cy="1229.3" r="0.5" fill="#b0e0d0"/><circle cx="2226.4" cy="1298.4" r="1.0" fill="#b0e0d0"/><circle cx="2161.9" cy="1401.3" r="0.7" fill="#b0e0d0"/><circle cx="2171.4" cy="1339.0" r="0.6" fill="#e0d890"/><circle cx="2215.3" cy="1269.8" r="0.8" fill="#a8dcc4"/><circle cx="2183.3" cy="1163.8" r="0.9" fill="#a8dcc4"/><circle cx="2227.4" cy="1237.4" r="1.0" fill="#8ad4ac"/><circle cx="2230.8" cy="1247.6" r="0.5" fill="#b0e0d0"/><circle cx="2148.3" cy="1535.5" r="0.7" fill="#8ad4ac"/><circle cx="2205.6" cy="1303.2" r="0.6" fill="#e0d890"/><circle cx="2243.5" cy="1490.3" r="0.5" fill="#a8dcc4"/><circle cx="2201.5" cy="1216.2" r="0.6" fill="#a8dcc4"/><circle cx="2155.8" cy="1477.8" r="0.7" fill="#d8e4a0"/><circle cx="2159.6" cy="1336.2" r="0.9" fill="#d8e4a0"/><circle cx="2210.4" cy="1351.9" r="0.5" fill="#6cc898"/><circle cx="2248.6" cy="1265.5" r="0.6" fill="#e0d890"/><circle cx="2239.0" cy="1229.9" r="0.7" fill="#b0e0d0"/><circle cx="2144.8" cy="1466.9" r="0.6" fill="#8ad4ac"/><circle cx="2248.5" cy="1313.6" r="0.6" fill="#d8e4a0"/><circle cx="2147.0" cy="1295.0" r="0.9" fill="#d8e4a0"/><circle cx="2231.8" cy="1372.4" r="0.9" fill="#e0d890"/><circle cx="2206.8" cy="1455.9" r="0.7" fill="#6cc898"/><circle cx="2162.0" cy="1562.8" r="0.7" fill="#d8e4a0"/><circle cx="2229.9" cy="1331.6" r="0.7" fill="#d8e4a0"/><circle cx="2168.8" cy="1549.1" r="0.7" fill="#a8dcc4"/><circle cx="2154.9" cy="1524.0" r="0.4" fill="#e0d890"/><circle cx="2197.4" cy="1203.5" r="0.5" fill="#d8e4a0"/><circle cx="2245.8" cy="1538.2" r="0.9" fill="#8ad4ac"/><circle cx="2181.7" cy="1346.6" r="0.7" fill="#d8e4a0"/><circle cx="2192.1" cy="1173.4" r="0.7" fill="#a8dcc4"/><circle cx="2155.1" cy="1405.2" r="0.4" fill="#d8e4a0"/><circle cx="2140.6" cy="1498.0" r="0.5" fill="#a8dcc4"/><circle cx="2140.2" cy="1358.0" r="0.6" fill="#a8dcc4"/><circle cx="2172.6" cy="1199.5" r="1.0" fill="#b0e0d0"/><circle cx="2146.5" cy="1544.6" r="0.9" fill="#d8e4a0"/><circle cx="2171.2" cy="1441.5" r="0.6" fill="#d8e4a0"/><circle cx="2248.6" cy="1453.8" r="0.9" fill="#d8e4a0"/><circle cx="2168.8" cy="1338.0" r="0.9" fill="#a8dcc4"/><circle cx="2141.2" cy="1174.8" r="0.6" fill="#8ad4ac"/><circle cx="2215.2" cy="1276.8" r="0.7" fill="#d8e4a0"/><circle cx="2153.1" cy="1333.6" r="0.4" fill="#6cc898"/><circle cx="2161.3" cy="1175.7" r="0.8" fill="#a8dcc4"/><circle cx="2203.2" cy="1134.4" r="0.4" fill="#a8dcc4"/><circle cx="2189.9" cy="1158.2" r="0.4" fill="#e0d890"/><circle cx="2155.9" cy="1327.5" r="0.9" fill="#e0d890"/><circle cx="2220.5" cy="1515.1" r="0.7" fill="#d8e4a0"/><circle cx="2234.5" cy="1152.6" r="0.6" fill="#d8e4a0"/><circle cx="2167.7" cy="1278.4" r="0.8" fill="#8ad4ac"/><circle cx="2178.5" cy="1366.2" r="0.4" fill="#b0e0d0"/><circle cx="2201.0" cy="1193.1" r="1.0" fill="#a8dcc4"/><circle cx="2147.1" cy="1253.1" r="0.5" fill="#6cc898"/><circle cx="2232.1" cy="1464.0" r="1.0" fill="#e0d890"/><circle cx="2147.1" cy="1188.7" r="0.4" fill="#d8e4a0"/><circle cx="2225.3" cy="1202.7" r="0.5" fill="#e0d890"/><circle cx="2250.5" cy="1299.5" r="0.5" fill="#8ad4ac"/><circle cx="2248.1" cy="1255.1" r="0.9" fill="#b0e0d0"/><circle cx="2153.6" cy="1317.7" r="0.9" fill="#6cc898"/><circle cx="2158.4" cy="1566.8" r="0.7" fill="#6cc898"/><circle cx="2168.2" cy="1296.5" r="1.0" fill="#8ad4ac"/><circle cx="2217.1" cy="1359.9" r="0.5" fill="#8ad4ac"/><circle cx="2235.3" cy="1259.0" r="0.9" fill="#a8dcc4"/><circle cx="2195.4" cy="1526.3" r="0.9" fill="#b0e0d0"/><circle cx="2241.6" cy="1414.5" r="0.5" fill="#b0e0d0"/><circle cx="2160.9" cy="1309.1" r="0.9" fill="#6cc898"/><circle cx="2213.3" cy="1379.9" r="0.4" fill="#d8e4a0"/><circle cx="2139.3" cy="1248.8" r="0.9" fill="#6cc898"/><circle cx="2178.6" cy="1339.5" r="0.6" fill="#b0e0d0"/><circle cx="2198.7" cy="1546.8" r="0.7" fill="#e0d890"/><circle cx="2163.9" cy="1355.3" r="0.9" fill="#a8dcc4"/><circle cx="2233.2" cy="1392.5" r="0.6" fill="#d8e4a0"/><circle cx="2200.3" cy="1134.2" r="0.6" fill="#d8e4a0"/><circle cx="2162.6" cy="1372.9" r="0.5" fill="#d8e4a0"/><circle cx="2165.6" cy="1233.3" r="0.5" fill="#6cc898"/><circle cx="2236.5" cy="1505.6" r="0.7" fill="#d8e4a0"/><circle cx="2143.3" cy="1223.0" r="0.5" fill="#8ad4ac"/><circle cx="2247.3" cy="1379.4" r="0.9" fill="#d8e4a0"/><circle cx="2237.3" cy="1285.5" r="0.9" fill="#d8e4a0"/><circle cx="2163.5" cy="1232.9" r="0.6" fill="#d8e4a0"/><circle cx="2239.6" cy="1314.0" r="0.6" fill="#8ad4ac"/><circle cx="2171.6" cy="1139.4" r="0.6" fill="#e0d890"/><circle cx="2225.8" cy="1247.2" r="0.8" fill="#8ad4ac"/><circle cx="2157.7" cy="1565.7" r="0.8" fill="#a8dcc4"/><circle cx="2242.4" cy="1432.4" r="0.5" fill="#6cc898"/><circle cx="2233.9" cy="1167.4" r="0.6" fill="#e0d890"/><circle cx="2247.9" cy="1380.9" r="0.9" fill="#e0d890"/><circle cx="2154.3" cy="1300.6" r="0.7" fill="#b0e0d0"/><circle cx="2237.6" cy="1290.4" r="0.7" fill="#e0d890"/><circle cx="2193.7" cy="1410.8" r="0.4" fill="#b0e0d0"/><circle cx="2202.1" cy="1370.8" r="0.5" fill="#d8e4a0"/><circle cx="2224.3" cy="1554.2" r="0.8" fill="#b0e0d0"/><circle cx="2167.7" cy="1148.7" r="0.6" fill="#b0e0d0"/><circle cx="2229.4" cy="1466.2" r="0.9" fill="#a8dcc4"/><circle cx="2251.9" cy="1376.3" r="0.5" fill="#e0d890"/><circle cx="2220.6" cy="1191.7" r="0.6" fill="#e0d890"/><circle cx="2237.4" cy="1381.5" r="0.9" fill="#a8dcc4"/><circle cx="2176.7" cy="1424.1" r="0.7" fill="#d8e4a0"/><circle cx="2178.9" cy="1339.2" r="0.8" fill="#6cc898"/><circle cx="2163.6" cy="1271.2" r="0.6" fill="#d8e4a0"/><circle cx="2181.1" cy="1550.9" r="1.0" fill="#6cc898"/><circle cx="2193.5" cy="1195.3" r="0.8" fill="#8ad4ac"/><circle cx="2161.8" cy="1462.5" r="0.8" fill="#a8dcc4"/><circle cx="2138.8" cy="1466.6" r="0.9" fill="#b0e0d0"/><circle cx="2176.2" cy="1339.8" r="1.0" fill="#8ad4ac"/><circle cx="2153.8" cy="1332.0" r="0.4" fill="#d8e4a0"/><circle cx="2205.7" cy="1280.4" r="0.4" fill="#e0d890"/><circle cx="2199.9" cy="1243.8" r="0.7" fill="#8ad4ac"/><circle cx="2146.9" cy="1392.6" r="0.8" fill="#6cc898"/><circle cx="2246.7" cy="1183.0" r="0.9" fill="#8ad4ac"/><circle cx="2184.2" cy="1500.7" r="0.8" fill="#e0d890"/><circle cx="2187.9" cy="1300.1" r="1.0" fill="#b0e0d0"/><circle cx="2161.1" cy="1314.5" r="0.5" fill="#b0e0d0"/><circle cx="2151.0" cy="1239.1" r="0.5" fill="#d8e4a0"/><circle cx="2194.7" cy="1344.2" r="0.5" fill="#b0e0d0"/><circle cx="2250.9" cy="1493.9" r="0.9" fill="#8ad4ac"/><circle cx="2183.3" cy="1308.8" r="0.7" fill="#8ad4ac"/><circle cx="2176.3" cy="1335.2" r="0.6" fill="#6cc898"/><circle cx="2168.5" cy="1392.5" r="0.7" fill="#d8e4a0"/><circle cx="2191.4" cy="1336.6" r="0.5" fill="#6cc898"/><circle cx="2218.4" cy="1297.4" r="0.8" fill="#a8dcc4"/><circle cx="2227.7" cy="1265.1" r="0.6" fill="#6cc898"/><circle cx="2233.4" cy="1560.4" r="0.7" fill="#d8e4a0"/><circle cx="2143.9" cy="1550.4" r="0.7" fill="#e0d890"/><circle cx="2196.6" cy="1454.9" r="0.7" fill="#b0e0d0"/><circle cx="2169.9" cy="1456.7" r="0.9" fill="#a8dcc4"/><circle cx="2197.1" cy="1273.7" r="0.5" fill="#6cc898"/><circle cx="2152.5" cy="1424.8" r="0.8" fill="#b0e0d0"/><circle cx="2205.5" cy="1350.6" r="0.5" fill="#e0d890"/><circle cx="2227.8" cy="1381.9" r="0.8" fill="#b0e0d0"/><circle cx="2156.7" cy="1202.4" r="0.6" fill="#a8dcc4"/><circle cx="2193.0" cy="1530.1" r="0.9" fill="#d8e4a0"/><circle cx="2172.9" cy="1279.8" r="0.9" fill="#a8dcc4"/><circle cx="2195.7" cy="1511.5" r="0.8" fill="#a8dcc4"/><circle cx="2192.4" cy="1498.4" r="0.4" fill="#8ad4ac"/><circle cx="2177.0" cy="1553.3" r="0.8" fill="#6cc898"/><circle cx="2153.0" cy="1359.2" r="0.6" fill="#d8e4a0"/><circle cx="2227.3" cy="1394.5" r="0.4" fill="#b0e0d0"/><circle cx="2218.2" cy="1289.6" r="0.7" fill="#b0e0d0"/><circle cx="2177.8" cy="1227.3" r="0.6" fill="#a8dcc4"/><circle cx="2239.5" cy="1462.2" r="0.7" fill="#e0d890"/><circle cx="2200.9" cy="1443.3" r="0.8" fill="#e0d890"/><circle cx="2199.9" cy="1430.6" r="0.5" fill="#e0d890"/><circle cx="2149.2" cy="1565.2" r="0.7" fill="#6cc898"/><circle cx="2211.3" cy="1477.4" r="0.7" fill="#6cc898"/><circle cx="2156.4" cy="1563.8" r="0.9" fill="#8ad4ac"/><circle cx="2140.7" cy="1148.6" r="0.4" fill="#e0d890"/><circle cx="2197.2" cy="1556.6" r="0.5" fill="#a8dcc4"/><circle cx="2188.2" cy="1146.0" r="0.9" fill="#d8e4a0"/><circle cx="2200.8" cy="1153.5" r="1.0" fill="#a8dcc4"/><circle cx="2171.4" cy="1255.4" r="0.9" fill="#d8e4a0"/><circle cx="2225.4" cy="1198.2" r="0.7" fill="#d8e4a0"/><circle cx="2251.6" cy="1447.3" r="0.6" fill="#a8dcc4"/><circle cx="2188.5" cy="1151.4" r="0.8" fill="#a8dcc4"/><circle cx="2189.2" cy="1509.5" r="0.9" fill="#a8dcc4"/><circle cx="2182.1" cy="1459.1" r="0.8" fill="#b0e0d0"/><circle cx="2249.1" cy="1537.4" r="1.0" fill="#d8e4a0"/><circle cx="2167.2" cy="1284.2" r="1.0" fill="#a8dcc4"/><circle cx="2232.1" cy="1373.4" r="0.8" fill="#6cc898"/><circle cx="2159.9" cy="1196.8" r="0.5" fill="#d8e4a0"/><circle cx="2196.6" cy="1481.6" r="0.8" fill="#6cc898"/><circle cx="2167.9" cy="1198.1" r="0.9" fill="#b0e0d0"/><circle cx="2204.6" cy="1368.0" r="1.0" fill="#8ad4ac"/><circle cx="2231.2" cy="1568.3" r="1.0" fill="#d8e4a0"/><circle cx="2192.0" cy="1323.3" r="0.6" fill="#8ad4ac"/><circle cx="2194.0" cy="1557.0" r="0.5" fill="#8ad4ac"/><circle cx="2196.2" cy="1284.0" r="0.7" fill="#6cc898"/><circle cx="2166.9" cy="1418.1" r="0.9" fill="#e0d890"/><circle cx="2230.5" cy="1385.4" r="0.7" fill="#e0d890"/><circle cx="2167.9" cy="1277.5" r="0.9" fill="#a8dcc4"/><circle cx="2244.6" cy="1539.2" r="0.4" fill="#d8e4a0"/><circle cx="2144.4" cy="1288.4" r="0.7" fill="#d8e4a0"/><circle cx="2140.9" cy="1294.9" r="0.7" fill="#6cc898"/><rect x="2136.2" y="1128.7" width="116.5" height="443.3" fill="none" stroke="#4040d8" stroke-width="1.3"/><rect x="2175.6" y="1111.5" width="38.1" height="16.5" fill="#f7f000"/><line x1="2177.5" y1="1114.5" x2="2200.0" y2="1114.5" stroke="#333" stroke-width="1" stroke-dasharray="2 0.8"/><line x1="2177.5" y1="1119.3" x2="2210.0" y2="1119.3" stroke="#333" stroke-width="1" stroke-dasharray="2 0.8"/><line x1="2177.5" y1="1124.1" x2="2200.0" y2="1124.1" stroke="#333" stroke-width="1" stroke-dasharray="2 0.8"/></g>
<text x="2117.1" y="1639.6" font-size="26.32" font-weight="bold" font-style="normal" fill="#000" stroke="#000" stroke-width="0.84" stroke-linejoin="round" textLength="145.9" lengthAdjust="spacingAndGlyphs">WSI LEVEL</text>
<text x="2090.6" y="1672.6" font-size="26.32" font-weight="bold" font-style="normal" fill="#000" stroke="#000" stroke-width="0.84" stroke-linejoin="round" textLength="199.9" lengthAdjust="spacingAndGlyphs">SEG. &amp; CLASS.</text>
<rect x="83.2" y="1812.4" width="882.8" height="752.1999999999998" rx="100" fill="none" stroke="#b85450" stroke-width="2.8" stroke-dasharray="9.2 6.8"/>
<rect x="217.7" y="1755.7" width="614.3" height="98.5" rx="15" fill="#f8cecc" stroke="#b85450" stroke-width="2.8" stroke-dasharray="9 7"/>
<text x="348.1" y="1815.9" font-size="35.46" font-weight="bold" font-style="normal" fill="#b85450" stroke="#b85450" stroke-width="1.13" stroke-linejoin="round" textLength="353.6" lengthAdjust="spacingAndGlyphs">CORE PROCESSING</text>
<text x="216.3" y="1928.6" font-size="14.40" font-weight="bold" font-style="normal" fill="#000" stroke="#000" stroke-width="0.46" stroke-linejoin="round" textLength="84.0" lengthAdjust="spacingAndGlyphs">INDIVIDUAL</text>
<text x="238.8" y="1946.2" font-size="13.57" font-weight="bold" font-style="normal" fill="#000" stroke="#000" stroke-width="0.43" stroke-linejoin="round" textLength="40.6" lengthAdjust="spacingAndGlyphs">TILES</text>
<rect x="181.20000000000002" y="1960.3" width="196.6" height="196.6" fill="url(#pB)" stroke="#333" stroke-width="1.4"/><rect x="181.20000000000002" y="1960.3" width="196.6" height="196.6" fill="#fff" opacity="0.45"/><rect x="164.9" y="1976.6000000000001" width="196.6" height="196.6" fill="url(#pBr)" stroke="#333" stroke-width="1.4"/><rect x="148.60000000000002" y="1992.9" width="196.6" height="196.6" fill="url(#pB)" stroke="#333" stroke-width="1.4"/><clipPath id="cl132"><rect x="132.3" y="2009.2" width="196.6" height="196.6"/></clipPath><rect x="132.3" y="2009.2" width="196.6" height="196.6" fill="url(#pB)"/><g clip-path="url(#cl132)"><path d="M238.6,2010.9 C249.9,2010.0 316.9,2006.5 328.9,2010.9 C340.9,2015.4 330.8,2039.4 328.9,2044.4 C327.0,2049.5 318.2,2049.4 314.3,2048.8 C310.5,2048.2 302.7,2042.4 299.8,2040.1 C296.9,2037.7 294.4,2030.8 292.5,2031.3 C290.6,2031.9 287.2,2042.3 285.2,2044.4 C283.3,2046.6 280.3,2048.3 277.9,2047.4 C275.6,2046.4 270.6,2040.1 267.7,2037.2 C264.8,2034.2 259.2,2028.0 256.1,2025.5 C253.0,2023.0 246.8,2020.2 244.4,2018.2 C242.1,2016.3 227.3,2011.9 238.6,2010.9 Z" fill="url(#pBr)"/><path d="M206.6,2043.0 C207.9,2040.5 216.0,2038.5 219.7,2040.1 C223.4,2041.6 229.4,2050.8 234.2,2054.6 C239.1,2058.5 250.3,2065.7 256.1,2069.2 C261.9,2072.7 273.9,2077.7 277.9,2080.8 C282.0,2084.0 286.1,2089.4 286.7,2092.5 C287.2,2095.6 285.4,2102.2 282.3,2104.2 C279.2,2106.1 268.8,2107.5 263.4,2107.1 C257.9,2106.7 245.8,2103.6 241.5,2101.2 C237.3,2098.9 234.2,2093.3 231.3,2089.6 C228.4,2085.9 222.6,2077.6 219.7,2073.6 C216.8,2069.5 211.2,2063.1 209.5,2059.0 C207.7,2054.9 205.2,2045.5 206.6,2043.0 Z" fill="url(#pBr)"/><path d="M139.6,2095.4 C141.5,2092.9 149.7,2086.8 154.1,2085.2 C158.6,2083.7 168.8,2084.7 173.1,2083.8 C177.3,2082.8 183.9,2080.7 186.2,2077.9 C188.5,2075.2 188.6,2064.9 190.6,2063.4 C192.5,2061.8 197.8,2064.0 200.7,2066.3 C203.7,2068.6 209.3,2077.0 212.4,2080.8 C215.5,2084.7 221.7,2091.5 224.0,2095.4 C226.4,2099.3 228.7,2106.1 229.9,2110.0 C231.0,2113.9 230.3,2122.0 232.8,2124.5 C235.3,2127.1 244.7,2127.4 248.8,2128.9 C252.9,2130.5 262.4,2133.9 263.4,2136.2 C264.3,2138.5 259.0,2144.4 256.1,2146.4 C253.2,2148.3 245.0,2151.1 241.5,2150.8 C238.0,2150.4 231.8,2142.7 229.9,2143.5 C227.9,2144.2 228.3,2153.7 227.0,2156.6 C225.6,2159.5 219.7,2162.6 219.7,2165.3 C219.7,2168.0 224.0,2174.2 227.0,2177.0 C229.9,2179.7 240.6,2183.0 241.5,2185.7 C242.5,2188.4 240.1,2194.6 234.2,2197.4 C228.4,2200.1 211.4,2204.9 197.8,2206.1 C184.2,2207.3 141.0,2210.2 132.3,2206.1 C123.6,2202.0 131.3,2181.5 132.3,2175.5 C133.3,2169.5 137.1,2165.4 139.6,2160.9 C142.1,2156.5 147.3,2144.9 151.2,2142.0 C155.1,2139.1 164.8,2139.9 168.7,2139.1 C172.6,2138.3 181.3,2138.1 180.4,2136.2 C179.4,2134.2 165.9,2127.6 161.4,2124.5 C157.0,2121.4 149.8,2115.6 146.9,2112.9 C144.0,2110.2 140.6,2106.5 139.6,2104.2 C138.6,2101.8 137.6,2097.9 139.6,2095.4 Z" fill="url(#pBr)"/><path d="M314.3,2063.4 C316.7,2061.0 327.0,2046.9 328.9,2060.5 C330.8,2074.1 330.8,2152.5 328.9,2165.3 C327.0,2178.1 318.2,2158.5 314.3,2156.6 C310.5,2154.6 302.7,2153.1 299.8,2150.8 C296.9,2148.4 294.8,2141.6 292.5,2139.1 C290.2,2136.6 284.2,2134.7 282.3,2131.8 C280.4,2128.9 277.5,2121.1 277.9,2117.3 C278.3,2113.4 282.3,2106.4 285.2,2102.7 C288.1,2099.0 296.3,2092.9 299.8,2089.6 C303.3,2086.3 309.5,2081.4 311.4,2077.9 C313.4,2074.4 312.0,2065.7 314.3,2063.4 Z" fill="url(#pBr)"/><path d="M263.4,2206.1 C256.6,2204.5 274.0,2195.6 277.9,2194.4 C281.8,2193.3 288.6,2198.1 292.5,2197.4 C296.4,2196.6 303.2,2189.0 307.1,2188.6 C310.9,2188.2 318.7,2193.3 321.6,2194.4 C324.5,2195.6 327.9,2195.8 328.9,2197.4 C329.9,2198.9 337.6,2204.9 328.9,2206.1 C320.2,2207.3 270.2,2207.6 263.4,2206.1 Z" fill="url(#pBr)"/><path d="M151.2,2032.8 C152.6,2031.6 160.0,2029.3 162.9,2029.9 C165.8,2030.5 171.3,2034.6 173.1,2037.2 C174.8,2039.7 176.6,2046.9 176.0,2048.8 C175.4,2050.8 170.5,2052.5 168.7,2051.7 C167.0,2050.9 165.0,2044.7 162.9,2043.0 C160.7,2041.2 154.2,2040.0 152.7,2038.6 C151.1,2037.3 149.9,2034.0 151.2,2032.8 Z" fill="url(#pBr)"/><path d="M132.3,2139.1 C133.9,2136.2 142.4,2140.6 144.0,2143.5 C145.5,2146.4 145.5,2158.0 144.0,2160.9 C142.4,2163.9 133.9,2168.2 132.3,2165.3 C130.7,2162.4 130.7,2142.0 132.3,2139.1 Z" fill="url(#pBr)"/></g><rect x="132.3" y="2009.2" width="196.6" height="196.6" fill="none" stroke="#333" stroke-width="1.4"/>
<line x1="378.3" y1="2079" x2="477.4" y2="2079" stroke="#111" stroke-width="1.2"/>
<path d="M483,2079 L476,2075.85 L477.75,2079 L476,2082.15 Z" fill="#111"/>
<path d="M483.7,2025.4 L578,2040.4 L578,2116.7 L483.7,2132 Z" fill="#d5e8d4" stroke="#82b366" stroke-width="1"/>
<text x="498.7" y="2072.5" font-size="18.56" font-weight="bold" font-style="normal" fill="#6a9a57" stroke="#6a9a57" stroke-width="0.59" stroke-linejoin="round" textLength="63.5" lengthAdjust="spacingAndGlyphs">SEG. &amp;</text>
<text x="495.8" y="2095.4" font-size="18.56" font-weight="bold" font-style="normal" fill="#6a9a57" stroke="#6a9a57" stroke-width="0.59" stroke-linejoin="round" textLength="69.0" lengthAdjust="spacingAndGlyphs">CLASS.</text>
<line x1="578" y1="2078.4" x2="656.8" y2="2078.4" stroke="#111" stroke-width="1.2"/>
<path d="M662.4,2078.4 L655.4,2075.25 L657.15,2078.4 L655.4,2081.55 Z" fill="#111"/>
<text x="744.9" y="1928.6" font-size="14.40" font-weight="bold" font-style="normal" fill="#000" stroke="#000" stroke-width="0.46" stroke-linejoin="round" textLength="81.9" lengthAdjust="spacingAndGlyphs">TILE LEVEL</text>
<text x="732.0" y="1946.2" font-size="13.57" font-weight="bold" font-style="normal" fill="#000" stroke="#000" stroke-width="0.43" stroke-linejoin="round" textLength="107.6" lengthAdjust="spacingAndGlyphs">SEG. &amp; CLASS.</text>
<rect x="712.6999999999999" y="1960.3" width="196.6" height="196.6" fill="url(#pWC)" stroke="#333" stroke-width="1.4"/><rect x="696.4" y="1976.6000000000001" width="196.6" height="196.6" fill="url(#pBPG)" stroke="#333" stroke-width="1.4"/><rect x="680.0999999999999" y="1992.9" width="196.6" height="196.6" fill="url(#pCy)" stroke="#333" stroke-width="1.4"/><clipPath id="cr663"><rect x="663.8" y="2009.2" width="196.6" height="196.6"/></clipPath><rect x="663.8" y="2009.2" width="196.6" height="196.6" fill="url(#pBG)"/><g clip-path="url(#cr663)"><path d="M770.1,2010.9 C781.4,2010.0 848.4,2006.5 860.4,2010.9 C872.4,2015.4 862.3,2039.4 860.4,2044.4 C858.5,2049.5 849.7,2049.4 845.8,2048.8 C842.0,2048.2 834.2,2042.4 831.3,2040.1 C828.4,2037.7 825.9,2030.8 824.0,2031.3 C822.1,2031.9 818.7,2042.3 816.7,2044.4 C814.8,2046.6 811.8,2048.3 809.4,2047.4 C807.1,2046.4 802.1,2040.1 799.2,2037.2 C796.3,2034.2 790.7,2028.0 787.6,2025.5 C784.5,2023.0 778.3,2020.2 775.9,2018.2 C773.6,2016.3 758.8,2011.9 770.1,2010.9 Z" fill="url(#pBrP)"/><path d="M738.1,2043.0 C739.4,2040.5 747.5,2038.5 751.2,2040.1 C754.9,2041.6 760.9,2050.8 765.7,2054.6 C770.6,2058.5 781.8,2065.7 787.6,2069.2 C793.4,2072.7 805.4,2077.7 809.4,2080.8 C813.5,2084.0 817.6,2089.4 818.2,2092.5 C818.7,2095.6 816.9,2102.2 813.8,2104.2 C810.7,2106.1 800.3,2107.5 794.9,2107.1 C789.4,2106.7 777.3,2103.6 773.0,2101.2 C768.8,2098.9 765.7,2093.3 762.8,2089.6 C759.9,2085.9 754.1,2077.6 751.2,2073.6 C748.3,2069.5 742.7,2063.1 741.0,2059.0 C739.2,2054.9 736.7,2045.5 738.1,2043.0 Z" fill="url(#pBrP)"/><path d="M671.1,2095.4 C673.0,2092.9 681.2,2086.8 685.6,2085.2 C690.1,2083.7 700.3,2084.7 704.6,2083.8 C708.8,2082.8 715.4,2080.7 717.7,2077.9 C720.0,2075.2 720.1,2064.9 722.1,2063.4 C724.0,2061.8 729.3,2064.0 732.2,2066.3 C735.2,2068.6 740.8,2077.0 743.9,2080.8 C747.0,2084.7 753.2,2091.5 755.5,2095.4 C757.9,2099.3 760.2,2106.1 761.4,2110.0 C762.5,2113.9 761.8,2122.0 764.3,2124.5 C766.8,2127.1 776.2,2127.4 780.3,2128.9 C784.4,2130.5 793.9,2133.9 794.9,2136.2 C795.8,2138.5 790.5,2144.4 787.6,2146.4 C784.7,2148.3 776.5,2151.1 773.0,2150.8 C769.5,2150.4 763.3,2142.7 761.4,2143.5 C759.4,2144.2 759.8,2153.7 758.5,2156.6 C757.1,2159.5 751.2,2162.6 751.2,2165.3 C751.2,2168.0 755.5,2174.2 758.5,2177.0 C761.4,2179.7 772.1,2183.0 773.0,2185.7 C774.0,2188.4 771.6,2194.6 765.7,2197.4 C759.9,2200.1 742.9,2204.9 729.3,2206.1 C715.7,2207.3 672.5,2210.2 663.8,2206.1 C655.1,2202.0 662.8,2181.5 663.8,2175.5 C664.8,2169.5 668.6,2165.4 671.1,2160.9 C673.6,2156.5 678.8,2144.9 682.7,2142.0 C686.6,2139.1 696.3,2139.9 700.2,2139.1 C704.1,2138.3 712.8,2138.1 711.9,2136.2 C710.9,2134.2 697.4,2127.6 692.9,2124.5 C688.5,2121.4 681.3,2115.6 678.4,2112.9 C675.5,2110.2 672.1,2106.5 671.1,2104.2 C670.1,2101.8 669.1,2097.9 671.1,2095.4 Z" fill="url(#pBrP)"/><path d="M845.8,2063.4 C848.2,2061.0 858.5,2046.9 860.4,2060.5 C862.3,2074.1 862.3,2152.5 860.4,2165.3 C858.5,2178.1 849.7,2158.5 845.8,2156.6 C842.0,2154.6 834.2,2153.1 831.3,2150.8 C828.4,2148.4 826.3,2141.6 824.0,2139.1 C821.7,2136.6 815.7,2134.7 813.8,2131.8 C811.9,2128.9 809.0,2121.1 809.4,2117.3 C809.8,2113.4 813.8,2106.4 816.7,2102.7 C819.6,2099.0 827.8,2092.9 831.3,2089.6 C834.8,2086.3 841.0,2081.4 842.9,2077.9 C844.9,2074.4 843.5,2065.7 845.8,2063.4 Z" fill="url(#pBrP)"/><path d="M794.9,2206.1 C788.1,2204.5 805.5,2195.6 809.4,2194.4 C813.3,2193.3 820.1,2198.1 824.0,2197.4 C827.9,2196.6 834.7,2189.0 838.6,2188.6 C842.4,2188.2 850.2,2193.3 853.1,2194.4 C856.0,2195.6 859.4,2195.8 860.4,2197.4 C861.4,2198.9 869.1,2204.9 860.4,2206.1 C851.7,2207.3 801.7,2207.6 794.9,2206.1 Z" fill="url(#pBrP)"/><path d="M682.7,2032.8 C684.1,2031.6 691.5,2029.3 694.4,2029.9 C697.3,2030.5 702.8,2034.6 704.6,2037.2 C706.3,2039.7 708.1,2046.9 707.5,2048.8 C706.9,2050.8 702.0,2052.5 700.2,2051.7 C698.5,2050.9 696.5,2044.7 694.4,2043.0 C692.2,2041.2 685.7,2040.0 684.2,2038.6 C682.6,2037.3 681.4,2034.0 682.7,2032.8 Z" fill="url(#pBrP)"/><path d="M663.8,2139.1 C665.4,2136.2 673.9,2140.6 675.5,2143.5 C677.0,2146.4 677.0,2158.0 675.5,2160.9 C673.9,2163.9 665.4,2168.2 663.8,2165.3 C662.2,2162.4 662.2,2142.0 663.8,2139.1 Z" fill="url(#pBrP)"/></g><rect x="663.8" y="2009.2" width="196.6" height="196.6" fill="none" stroke="#333" stroke-width="1.4"/>
<clipPath id="cki1"><rect x="159.7" y="2268.6" width="133.3" height="134"/></clipPath><rect x="159.7" y="2268.6" width="133.3" height="134" fill="url(#pKiL)"/><g clip-path="url(#cki1)"><ellipse cx="211.4" cy="2396.4" rx="2.3" ry="1.7" fill="#94301c" opacity="0.9"/><ellipse cx="194.4" cy="2355.2" rx="3.3" ry="2.4" fill="#6fa8a0" opacity="0.9"/><ellipse cx="220.0" cy="2380.7" rx="3.1" ry="2.8" fill="#6fa8a0" opacity="0.9"/><ellipse cx="187.9" cy="2361.2" rx="2.5" ry="2.5" fill="#94301c" opacity="0.9"/><ellipse cx="197.3" cy="2372.8" rx="3.1" ry="2.2" fill="#a8402a" opacity="0.9"/><ellipse cx="211.3" cy="2358.9" rx="3.2" ry="2.8" fill="#6fa8a0" opacity="0.9"/><ellipse cx="195.5" cy="2346.8" rx="2.5" ry="1.9" fill="#7ab0a4" opacity="0.9"/><ellipse cx="197.0" cy="2395.7" rx="3.5" ry="2.9" fill="#b85038" opacity="0.9"/><ellipse cx="217.9" cy="2361.3" rx="2.5" ry="2.5" fill="#a8402a" opacity="0.9"/><ellipse cx="199.7" cy="2367.8" rx="3.5" ry="3.4" fill="#b85038" opacity="0.9"/><ellipse cx="163.5" cy="2375.7" rx="3.4" ry="3.0" fill="#7ab0a4" opacity="0.9"/><ellipse cx="185.5" cy="2397.5" rx="3.4" ry="2.9" fill="#6fa8a0" opacity="0.9"/><ellipse cx="188.3" cy="2372.8" rx="3.2" ry="2.7" fill="#8c3418" opacity="0.9"/><ellipse cx="183.7" cy="2360.2" rx="3.3" ry="3.0" fill="#c9c46a" opacity="0.9"/><ellipse cx="213.9" cy="2388.4" rx="3.3" ry="2.8" fill="#a8402a" opacity="0.9"/><ellipse cx="176.6" cy="2388.8" rx="2.9" ry="2.3" fill="#a8402a" opacity="0.9"/><ellipse cx="206.6" cy="2356.6" rx="2.8" ry="2.1" fill="#7ab0a4" opacity="0.9"/><ellipse cx="163.3" cy="2375.4" rx="2.5" ry="2.4" fill="#94301c" opacity="0.9"/><ellipse cx="174.8" cy="2370.1" rx="3.5" ry="3.1" fill="#b85038" opacity="0.9"/><ellipse cx="178.0" cy="2379.8" rx="3.1" ry="2.8" fill="#7ab0a4" opacity="0.9"/><ellipse cx="172.3" cy="2394.3" rx="2.9" ry="2.2" fill="#c9c46a" opacity="0.9"/><ellipse cx="195.4" cy="2362.4" rx="2.9" ry="2.3" fill="#a8402a" opacity="0.9"/><ellipse cx="165.6" cy="2366.0" rx="2.9" ry="2.3" fill="#6fa8a0" opacity="0.9"/><ellipse cx="180.5" cy="2393.9" rx="3.3" ry="2.6" fill="#7ab0a4" opacity="0.9"/><ellipse cx="171.2" cy="2360.0" rx="2.4" ry="2.1" fill="#c9c46a" opacity="0.9"/><ellipse cx="210.2" cy="2355.3" rx="3.4" ry="3.3" fill="#94301c" opacity="0.9"/><ellipse cx="221.6" cy="2381.7" rx="2.3" ry="1.6" fill="#a8402a" opacity="0.9"/><ellipse cx="219.0" cy="2378.2" rx="2.6" ry="2.4" fill="#8c3418" opacity="0.9"/><ellipse cx="199.5" cy="2390.6" rx="2.4" ry="2.1" fill="#8c3418" opacity="0.9"/><ellipse cx="200.7" cy="2389.4" rx="2.6" ry="2.4" fill="#c9c46a" opacity="0.9"/><ellipse cx="182.9" cy="2376.0" rx="2.7" ry="2.3" fill="#b85038" opacity="0.9"/><ellipse cx="196.8" cy="2385.0" rx="2.9" ry="2.2" fill="#c9c46a" opacity="0.9"/><ellipse cx="171.7" cy="2359.1" rx="2.5" ry="2.1" fill="#a8402a" opacity="0.9"/><ellipse cx="221.7" cy="2382.3" rx="3.2" ry="2.9" fill="#6fa8a0" opacity="0.9"/><ellipse cx="179.5" cy="2371.9" rx="3.3" ry="2.8" fill="#c9c46a" opacity="0.9"/><ellipse cx="197.1" cy="2399.6" rx="3.1" ry="3.0" fill="#6fa8a0" opacity="0.9"/><ellipse cx="182.5" cy="2359.3" rx="2.6" ry="2.6" fill="#c9c46a" opacity="0.9"/><ellipse cx="204.8" cy="2364.1" rx="2.3" ry="2.2" fill="#94301c" opacity="0.9"/><ellipse cx="189.5" cy="2387.2" rx="2.6" ry="1.8" fill="#7ab0a4" opacity="0.9"/><ellipse cx="197.3" cy="2371.8" rx="2.5" ry="2.4" fill="#94301c" opacity="0.9"/><ellipse cx="224.3" cy="2381.3" rx="3.6" ry="3.2" fill="#94301c" opacity="0.9"/><ellipse cx="231.0" cy="2374.9" rx="2.3" ry="2.0" fill="#b85038" opacity="0.9"/><ellipse cx="261.7" cy="2364.2" rx="2.3" ry="2.1" fill="#6fa8a0" opacity="0.9"/><ellipse cx="241.3" cy="2392.7" rx="3.1" ry="2.5" fill="#b85038" opacity="0.9"/><ellipse cx="244.4" cy="2385.5" rx="2.7" ry="2.6" fill="#94301c" opacity="0.9"/><ellipse cx="249.3" cy="2361.5" rx="2.6" ry="1.9" fill="#8c3418" opacity="0.9"/><ellipse cx="232.9" cy="2388.5" rx="3.2" ry="2.7" fill="#94301c" opacity="0.9"/><ellipse cx="258.4" cy="2374.7" rx="2.3" ry="1.7" fill="#c9c46a" opacity="0.9"/><ellipse cx="255.5" cy="2391.7" rx="3.3" ry="2.9" fill="#b85038" opacity="0.9"/><ellipse cx="254.6" cy="2363.1" rx="2.4" ry="1.8" fill="#b85038" opacity="0.9"/><ellipse cx="267.1" cy="2368.2" rx="3.4" ry="2.5" fill="#c9c46a" opacity="0.9"/><ellipse cx="238.7" cy="2373.2" rx="2.8" ry="2.3" fill="#a8402a" opacity="0.9"/><ellipse cx="255.9" cy="2375.3" rx="2.7" ry="2.4" fill="#8c3418" opacity="0.9"/><ellipse cx="249.4" cy="2360.7" rx="3.0" ry="2.6" fill="#7ab0a4" opacity="0.9"/><ellipse cx="260.8" cy="2371.3" rx="3.0" ry="2.9" fill="#b85038" opacity="0.9"/><ellipse cx="233.6" cy="2379.3" rx="2.3" ry="1.8" fill="#94301c" opacity="0.9"/><ellipse cx="244.1" cy="2373.8" rx="2.4" ry="2.3" fill="#6fa8a0" opacity="0.9"/><ellipse cx="258.2" cy="2378.8" rx="2.8" ry="2.0" fill="#7ab0a4" opacity="0.9"/><ellipse cx="252.4" cy="2386.5" rx="3.4" ry="2.8" fill="#c9c46a" opacity="0.9"/><ellipse cx="268.2" cy="2370.9" rx="3.5" ry="2.7" fill="#7ab0a4" opacity="0.9"/><ellipse cx="246.0" cy="2393.1" rx="2.5" ry="2.0" fill="#a8402a" opacity="0.9"/><ellipse cx="268.2" cy="2379.6" rx="3.2" ry="2.6" fill="#b85038" opacity="0.9"/><ellipse cx="234.1" cy="2385.8" rx="3.5" ry="3.4" fill="#a8402a" opacity="0.9"/><ellipse cx="254.5" cy="2374.2" rx="3.3" ry="3.1" fill="#8c3418" opacity="0.9"/><ellipse cx="264.4" cy="2361.1" rx="3.1" ry="2.4" fill="#6fa8a0" opacity="0.9"/><ellipse cx="250.0" cy="2312.9" rx="2.7" ry="2.6" fill="#8c3418" opacity="0.9"/><ellipse cx="272.9" cy="2323.8" rx="3.1" ry="2.8" fill="#a8402a" opacity="0.9"/><ellipse cx="270.2" cy="2311.4" rx="2.3" ry="1.7" fill="#b85038" opacity="0.9"/><ellipse cx="263.3" cy="2302.3" rx="2.5" ry="1.9" fill="#b85038" opacity="0.9"/><ellipse cx="247.3" cy="2305.1" rx="2.5" ry="1.8" fill="#a8402a" opacity="0.9"/><ellipse cx="259.9" cy="2320.3" rx="3.4" ry="3.1" fill="#7ab0a4" opacity="0.9"/><ellipse cx="261.5" cy="2315.7" rx="3.3" ry="2.8" fill="#94301c" opacity="0.9"/><ellipse cx="264.3" cy="2310.1" rx="3.3" ry="2.6" fill="#7ab0a4" opacity="0.9"/><ellipse cx="245.0" cy="2314.6" rx="3.3" ry="3.3" fill="#8c3418" opacity="0.9"/><ellipse cx="264.1" cy="2306.3" rx="3.2" ry="3.0" fill="#a8402a" opacity="0.9"/><ellipse cx="254.5" cy="2311.7" rx="2.4" ry="2.3" fill="#8c3418" opacity="0.9"/><ellipse cx="269.6" cy="2317.5" rx="3.3" ry="3.2" fill="#7ab0a4" opacity="0.9"/><ellipse cx="268.1" cy="2302.4" rx="2.5" ry="2.0" fill="#c9c46a" opacity="0.9"/><ellipse cx="255.8" cy="2314.6" rx="3.1" ry="2.4" fill="#94301c" opacity="0.9"/><ellipse cx="275.9" cy="2322.5" rx="2.8" ry="2.2" fill="#94301c" opacity="0.9"/><ellipse cx="247.4" cy="2320.4" rx="2.8" ry="2.2" fill="#a8402a" opacity="0.9"/><ellipse cx="259.5" cy="2318.3" rx="3.5" ry="3.5" fill="#c9c46a" opacity="0.9"/><ellipse cx="274.5" cy="2317.3" rx="2.4" ry="1.8" fill="#7ab0a4" opacity="0.9"/><ellipse cx="218.9" cy="2355.9" rx="3.0" ry="2.2" fill="#6fa8a0" opacity="0.9"/><ellipse cx="228.5" cy="2347.9" rx="2.9" ry="2.5" fill="#8c3418" opacity="0.9"/><ellipse cx="213.8" cy="2334.3" rx="3.1" ry="2.4" fill="#c9c46a" opacity="0.9"/><ellipse cx="214.9" cy="2353.8" rx="3.2" ry="2.6" fill="#8c3418" opacity="0.9"/><ellipse cx="209.9" cy="2334.1" rx="2.6" ry="2.3" fill="#c9c46a" opacity="0.9"/><ellipse cx="223.5" cy="2343.5" rx="3.1" ry="2.5" fill="#7ab0a4" opacity="0.9"/><ellipse cx="206.4" cy="2341.3" rx="2.6" ry="2.4" fill="#8c3418" opacity="0.9"/><ellipse cx="225.0" cy="2334.9" rx="3.2" ry="2.7" fill="#c9c46a" opacity="0.9"/><ellipse cx="224.2" cy="2345.0" rx="3.5" ry="3.1" fill="#7ab0a4" opacity="0.9"/><ellipse cx="223.0" cy="2349.0" rx="3.5" ry="3.2" fill="#8c3418" opacity="0.9"/><ellipse cx="221.8" cy="2332.0" rx="3.2" ry="2.6" fill="#6fa8a0" opacity="0.9"/><ellipse cx="213.6" cy="2341.7" rx="3.6" ry="3.1" fill="#c9c46a" opacity="0.9"/><ellipse cx="177.3" cy="2278.0" rx="2.6" ry="2.5" fill="#a8402a" opacity="0.9"/><ellipse cx="176.6" cy="2274.4" rx="3.1" ry="3.0" fill="#94301c" opacity="0.9"/><ellipse cx="171.9" cy="2272.7" rx="3.5" ry="3.5" fill="#94301c" opacity="0.9"/><ellipse cx="166.4" cy="2281.3" rx="2.8" ry="2.7" fill="#6fa8a0" opacity="0.9"/><ellipse cx="165.7" cy="2278.3" rx="3.5" ry="2.6" fill="#6fa8a0" opacity="0.9"/><ellipse cx="207.9" cy="2278.2" rx="3.1" ry="2.4" fill="#a8402a" opacity="0.9"/><ellipse cx="207.6" cy="2287.2" rx="2.9" ry="2.6" fill="#8c3418" opacity="0.9"/><ellipse cx="222.7" cy="2283.9" rx="3.4" ry="2.6" fill="#8c3418" opacity="0.9"/><ellipse cx="211.4" cy="2289.2" rx="2.6" ry="2.4" fill="#b85038" opacity="0.9"/></g>
<clipPath id="cki2"><rect x="316.8" y="2268.6" width="133.5" height="134"/></clipPath><rect x="316.8" y="2268.6" width="133.5" height="134" fill="url(#pKiL)"/><g clip-path="url(#cki2)"><ellipse cx="366.9" cy="2308.9" rx="2.3" ry="1.9" fill="#a8402a" opacity="0.9"/><ellipse cx="354.4" cy="2335.1" rx="2.6" ry="2.3" fill="#94301c" opacity="0.9"/><ellipse cx="328.6" cy="2303.6" rx="3.6" ry="3.2" fill="#8c3418" opacity="0.9"/><ellipse cx="351.2" cy="2293.6" rx="3.5" ry="3.0" fill="#7ab0a4" opacity="0.9"/><ellipse cx="331.3" cy="2319.9" rx="3.4" ry="2.8" fill="#a8402a" opacity="0.9"/><ellipse cx="365.2" cy="2305.6" rx="3.4" ry="3.0" fill="#6fa8a0" opacity="0.9"/><ellipse cx="332.2" cy="2311.0" rx="2.4" ry="1.8" fill="#a8402a" opacity="0.9"/><ellipse cx="328.5" cy="2314.5" rx="3.1" ry="2.4" fill="#7ab0a4" opacity="0.9"/><ellipse cx="361.0" cy="2301.7" rx="2.9" ry="2.9" fill="#c9c46a" opacity="0.9"/><ellipse cx="330.8" cy="2330.0" rx="3.6" ry="3.5" fill="#b85038" opacity="0.9"/><ellipse cx="355.0" cy="2333.9" rx="3.2" ry="2.9" fill="#c9c46a" opacity="0.9"/><ellipse cx="343.5" cy="2328.7" rx="2.9" ry="2.8" fill="#6fa8a0" opacity="0.9"/><ellipse cx="329.2" cy="2334.2" rx="2.7" ry="2.5" fill="#6fa8a0" opacity="0.9"/><ellipse cx="327.7" cy="2309.5" rx="2.5" ry="2.0" fill="#c9c46a" opacity="0.9"/><ellipse cx="340.3" cy="2305.8" rx="2.6" ry="2.5" fill="#7ab0a4" opacity="0.9"/><ellipse cx="334.6" cy="2338.3" rx="3.4" ry="2.9" fill="#c9c46a" opacity="0.9"/><ellipse cx="323.9" cy="2314.6" rx="2.6" ry="2.0" fill="#6fa8a0" opacity="0.9"/><ellipse cx="319.4" cy="2313.7" rx="3.4" ry="3.2" fill="#7ab0a4" opacity="0.9"/><ellipse cx="342.3" cy="2317.4" rx="2.5" ry="2.3" fill="#94301c" opacity="0.9"/><ellipse cx="362.3" cy="2322.8" rx="3.0" ry="2.7" fill="#b85038" opacity="0.9"/><ellipse cx="362.2" cy="2304.5" rx="3.4" ry="2.6" fill="#8c3418" opacity="0.9"/><ellipse cx="349.3" cy="2338.2" rx="3.5" ry="3.2" fill="#6fa8a0" opacity="0.9"/><ellipse cx="357.6" cy="2320.7" rx="3.1" ry="2.3" fill="#8c3418" opacity="0.9"/><ellipse cx="347.3" cy="2314.4" rx="3.5" ry="2.8" fill="#c9c46a" opacity="0.9"/><ellipse cx="360.3" cy="2332.9" rx="2.5" ry="2.2" fill="#c9c46a" opacity="0.9"/><ellipse cx="339.6" cy="2318.9" rx="2.4" ry="1.7" fill="#8c3418" opacity="0.9"/><ellipse cx="332.6" cy="2331.8" rx="3.2" ry="2.6" fill="#c9c46a" opacity="0.9"/><ellipse cx="329.7" cy="2316.5" rx="3.3" ry="3.0" fill="#7ab0a4" opacity="0.9"/><ellipse cx="361.2" cy="2303.0" rx="3.1" ry="2.3" fill="#94301c" opacity="0.9"/><ellipse cx="350.9" cy="2313.5" rx="2.6" ry="1.9" fill="#c9c46a" opacity="0.9"/><ellipse cx="364.1" cy="2342.2" rx="2.9" ry="2.7" fill="#8c3418" opacity="0.9"/><ellipse cx="371.0" cy="2336.6" rx="3.5" ry="2.8" fill="#94301c" opacity="0.9"/><ellipse cx="372.3" cy="2326.8" rx="3.2" ry="3.1" fill="#a8402a" opacity="0.9"/><ellipse cx="378.3" cy="2325.9" rx="2.4" ry="1.8" fill="#8c3418" opacity="0.9"/><ellipse cx="373.2" cy="2323.8" rx="3.5" ry="3.5" fill="#c9c46a" opacity="0.9"/><ellipse cx="385.2" cy="2350.2" rx="2.3" ry="1.8" fill="#b85038" opacity="0.9"/><ellipse cx="388.0" cy="2318.8" rx="2.6" ry="2.1" fill="#b85038" opacity="0.9"/><ellipse cx="382.0" cy="2335.3" rx="2.7" ry="2.0" fill="#a8402a" opacity="0.9"/><ellipse cx="377.0" cy="2335.1" rx="2.3" ry="1.8" fill="#a8402a" opacity="0.9"/><ellipse cx="384.7" cy="2345.8" rx="3.1" ry="2.6" fill="#7ab0a4" opacity="0.9"/><ellipse cx="370.3" cy="2332.6" rx="3.5" ry="3.4" fill="#c9c46a" opacity="0.9"/><ellipse cx="381.6" cy="2321.2" rx="2.2" ry="2.0" fill="#7ab0a4" opacity="0.9"/><ellipse cx="399.1" cy="2321.2" rx="2.5" ry="1.8" fill="#7ab0a4" opacity="0.9"/><ellipse cx="387.9" cy="2323.0" rx="3.5" ry="2.6" fill="#7ab0a4" opacity="0.9"/><ellipse cx="371.3" cy="2349.2" rx="2.6" ry="2.5" fill="#b85038" opacity="0.9"/><ellipse cx="377.5" cy="2339.3" rx="3.4" ry="3.0" fill="#8c3418" opacity="0.9"/><ellipse cx="398.3" cy="2337.1" rx="3.1" ry="2.6" fill="#6fa8a0" opacity="0.9"/><ellipse cx="396.8" cy="2324.6" rx="2.6" ry="2.1" fill="#a8402a" opacity="0.9"/><ellipse cx="389.1" cy="2333.2" rx="2.9" ry="2.1" fill="#94301c" opacity="0.9"/><ellipse cx="370.5" cy="2348.9" rx="3.3" ry="2.7" fill="#8c3418" opacity="0.9"/><ellipse cx="389.1" cy="2340.9" rx="3.1" ry="2.5" fill="#a8402a" opacity="0.9"/><ellipse cx="375.7" cy="2342.0" rx="2.2" ry="2.0" fill="#a8402a" opacity="0.9"/><ellipse cx="426.5" cy="2325.5" rx="2.6" ry="2.6" fill="#6fa8a0" opacity="0.9"/><ellipse cx="431.3" cy="2351.8" rx="2.9" ry="2.5" fill="#6fa8a0" opacity="0.9"/><ellipse cx="440.8" cy="2337.3" rx="3.4" ry="2.7" fill="#6fa8a0" opacity="0.9"/><ellipse cx="425.2" cy="2356.2" rx="3.0" ry="2.7" fill="#b85038" opacity="0.9"/><ellipse cx="421.8" cy="2336.8" rx="3.3" ry="2.4" fill="#c9c46a" opacity="0.9"/><ellipse cx="411.3" cy="2358.0" rx="3.3" ry="3.2" fill="#8c3418" opacity="0.9"/><ellipse cx="429.3" cy="2324.1" rx="3.6" ry="3.2" fill="#c9c46a" opacity="0.9"/><ellipse cx="431.1" cy="2350.2" rx="3.2" ry="3.1" fill="#8c3418" opacity="0.9"/><ellipse cx="419.6" cy="2349.6" rx="2.4" ry="2.0" fill="#b85038" opacity="0.9"/><ellipse cx="440.1" cy="2336.9" rx="2.7" ry="2.1" fill="#a8402a" opacity="0.9"/><ellipse cx="415.4" cy="2341.6" rx="2.8" ry="2.6" fill="#8c3418" opacity="0.9"/><ellipse cx="407.2" cy="2353.6" rx="3.3" ry="3.0" fill="#94301c" opacity="0.9"/><ellipse cx="407.0" cy="2345.8" rx="3.0" ry="2.9" fill="#94301c" opacity="0.9"/><ellipse cx="429.6" cy="2355.2" rx="2.6" ry="2.0" fill="#6fa8a0" opacity="0.9"/><ellipse cx="422.1" cy="2329.5" rx="2.9" ry="2.8" fill="#c9c46a" opacity="0.9"/><ellipse cx="415.2" cy="2357.4" rx="2.3" ry="2.2" fill="#c9c46a" opacity="0.9"/><ellipse cx="421.4" cy="2327.9" rx="2.8" ry="2.5" fill="#8c3418" opacity="0.9"/><ellipse cx="439.4" cy="2340.0" rx="2.6" ry="2.3" fill="#a8402a" opacity="0.9"/><ellipse cx="435.0" cy="2334.7" rx="3.3" ry="2.4" fill="#8c3418" opacity="0.9"/><ellipse cx="439.6" cy="2336.3" rx="2.7" ry="2.1" fill="#7ab0a4" opacity="0.9"/><ellipse cx="435.9" cy="2340.2" rx="3.3" ry="2.5" fill="#7ab0a4" opacity="0.9"/><ellipse cx="423.0" cy="2327.0" rx="2.9" ry="2.5" fill="#8c3418" opacity="0.9"/><ellipse cx="413.4" cy="2376.7" rx="2.6" ry="2.2" fill="#6fa8a0" opacity="0.9"/><ellipse cx="388.0" cy="2377.7" rx="2.3" ry="1.6" fill="#94301c" opacity="0.9"/><ellipse cx="378.7" cy="2377.5" rx="2.3" ry="2.0" fill="#c9c46a" opacity="0.9"/><ellipse cx="414.0" cy="2367.1" rx="2.6" ry="2.2" fill="#6fa8a0" opacity="0.9"/><ellipse cx="402.5" cy="2376.8" rx="2.7" ry="2.5" fill="#94301c" opacity="0.9"/><ellipse cx="415.4" cy="2368.3" rx="3.1" ry="2.9" fill="#b85038" opacity="0.9"/><ellipse cx="401.7" cy="2370.3" rx="2.9" ry="2.9" fill="#8c3418" opacity="0.9"/><ellipse cx="393.3" cy="2368.7" rx="3.0" ry="3.0" fill="#b85038" opacity="0.9"/><ellipse cx="387.1" cy="2386.7" rx="3.0" ry="2.3" fill="#6fa8a0" opacity="0.9"/><ellipse cx="390.6" cy="2363.2" rx="2.9" ry="2.5" fill="#8c3418" opacity="0.9"/><ellipse cx="401.7" cy="2373.0" rx="2.6" ry="2.1" fill="#94301c" opacity="0.9"/><ellipse cx="407.5" cy="2372.2" rx="2.8" ry="2.6" fill="#c9c46a" opacity="0.9"/><ellipse cx="410.2" cy="2384.6" rx="3.0" ry="2.9" fill="#6fa8a0" opacity="0.9"/><ellipse cx="405.3" cy="2387.3" rx="2.6" ry="2.0" fill="#a8402a" opacity="0.9"/><ellipse cx="387.6" cy="2378.3" rx="2.3" ry="1.7" fill="#b85038" opacity="0.9"/><ellipse cx="388.9" cy="2360.0" rx="2.7" ry="2.2" fill="#94301c" opacity="0.9"/><ellipse cx="408.9" cy="2382.1" rx="2.9" ry="2.8" fill="#8c3418" opacity="0.9"/><ellipse cx="389.8" cy="2377.6" rx="2.8" ry="2.5" fill="#c9c46a" opacity="0.9"/><ellipse cx="437.5" cy="2285.3" rx="3.4" ry="2.9" fill="#a8402a" opacity="0.9"/><ellipse cx="430.5" cy="2275.8" rx="2.7" ry="2.5" fill="#8c3418" opacity="0.9"/><ellipse cx="431.6" cy="2301.2" rx="2.7" ry="2.6" fill="#c9c46a" opacity="0.9"/><ellipse cx="430.2" cy="2281.3" rx="3.5" ry="3.0" fill="#c9c46a" opacity="0.9"/><ellipse cx="425.3" cy="2276.0" rx="2.8" ry="2.5" fill="#c9c46a" opacity="0.9"/><ellipse cx="427.1" cy="2278.0" rx="2.6" ry="2.3" fill="#c9c46a" opacity="0.9"/><ellipse cx="426.2" cy="2281.2" rx="2.9" ry="2.2" fill="#6fa8a0" opacity="0.9"/><ellipse cx="437.8" cy="2283.3" rx="3.5" ry="2.6" fill="#a8402a" opacity="0.9"/><ellipse cx="362.0" cy="2381.2" rx="2.3" ry="1.8" fill="#a8402a" opacity="0.9"/><ellipse cx="369.3" cy="2389.0" rx="3.3" ry="2.7" fill="#c9c46a" opacity="0.9"/><ellipse cx="349.8" cy="2380.6" rx="3.0" ry="2.6" fill="#94301c" opacity="0.9"/><ellipse cx="342.9" cy="2385.3" rx="2.6" ry="2.6" fill="#b85038" opacity="0.9"/><ellipse cx="361.5" cy="2385.7" rx="2.7" ry="2.0" fill="#8c3418" opacity="0.9"/><ellipse cx="354.0" cy="2385.9" rx="2.5" ry="2.0" fill="#8c3418" opacity="0.9"/><ellipse cx="350.2" cy="2376.9" rx="3.1" ry="2.7" fill="#b85038" opacity="0.9"/><ellipse cx="360.9" cy="2377.7" rx="2.8" ry="2.6" fill="#a8402a" opacity="0.9"/><ellipse cx="364.1" cy="2390.5" rx="2.4" ry="2.1" fill="#94301c" opacity="0.9"/><ellipse cx="353.3" cy="2368.3" rx="3.6" ry="2.9" fill="#8c3418" opacity="0.9"/></g>
<clipPath id="cmem1"><rect x="571.6" y="2268.6" width="136.8" height="137.7"/></clipPath><rect x="571.6" y="2268.6" width="136.8" height="137.7" fill="url(#pMv2)"/><g clip-path="url(#cmem1)"><path d="M571.6,2268.6 C577.3,2263.1 622.9,2265.8 629.1,2268.6 C635.2,2271.4 633.7,2291.3 633.2,2296.1 C632.6,2301.0 627.0,2314.3 623.6,2316.8 C620.2,2319.3 604.2,2320.2 599.0,2320.9 C593.8,2321.6 574.3,2328.9 571.6,2323.7 C568.9,2318.4 565.9,2274.1 571.6,2268.6 Z" fill="url(#pMv)"/><path d="M637.3,2268.6 C644.8,2265.2 701.3,2257.6 708.4,2268.6 C715.5,2279.6 711.1,2368.4 708.4,2378.8 C705.7,2389.1 685.8,2374.6 681.0,2371.9 C676.3,2369.1 663.9,2355.4 660.5,2351.2 C657.1,2347.1 649.6,2335.4 646.8,2330.6 C644.1,2325.7 634.1,2309.2 633.2,2303.0 C632.2,2296.8 629.7,2272.0 637.3,2268.6 Z" fill="url(#pMv)"/><path d="M571.6,2351.2 C575.0,2346.0 599.0,2351.9 605.8,2354.0 C612.6,2356.0 635.2,2366.6 640.0,2371.9 C644.8,2377.1 660.5,2402.9 653.7,2406.3 C646.8,2409.7 579.8,2411.8 571.6,2406.3 C563.4,2400.8 568.2,2356.5 571.6,2351.2 Z" fill="url(#pMv)"/><ellipse cx="680.9" cy="2313.5" rx="2.1" ry="2.3" fill="#6a68d2" opacity="0.85"/><ellipse cx="647.9" cy="2352.8" rx="2.0" ry="2.1" fill="#6a68d2" opacity="0.85"/><ellipse cx="575.5" cy="2400.4" rx="2.0" ry="2.3" fill="#6a68d2" opacity="0.85"/><ellipse cx="583.5" cy="2375.8" rx="2.4" ry="1.7" fill="#6a68d2" opacity="0.85"/><ellipse cx="631.5" cy="2365.6" rx="1.9" ry="2.3" fill="#6a68d2" opacity="0.85"/><ellipse cx="582.5" cy="2376.2" rx="2.4" ry="1.6" fill="#6a68d2" opacity="0.85"/><ellipse cx="632.4" cy="2375.6" rx="2.5" ry="1.6" fill="#6a68d2" opacity="0.85"/><ellipse cx="699.8" cy="2276.4" rx="2.8" ry="2.5" fill="#6a68d2" opacity="0.85"/><ellipse cx="676.7" cy="2321.5" rx="2.9" ry="1.5" fill="#6a68d2" opacity="0.85"/><ellipse cx="620.6" cy="2404.8" rx="1.9" ry="2.5" fill="#6a68d2" opacity="0.85"/><ellipse cx="695.4" cy="2363.4" rx="1.9" ry="2.0" fill="#6a68d2" opacity="0.85"/><ellipse cx="666.3" cy="2281.7" rx="2.2" ry="1.6" fill="#6a68d2" opacity="0.85"/><ellipse cx="650.3" cy="2277.2" rx="2.4" ry="2.3" fill="#6a68d2" opacity="0.85"/><ellipse cx="675.0" cy="2272.3" rx="1.8" ry="1.6" fill="#6a68d2" opacity="0.85"/><ellipse cx="698.0" cy="2284.2" rx="2.3" ry="2.0" fill="#6a68d2" opacity="0.85"/><ellipse cx="692.5" cy="2287.3" rx="2.1" ry="2.3" fill="#6a68d2" opacity="0.85"/><ellipse cx="575.0" cy="2400.6" rx="2.1" ry="2.0" fill="#6a68d2" opacity="0.85"/><ellipse cx="623.5" cy="2403.8" rx="2.7" ry="2.1" fill="#6a68d2" opacity="0.85"/><ellipse cx="686.4" cy="2282.8" rx="2.5" ry="1.8" fill="#6a68d2" opacity="0.85"/><ellipse cx="691.7" cy="2338.9" rx="2.6" ry="2.3" fill="#6a68d2" opacity="0.85"/><ellipse cx="594.2" cy="2399.6" rx="2.3" ry="2.0" fill="#6a68d2" opacity="0.85"/><ellipse cx="676.7" cy="2295.3" rx="2.8" ry="1.9" fill="#6a68d2" opacity="0.85"/><ellipse cx="605.9" cy="2387.6" rx="2.8" ry="2.4" fill="#6a68d2" opacity="0.85"/><ellipse cx="615.9" cy="2394.4" rx="2.7" ry="2.5" fill="#6a68d2" opacity="0.85"/><ellipse cx="678.5" cy="2340.8" rx="2.4" ry="1.9" fill="#6a68d2" opacity="0.85"/><ellipse cx="690.4" cy="2320.7" rx="2.7" ry="2.1" fill="#6a68d2" opacity="0.85"/><ellipse cx="668.3" cy="2311.2" rx="1.9" ry="2.2" fill="#6a68d2" opacity="0.85"/><ellipse cx="678.5" cy="2275.3" rx="2.9" ry="2.1" fill="#6a68d2" opacity="0.85"/><ellipse cx="648.3" cy="2361.8" rx="1.9" ry="1.5" fill="#6a68d2" opacity="0.85"/><ellipse cx="670.2" cy="2349.4" rx="2.6" ry="2.3" fill="#6a68d2" opacity="0.85"/><ellipse cx="704.1" cy="2276.9" rx="2.4" ry="2.1" fill="#6a68d2" opacity="0.85"/><ellipse cx="702.3" cy="2280.5" rx="2.6" ry="1.6" fill="#6a68d2" opacity="0.85"/><ellipse cx="687.7" cy="2275.1" rx="2.7" ry="1.6" fill="#6a68d2" opacity="0.85"/><ellipse cx="627.0" cy="2403.7" rx="2.8" ry="1.6" fill="#6a68d2" opacity="0.85"/><ellipse cx="678.4" cy="2273.9" rx="2.7" ry="2.3" fill="#6a68d2" opacity="0.85"/><ellipse cx="707.1" cy="2322.0" rx="2.7" ry="1.7" fill="#6a68d2" opacity="0.85"/><ellipse cx="676.9" cy="2313.0" rx="2.4" ry="1.7" fill="#6a68d2" opacity="0.85"/></g>
<clipPath id="cmem"><rect x="733" y="2268.6" width="136.8" height="136.8"/></clipPath><rect x="733" y="2268.6" width="136.8" height="136.8" fill="url(#pBG)"/><g clip-path="url(#cmem)"><path d="M807.0,2269.8 C814.8,2269.1 861.4,2266.7 869.8,2269.8 C878.2,2272.9 871.2,2289.6 869.8,2293.1 C868.4,2296.6 862.4,2296.6 859.7,2296.2 C857.0,2295.8 851.6,2291.7 849.5,2290.1 C847.5,2288.5 845.8,2283.6 844.5,2284.0 C843.1,2284.4 840.8,2291.6 839.4,2293.1 C838.0,2294.6 836.0,2295.8 834.3,2295.1 C832.7,2294.5 829.3,2290.1 827.2,2288.1 C825.2,2286.0 821.3,2281.7 819.1,2279.9 C817.0,2278.2 812.6,2276.2 811.0,2274.9 C809.4,2273.5 799.1,2270.5 807.0,2269.8 Z" fill="url(#pBrP)"/><path d="M784.7,2292.1 C785.6,2290.4 791.2,2289.0 793.8,2290.1 C796.4,2291.2 800.6,2297.5 803.9,2300.2 C807.3,2302.9 815.1,2307.9 819.1,2310.3 C823.2,2312.8 831.5,2316.3 834.3,2318.5 C837.2,2320.6 840.0,2324.4 840.4,2326.6 C840.8,2328.7 839.5,2333.3 837.4,2334.7 C835.2,2336.0 828.0,2337.0 824.2,2336.7 C820.4,2336.4 812.0,2334.3 809.0,2332.6 C806.0,2331.0 803.9,2327.1 801.9,2324.5 C799.9,2322.0 795.8,2316.2 793.8,2313.4 C791.8,2310.6 787.9,2306.1 786.7,2303.3 C785.5,2300.4 783.7,2293.9 784.7,2292.1 Z" fill="url(#pBrP)"/><path d="M738.1,2328.6 C739.4,2326.8 745.1,2322.6 748.2,2321.5 C751.3,2320.4 758.4,2321.2 761.4,2320.5 C764.3,2319.8 768.9,2318.3 770.5,2316.4 C772.1,2314.5 772.2,2307.4 773.5,2306.3 C774.9,2305.2 778.6,2306.7 780.6,2308.3 C782.7,2309.9 786.6,2315.8 788.7,2318.5 C790.9,2321.2 795.2,2325.9 796.8,2328.6 C798.5,2331.3 800.1,2336.0 800.9,2338.7 C801.7,2341.4 801.2,2347.1 802.9,2348.9 C804.7,2350.6 811.2,2350.8 814.1,2351.9 C816.9,2353.0 823.5,2355.3 824.2,2357.0 C824.9,2358.6 821.2,2362.7 819.1,2364.1 C817.1,2365.4 811.4,2367.4 809.0,2367.1 C806.6,2366.8 802.2,2361.5 800.9,2362.0 C799.5,2362.6 799.8,2369.1 798.9,2371.1 C797.9,2373.2 793.8,2375.3 793.8,2377.2 C793.8,2379.1 796.8,2383.4 798.9,2385.3 C800.9,2387.2 808.3,2389.5 809.0,2391.4 C809.7,2393.3 808.0,2397.6 803.9,2399.5 C799.9,2401.4 788.1,2404.8 778.6,2405.6 C769.1,2406.4 739.1,2408.4 733.0,2405.6 C726.9,2402.8 732.3,2388.5 733.0,2384.3 C733.7,2380.1 736.3,2377.3 738.1,2374.2 C739.8,2371.1 743.5,2363.0 746.2,2361.0 C748.9,2359.0 755.6,2359.5 758.3,2359.0 C761.0,2358.4 767.1,2358.3 766.4,2357.0 C765.8,2355.6 756.4,2351.0 753.3,2348.9 C750.2,2346.7 745.2,2342.6 743.1,2340.7 C741.1,2338.9 738.7,2336.3 738.1,2334.7 C737.4,2333.0 736.7,2330.3 738.1,2328.6 Z" fill="url(#pBrP)"/><path d="M859.7,2306.3 C861.3,2304.7 868.4,2294.8 869.8,2304.3 C871.2,2313.7 871.2,2368.3 869.8,2377.2 C868.4,2386.1 862.4,2372.5 859.7,2371.1 C857.0,2369.8 851.6,2368.7 849.5,2367.1 C847.5,2365.5 846.1,2360.7 844.5,2359.0 C842.8,2357.2 838.7,2355.9 837.4,2353.9 C836.0,2351.9 834.1,2346.5 834.3,2343.8 C834.6,2341.1 837.4,2336.2 839.4,2333.7 C841.4,2331.1 847.1,2326.8 849.5,2324.5 C852.0,2322.2 856.3,2318.9 857.6,2316.4 C859.0,2314.0 858.0,2307.9 859.7,2306.3 Z" fill="url(#pBrP)"/><path d="M824.2,2405.6 C819.5,2404.5 831.6,2398.3 834.3,2397.5 C837.0,2396.7 841.8,2400.1 844.5,2399.5 C847.2,2399.0 851.9,2393.7 854.6,2393.4 C857.3,2393.2 862.7,2396.7 864.7,2397.5 C866.8,2398.3 869.1,2398.4 869.8,2399.5 C870.5,2400.6 875.9,2404.8 869.8,2405.6 C863.7,2406.4 828.9,2406.7 824.2,2405.6 Z" fill="url(#pBrP)"/><path d="M746.2,2285.0 C747.1,2284.2 752.3,2282.6 754.3,2283.0 C756.3,2283.4 760.2,2286.3 761.4,2288.1 C762.6,2289.8 763.8,2294.8 763.4,2296.2 C763.0,2297.5 759.5,2298.7 758.3,2298.2 C757.1,2297.6 755.8,2293.3 754.3,2292.1 C752.8,2290.9 748.3,2290.0 747.2,2289.1 C746.1,2288.1 745.2,2285.8 746.2,2285.0 Z" fill="url(#pBrP)"/><path d="M733.0,2359.0 C734.1,2357.0 740.0,2360.0 741.1,2362.0 C742.2,2364.1 742.2,2372.2 741.1,2374.2 C740.0,2376.2 734.1,2379.3 733.0,2377.2 C731.9,2375.2 731.9,2361.0 733.0,2359.0 Z" fill="url(#pBrP)"/></g><rect x="733" y="2268.6" width="136.8" height="136.8" fill="none" stroke="none" stroke-width="1.4"/>
<text x="212.3" y="2433.8" font-size="22.44" font-weight="bold" font-style="normal" fill="#000" stroke="#000" stroke-width="0.72" stroke-linejoin="round" textLength="207.7" lengthAdjust="spacingAndGlyphs">NUCLEAR STAINS</text>
<text x="285.1" y="2462.7" font-size="19.39" font-weight="bold" font-style="italic" fill="#000" stroke="#000" stroke-width="0.62" stroke-linejoin="round" textLength="65.6" lengthAdjust="spacingAndGlyphs">(KI67)</text>
<text x="613.8" y="2433.8" font-size="22.44" font-weight="bold" font-style="normal" fill="#000" stroke="#000" stroke-width="0.72" stroke-linejoin="round" textLength="231.0" lengthAdjust="spacingAndGlyphs">MEMBRANE STAINS</text>
<text x="690.4" y="2462.7" font-size="19.39" font-weight="bold" font-style="italic" fill="#000" stroke="#000" stroke-width="0.62" stroke-linejoin="round" textLength="79.9" lengthAdjust="spacingAndGlyphs">(HER2)</text>
<text x="438.9" y="2701.7" font-size="58.00" font-weight="normal" font-style="normal" fill="#000" textLength="63.2" lengthAdjust="spacingAndGlyphs">(c)</text>
<rect x="1421" y="1812.5" width="882.5" height="752.0999999999999" rx="100" fill="none" stroke="#9673a6" stroke-width="2.8" stroke-dasharray="9.2 6.8"/>
<rect x="1555" y="1755.8" width="614" height="98.20000000000005" rx="15" fill="#e1d5e7" stroke="#9673a6" stroke-width="2.8" stroke-dasharray="9 7"/>
<text x="1646.7" y="1815.9" font-size="35.46" font-weight="bold" font-style="normal" fill="#9673a6" stroke="#9673a6" stroke-width="1.13" stroke-linejoin="round" textLength="430.1" lengthAdjust="spacingAndGlyphs">RESULTS COMBINATION</text>
<text x="1567.1" y="2034.7" font-size="14.40" font-weight="bold" font-style="normal" fill="#000" stroke="#000" stroke-width="0.46" stroke-linejoin="round" textLength="82.5" lengthAdjust="spacingAndGlyphs">TILE LEVEL</text>
<text x="1554.2" y="2053.1" font-size="14.68" font-weight="bold" font-style="normal" fill="#000" stroke="#000" stroke-width="0.47" stroke-linejoin="round" textLength="108.2" lengthAdjust="spacingAndGlyphs">SEG. &amp; CLASS.</text>
<rect x="1534.9" y="2066.7" width="196.6" height="196.6" fill="url(#pWC)" stroke="#333" stroke-width="1.4"/><rect x="1518.6" y="2083.0" width="196.6" height="196.6" fill="url(#pBPG)" stroke="#333" stroke-width="1.4"/><rect x="1502.3" y="2099.2999999999997" width="196.6" height="196.6" fill="url(#pCy)" stroke="#333" stroke-width="1.4"/><clipPath id="cr1486"><rect x="1486" y="2115.6" width="196.6" height="196.6"/></clipPath><rect x="1486" y="2115.6" width="196.6" height="196.6" fill="url(#pBG)"/><g clip-path="url(#cr1486)"><path d="M1592.3,2117.3 C1603.6,2116.4 1670.6,2112.9 1682.6,2117.3 C1694.6,2121.8 1684.5,2145.8 1682.6,2150.8 C1680.7,2155.9 1671.9,2155.8 1668.0,2155.2 C1664.2,2154.6 1656.4,2148.8 1653.5,2146.5 C1650.6,2144.1 1648.1,2137.2 1646.2,2137.7 C1644.3,2138.3 1640.9,2148.7 1638.9,2150.8 C1637.0,2153.0 1634.0,2154.7 1631.6,2153.8 C1629.3,2152.8 1624.3,2146.5 1621.4,2143.6 C1618.5,2140.6 1612.9,2134.4 1609.8,2131.9 C1606.7,2129.4 1600.5,2126.6 1598.1,2124.6 C1595.8,2122.7 1581.0,2118.3 1592.3,2117.3 Z" fill="url(#pBrP)"/><path d="M1560.3,2149.4 C1561.6,2146.9 1569.7,2144.9 1573.4,2146.5 C1577.1,2148.0 1583.1,2157.2 1587.9,2161.0 C1592.8,2164.9 1604.0,2172.1 1609.8,2175.6 C1615.6,2179.1 1627.6,2184.1 1631.6,2187.2 C1635.7,2190.4 1639.8,2195.8 1640.4,2198.9 C1640.9,2202.0 1639.1,2208.6 1636.0,2210.6 C1632.9,2212.5 1622.5,2213.9 1617.1,2213.5 C1611.6,2213.1 1599.5,2210.0 1595.2,2207.6 C1591.0,2205.3 1587.9,2199.7 1585.0,2196.0 C1582.1,2192.3 1576.3,2184.0 1573.4,2180.0 C1570.5,2175.9 1564.9,2169.5 1563.2,2165.4 C1561.4,2161.3 1558.9,2151.9 1560.3,2149.4 Z" fill="url(#pBrP)"/><path d="M1493.3,2201.8 C1495.2,2199.3 1503.4,2193.2 1507.8,2191.6 C1512.3,2190.1 1522.5,2191.1 1526.8,2190.2 C1531.0,2189.2 1537.6,2187.1 1539.9,2184.3 C1542.2,2181.6 1542.3,2171.3 1544.3,2169.8 C1546.2,2168.2 1551.5,2170.4 1554.4,2172.7 C1557.4,2175.0 1563.0,2183.4 1566.1,2187.2 C1569.2,2191.1 1575.4,2197.9 1577.7,2201.8 C1580.1,2205.7 1582.4,2212.5 1583.6,2216.4 C1584.7,2220.3 1584.0,2228.4 1586.5,2230.9 C1589.0,2233.5 1598.4,2233.8 1602.5,2235.3 C1606.6,2236.9 1616.1,2240.3 1617.1,2242.6 C1618.0,2244.9 1612.7,2250.8 1609.8,2252.8 C1606.9,2254.7 1598.7,2257.5 1595.2,2257.2 C1591.7,2256.8 1585.5,2249.1 1583.6,2249.9 C1581.6,2250.6 1582.0,2260.1 1580.7,2263.0 C1579.3,2265.9 1573.4,2269.0 1573.4,2271.7 C1573.4,2274.4 1577.7,2280.6 1580.7,2283.4 C1583.6,2286.1 1594.3,2289.4 1595.2,2292.1 C1596.2,2294.8 1593.8,2301.0 1587.9,2303.8 C1582.1,2306.5 1565.1,2311.3 1551.5,2312.5 C1537.9,2313.7 1494.7,2316.6 1486.0,2312.5 C1477.3,2308.4 1485.0,2287.9 1486.0,2281.9 C1487.0,2275.9 1490.8,2271.8 1493.3,2267.3 C1495.8,2262.9 1501.0,2251.3 1504.9,2248.4 C1508.8,2245.5 1518.5,2246.3 1522.4,2245.5 C1526.3,2244.7 1535.0,2244.5 1534.1,2242.6 C1533.1,2240.6 1519.6,2234.0 1515.1,2230.9 C1510.7,2227.8 1503.5,2222.0 1500.6,2219.3 C1497.7,2216.6 1494.3,2212.9 1493.3,2210.6 C1492.3,2208.2 1491.3,2204.3 1493.3,2201.8 Z" fill="url(#pBrP)"/><path d="M1668.0,2169.8 C1670.4,2167.4 1680.7,2153.3 1682.6,2166.9 C1684.5,2180.5 1684.5,2258.9 1682.6,2271.7 C1680.7,2284.5 1671.9,2264.9 1668.0,2263.0 C1664.2,2261.0 1656.4,2259.5 1653.5,2257.2 C1650.6,2254.8 1648.5,2248.0 1646.2,2245.5 C1643.9,2243.0 1637.9,2241.1 1636.0,2238.2 C1634.1,2235.3 1631.2,2227.5 1631.6,2223.7 C1632.0,2219.8 1636.0,2212.8 1638.9,2209.1 C1641.8,2205.4 1650.0,2199.3 1653.5,2196.0 C1657.0,2192.7 1663.2,2187.8 1665.1,2184.3 C1667.1,2180.8 1665.7,2172.1 1668.0,2169.8 Z" fill="url(#pBrP)"/><path d="M1617.1,2312.5 C1610.3,2310.9 1627.7,2302.0 1631.6,2300.8 C1635.5,2299.7 1642.3,2304.5 1646.2,2303.8 C1650.1,2303.0 1656.9,2295.4 1660.8,2295.0 C1664.6,2294.6 1672.4,2299.7 1675.3,2300.8 C1678.2,2302.0 1681.6,2302.2 1682.6,2303.8 C1683.6,2305.3 1691.3,2311.3 1682.6,2312.5 C1673.9,2313.7 1623.9,2314.0 1617.1,2312.5 Z" fill="url(#pBrP)"/><path d="M1504.9,2139.2 C1506.3,2138.0 1513.7,2135.7 1516.6,2136.3 C1519.5,2136.9 1525.0,2141.0 1526.8,2143.6 C1528.5,2146.1 1530.3,2153.3 1529.7,2155.2 C1529.1,2157.2 1524.2,2158.9 1522.4,2158.1 C1520.7,2157.3 1518.7,2151.1 1516.6,2149.4 C1514.4,2147.6 1507.9,2146.4 1506.4,2145.0 C1504.8,2143.7 1503.6,2140.4 1504.9,2139.2 Z" fill="url(#pBrP)"/><path d="M1486.0,2245.5 C1487.6,2242.6 1496.1,2247.0 1497.7,2249.9 C1499.2,2252.8 1499.2,2264.4 1497.7,2267.3 C1496.1,2270.3 1487.6,2274.6 1486.0,2271.7 C1484.4,2268.8 1484.4,2248.4 1486.0,2245.5 Z" fill="url(#pBrP)"/></g><rect x="1486" y="2115.6" width="196.6" height="196.6" fill="none" stroke="#333" stroke-width="1.4"/>
<line x1="1731.7" y1="2185" x2="1805.4" y2="2185" stroke="#111" stroke-width="1.2"/>
<path d="M1811,2185 L1804,2181.85 L1805.75,2185 L1804,2188.15 Z" fill="#111"/>
<path d="M1811.5,2131.6 L1921.2,2147.6 L1921.2,2222.8 L1811.5,2237.6 Z" fill="#d5e8d4" stroke="#82b366" stroke-width="1"/>
<text x="1822.8" y="2190.9" font-size="19.94" font-weight="bold" font-style="normal" fill="#6a9a57" stroke="#6a9a57" stroke-width="0.64" stroke-linejoin="round" textLength="88.0" lengthAdjust="spacingAndGlyphs">COMBINE</text>
<line x1="1921.2" y1="2185" x2="1994.8000000000002" y2="2185" stroke="#111" stroke-width="1.2"/>
<path d="M2000.4,2185 L1993.4,2181.85 L1995.15,2185 L1993.4,2188.15 Z" fill="#111"/>
<text x="2100.2" y="1903.6" font-size="13.57" font-weight="bold" font-style="normal" fill="#000" stroke="#000" stroke-width="0.43" stroke-linejoin="round" textLength="78.0" lengthAdjust="spacingAndGlyphs">WSI LEVEL</text>
<text x="2085.3" y="1922.7" font-size="15.65" font-weight="bold" font-style="normal" fill="#000" stroke="#000" stroke-width="0.50" stroke-linejoin="round" textLength="108.0" lengthAdjust="spacingAndGlyphs">SEG. &amp; CLASS.</text>
<use href="#wsiL" transform="translate(2089.3,1990.3) scale(0.93820,0.93097) translate(-2136.2,-1128.7)"/>
<text x="1805.7" y="2700.4" font-size="58.00" font-weight="normal" font-style="normal" fill="#000" textLength="69.7" lengthAdjust="spacingAndGlyphs">(d)</text>
</svg></body></html>
